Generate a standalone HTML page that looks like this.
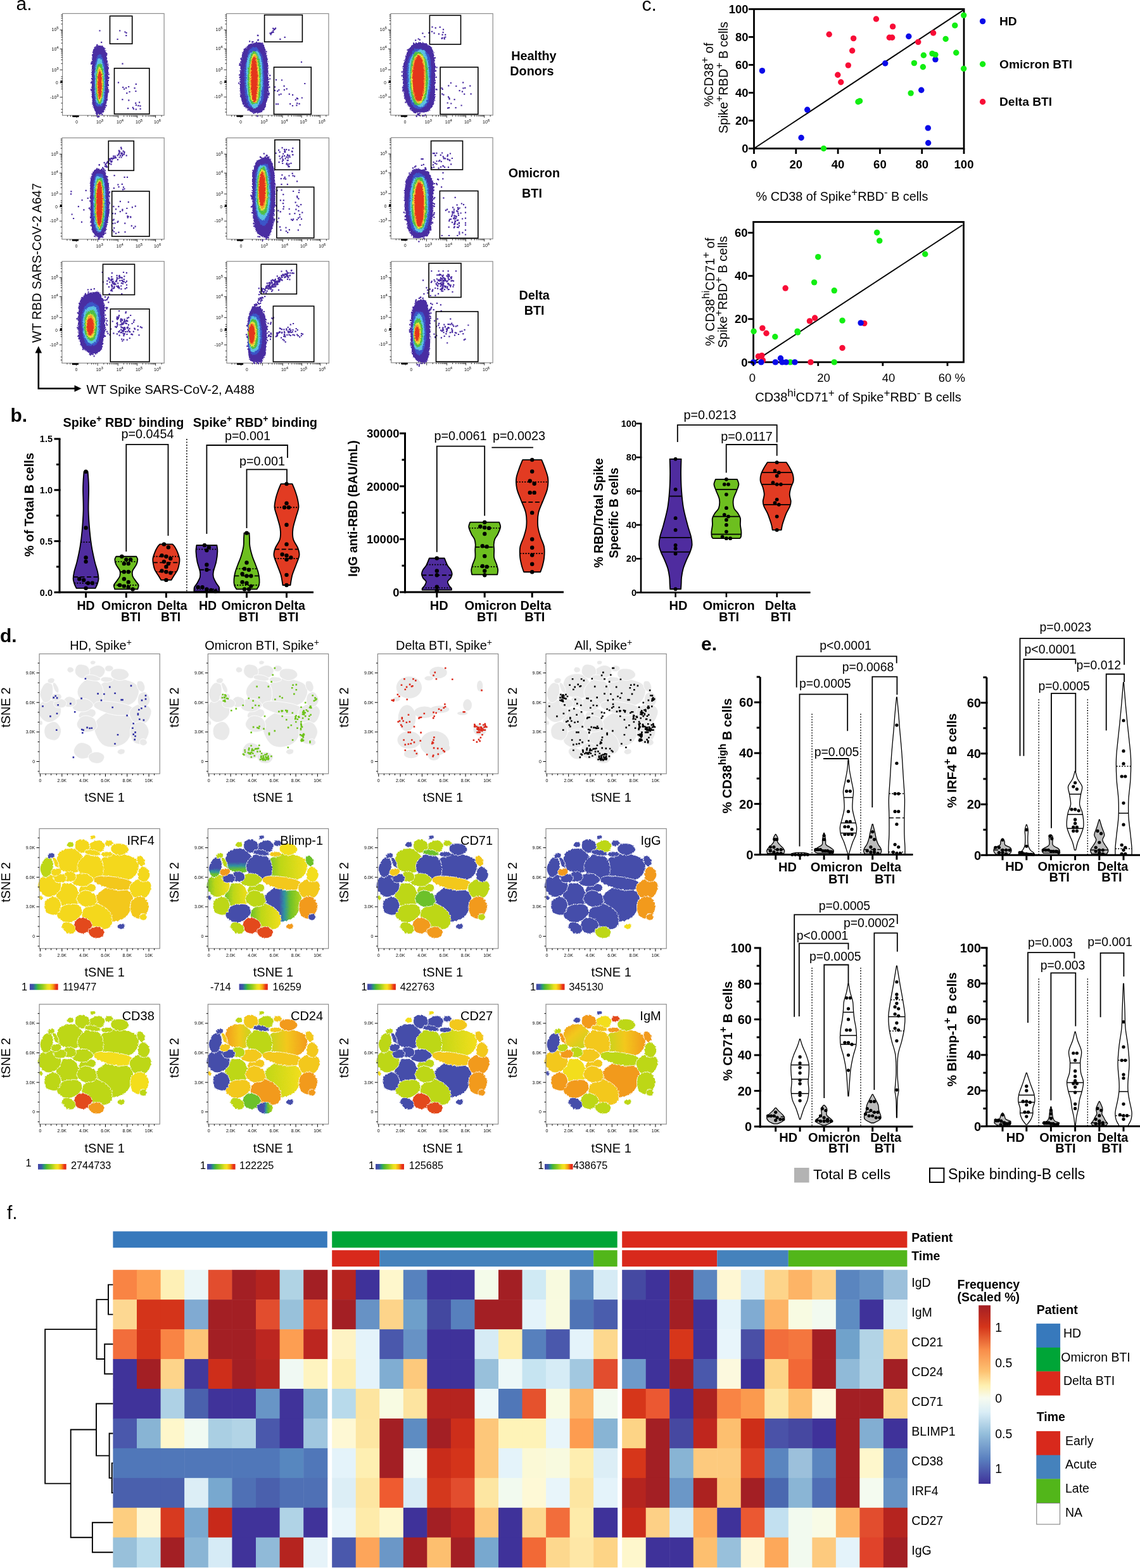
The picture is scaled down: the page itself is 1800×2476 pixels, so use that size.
<!DOCTYPE html><html><head><meta charset="utf-8"><title>Figure</title><style>html,body{margin:0;padding:0;background:#fff}svg{display:block}</style></head><body><svg width="1800" height="2476" viewBox="0 0 1800 2476" font-family="Liberation Sans, Arial, sans-serif"><defs><path id="k35" d="M89.21 92.91C89.27 93.83 89.19 94.8 88.75 95.71C88.31 96.61 87.45 97.52 86.56 98.34C85.67 99.16 84.57 99.89 83.41 100.6C82.24 101.32 80.99 102.11 79.56 102.62C78.13 103.14 76.36 103.58 74.81 103.69C73.26 103.79 71.66 103.53 70.26 103.27C68.86 103 67.6 102.58 66.43 102.09C65.26 101.6 64 101.06 63.25 100.34C62.5 99.61 62.02 98.64 61.95 97.72C61.87 96.8 62.33 95.77 62.8 94.84C63.28 93.9 63.94 92.96 64.82 92.12C65.69 91.29 66.82 90.44 68.07 89.81C69.32 89.18 70.86 88.74 72.31 88.34C73.77 87.95 75.23 87.65 76.78 87.42C78.33 87.19 80.09 86.87 81.63 86.96C83.16 87.04 84.86 87.37 85.98 87.91C87.11 88.46 87.84 89.39 88.38 90.22C88.92 91.06 89.15 92 89.21 92.91Z"/><path id="k23" d="M147.62 118.31C147.04 121.63 145.7 124.68 144.4 127.66C143.1 130.65 141.85 133.69 139.83 136.21C137.81 138.73 135.15 141.1 132.28 142.78C129.42 144.46 126.01 145.52 122.65 146.29C119.28 147.05 115.6 147.7 112.1 147.39C108.6 147.09 104.65 146.2 101.64 144.48C98.64 142.75 96.11 139.79 94.07 137.05C92.02 134.32 90.62 131.2 89.37 128.07C88.13 124.95 86.76 121.62 86.6 118.31C86.44 115 87.02 111.23 88.41 108.22C89.8 105.21 92.5 102.57 94.93 100.26C97.36 97.96 100.11 96.04 103.01 94.41C105.91 92.77 109.05 91.14 112.33 90.45C115.6 89.75 119.27 89.78 122.67 90.22C126.06 90.67 129.47 91.74 132.71 93.14C135.95 94.54 139.56 96.17 142.09 98.61C144.61 101.05 146.94 104.48 147.87 107.76C148.79 111.04 148.2 115 147.62 118.31Z"/><path id="k10b" d="M157.14 61.02C156.87 63.73 155.99 66.41 154.75 68.93C153.5 71.45 152 74.13 149.68 76.15C147.37 78.18 144.07 79.92 140.84 81.1C137.61 82.28 133.87 82.83 130.31 83.24C126.75 83.64 123.01 83.91 119.49 83.51C115.98 83.11 112.21 82.21 109.23 80.85C106.25 79.48 103.84 77.31 101.6 75.29C99.35 73.28 97.42 71.14 95.77 68.76C94.11 66.38 92.09 63.72 91.65 61.02C91.21 58.33 91.71 55.11 93.12 52.59C94.54 50.06 97.45 47.76 100.14 45.86C102.83 43.97 106 42.39 109.24 41.22C112.48 40.05 116.09 39.14 119.57 38.86C123.05 38.59 126.71 39.06 130.13 39.57C133.54 40.09 136.78 40.9 140.06 41.94C143.34 42.98 147.09 44.03 149.8 45.82C152.51 47.62 155.1 50.17 156.32 52.7C157.54 55.24 157.4 58.32 157.14 61.02Z"/><path id="k9" d="M72.53 55.19C72.29 57.27 71.16 59.4 69.89 61.21C68.62 63.03 66.86 64.68 64.92 66.08C62.98 67.48 60.73 68.92 58.24 69.63C55.75 70.35 52.71 70.58 49.98 70.39C47.25 70.21 44.45 69.38 41.84 68.53C39.22 67.67 36.53 66.68 34.29 65.27C32.06 63.86 29.74 62.02 28.45 60.05C27.15 58.08 26.73 55.59 26.53 53.44C26.33 51.3 26.85 49.25 27.25 47.21C27.64 45.17 27.94 43.09 28.91 41.2C29.89 39.31 31.26 37.31 33.11 35.88C34.96 34.44 37.5 33.35 40.01 32.57C42.53 31.79 45.4 31.22 48.2 31.21C51.01 31.2 54.24 31.55 56.81 32.53C59.39 33.52 61.78 35.4 63.63 37.12C65.49 38.84 66.66 40.93 67.94 42.86C69.22 44.8 70.57 46.66 71.33 48.71C72.1 50.77 72.77 53.11 72.53 55.19Z"/><path id="k10a" d="M101.14 61.02C101.26 63.51 101.41 66.14 100.89 68.63C100.37 71.12 99.51 73.99 98.01 75.96C96.51 77.93 94.07 79.47 91.88 80.46C89.68 81.44 87.15 81.67 84.85 81.86C82.54 82.05 80.23 82.06 78.05 81.58C75.87 81.11 73.65 80.22 71.75 79.01C69.85 77.8 68.22 76.08 66.66 74.32C65.1 72.56 63.49 70.68 62.38 68.47C61.27 66.25 60.11 63.55 60 61.02C59.88 58.5 60.66 55.61 61.68 53.31C62.69 51.01 64.47 49.04 66.08 47.2C67.7 45.37 69.4 43.6 71.36 42.32C73.33 41.04 75.64 39.87 77.89 39.5C80.14 39.13 82.64 39.54 84.86 40.09C87.09 40.64 89.24 41.61 91.23 42.79C93.22 43.97 95.31 45.36 96.8 47.18C98.28 49 99.43 51.4 100.15 53.71C100.87 56.02 101.01 58.54 101.14 61.02Z"/><path id="k20" d="M64.15 105.86C64.52 108.18 64.82 110.97 64.21 113.26C63.61 115.54 62.09 117.86 60.52 119.57C58.96 121.28 56.8 122.49 54.82 123.5C52.83 124.52 50.71 125.34 48.61 125.64C46.5 125.93 44.22 125.79 42.2 125.26C40.18 124.73 38.3 123.58 36.49 122.46C34.68 121.35 32.88 120.14 31.35 118.55C29.82 116.97 28.12 115.08 27.28 112.96C26.44 110.85 26.2 108.18 26.32 105.86C26.43 103.54 27.22 101.22 27.97 99.02C28.72 96.82 29.53 94.57 30.8 92.66C32.07 90.76 33.73 88.77 35.61 87.61C37.49 86.44 39.91 85.91 42.08 85.68C44.24 85.45 46.5 85.74 48.58 86.23C50.67 86.72 52.84 87.42 54.6 88.62C56.36 89.81 57.93 91.59 59.16 93.38C60.39 95.16 61.16 97.25 61.99 99.33C62.83 101.41 63.78 103.54 64.15 105.86Z"/><path id="k16" d="M33.29 95.9C32.54 97.66 31.28 99.29 29.95 100.68C28.63 102.07 27.01 103.15 25.33 104.24C23.65 105.32 21.9 106.58 19.88 107.19C17.86 107.81 15.36 108.29 13.2 107.94C11.04 107.6 8.77 106.36 6.95 105.13C5.12 103.89 3.62 102.18 2.26 100.53C0.91 98.89 -0.43 97.13 -1.2 95.25C-1.97 93.36 -2.42 91.18 -2.37 89.22C-2.33 87.25 -1.64 85.27 -0.93 83.45C-0.21 81.63 0.69 79.83 1.91 78.29C3.14 76.76 4.67 75.17 6.44 74.23C8.22 73.29 10.48 72.88 12.55 72.66C14.62 72.45 16.74 72.67 18.87 72.93C21 73.2 23.32 73.41 25.34 74.26C27.37 75.11 29.6 76.42 31.03 78.04C32.46 79.66 33.35 81.95 33.92 83.96C34.49 85.98 34.55 88.12 34.45 90.11C34.34 92.1 34.04 94.14 33.29 95.9Z"/><path id="k22" d="M151.78 90.58C151.84 91.75 151.16 92.96 149.7 93.85C148.24 94.74 145.61 95.38 143.03 95.93C140.45 96.47 137.52 96.93 134.22 97.13C130.93 97.33 127.03 97.47 123.25 97.13C119.48 96.79 115.09 95.95 111.56 95.09C108.03 94.22 104.99 93 102.08 91.93C99.18 90.87 96.48 89.82 94.12 88.67C91.76 87.52 89.31 86.26 87.94 85.04C86.57 83.81 85.96 82.5 85.88 81.32C85.79 80.13 86.27 78.94 87.42 77.94C88.58 76.93 90.24 75.85 92.83 75.29C95.41 74.72 99.33 74.49 102.95 74.54C106.57 74.6 110.78 75.17 114.54 75.62C118.31 76.07 121.91 76.57 125.52 77.24C129.14 77.9 133.08 78.64 136.24 79.61C139.4 80.58 142.3 81.86 144.49 83.06C146.68 84.27 148.17 85.57 149.38 86.82C150.6 88.08 151.73 89.41 151.78 90.58Z"/><path id="k28" d="M114.94 150.48C114.14 152.74 112.53 155.11 110.51 156.55C108.5 157.99 105.46 158.63 102.85 159.13C100.25 159.64 97.56 159.62 94.91 159.58C92.25 159.54 89.52 159.55 86.92 158.87C84.31 158.2 81.53 157.01 79.26 155.52C76.99 154.03 75.03 151.96 73.28 149.93C71.54 147.91 69.85 145.68 68.79 143.34C67.73 141.01 66.89 138.3 66.94 135.93C66.98 133.55 67.98 131.16 69.06 129.08C70.14 127.01 71.69 125.16 73.41 123.48C75.13 121.79 77.03 119.94 79.38 118.97C81.74 118.01 84.8 117.48 87.53 117.69C90.27 117.89 93.23 119.14 95.8 120.21C98.37 121.29 100.71 122.66 102.95 124.15C105.2 125.63 107.53 127.21 109.29 129.13C111.05 131.06 112.49 133.4 113.5 135.7C114.51 138.01 115.09 140.51 115.33 142.97C115.57 145.44 115.75 148.21 114.94 150.48Z"/><path id="k27" d="M67.73 129.75C67.83 131.43 67.7 133.19 67.07 134.8C66.45 136.42 65.27 138.04 63.97 139.43C62.66 140.83 60.94 142 59.23 143.18C57.53 144.36 55.79 145.62 53.72 146.53C51.66 147.43 49.15 148.39 46.83 148.6C44.52 148.81 41.93 148.39 39.83 147.8C37.74 147.21 35.92 146.13 34.25 145.08C32.58 144.03 30.92 142.89 29.82 141.52C28.72 140.14 27.85 138.46 27.65 136.82C27.45 135.19 27.99 133.36 28.61 131.71C29.23 130.06 30.16 128.42 31.36 126.93C32.57 125.44 34.03 123.87 35.82 122.75C37.61 121.63 39.94 120.82 42.11 120.23C44.27 119.65 46.53 119.45 48.8 119.23C51.08 119.02 53.49 118.71 55.77 118.93C58.04 119.16 60.66 119.62 62.44 120.59C64.22 121.56 65.59 123.21 66.47 124.74C67.35 126.27 67.63 128.08 67.73 129.75Z"/><path id="k24" d="M176.65 94.65C176.34 96.44 175.56 98.06 174.88 99.71C174.2 101.36 173.64 103.07 172.58 104.54C171.51 106.01 170.11 107.57 168.47 108.54C166.84 109.5 164.71 110.01 162.75 110.32C160.79 110.63 158.71 110.65 156.72 110.4C154.73 110.15 152.56 109.74 150.82 108.85C149.07 107.95 147.46 106.51 146.25 105.05C145.04 103.58 144.25 101.79 143.57 100.05C142.9 98.32 142.25 96.47 142.18 94.65C142.12 92.83 142.39 90.75 143.19 89.12C143.99 87.48 145.58 86.05 146.99 84.82C148.4 83.6 150.02 82.71 151.65 81.78C153.29 80.86 154.93 79.8 156.79 79.27C158.65 78.74 160.84 78.41 162.82 78.61C164.81 78.8 166.88 79.55 168.68 80.44C170.48 81.32 172.31 82.51 173.65 83.93C174.99 85.36 176.22 87.19 176.72 88.98C177.22 90.76 176.96 92.86 176.65 94.65Z"/><path id="k25" d="M172.98 124.54C172.81 126.47 171.98 128.38 171.27 130.12C170.56 131.85 169.68 133.37 168.72 134.96C167.76 136.54 166.84 138.38 165.49 139.64C164.15 140.9 162.37 142.06 160.65 142.51C158.92 142.95 156.91 142.71 155.14 142.29C153.38 141.87 151.59 141.08 150.08 140.01C148.57 138.93 147.08 137.49 146.09 135.87C145.1 134.24 144.56 132.15 144.14 130.26C143.73 128.37 143.66 126.47 143.6 124.54C143.54 122.61 143.39 120.56 143.8 118.67C144.21 116.78 144.97 114.69 146.06 113.19C147.16 111.68 148.83 110.57 150.37 109.65C151.9 108.72 153.57 108.06 155.27 107.62C156.98 107.17 158.85 106.74 160.58 106.98C162.32 107.21 164.19 108 165.69 109.05C167.19 110.11 168.49 111.71 169.59 113.29C170.69 114.87 171.72 116.66 172.29 118.53C172.85 120.41 173.15 122.61 172.98 124.54Z"/><path id="k21" d="M90.77 110.84C91.04 112.33 91.39 114.05 90.97 115.54C90.54 117.03 89.48 118.66 88.2 119.77C86.91 120.89 84.95 121.63 83.24 122.24C81.53 122.86 79.72 123.25 77.92 123.46C76.13 123.66 74.22 123.77 72.49 123.49C70.76 123.2 69.03 122.51 67.53 121.74C66.03 120.98 64.7 119.98 63.47 118.91C62.25 117.84 60.94 116.66 60.21 115.32C59.47 113.97 59.02 112.32 59.06 110.84C59.11 109.36 59.83 107.84 60.5 106.45C61.16 105.06 61.99 103.72 63.06 102.48C64.13 101.25 65.35 99.86 66.89 99.03C68.44 98.21 70.51 97.67 72.35 97.53C74.19 97.38 76.17 97.78 77.94 98.17C79.7 98.57 81.42 99.13 82.92 99.9C84.42 100.67 85.87 101.65 86.94 102.77C88.01 103.9 88.69 105.28 89.33 106.63C89.97 107.97 90.5 109.35 90.77 110.84Z"/><path id="k19" d="M85.22 80.95C85.16 82.08 84.35 83.28 83.52 84.31C82.7 85.33 81.47 86.2 80.28 87.09C79.08 87.98 77.92 88.95 76.36 89.66C74.79 90.37 72.84 91.07 70.89 91.34C68.93 91.62 66.64 91.53 64.62 91.31C62.61 91.09 60.54 90.63 58.8 90.01C57.06 89.39 55.3 88.56 54.17 87.61C53.04 86.66 52.43 85.4 52.03 84.29C51.63 83.18 51.78 82.06 51.78 80.95C51.78 79.84 51.64 78.72 52.04 77.61C52.43 76.5 53.02 75.22 54.16 74.29C55.3 73.35 57.14 72.56 58.9 71.99C60.65 71.42 62.71 71.07 64.71 70.86C66.7 70.64 68.87 70.5 70.84 70.7C72.82 70.9 74.88 71.42 76.53 72.06C78.19 72.71 79.54 73.66 80.77 74.57C81.99 75.48 83.16 76.45 83.91 77.51C84.65 78.58 85.28 79.82 85.22 80.95Z"/><path id="k18" d="M58.19 75.97C58.24 76.99 58.22 78.13 57.83 79.08C57.43 80.04 56.69 81.04 55.83 81.71C54.97 82.38 53.73 82.76 52.67 83.12C51.61 83.48 50.57 83.68 49.48 83.87C48.4 84.07 47.27 84.34 46.15 84.29C45.03 84.23 43.79 83.99 42.77 83.55C41.74 83.11 40.79 82.39 39.99 81.64C39.19 80.9 38.4 80.01 37.96 79.06C37.51 78.12 37.23 76.97 37.32 75.97C37.4 74.96 37.95 73.93 38.47 73.03C38.98 72.14 39.68 71.35 40.4 70.59C41.13 69.83 41.87 69.01 42.82 68.47C43.77 67.94 44.98 67.52 46.1 67.4C47.22 67.27 48.45 67.5 49.56 67.71C50.67 67.92 51.74 68.24 52.76 68.68C53.78 69.12 54.88 69.63 55.67 70.34C56.47 71.05 57.11 72.01 57.53 72.95C57.95 73.89 58.14 74.95 58.19 75.97Z"/><path id="k17" d="M43.18 78.46C43.11 79.29 42.68 80.12 42.25 80.88C41.82 81.65 41.31 82.41 40.6 83.06C39.9 83.7 39.01 84.37 38.02 84.75C37.03 85.14 35.77 85.28 34.64 85.36C33.52 85.43 32.41 85.31 31.28 85.2C30.16 85.09 28.97 85.03 27.89 84.72C26.81 84.41 25.62 83.96 24.81 83.34C24 82.73 23.42 81.85 23.05 81.04C22.68 80.22 22.53 79.31 22.58 78.46C22.62 77.61 22.84 76.7 23.33 75.96C23.82 75.21 24.69 74.54 25.51 74C26.34 73.45 27.32 73.09 28.28 72.68C29.23 72.27 30.16 71.8 31.24 71.54C32.32 71.28 33.61 71.03 34.75 71.11C35.9 71.19 37.13 71.59 38.13 72.03C39.13 72.47 40.01 73.12 40.76 73.77C41.52 74.41 42.26 75.14 42.67 75.93C43.07 76.71 43.25 77.63 43.18 78.46Z"/><path id="k12" d="M21.27 63.56C20.98 65.33 20.59 67.37 19.86 69.02C19.12 70.66 17.97 72.26 16.86 73.45C15.75 74.63 14.42 75.54 13.17 76.15C11.92 76.75 10.55 77.19 9.38 77.09C8.2 76.98 7.05 76.32 6.13 75.52C5.22 74.71 4.58 73.41 3.9 72.26C3.23 71.1 2.57 69.98 2.1 68.58C1.63 67.18 1.12 65.56 1.09 63.86C1.07 62.16 1.45 60.13 1.95 58.38C2.46 56.64 3.29 54.95 4.12 53.38C4.94 51.81 5.85 50.2 6.9 48.96C7.96 47.72 9.24 46.57 10.45 45.96C11.67 45.35 13 45.27 14.19 45.32C15.38 45.37 16.56 45.68 17.59 46.28C18.62 46.87 19.69 47.69 20.36 48.87C21.03 50.06 21.41 51.8 21.62 53.39C21.83 54.99 21.68 56.74 21.62 58.43C21.56 60.12 21.57 61.8 21.27 63.56Z"/><path id="k26" d="M34.23 124.36C33.94 126.1 33.26 127.85 32.49 129.43C31.71 131.02 30.77 132.69 29.57 133.86C28.38 135.03 26.81 136.02 25.34 136.45C23.87 136.87 22.22 136.58 20.78 136.39C19.33 136.2 18.04 135.75 16.68 135.29C15.33 134.82 13.86 134.47 12.65 133.6C11.44 132.73 10.22 131.49 9.43 130.08C8.63 128.66 8.17 126.85 7.9 125.12C7.63 123.39 7.52 121.46 7.8 119.7C8.08 117.93 8.68 115.99 9.57 114.52C10.46 113.05 11.87 111.86 13.14 110.87C14.42 109.88 15.8 109.22 17.2 108.58C18.59 107.94 20.04 107.21 21.51 107.06C22.97 106.9 24.63 107.06 25.98 107.64C27.32 108.23 28.51 109.44 29.57 110.56C30.63 111.68 31.55 112.96 32.33 114.37C33.11 115.78 33.93 117.35 34.24 119.01C34.56 120.68 34.52 122.62 34.23 124.36Z"/><path id="k5" d="M141.5 32.38C141.61 33.45 141.33 34.68 140.71 35.68C140.09 36.68 138.89 37.57 137.78 38.38C136.67 39.19 135.45 39.95 134.05 40.56C132.66 41.17 131.05 41.83 129.42 42.04C127.78 42.25 125.84 42.13 124.24 41.83C122.65 41.53 121.17 40.85 119.84 40.24C118.5 39.62 117.25 38.95 116.22 38.16C115.19 37.37 114.23 36.46 113.65 35.5C113.08 34.53 112.88 33.44 112.79 32.38C112.7 31.32 112.73 30.21 113.09 29.13C113.45 28.05 113.94 26.8 114.95 25.9C115.96 25.01 117.6 24.21 119.17 23.77C120.73 23.33 122.65 23.3 124.33 23.25C126 23.2 127.62 23.28 129.21 23.48C130.8 23.67 132.47 23.92 133.85 24.42C135.24 24.93 136.51 25.71 137.54 26.51C138.57 27.31 139.4 28.26 140.06 29.24C140.72 30.22 141.4 31.31 141.5 32.38Z"/><path id="k3" d="M103.92 26.21C104.05 27.29 103.73 28.45 103.37 29.55C103 30.65 102.47 31.74 101.73 32.81C100.99 33.88 100.17 35.1 98.95 35.97C97.73 36.85 96.03 37.65 94.43 38.08C92.83 38.52 91 38.56 89.34 38.59C87.69 38.63 86.05 38.55 84.5 38.29C82.95 38.03 81.25 37.69 80.04 37.04C78.82 36.39 77.83 35.37 77.2 34.38C76.57 33.39 76.36 32.2 76.24 31.09C76.12 29.98 76.11 28.81 76.48 27.71C76.85 26.6 77.55 25.43 78.45 24.45C79.36 23.47 80.68 22.64 81.94 21.84C83.19 21.03 84.51 20.25 86.01 19.62C87.52 18.98 89.28 18.24 90.97 18.03C92.65 17.82 94.62 17.98 96.12 18.38C97.62 18.78 98.9 19.66 99.98 20.45C101.06 21.24 101.97 22.14 102.62 23.1C103.28 24.06 103.8 25.14 103.92 26.21Z"/><path id="k2" d="M79.69 27.4C79.79 28.72 79.68 30.24 79.18 31.46C78.68 32.68 77.63 33.8 76.67 34.71C75.7 35.62 74.53 36.28 73.38 36.92C72.23 37.55 71.03 38.24 69.76 38.52C68.48 38.81 66.99 38.89 65.73 38.61C64.46 38.34 63.23 37.58 62.15 36.87C61.07 36.17 60.11 35.31 59.25 34.37C58.39 33.43 57.5 32.39 56.99 31.23C56.48 30.06 56.23 28.69 56.2 27.4C56.16 26.11 56.41 24.77 56.78 23.5C57.15 22.22 57.61 20.82 58.42 19.75C59.23 18.68 60.42 17.62 61.65 17.07C62.87 16.53 64.45 16.49 65.78 16.48C67.11 16.47 68.37 16.77 69.62 17.03C70.87 17.29 72.14 17.5 73.28 18.04C74.42 18.58 75.58 19.34 76.46 20.26C77.33 21.18 78.02 22.37 78.55 23.56C79.09 24.75 79.58 26.08 79.69 27.4Z"/><path id="k15" d="M174.84 72.23C174.89 73.52 174.57 74.95 174.15 76.17C173.73 77.38 173.04 78.5 172.32 79.54C171.6 80.57 170.79 81.64 169.83 82.37C168.86 83.1 167.66 83.68 166.51 83.91C165.37 84.13 164.11 83.96 162.95 83.72C161.79 83.48 160.6 83.09 159.56 82.46C158.52 81.83 157.4 80.98 156.71 79.93C156.01 78.87 155.61 77.4 155.39 76.12C155.16 74.84 155.31 73.51 155.35 72.23C155.4 70.96 155.41 69.71 155.67 68.46C155.93 67.22 156.28 65.83 156.92 64.74C157.57 63.66 158.55 62.7 159.54 61.97C160.54 61.24 161.72 60.68 162.89 60.39C164.06 60.09 165.41 59.93 166.57 60.22C167.72 60.51 168.9 61.29 169.82 62.12C170.73 62.95 171.38 64.13 172.05 65.18C172.72 66.24 173.36 67.26 173.83 68.44C174.29 69.61 174.78 70.94 174.84 72.23Z"/><path id="k29" d="M83.55 153.18C83.75 154.7 83.93 156.45 83.46 157.93C82.99 159.41 81.96 161 80.74 162.07C79.52 163.14 77.69 163.77 76.13 164.33C74.57 164.88 72.98 165.18 71.38 165.4C69.79 165.63 68.13 165.87 66.55 165.67C64.98 165.47 63.33 164.92 61.94 164.21C60.54 163.49 59.3 162.45 58.18 161.37C57.06 160.28 55.91 159.06 55.23 157.7C54.56 156.34 54.08 154.68 54.11 153.18C54.15 151.69 54.8 150.13 55.44 148.74C56.08 147.34 56.94 146.04 57.96 144.83C58.97 143.62 60.1 142.29 61.51 141.49C62.92 140.69 64.77 140.16 66.43 140.05C68.08 139.93 69.84 140.4 71.42 140.8C72.99 141.21 74.47 141.76 75.85 142.47C77.24 143.18 78.67 144 79.74 145.06C80.81 146.11 81.64 147.47 82.27 148.83C82.91 150.18 83.36 151.67 83.55 153.18Z"/><path id="k30" d="M102.75 163.77C102.63 164.86 102.05 165.93 101.52 166.95C100.99 167.96 100.42 168.98 99.57 169.84C98.72 170.7 97.64 171.6 96.42 172.12C95.2 172.64 93.63 172.86 92.24 172.95C90.85 173.04 89.43 172.88 88.08 172.67C86.73 172.46 85.34 172.2 84.15 171.71C82.96 171.21 81.82 170.48 80.93 169.68C80.05 168.88 79.41 167.9 78.83 166.92C78.26 165.93 77.65 164.87 77.46 163.77C77.27 162.67 77.21 161.35 77.7 160.3C78.19 159.26 79.32 158.25 80.4 157.52C81.49 156.78 82.91 156.33 84.19 155.9C85.47 155.46 86.75 155.08 88.09 154.9C89.42 154.72 90.86 154.65 92.19 154.82C93.51 154.99 94.82 155.43 96.05 155.91C97.27 156.4 98.5 156.98 99.53 157.73C100.55 158.47 101.66 159.4 102.2 160.4C102.73 161.41 102.86 162.68 102.75 163.77Z"/><path id="k31" d="M56.84 162.82C56.41 163.72 55.65 164.58 54.76 165.15C53.87 165.72 52.67 166.03 51.53 166.24C50.38 166.46 49.12 166.58 47.88 166.44C46.63 166.3 45.22 165.96 44.06 165.39C42.9 164.82 41.83 163.86 40.9 163.01C39.97 162.16 39.26 161.22 38.5 160.28C37.73 159.33 36.84 158.38 36.3 157.32C35.77 156.27 35.29 155.01 35.28 153.94C35.26 152.88 35.69 151.8 36.21 150.91C36.74 150.03 37.52 149.22 38.42 148.64C39.32 148.06 40.45 147.56 41.61 147.42C42.78 147.27 44.18 147.5 45.41 147.77C46.64 148.04 47.81 148.56 48.99 149.04C50.17 149.53 51.4 149.97 52.48 150.67C53.57 151.37 54.76 152.27 55.52 153.24C56.27 154.21 56.73 155.43 57.04 156.51C57.35 157.6 57.41 158.69 57.38 159.74C57.35 160.8 57.28 161.92 56.84 162.82Z"/><path id="k6" d="M96.68 40.24C96.53 40.7 95.91 41.1 95.3 41.45C94.69 41.81 93.96 42.13 93.02 42.36C92.07 42.58 90.92 42.78 89.65 42.81C88.37 42.83 86.83 42.7 85.38 42.53C83.92 42.37 82.42 42.12 80.93 41.82C79.45 41.52 77.76 41.17 76.45 40.71C75.14 40.25 73.83 39.62 73.06 39.06C72.29 38.5 72.05 37.87 71.84 37.34C71.63 36.8 71.69 36.32 71.82 35.85C71.95 35.39 72.11 34.91 72.62 34.55C73.13 34.18 73.95 33.87 74.89 33.65C75.82 33.43 76.98 33.29 78.23 33.21C79.47 33.13 80.89 33.05 82.36 33.18C83.84 33.3 85.61 33.57 87.05 33.94C88.49 34.31 89.84 34.89 90.99 35.4C92.14 35.91 93.08 36.45 93.95 36.99C94.82 37.53 95.75 38.1 96.2 38.64C96.66 39.18 96.83 39.77 96.68 40.24Z"/><path id="k7" d="M116.17 40.48C116.24 40.99 116.1 41.59 115.64 42.05C115.19 42.51 114.26 42.92 113.44 43.25C112.62 43.58 111.65 43.8 110.72 44.03C109.79 44.25 108.88 44.5 107.87 44.62C106.86 44.74 105.7 44.8 104.67 44.73C103.63 44.65 102.6 44.42 101.68 44.17C100.75 43.92 99.87 43.61 99.13 43.25C98.39 42.89 97.64 42.46 97.25 42C96.86 41.53 96.75 40.98 96.79 40.48C96.82 39.97 97.13 39.47 97.47 38.99C97.82 38.51 98.22 38 98.88 37.6C99.54 37.2 100.47 36.8 101.44 36.59C102.41 36.38 103.65 36.35 104.71 36.34C105.77 36.32 106.79 36.4 107.81 36.49C108.83 36.57 109.88 36.64 110.82 36.84C111.77 37.04 112.73 37.34 113.46 37.69C114.2 38.05 114.79 38.51 115.24 38.97C115.69 39.43 116.1 39.96 116.17 40.48Z"/><path id="k14" d="M34.88 66.31C35.09 66.93 35.27 67.63 35.13 68.3C34.99 68.98 34.56 69.72 34.05 70.36C33.55 71 32.83 71.58 32.11 72.15C31.39 72.71 30.63 73.32 29.74 73.76C28.85 74.2 27.74 74.64 26.75 74.77C25.76 74.91 24.66 74.78 23.78 74.59C22.89 74.4 22.14 74.01 21.46 73.64C20.77 73.26 20.12 72.86 19.67 72.36C19.21 71.86 18.88 71.25 18.72 70.64C18.56 70.03 18.61 69.36 18.7 68.68C18.79 68.01 18.88 67.29 19.24 66.59C19.6 65.9 20.13 65.09 20.87 64.52C21.61 63.95 22.71 63.49 23.69 63.18C24.66 62.88 25.72 62.78 26.71 62.68C27.69 62.59 28.67 62.51 29.58 62.6C30.49 62.69 31.44 62.88 32.15 63.21C32.87 63.54 33.41 64.08 33.87 64.59C34.33 65.11 34.68 65.69 34.88 66.31Z"/><path id="k11" d="M165.96 49.02C166.34 50.07 166.69 51.24 166.79 52.27C166.9 53.3 166.79 54.37 166.59 55.23C166.39 56.09 165.98 56.76 165.61 57.42C165.24 58.09 164.87 58.74 164.37 59.2C163.87 59.67 163.27 60.12 162.61 60.19C161.95 60.25 161.15 59.95 160.44 59.59C159.72 59.22 159.02 58.62 158.34 58.02C157.66 57.41 156.94 56.78 156.35 55.96C155.75 55.14 155.14 54.12 154.75 53.1C154.36 52.09 154.15 50.92 154.02 49.87C153.89 48.81 153.86 47.73 153.98 46.79C154.1 45.85 154.33 44.87 154.74 44.24C155.14 43.61 155.8 43.24 156.4 42.99C157 42.75 157.67 42.79 158.32 42.75C158.97 42.71 159.6 42.59 160.3 42.75C160.99 42.91 161.81 43.14 162.51 43.69C163.21 44.23 163.92 45.13 164.5 46.02C165.08 46.91 165.58 47.98 165.96 49.02Z"/><path id="k13" d="M29.33 52.05C29.76 52.92 30.22 53.94 30.47 54.82C30.73 55.7 30.81 56.59 30.86 57.35C30.9 58.1 30.82 58.74 30.73 59.36C30.63 59.98 30.55 60.65 30.31 61.07C30.06 61.48 29.7 61.81 29.26 61.86C28.82 61.9 28.24 61.66 27.69 61.34C27.14 61.03 26.53 60.57 25.95 59.97C25.38 59.38 24.74 58.59 24.25 57.77C23.75 56.94 23.32 55.91 22.97 55.01C22.62 54.12 22.39 53.27 22.13 52.4C21.87 51.53 21.56 50.63 21.4 49.79C21.24 48.95 21.1 48 21.17 47.34C21.23 46.69 21.5 46.19 21.81 45.86C22.11 45.52 22.53 45.35 22.98 45.32C23.43 45.3 23.97 45.38 24.51 45.72C25.06 46.05 25.7 46.68 26.25 47.33C26.81 47.97 27.34 48.8 27.86 49.59C28.37 50.37 28.89 51.18 29.33 52.05Z"/><path id="k1" d="M54.34 25.16C54.35 25.71 54.29 26.31 54.08 26.82C53.86 27.32 53.47 27.83 53.04 28.19C52.62 28.54 52.03 28.76 51.51 28.97C50.99 29.18 50.48 29.34 49.93 29.46C49.39 29.58 48.79 29.74 48.23 29.69C47.67 29.65 47.05 29.46 46.56 29.19C46.07 28.93 45.65 28.5 45.28 28.09C44.91 27.69 44.56 27.24 44.33 26.75C44.1 26.26 43.91 25.69 43.9 25.16C43.9 24.62 44.08 24.05 44.3 23.55C44.51 23.05 44.84 22.58 45.2 22.16C45.57 21.74 46.01 21.3 46.51 21.04C47.02 20.79 47.66 20.65 48.23 20.62C48.8 20.6 49.38 20.78 49.92 20.9C50.46 21.03 50.97 21.17 51.49 21.38C52 21.59 52.58 21.81 53 22.16C53.42 22.52 53.79 23.02 54.01 23.52C54.24 24.02 54.33 24.61 54.34 25.16Z"/><path id="k4" d="M116.92 23.04C116.92 23.64 116.69 24.31 116.33 24.83C115.97 25.35 115.32 25.76 114.77 26.15C114.22 26.53 113.66 26.84 113.05 27.13C112.44 27.43 111.81 27.77 111.12 27.91C110.43 28.06 109.62 28.1 108.89 28.02C108.17 27.94 107.43 27.7 106.77 27.43C106.1 27.15 105.41 26.82 104.9 26.39C104.39 25.95 103.92 25.39 103.7 24.83C103.47 24.27 103.49 23.62 103.54 23.04C103.59 22.46 103.75 21.88 103.98 21.33C104.21 20.77 104.47 20.17 104.94 19.72C105.4 19.27 106.09 18.87 106.76 18.64C107.42 18.4 108.22 18.36 108.95 18.3C109.67 18.24 110.38 18.23 111.09 18.29C111.81 18.35 112.59 18.43 113.25 18.68C113.91 18.92 114.55 19.32 115.06 19.75C115.57 20.17 116 20.71 116.31 21.26C116.62 21.8 116.92 22.44 116.92 23.04Z"/><path id="k8" d="M23.94 40.42C24.11 40.88 24.09 41.45 24.03 41.97C23.96 42.49 23.77 43.02 23.54 43.53C23.32 44.04 23.06 44.59 22.65 45.03C22.24 45.47 21.66 45.9 21.08 46.15C20.5 46.41 19.8 46.48 19.2 46.55C18.59 46.61 18.01 46.59 17.43 46.55C16.86 46.5 16.26 46.45 15.75 46.27C15.24 46.09 14.75 45.8 14.37 45.46C13.99 45.12 13.68 44.69 13.45 44.24C13.21 43.78 12.98 43.26 12.98 42.73C12.98 42.21 13.13 41.58 13.43 41.08C13.74 40.59 14.31 40.14 14.81 39.77C15.31 39.39 15.86 39.11 16.41 38.84C16.96 38.56 17.51 38.27 18.1 38.11C18.68 37.96 19.34 37.89 19.92 37.93C20.5 37.97 21.07 38.17 21.58 38.37C22.09 38.58 22.6 38.84 22.99 39.18C23.39 39.52 23.77 39.95 23.94 40.42Z"/><path id="k0" d="M88.87 13.7C88.8 14.06 88.55 14.4 88.35 14.72C88.15 15.04 87.95 15.35 87.67 15.63C87.39 15.92 87.07 16.22 86.67 16.42C86.28 16.62 85.78 16.77 85.29 16.85C84.8 16.94 84.27 16.98 83.76 16.94C83.25 16.9 82.67 16.82 82.23 16.64C81.79 16.45 81.38 16.12 81.12 15.81C80.85 15.49 80.75 15.09 80.63 14.74C80.51 14.39 80.42 14.05 80.4 13.7C80.38 13.35 80.36 12.96 80.5 12.62C80.64 12.28 80.93 11.95 81.25 11.67C81.57 11.4 81.99 11.18 82.41 10.99C82.83 10.8 83.29 10.61 83.77 10.53C84.26 10.45 84.81 10.43 85.3 10.5C85.79 10.56 86.27 10.75 86.7 10.94C87.14 11.13 87.56 11.35 87.9 11.62C88.25 11.89 88.62 12.22 88.78 12.56C88.94 12.91 88.94 13.34 88.87 13.7Z"/><path id="k32" d="M135.04 152.89C135.14 153.37 135.11 153.88 135.04 154.39C134.97 154.9 134.9 155.46 134.62 155.96C134.34 156.46 133.88 156.99 133.35 157.39C132.82 157.79 132.11 158.11 131.45 158.36C130.79 158.61 130.06 158.81 129.38 158.89C128.69 158.97 127.94 158.96 127.34 158.83C126.73 158.7 126.21 158.38 125.74 158.1C125.27 157.81 124.92 157.48 124.54 157.13C124.15 156.78 123.69 156.44 123.45 155.99C123.21 155.55 123.03 154.99 123.1 154.47C123.17 153.95 123.52 153.37 123.88 152.88C124.25 152.39 124.75 151.91 125.29 151.52C125.83 151.12 126.47 150.74 127.12 150.5C127.78 150.27 128.53 150.17 129.2 150.12C129.87 150.08 130.51 150.16 131.15 150.23C131.78 150.31 132.45 150.38 133 150.59C133.55 150.79 134.13 151.1 134.47 151.48C134.81 151.87 134.95 152.4 135.04 152.89Z"/><path id="k33" d="M170.23 139.48C170.3 140.07 170.17 140.75 169.92 141.3C169.67 141.86 169.18 142.36 168.71 142.81C168.25 143.27 167.74 143.7 167.15 144.03C166.56 144.36 165.87 144.67 165.18 144.78C164.49 144.89 163.71 144.81 163.03 144.67C162.34 144.54 161.68 144.28 161.08 143.97C160.48 143.67 159.86 143.3 159.43 142.84C159.01 142.38 158.7 141.78 158.53 141.22C158.37 140.66 158.43 140.06 158.44 139.48C158.45 138.91 158.46 138.35 158.59 137.77C158.73 137.19 158.88 136.51 159.26 136C159.65 135.5 160.27 135.02 160.89 134.72C161.52 134.42 162.3 134.28 163.01 134.2C163.72 134.12 164.49 134.12 165.17 134.26C165.85 134.4 166.54 134.68 167.09 135.03C167.64 135.37 168.05 135.88 168.46 136.34C168.86 136.8 169.22 137.27 169.52 137.79C169.81 138.31 170.17 138.9 170.23 139.48Z"/><path id="k34" d="M5.31 108.97C5.34 109.37 5.28 109.81 5.19 110.21C5.1 110.6 4.95 111 4.75 111.35C4.56 111.7 4.32 112.09 4.03 112.31C3.74 112.54 3.35 112.67 3.01 112.69C2.67 112.71 2.32 112.55 2 112.43C1.68 112.3 1.4 112.14 1.11 111.95C0.83 111.75 0.53 111.55 0.31 111.26C0.09 110.97 -0.09 110.58 -0.2 110.2C-0.31 109.81 -0.34 109.38 -0.35 108.97C-0.36 108.56 -0.35 108.12 -0.25 107.72C-0.16 107.33 0.01 106.91 0.22 106.59C0.44 106.28 0.75 106.04 1.04 105.84C1.33 105.64 1.65 105.48 1.98 105.38C2.31 105.29 2.68 105.19 3.01 105.26C3.34 105.33 3.69 105.54 3.95 105.79C4.22 106.04 4.4 106.43 4.59 106.77C4.77 107.1 4.92 107.44 5.04 107.81C5.16 108.18 5.29 108.57 5.31 108.97Z"/><linearGradient id="gBG" x1="0" y1="0" x2="1" y2="0"><stop offset="0" stop-color="#444eaa"/><stop offset="0.42" stop-color="#444eaa"/><stop offset="0.55" stop-color="#2f93a0"/><stop offset="0.7" stop-color="#6cc12a"/><stop offset="1" stop-color="#bdd719"/></linearGradient><linearGradient id="gBGv" x1="0" y1="0" x2="0" y2="1"><stop offset="0" stop-color="#444eaa"/><stop offset="0.55" stop-color="#444eaa"/><stop offset="0.7" stop-color="#2f93a0"/><stop offset="0.85" stop-color="#6cc12a"/><stop offset="1" stop-color="#6cc12a"/></linearGradient><linearGradient id="gGY" x1="0" y1="0" x2="1" y2="0"><stop offset="0" stop-color="#6cc12a"/><stop offset="0.35" stop-color="#bdd719"/><stop offset="1" stop-color="#f3de1a"/></linearGradient><linearGradient id="gOYG" x1="0" y1="0" x2="1" y2="1"><stop offset="0" stop-color="#f29a1f"/><stop offset="0.4" stop-color="#f3c81f"/><stop offset="1" stop-color="#bdd719"/></linearGradient><linearGradient id="gYGO" x1="0" y1="0" x2="1" y2="0"><stop offset="0" stop-color="#bdd719"/><stop offset="0.5" stop-color="#f3c81f"/><stop offset="1" stop-color="#f29a1f"/></linearGradient><linearGradient id="gYGY" x1="0" y1="0" x2="1" y2="0"><stop offset="0" stop-color="#bdd719"/><stop offset="1" stop-color="#f3de1a"/></linearGradient><linearGradient id="gYOO" x1="0" y1="0" x2="1" y2="0"><stop offset="0" stop-color="#f29a1f"/><stop offset="0.5" stop-color="#f3c81f"/><stop offset="1" stop-color="#bdd719"/></linearGradient><linearGradient id="gYGYO" x1="0" y1="0" x2="1" y2="0"><stop offset="0" stop-color="#bdd719"/><stop offset="0.5" stop-color="#f3c81f"/><stop offset="1" stop-color="#f29a1f"/></linearGradient><linearGradient id="cbar" x1="0" y1="0" x2="1" y2="0"><stop offset="0" stop-color="#4545a8"/><stop offset="0.12" stop-color="#3a58a8"/><stop offset="0.22" stop-color="#2aa070"/><stop offset="0.3" stop-color="#50b830"/><stop offset="0.45" stop-color="#90cc20"/><stop offset="0.62" stop-color="#e8e020"/><stop offset="0.7" stop-color="#f8e020"/><stop offset="0.82" stop-color="#f5a010"/><stop offset="0.93" stop-color="#e83018"/><stop offset="1" stop-color="#e02818"/></linearGradient><filter id="rough" x="-20%" y="-20%" width="140%" height="140%"><feTurbulence type="fractalNoise" baseFrequency="0.55" numOctaves="2" seed="3" result="n"/><feDisplacementMap in="SourceGraphic" in2="n" scale="4" xChannelSelector="R" yChannelSelector="G"/></filter><filter id="rough2" x="-5%" y="-5%" width="110%" height="110%"><feTurbulence type="fractalNoise" baseFrequency="0.35" numOctaves="2" seed="8" result="n"/><feDisplacementMap in="SourceGraphic" in2="n" scale="3.5" xChannelSelector="R" yChannelSelector="G"/></filter></defs><rect width="1800" height="2476" fill="#fff"/><text x="25.5" y="15.8" font-size="30">a.</text><rect x="98.6" y="21.4" width="160.5" height="160.8" fill="none" stroke="#8c8c8c" stroke-width="1.2"/><text x="92.6" y="49.43" font-size="7" text-anchor="end">10<tspan font-size="5.95" dy="-3">5</tspan></text><text x="92.6" y="79.5" font-size="7" text-anchor="end">10<tspan font-size="5.95" dy="-3">4</tspan></text><text x="92.6" y="112.62" font-size="7" text-anchor="end">10<tspan font-size="5.95" dy="-3">3</tspan></text><text x="91.6" y="133.04" font-size="6.5" text-anchor="end">0</text><text x="92.6" y="155.72" font-size="7" text-anchor="end">-10<tspan font-size="5.95" dy="-3">3</tspan></text><path d="M98.6 47.13h-4M98.6 77.2h-4M98.6 110.32h-4M98.6 130.74h-4M98.6 153.42h-4M98.6 100.35h-2.2M98.6 94.52h-2.2M98.6 90.38h-2.2M98.6 87.17h-2.2M98.6 84.55h-2.2M98.6 82.33h-2.2M98.6 80.41h-2.2M98.6 78.71h-2.2M98.6 68.15h-2.2M98.6 62.85h-2.2M98.6 59.09h-2.2M98.6 56.18h-2.2M98.6 53.8h-2.2M98.6 51.79h-2.2M98.6 50.04h-2.2M98.6 48.5h-2.2M98.6 37.93h-2.2M98.6 32.55h-2.2M98.6 28.73h-2.2M98.6 25.77h-2.2M98.6 23.35h-2.2M98.6 121.1h-2.2M98.6 124.31h-2.2M98.6 127.53h-2.2M98.6 133.96h-2.2M98.6 137.18h-2.2M98.6 140.39h-2.2M98.6 162.9h-2.2M98.6 172.55h-2.2M98.6 177.38h-2.2M121.07 182.2v4M154.61 182.2v4M186.55 182.2v4M216.57 182.2v4M245.62 182.2v4M164.23 182.2v2.2M169.85 182.2v2.2M173.84 182.2v2.2M176.94 182.2v2.2M179.47 182.2v2.2M181.61 182.2v2.2M183.46 182.2v2.2M185.09 182.2v2.2M195.59 182.2v2.2M200.87 182.2v2.2M204.62 182.2v2.2M207.53 182.2v2.2M209.91 182.2v2.2M211.92 182.2v2.2M213.66 182.2v2.2M215.19 182.2v2.2M225.31 182.2v2.2M230.43 182.2v2.2M234.06 182.2v2.2M236.87 182.2v2.2M239.17 182.2v2.2M241.12 182.2v2.2M242.8 182.2v2.2M244.29 182.2v2.2M106.62 182.2v2.2M111.44 182.2v2.2M114.65 182.2v2.2M116.25 182.2v2.2M117.86 182.2v2.2M119.47 182.2v2.2M122.67 182.2v2.2M124.28 182.2v2.2M138.72 182.2v2.2M145.14 182.2v2.2M148.36 182.2v2.2M151.56 182.2v2.2M255.09 182.2v2.2" fill="none" stroke="#000" stroke-width="0.8"/><rect x="95.4" y="127.14" width="3.2" height="4" fill="#000"/><rect x="114.65" y="182.5" width="9.63" height="2.5" fill="#000"/><text x="121.07" y="195.2" font-size="6.5" text-anchor="middle">0</text><text x="157.61" y="195.2" font-size="7" text-anchor="middle">10<tspan font-size="5.95" dy="-3">3</tspan></text><text x="189.55" y="195.2" font-size="7" text-anchor="middle">10<tspan font-size="5.95" dy="-3">4</tspan></text><text x="219.57" y="195.2" font-size="7" text-anchor="middle">10<tspan font-size="5.95" dy="-3">5</tspan></text><text x="248.62" y="195.2" font-size="7" text-anchor="middle">10<tspan font-size="5.95" dy="-3">6</tspan></text><g filter="url(#rough)"><path d="M171.02 125.3C170.99 131.68 170.92 139.35 170.7 144.35C170.48 149.35 170.16 152.34 169.7 155.31C169.25 158.29 168.51 159.96 167.96 162.18C167.41 164.4 166.95 166.45 166.4 168.65C165.85 170.85 165.4 173.67 164.67 175.38C163.94 177.1 163.2 178.07 162 178.93C160.81 179.79 159.02 180.3 157.5 180.52C155.98 180.74 154.1 180.98 152.89 180.25C151.67 179.51 151.02 177.65 150.23 176.1C149.43 174.55 148.79 172.82 148.13 170.95C147.47 169.09 146.72 167.56 146.26 164.92C145.8 162.29 145.56 158.76 145.37 155.14C145.18 151.52 145.2 148.15 145.11 143.18C145.02 138.21 144.84 131.29 144.82 125.3C144.79 119.31 144.88 112.19 144.97 107.23C145.07 102.26 145.22 99.26 145.38 95.5C145.55 91.74 145.6 87.67 145.98 84.68C146.37 81.69 146.99 79.24 147.7 77.56C148.41 75.88 149.35 75.46 150.24 74.58C151.13 73.7 151.84 72.73 153.05 72.28C154.26 71.84 156.03 71.7 157.5 71.92C158.97 72.14 160.65 73.03 161.84 73.6C163.04 74.16 163.83 74.25 164.66 75.3C165.49 76.34 166.23 77.84 166.83 79.86C167.42 81.88 167.76 84.85 168.24 87.43C168.72 90 169.25 92.22 169.69 95.32C170.12 98.43 170.62 101.06 170.84 106.06C171.06 111.05 171.04 118.92 171.02 125.3Z" fill="#4a2da2"/><path d="M166.81 128.66C166.79 132.85 166.57 137.55 166.44 141.16C166.32 144.77 166.26 147.51 166.07 150.32C165.88 153.14 165.67 155.97 165.3 158.07C164.92 160.16 164.36 161.53 163.83 162.87C163.31 164.22 162.76 165.3 162.15 166.15C161.54 166.99 160.97 167.66 160.19 167.93C159.42 168.19 158.4 167.71 157.5 167.76C156.6 167.81 155.6 168.2 154.79 168.23C153.98 168.25 153.26 168.64 152.63 167.89C152 167.15 151.47 165.46 151 163.75C150.53 162.05 150.15 159.91 149.81 157.67C149.46 155.44 149.12 153.1 148.93 150.33C148.73 147.56 148.71 144.65 148.64 141.04C148.57 137.43 148.54 132.81 148.53 128.66C148.51 124.51 148.41 119.6 148.53 116.12C148.65 112.64 148.95 110.25 149.24 107.79C149.53 105.32 149.92 103.48 150.26 101.35C150.6 99.21 150.86 96.86 151.27 94.99C151.68 93.13 152.16 91.5 152.73 90.18C153.29 88.86 153.85 87.88 154.65 87.05C155.44 86.23 156.55 85.19 157.5 85.24C158.45 85.29 159.57 86.24 160.33 87.35C161.09 88.47 161.52 90.51 162.06 91.93C162.6 93.35 163.1 94.37 163.57 95.88C164.03 97.38 164.48 98.97 164.85 100.95C165.21 102.94 165.47 105.29 165.75 107.79C166.04 110.3 166.38 112.53 166.55 116C166.73 119.48 166.82 124.47 166.81 128.66Z" fill="#3b55c8"/><path d="M165.25 129.92C165.28 133.44 165.25 137.54 165.13 140.59C165.02 143.64 164.76 145.81 164.56 148.23C164.35 150.66 164.19 153.1 163.9 155.14C163.62 157.19 163.28 159.23 162.84 160.5C162.4 161.77 161.81 162.16 161.27 162.76C160.74 163.37 160.25 163.74 159.62 164.12C158.99 164.5 158.21 164.98 157.5 165.04C156.79 165.1 156.01 164.7 155.36 164.47C154.71 164.24 154.17 164.21 153.62 163.65C153.07 163.08 152.48 162.51 152.06 161.1C151.64 159.69 151.35 157.35 151.08 155.2C150.82 153.05 150.64 150.65 150.46 148.19C150.27 145.73 150.05 143.5 149.97 140.45C149.88 137.41 149.91 133.39 149.94 129.92C149.97 126.45 150.05 122.66 150.14 119.64C150.24 116.62 150.3 114.08 150.52 111.8C150.73 109.52 151.09 107.73 151.42 105.95C151.74 104.18 152.12 102.83 152.48 101.18C152.85 99.52 153.15 97.42 153.61 96.04C154.06 94.66 154.56 93.52 155.21 92.89C155.86 92.27 156.74 92.24 157.5 92.3C158.26 92.36 159.14 92.47 159.77 93.24C160.4 94.01 160.85 95.5 161.29 96.92C161.73 98.35 162.03 100.26 162.41 101.77C162.79 103.29 163.22 104.34 163.57 106.01C163.92 107.67 164.27 109.51 164.5 111.76C164.73 114.01 164.83 116.47 164.96 119.49C165.08 122.52 165.22 126.4 165.25 129.92Z" fill="#5cc0e2"/><path d="M163.83 131.18C163.85 134.07 163.78 137.42 163.64 139.89C163.49 142.37 163.2 144.13 162.98 146.03C162.76 147.93 162.55 149.69 162.3 151.32C162.05 152.95 161.78 154.47 161.47 155.8C161.16 157.14 160.8 158.15 160.43 159.33C160.06 160.51 159.72 162.04 159.23 162.88C158.74 163.71 158.07 164.41 157.5 164.35C156.93 164.3 156.29 163.29 155.79 162.56C155.29 161.83 154.9 160.97 154.5 159.96C154.11 158.95 153.73 157.92 153.42 156.52C153.11 155.13 152.88 153.3 152.63 151.59C152.39 149.87 152.14 148.19 151.95 146.22C151.76 144.24 151.56 142.23 151.48 139.72C151.41 137.22 151.48 134.01 151.49 131.18C151.51 128.35 151.53 125.37 151.57 122.75C151.6 120.14 151.58 117.68 151.7 115.47C151.83 113.26 152.07 111.25 152.33 109.49C152.59 107.74 152.92 106.21 153.27 104.93C153.62 103.64 154.01 102.41 154.44 101.8C154.87 101.2 155.36 101.35 155.87 101.28C156.38 101.22 156.95 101.45 157.5 101.39C158.05 101.34 158.65 100.8 159.15 100.97C159.65 101.14 160.08 101.66 160.49 102.44C160.9 103.21 161.26 104.42 161.61 105.64C161.97 106.87 162.34 108.09 162.61 109.76C162.87 111.43 163.07 113.52 163.23 115.66C163.38 117.8 163.46 119.99 163.56 122.58C163.66 125.17 163.82 128.29 163.83 131.18Z" fill="#4fbf45"/><path d="M162.31 132.36C162.31 134.66 162.26 137.19 162.17 139.26C162.08 141.33 161.92 143.03 161.77 144.77C161.63 146.52 161.49 148.3 161.29 149.74C161.09 151.18 160.82 152.39 160.55 153.43C160.28 154.46 159.97 155.05 159.67 155.94C159.36 156.84 159.1 158.05 158.74 158.8C158.38 159.55 157.92 160.31 157.5 160.44C157.08 160.58 156.61 160.1 156.23 159.61C155.84 159.13 155.5 158.49 155.19 157.53C154.88 156.58 154.61 155.29 154.38 153.89C154.16 152.49 154.03 150.67 153.85 149.11C153.66 147.56 153.46 146.22 153.29 144.58C153.13 142.94 152.92 141.3 152.83 139.26C152.74 137.23 152.75 134.66 152.75 132.36C152.74 130.05 152.77 127.58 152.82 125.43C152.87 123.28 152.93 121.27 153.07 119.47C153.2 117.67 153.42 116.14 153.63 114.62C153.84 113.1 154.05 111.61 154.31 110.34C154.57 109.06 154.84 107.65 155.17 106.95C155.5 106.26 155.89 106.25 156.28 106.19C156.67 106.14 157.1 106.48 157.5 106.61C157.9 106.75 158.32 106.68 158.69 107C159.05 107.32 159.36 107.91 159.69 108.54C160.01 109.18 160.32 109.89 160.62 110.8C160.93 111.7 161.27 112.58 161.5 114C161.73 115.41 161.89 117.37 162 119.28C162.11 121.18 162.13 123.25 162.18 125.43C162.23 127.61 162.32 130.05 162.31 132.36Z" fill="#e8e03a"/><path d="M161.44 133.11C161.45 135.12 161.45 137.32 161.38 139.16C161.32 141 161.18 142.6 161.04 144.17C160.91 145.74 160.77 147.23 160.6 148.57C160.43 149.92 160.24 151.31 160.01 152.23C159.79 153.15 159.49 153.56 159.22 154.09C158.96 154.62 158.7 154.94 158.42 155.41C158.13 155.89 157.82 156.68 157.5 156.94C157.18 157.21 156.83 157.2 156.52 156.99C156.21 156.77 155.92 156.29 155.65 155.65C155.37 155 155.08 154.27 154.87 153.11C154.66 151.95 154.51 150.25 154.38 148.7C154.24 147.15 154.18 145.43 154.08 143.8C153.97 142.17 153.83 140.71 153.76 138.93C153.69 137.15 153.65 135.05 153.66 133.11C153.66 131.18 153.73 129.15 153.78 127.32C153.83 125.48 153.87 123.73 153.98 122.12C154.08 120.52 154.24 119.01 154.41 117.67C154.58 116.33 154.79 115.27 155 114.09C155.2 112.9 155.4 111.48 155.65 110.56C155.89 109.64 156.18 108.83 156.49 108.57C156.8 108.31 157.17 108.72 157.5 108.98C157.83 109.24 158.16 109.62 158.44 110.14C158.73 110.66 158.99 111.32 159.23 112.12C159.47 112.92 159.66 114.02 159.89 114.96C160.11 115.91 160.36 116.67 160.57 117.8C160.78 118.93 161.01 120.2 161.14 121.75C161.27 123.29 161.32 125.19 161.37 127.09C161.42 128.98 161.44 131.1 161.44 133.11Z" fill="#f29a2c"/><path d="M160.68 133.7C160.66 135.42 160.62 137.22 160.55 138.76C160.47 140.3 160.34 141.56 160.24 142.96C160.14 144.35 160.06 145.74 159.96 147.13C159.85 148.51 159.75 150.15 159.59 151.29C159.43 152.43 159.21 153.26 158.99 153.96C158.77 154.65 158.53 155.11 158.28 155.44C158.04 155.77 157.76 156.04 157.5 155.92C157.24 155.8 156.98 155.21 156.74 154.72C156.5 154.24 156.29 153.67 156.08 153.03C155.86 152.4 155.63 151.88 155.45 150.93C155.27 149.97 155.14 148.6 155.01 147.3C154.89 146 154.81 144.54 154.71 143.13C154.61 141.71 154.49 140.39 154.42 138.82C154.35 137.25 154.3 135.44 154.28 133.7C154.26 131.96 154.27 130.11 154.3 128.39C154.33 126.66 154.34 124.85 154.44 123.36C154.54 121.87 154.72 120.52 154.89 119.45C155.07 118.38 155.31 117.75 155.51 116.96C155.71 116.16 155.89 115.31 156.1 114.66C156.31 114.01 156.52 113.43 156.76 113.08C156.99 112.72 157.25 112.64 157.5 112.52C157.75 112.4 158.03 112.16 158.27 112.36C158.52 112.56 158.76 113.03 158.97 113.74C159.18 114.44 159.35 115.61 159.53 116.59C159.72 117.58 159.91 118.47 160.07 119.63C160.24 120.78 160.41 122.06 160.51 123.53C160.6 125 160.64 126.75 160.67 128.44C160.7 130.14 160.7 131.98 160.68 133.7Z" fill="#e4341e"/></g><path d="M170.1 141.3h2.2v2.2h-2.2zM153.3 174.6h2.2v2.2h-2.2zM166.0 160.4h2.2v2.2h-2.2zM161.5 76.3h2.2v2.2h-2.2zM144.4 96.2h2.2v2.2h-2.2zM147.0 164.5h2.2v2.2h-2.2zM167.8 143.8h2.2v2.2h-2.2zM160.2 179.5h2.2v2.2h-2.2zM144.8 147.8h2.2v2.2h-2.2zM145.0 95.9h2.2v2.2h-2.2zM152.0 180.0h2.2v2.2h-2.2zM152.4 73.9h2.2v2.2h-2.2zM144.4 99.0h2.2v2.2h-2.2zM166.3 83.2h2.2v2.2h-2.2zM152.9 183.1h2.2v2.2h-2.2zM166.1 161.2h2.2v2.2h-2.2zM157.0 72.2h2.2v2.2h-2.2zM144.1 127.7h2.2v2.2h-2.2zM149.5 73.4h2.2v2.2h-2.2zM143.5 97.8h2.2v2.2h-2.2zM151.0 177.3h2.2v2.2h-2.2zM145.1 92.6h2.2v2.2h-2.2zM142.7 140.3h2.2v2.2h-2.2zM169.0 105.3h2.2v2.2h-2.2zM150.1 80.3h2.2v2.2h-2.2zM152.3 69.7h2.2v2.2h-2.2zM170.6 121.6h2.2v2.2h-2.2zM153.6 177.4h2.2v2.2h-2.2zM150.4 80.0h2.2v2.2h-2.2zM144.2 136.7h2.2v2.2h-2.2zM165.5 158.5h2.2v2.2h-2.2zM157.8 72.7h2.2v2.2h-2.2zM156.6 178.7h2.2v2.2h-2.2zM165.0 87.1h2.2v2.2h-2.2zM143.5 141.8h2.2v2.2h-2.2zM167.0 84.8h2.2v2.2h-2.2zM164.9 83.9h2.2v2.2h-2.2zM145.1 151.7h2.2v2.2h-2.2zM167.3 84.0h2.2v2.2h-2.2zM163.8 166.7h2.2v2.2h-2.2zM157.8 176.8h2.2v2.2h-2.2zM142.8 129.5h2.2v2.2h-2.2zM155.4 174.6h2.2v2.2h-2.2zM145.0 150.7h2.2v2.2h-2.2zM143.1 99.8h2.2v2.2h-2.2zM151.5 72.2h2.2v2.2h-2.2zM146.1 85.5h2.2v2.2h-2.2zM170.0 144.1h2.2v2.2h-2.2zM159.1 65.7h2.2v2.2h-2.2zM160.3 72.1h2.2v2.2h-2.2zM146.4 154.8h2.2v2.2h-2.2zM148.2 86.0h2.2v2.2h-2.2zM168.0 145.8h2.2v2.2h-2.2zM163.2 170.2h2.2v2.2h-2.2zM167.9 140.6h2.2v2.2h-2.2zM163.6 166.1h2.2v2.2h-2.2zM148.4 162.6h2.2v2.2h-2.2zM166.1 83.8h2.2v2.2h-2.2zM164.0 166.9h2.2v2.2h-2.2zM148.9 168.6h2.2v2.2h-2.2zM166.6 165.5h2.2v2.2h-2.2zM169.7 121.8h2.2v2.2h-2.2zM144.1 129.4h2.2v2.2h-2.2zM166.8 156.6h2.2v2.2h-2.2zM155.1 183.0h2.2v2.2h-2.2zM162.9 167.3h2.2v2.2h-2.2zM169.3 107.2h2.2v2.2h-2.2zM164.6 168.9h2.2v2.2h-2.2zM169.7 133.7h2.2v2.2h-2.2zM170.6 116.2h2.2v2.2h-2.2zM196.3 49.4h2.2v2.2h-2.2zM188.1 47.4h2.2v2.2h-2.2zM198.2 55.1h2.2v2.2h-2.2zM198.4 50.8h2.2v2.2h-2.2zM184.5 60.9h2.2v2.2h-2.2zM220.4 166.3h2.2v2.2h-2.2zM213.9 164.7h2.2v2.2h-2.2zM211.5 138.1h2.2v2.2h-2.2zM203.5 143.9h2.2v2.2h-2.2zM185.9 129.2h2.2v2.2h-2.2zM195.0 139.6h2.2v2.2h-2.2zM209.8 170.9h2.2v2.2h-2.2zM201.0 170.1h2.2v2.2h-2.2zM220.5 170.9h2.2v2.2h-2.2zM198.0 137.8h2.2v2.2h-2.2zM193.1 136.8h2.2v2.2h-2.2zM192.3 156.0h2.2v2.2h-2.2zM217.3 165.7h2.2v2.2h-2.2zM202.2 157.3h2.2v2.2h-2.2zM213.7 131.7h2.2v2.2h-2.2zM208.7 168.8h2.2v2.2h-2.2zM213.1 161.7h2.2v2.2h-2.2zM202.1 135.9h2.2v2.2h-2.2zM213.3 142.9h2.2v2.2h-2.2zM213.7 171.6h2.2v2.2h-2.2zM199.2 146.0h2.2v2.2h-2.2zM219.0 160.5h2.2v2.2h-2.2zM156.4 47.4h2.2v2.2h-2.2zM192.4 99.6h2.2v2.2h-2.2z" fill="#4a2da2"/><rect x="173.5" y="25.3" width="35.2" height="43.9" fill="none" stroke="#000" stroke-width="1.6"/><rect x="180.5" y="107.8" width="55.3" height="72.2" fill="none" stroke="#000" stroke-width="1.6"/><rect x="357.6" y="21.5" width="161.3" height="160.4" fill="none" stroke="#8c8c8c" stroke-width="1.2"/><text x="351.6" y="49.46" font-size="7" text-anchor="end">10<tspan font-size="5.95" dy="-3">5</tspan></text><text x="351.6" y="79.46" font-size="7" text-anchor="end">10<tspan font-size="5.95" dy="-3">4</tspan></text><text x="351.6" y="112.5" font-size="7" text-anchor="end">10<tspan font-size="5.95" dy="-3">3</tspan></text><text x="350.6" y="132.87" font-size="6.5" text-anchor="end">0</text><text x="351.6" y="155.49" font-size="7" text-anchor="end">-10<tspan font-size="5.95" dy="-3">3</tspan></text><path d="M357.6 47.16h-4M357.6 77.16h-4M357.6 110.2h-4M357.6 130.57h-4M357.6 153.19h-4M357.6 100.25h-2.2M357.6 94.44h-2.2M357.6 90.31h-2.2M357.6 87.11h-2.2M357.6 84.49h-2.2M357.6 82.28h-2.2M357.6 80.36h-2.2M357.6 78.67h-2.2M357.6 68.13h-2.2M357.6 62.85h-2.2M357.6 59.1h-2.2M357.6 56.19h-2.2M357.6 53.82h-2.2M357.6 51.81h-2.2M357.6 50.07h-2.2M357.6 48.54h-2.2M357.6 37.99h-2.2M357.6 32.62h-2.2M357.6 28.82h-2.2M357.6 25.86h-2.2M357.6 23.45h-2.2M357.6 120.95h-2.2M357.6 124.16h-2.2M357.6 127.36h-2.2M357.6 133.78h-2.2M357.6 136.99h-2.2M357.6 140.2h-2.2M357.6 162.65h-2.2M357.6 172.28h-2.2M357.6 177.09h-2.2M380.18 181.9v4M413.89 181.9v4M445.99 181.9v4M476.16 181.9v4M505.35 181.9v4M423.56 181.9v2.2M429.21 181.9v2.2M433.22 181.9v2.2M436.33 181.9v2.2M438.87 181.9v2.2M441.02 181.9v2.2M442.88 181.9v2.2M444.52 181.9v2.2M455.07 181.9v2.2M460.38 181.9v2.2M464.15 181.9v2.2M467.08 181.9v2.2M469.46 181.9v2.2M471.48 181.9v2.2M473.23 181.9v2.2M474.78 181.9v2.2M484.94 181.9v2.2M490.09 181.9v2.2M493.73 181.9v2.2M496.56 181.9v2.2M498.87 181.9v2.2M500.83 181.9v2.2M502.52 181.9v2.2M504.01 181.9v2.2M365.67 181.9v2.2M370.5 181.9v2.2M373.73 181.9v2.2M375.34 181.9v2.2M376.96 181.9v2.2M378.57 181.9v2.2M381.8 181.9v2.2M383.41 181.9v2.2M397.93 181.9v2.2M404.38 181.9v2.2M407.6 181.9v2.2M410.83 181.9v2.2M514.87 181.9v2.2" fill="none" stroke="#000" stroke-width="0.8"/><rect x="354.4" y="126.97" width="3.2" height="4" fill="#000"/><rect x="373.73" y="182.2" width="9.68" height="2.5" fill="#000"/><text x="380.18" y="194.9" font-size="6.5" text-anchor="middle">0</text><text x="416.89" y="194.9" font-size="7" text-anchor="middle">10<tspan font-size="5.95" dy="-3">3</tspan></text><text x="448.99" y="194.9" font-size="7" text-anchor="middle">10<tspan font-size="5.95" dy="-3">4</tspan></text><text x="479.16" y="194.9" font-size="7" text-anchor="middle">10<tspan font-size="5.95" dy="-3">5</tspan></text><text x="508.35" y="194.9" font-size="7" text-anchor="middle">10<tspan font-size="5.95" dy="-3">6</tspan></text><g filter="url(#rough)"><path d="M423.85 123C424.01 129.23 424.38 136.99 424.22 142.1C424.06 147.2 423.5 150.28 422.91 153.63C422.31 156.99 421.41 159.4 420.65 162.21C419.89 165.02 419.33 168.17 418.34 170.49C417.35 172.8 416.16 174.82 414.72 176.1C413.28 177.37 411.84 177.7 409.71 178.13C407.57 178.55 404.45 179.01 401.9 178.64C399.35 178.26 396.36 177.09 394.41 175.86C392.47 174.64 391.61 172.55 390.25 171.28C388.88 170 387.51 169.56 386.25 168.21C384.99 166.86 383.64 165.51 382.69 163.16C381.74 160.82 381.14 157.6 380.54 154.15C379.94 150.71 379.37 147.71 379.09 142.52C378.81 137.33 378.69 129.37 378.85 123C379.01 116.63 379.65 109.33 380.03 104.29C380.41 99.24 380.66 96.22 381.14 92.72C381.62 89.22 382.06 85.78 382.91 83.28C383.75 80.78 385.05 79.36 386.23 77.72C387.4 76.08 388.58 74.8 389.93 73.44C391.28 72.07 392.33 70.41 394.32 69.51C396.32 68.61 399.32 68.41 401.9 68.04C404.48 67.66 407.61 67.15 409.8 67.25C411.98 67.35 413.6 67.25 415.03 68.61C416.46 69.98 417.46 72.84 418.36 75.44C419.26 78.04 419.78 81.27 420.44 84.24C421.09 87.21 421.83 89.83 422.31 93.24C422.78 96.65 423.02 99.75 423.28 104.71C423.54 109.67 423.69 116.77 423.85 123Z" fill="#4a2da2"/><path d="M417.1 123.8C417.12 128.55 416.88 133.88 416.77 138.09C416.66 142.29 416.69 145.67 416.43 149.04C416.17 152.42 415.84 155.9 415.21 158.35C414.57 160.79 413.54 162.27 412.61 163.73C411.68 165.19 410.69 166.18 409.64 167.09C408.59 168 407.63 168.83 406.32 169.18C405 169.52 403.27 169.12 401.74 169.16C400.21 169.19 398.5 169.52 397.14 169.4C395.78 169.28 394.62 169.46 393.59 168.46C392.56 167.45 391.75 165.34 390.97 163.37C390.19 161.41 389.57 159.07 388.93 156.66C388.29 154.25 387.56 151.95 387.12 148.92C386.69 145.89 386.46 142.67 386.29 138.48C386.12 134.29 386.08 128.68 386.1 123.8C386.12 118.92 386.09 113.18 386.39 109.21C386.69 105.24 387.34 102.7 387.89 99.99C388.44 97.28 389.14 95.36 389.71 92.94C390.28 90.52 390.64 87.7 391.3 85.46C391.96 83.22 392.72 81.08 393.66 79.49C394.59 77.9 395.56 76.83 396.91 75.91C398.26 75 400.13 73.96 401.74 74C403.35 74.03 405.24 75 406.55 76.14C407.85 77.28 408.62 79.36 409.57 80.86C410.53 82.35 411.47 83.36 412.28 85.1C413.08 86.83 413.86 88.79 414.43 91.26C414.99 93.72 415.29 96.81 415.66 99.87C416.04 102.93 416.43 105.62 416.67 109.61C416.91 113.6 417.08 119.05 417.1 123.8Z" fill="#3b55c8"/><path d="M414.62 124.1C414.64 128.38 414.58 133.42 414.31 137C414.05 140.59 413.46 142.93 413.03 145.62C412.61 148.31 412.22 150.69 411.77 153.14C411.32 155.58 410.92 158.2 410.32 160.26C409.72 162.32 408.99 163.91 408.19 165.48C407.39 167.04 406.63 168.7 405.54 169.65C404.46 170.59 402.94 171.41 401.68 171.15C400.42 170.88 399 169.23 397.96 168.03C396.91 166.84 396.21 165.34 395.41 163.98C394.6 162.63 393.79 161.63 393.13 159.9C392.46 158.17 391.93 155.91 391.42 153.61C390.91 151.31 390.47 148.87 390.07 146.1C389.66 143.34 389.2 140.71 389 137.05C388.8 133.38 388.86 128.4 388.87 124.1C388.89 119.8 389.01 115.13 389.1 111.26C389.19 107.38 389.14 103.95 389.41 100.86C389.69 97.77 390.19 94.95 390.77 92.7C391.35 90.45 392.15 88.9 392.91 87.37C393.66 85.84 394.42 84.37 395.29 83.5C396.16 82.63 397.06 82.42 398.12 82.14C399.19 81.85 400.47 82.04 401.68 81.78C402.89 81.51 404.27 80.48 405.37 80.52C406.48 80.56 407.44 80.93 408.3 82.01C409.16 83.09 409.85 85.15 410.54 87.01C411.23 88.87 411.9 90.79 412.43 93.18C412.95 95.57 413.39 98.32 413.69 101.34C413.99 104.36 414.06 107.51 414.22 111.3C414.37 115.09 414.61 119.82 414.62 124.1Z" fill="#5cc0e2"/><path d="M411.64 124.4C411.64 128.16 411.58 132.13 411.53 135.64C411.48 139.16 411.56 142.5 411.35 145.47C411.14 148.43 410.75 151.21 410.29 153.44C409.82 155.67 409.18 157.31 408.57 158.86C407.95 160.4 407.32 161.86 406.61 162.7C405.9 163.54 405.15 163.67 404.32 163.89C403.48 164.11 402.53 163.86 401.62 164.02C400.71 164.17 399.7 164.99 398.86 164.83C398.02 164.66 397.26 164.13 396.59 163.03C395.91 161.94 395.36 160 394.79 158.27C394.23 156.54 393.65 154.83 393.2 152.63C392.74 150.44 392.34 147.89 392.06 145.1C391.78 142.31 391.67 139.32 391.51 135.87C391.36 132.42 391.15 128.23 391.14 124.4C391.14 120.57 391.23 116.14 391.48 112.89C391.72 109.64 392.24 107.4 392.62 104.9C392.99 102.41 393.33 100.19 393.72 97.92C394.11 95.66 394.46 93.25 394.95 91.32C395.44 89.38 396.03 87.87 396.66 86.33C397.29 84.8 397.91 83.11 398.73 82.13C399.56 81.15 400.67 80.28 401.62 80.44C402.57 80.59 403.62 82.03 404.44 83.06C405.26 84.1 405.87 85.39 406.54 86.67C407.2 87.95 407.87 88.99 408.41 90.73C408.95 92.47 409.37 94.81 409.76 97.11C410.16 99.41 410.49 101.87 410.79 104.54C411.09 107.2 411.43 109.8 411.57 113.11C411.71 116.42 411.65 120.64 411.64 124.4Z" fill="#4fbf45"/><path d="M409.26 124.68C409.28 128.02 409.33 131.72 409.24 134.8C409.15 137.88 408.92 140.52 408.7 143.15C408.48 145.79 408.21 148.21 407.91 150.59C407.61 152.98 407.33 155.7 406.89 157.45C406.46 159.2 405.88 160.34 405.32 161.08C404.75 161.82 404.14 161.68 403.52 161.9C402.89 162.11 402.21 162.46 401.56 162.38C400.92 162.3 400.23 161.91 399.64 161.41C399.04 160.9 398.54 160.12 397.99 159.35C397.44 158.57 396.83 158.11 396.35 156.74C395.87 155.37 395.42 153.37 395.09 151.12C394.77 148.86 394.61 145.93 394.4 143.22C394.19 140.51 393.97 137.94 393.85 134.85C393.72 131.76 393.63 128.04 393.66 124.68C393.68 121.32 393.85 117.75 394 114.71C394.14 111.66 394.27 108.93 394.5 106.41C394.74 103.89 395.05 101.52 395.42 99.59C395.79 97.67 396.29 96.48 396.72 94.87C397.14 93.26 397.52 91.5 397.98 89.94C398.45 88.38 398.91 86.45 399.51 85.49C400.1 84.54 400.87 84.28 401.56 84.2C402.25 84.12 403.02 84.34 403.65 85.01C404.27 85.67 404.84 86.68 405.32 88.21C405.8 89.73 406.15 92.18 406.53 94.16C406.9 96.15 407.23 98.07 407.58 100.12C407.92 102.17 408.34 104.04 408.6 106.48C408.85 108.92 408.98 111.72 409.09 114.76C409.2 117.79 409.23 121.34 409.26 124.68Z" fill="#e8e03a"/><path d="M407.77 124.86C407.8 127.88 407.68 131.19 407.57 134.03C407.46 136.87 407.3 139.35 407.14 141.91C406.97 144.46 406.82 147.14 406.57 149.35C406.31 151.55 405.97 153.42 405.61 155.13C405.26 156.84 404.88 158.35 404.46 159.59C404.04 160.83 403.61 162.21 403.12 162.59C402.63 162.97 402.04 162.38 401.53 161.86C401.02 161.33 400.53 160.16 400.07 159.44C399.61 158.72 399.18 158.43 398.77 157.54C398.35 156.65 397.95 155.51 397.58 154.09C397.21 152.68 396.87 150.94 396.55 149.05C396.23 147.16 395.86 145.19 395.65 142.74C395.43 140.29 395.31 137.35 395.26 134.37C395.21 131.39 395.3 127.99 395.32 124.86C395.35 121.73 395.33 118.46 395.41 115.58C395.5 112.7 395.63 109.95 395.84 107.56C396.05 105.17 396.37 103.2 396.66 101.22C396.96 99.25 397.25 97.29 397.59 95.72C397.94 94.15 398.33 92.81 398.74 91.8C399.14 90.78 399.58 90.41 400.04 89.64C400.51 88.86 401.01 87.68 401.53 87.15C402.04 86.63 402.65 86.05 403.15 86.49C403.64 86.92 404.08 88.38 404.49 89.74C404.9 91.11 405.28 92.82 405.6 94.68C405.93 96.55 406.23 98.64 406.45 100.92C406.68 103.21 406.78 105.9 406.94 108.4C407.11 110.9 407.28 113.18 407.42 115.92C407.56 118.66 407.75 121.84 407.77 124.86Z" fill="#f29a2c"/><path d="M406.7 125C406.68 127.96 406.59 131.07 406.48 133.78C406.36 136.49 406.23 139.05 406.03 141.26C405.83 143.46 405.54 145.18 405.29 147.01C405.05 148.84 404.81 150.49 404.55 152.25C404.29 154 404.06 156.2 403.75 157.54C403.44 158.88 403.08 159.7 402.7 160.27C402.32 160.84 401.9 160.87 401.5 160.96C401.1 161.04 400.67 161.26 400.28 160.79C399.9 160.32 399.54 159.3 399.2 158.14C398.87 156.99 398.56 155.46 398.27 153.88C397.97 152.3 397.64 150.77 397.42 148.67C397.21 146.57 397.06 143.86 396.96 141.29C396.87 138.71 396.89 135.92 396.85 133.21C396.8 130.49 396.73 127.77 396.7 125C396.68 122.23 396.67 119.27 396.72 116.57C396.76 113.86 396.86 111.33 396.97 108.75C397.08 106.17 397.18 103.34 397.38 101.1C397.58 98.85 397.86 96.75 398.17 95.29C398.48 93.83 398.88 93.23 399.24 92.34C399.59 91.46 399.93 90.56 400.31 89.99C400.69 89.43 401.11 88.87 401.5 88.96C401.89 89.04 402.3 89.85 402.67 90.51C403.04 91.18 403.39 91.88 403.72 92.95C404.05 94.02 404.37 95.29 404.64 96.92C404.91 98.56 405.1 100.78 405.33 102.75C405.56 104.73 405.81 106.57 406.02 108.78C406.23 110.99 406.49 113.29 406.61 116C406.72 118.7 406.73 122.04 406.7 125Z" fill="#e4341e"/></g><path d="M399.5 177.6h2.2v2.2h-2.2zM417.7 166.6h2.2v2.2h-2.2zM386.9 166.6h2.2v2.2h-2.2zM379.3 91.4h2.2v2.2h-2.2zM379.0 151.1h2.2v2.2h-2.2zM377.6 121.3h2.2v2.2h-2.2zM380.0 114.3h2.2v2.2h-2.2zM380.6 141.5h2.2v2.2h-2.2zM425.1 123.4h2.2v2.2h-2.2zM411.6 171.7h2.2v2.2h-2.2zM397.2 65.3h2.2v2.2h-2.2zM390.2 172.4h2.2v2.2h-2.2zM378.0 101.5h2.2v2.2h-2.2zM419.1 157.3h2.2v2.2h-2.2zM401.0 176.2h2.2v2.2h-2.2zM404.0 65.7h2.2v2.2h-2.2zM378.4 99.4h2.2v2.2h-2.2zM420.3 92.6h2.2v2.2h-2.2zM383.2 85.0h2.2v2.2h-2.2zM377.0 117.4h2.2v2.2h-2.2zM378.6 138.7h2.2v2.2h-2.2zM376.1 130.3h2.2v2.2h-2.2zM393.1 64.3h2.2v2.2h-2.2zM421.4 102.7h2.2v2.2h-2.2zM377.6 99.5h2.2v2.2h-2.2zM412.3 77.3h2.2v2.2h-2.2zM417.3 160.7h2.2v2.2h-2.2zM420.5 145.7h2.2v2.2h-2.2zM422.1 147.8h2.2v2.2h-2.2zM406.0 62.4h2.2v2.2h-2.2zM414.4 170.5h2.2v2.2h-2.2zM389.3 77.2h2.2v2.2h-2.2zM419.4 80.5h2.2v2.2h-2.2zM405.5 182.2h2.2v2.2h-2.2zM382.3 155.6h2.2v2.2h-2.2zM425.2 118.1h2.2v2.2h-2.2zM412.8 169.4h2.2v2.2h-2.2zM378.5 116.5h2.2v2.2h-2.2zM408.3 173.5h2.2v2.2h-2.2zM397.1 71.1h2.2v2.2h-2.2zM379.3 103.2h2.2v2.2h-2.2zM423.0 128.1h2.2v2.2h-2.2zM384.3 82.0h2.2v2.2h-2.2zM423.9 146.2h2.2v2.2h-2.2zM406.8 62.0h2.2v2.2h-2.2zM418.2 155.1h2.2v2.2h-2.2zM424.3 136.6h2.2v2.2h-2.2zM398.0 174.3h2.2v2.2h-2.2zM378.9 150.5h2.2v2.2h-2.2zM410.1 72.8h2.2v2.2h-2.2zM415.5 171.2h2.2v2.2h-2.2zM379.2 96.7h2.2v2.2h-2.2zM418.7 149.6h2.2v2.2h-2.2zM392.2 70.2h2.2v2.2h-2.2zM423.2 148.8h2.2v2.2h-2.2zM384.6 77.1h2.2v2.2h-2.2zM422.1 152.2h2.2v2.2h-2.2zM423.3 146.5h2.2v2.2h-2.2zM379.4 137.6h2.2v2.2h-2.2zM377.3 101.9h2.2v2.2h-2.2zM398.4 174.4h2.2v2.2h-2.2zM379.2 112.8h2.2v2.2h-2.2zM417.5 155.6h2.2v2.2h-2.2zM421.5 138.6h2.2v2.2h-2.2zM392.4 172.4h2.2v2.2h-2.2zM402.1 67.5h2.2v2.2h-2.2zM379.1 121.9h2.2v2.2h-2.2zM388.8 164.2h2.2v2.2h-2.2zM400.7 173.5h2.2v2.2h-2.2zM398.3 65.0h2.2v2.2h-2.2zM425.4 51.4h2.2v2.2h-2.2zM427.2 51.3h2.2v2.2h-2.2zM431.7 45.7h2.2v2.2h-2.2zM430.2 43.8h2.2v2.2h-2.2zM430.2 47.4h2.2v2.2h-2.2zM432.0 45.0h2.2v2.2h-2.2zM426.5 53.3h2.2v2.2h-2.2zM434.0 43.6h2.2v2.2h-2.2zM427.7 50.9h2.2v2.2h-2.2zM433.0 44.7h2.2v2.2h-2.2zM428.3 49.7h2.2v2.2h-2.2zM430.4 49.8h2.2v2.2h-2.2zM448.6 57.7h2.2v2.2h-2.2zM441.3 60.7h2.2v2.2h-2.2zM447.8 140.7h2.2v2.2h-2.2zM433.0 141.8h2.2v2.2h-2.2zM455.7 147.5h2.2v2.2h-2.2zM442.5 147.6h2.2v2.2h-2.2zM433.1 136.3h2.2v2.2h-2.2zM437.2 142.7h2.2v2.2h-2.2zM434.9 125.0h2.2v2.2h-2.2zM447.5 134.8h2.2v2.2h-2.2zM461.0 148.8h2.2v2.2h-2.2zM468.9 154.8h2.2v2.2h-2.2zM467.3 165.2h2.2v2.2h-2.2zM451.6 139.2h2.2v2.2h-2.2zM480.2 130.9h2.2v2.2h-2.2zM467.7 154.1h2.2v2.2h-2.2zM435.0 163.2h2.2v2.2h-2.2zM475.7 153.4h2.2v2.2h-2.2zM468.1 162.1h2.2v2.2h-2.2zM439.6 148.5h2.2v2.2h-2.2zM457.1 163.1h2.2v2.2h-2.2zM471.5 162.7h2.2v2.2h-2.2zM460.9 165.9h2.2v2.2h-2.2zM465.7 156.5h2.2v2.2h-2.2zM443.9 125.4h2.2v2.2h-2.2zM439.3 140.9h2.2v2.2h-2.2zM437.9 163.2h2.2v2.2h-2.2zM405.8 54.7h2.2v2.2h-2.2zM406.3 55.0h2.2v2.2h-2.2zM474.9 96.9h2.2v2.2h-2.2z" fill="#4a2da2"/><rect x="417.6" y="23.6" width="59.8" height="42.5" fill="none" stroke="#000" stroke-width="1.6"/><rect x="432.5" y="106.1" width="58.8" height="74.3" fill="none" stroke="#000" stroke-width="1.6"/><rect x="616.9" y="21.5" width="161.3" height="160.4" fill="none" stroke="#8c8c8c" stroke-width="1.2"/><text x="610.9" y="49.46" font-size="7" text-anchor="end">10<tspan font-size="5.95" dy="-3">5</tspan></text><text x="610.9" y="79.46" font-size="7" text-anchor="end">10<tspan font-size="5.95" dy="-3">4</tspan></text><text x="610.9" y="112.5" font-size="7" text-anchor="end">10<tspan font-size="5.95" dy="-3">3</tspan></text><text x="609.9" y="132.87" font-size="6.5" text-anchor="end">0</text><text x="610.9" y="155.49" font-size="7" text-anchor="end">-10<tspan font-size="5.95" dy="-3">3</tspan></text><path d="M616.9 47.16h-4M616.9 77.16h-4M616.9 110.2h-4M616.9 130.57h-4M616.9 153.19h-4M616.9 100.25h-2.2M616.9 94.44h-2.2M616.9 90.31h-2.2M616.9 87.11h-2.2M616.9 84.49h-2.2M616.9 82.28h-2.2M616.9 80.36h-2.2M616.9 78.67h-2.2M616.9 68.13h-2.2M616.9 62.85h-2.2M616.9 59.1h-2.2M616.9 56.19h-2.2M616.9 53.82h-2.2M616.9 51.81h-2.2M616.9 50.07h-2.2M616.9 48.54h-2.2M616.9 37.99h-2.2M616.9 32.62h-2.2M616.9 28.82h-2.2M616.9 25.86h-2.2M616.9 23.45h-2.2M616.9 120.95h-2.2M616.9 124.16h-2.2M616.9 127.36h-2.2M616.9 133.78h-2.2M616.9 136.99h-2.2M616.9 140.2h-2.2M616.9 162.65h-2.2M616.9 172.28h-2.2M616.9 177.09h-2.2M639.48 181.9v4M673.19 181.9v4M705.29 181.9v4M735.46 181.9v4M764.65 181.9v4M682.86 181.9v2.2M688.51 181.9v2.2M692.52 181.9v2.2M695.63 181.9v2.2M698.17 181.9v2.2M700.32 181.9v2.2M702.18 181.9v2.2M703.82 181.9v2.2M714.37 181.9v2.2M719.68 181.9v2.2M723.45 181.9v2.2M726.38 181.9v2.2M728.76 181.9v2.2M730.78 181.9v2.2M732.53 181.9v2.2M734.08 181.9v2.2M744.24 181.9v2.2M749.39 181.9v2.2M753.03 181.9v2.2M755.86 181.9v2.2M758.17 181.9v2.2M760.13 181.9v2.2M761.82 181.9v2.2M763.31 181.9v2.2M624.97 181.9v2.2M629.8 181.9v2.2M633.03 181.9v2.2M634.64 181.9v2.2M636.26 181.9v2.2M637.87 181.9v2.2M641.1 181.9v2.2M642.71 181.9v2.2M657.23 181.9v2.2M663.68 181.9v2.2M666.9 181.9v2.2M670.13 181.9v2.2M774.17 181.9v2.2" fill="none" stroke="#000" stroke-width="0.8"/><rect x="613.7" y="126.97" width="3.2" height="4" fill="#000"/><rect x="633.03" y="182.2" width="9.68" height="2.5" fill="#000"/><text x="639.48" y="194.9" font-size="6.5" text-anchor="middle">0</text><text x="676.19" y="194.9" font-size="7" text-anchor="middle">10<tspan font-size="5.95" dy="-3">3</tspan></text><text x="708.29" y="194.9" font-size="7" text-anchor="middle">10<tspan font-size="5.95" dy="-3">4</tspan></text><text x="738.46" y="194.9" font-size="7" text-anchor="middle">10<tspan font-size="5.95" dy="-3">5</tspan></text><text x="767.65" y="194.9" font-size="7" text-anchor="middle">10<tspan font-size="5.95" dy="-3">6</tspan></text><g filter="url(#rough)"><path d="M687 123C686.96 129.11 686.86 136.04 686.85 141.23C686.83 146.42 687.22 150.35 686.91 154.15C686.59 157.96 685.89 161.35 684.95 164.06C684.02 166.77 682.62 168.54 681.3 170.42C679.98 172.3 678.67 174.2 677.02 175.34C675.37 176.49 673.8 176.99 671.41 177.29C669.03 177.59 665.6 177.16 662.7 177.14C659.8 177.11 656.33 177.67 654.01 177.13C651.69 176.59 650.24 175.48 648.77 173.9C647.3 172.32 646.36 169.68 645.19 167.64C644.01 165.61 642.8 164 641.72 161.71C640.64 159.41 639.51 157.07 638.73 153.85C637.95 150.63 637.5 147.51 637.04 142.37C636.59 137.23 636.05 129.49 636 123C635.96 116.51 636.17 108.38 636.76 103.42C637.36 98.46 638.67 96.28 639.57 93.23C640.47 90.19 641.29 87.73 642.18 85.13C643.07 82.54 643.78 79.72 644.91 77.65C646.03 75.57 647.42 74.18 648.93 72.68C650.44 71.19 651.69 69.7 653.98 68.68C656.28 67.65 659.79 66.56 662.7 66.54C665.61 66.51 669.09 67.73 671.45 68.52C673.81 69.3 675.17 70.18 676.86 71.24C678.55 72.3 680.31 72.95 681.58 74.87C682.85 76.8 683.75 79.77 684.5 82.78C685.25 85.79 685.63 89.3 686.07 92.93C686.5 96.56 686.97 99.55 687.13 104.56C687.28 109.57 687.05 116.89 687 123Z" fill="#4a2da2"/><path d="M680.52 123.4C680.42 128.15 680.2 133.47 679.89 137.39C679.58 141.32 679.06 143.86 678.65 146.95C678.23 150.05 678 153.26 677.42 155.96C676.83 158.66 676.1 161.3 675.13 163.15C674.17 165 672.88 165.83 671.65 167.05C670.41 168.26 669.34 169.54 667.72 170.44C666.11 171.33 663.88 172.35 661.94 172.43C660 172.51 657.74 171.68 656.1 170.92C654.45 170.16 653.24 169.26 652.05 167.86C650.86 166.46 649.77 164.74 648.96 162.51C648.14 160.29 647.75 157.14 647.15 154.5C646.56 151.87 646.02 149.49 645.41 146.71C644.79 143.92 643.93 141.67 643.48 137.79C643.03 133.9 642.83 128.28 642.72 123.4C642.62 118.52 642.66 112.77 642.84 108.52C643.03 104.27 643.27 100.89 643.85 97.9C644.43 94.9 645.44 92.72 646.33 90.55C647.21 88.38 648.18 86.73 649.15 84.88C650.13 83.02 650.98 80.73 652.16 79.45C653.35 78.16 654.63 77.54 656.26 77.17C657.88 76.81 660.06 77.19 661.94 77.27C663.82 77.35 665.97 77.16 667.57 77.66C669.16 78.16 670.31 79.16 671.54 80.26C672.77 81.35 673.82 82.76 674.94 84.24C676.06 85.71 677.37 86.86 678.25 89.1C679.13 91.33 679.82 94.35 680.2 97.65C680.58 100.96 680.47 104.62 680.53 108.91C680.58 113.21 680.63 118.65 680.52 123.4Z" fill="#3b55c8"/><path d="M677.97 123.55C678.02 127.76 677.87 132.68 677.58 136.29C677.29 139.9 676.66 142.31 676.23 145.21C675.8 148.1 675.52 150.99 675 153.65C674.48 156.3 673.92 159.09 673.11 161.14C672.3 163.18 671.24 164.59 670.15 165.89C669.06 167.19 667.98 168.44 666.56 168.92C665.15 169.41 663.23 169.4 661.66 168.82C660.08 168.24 658.43 166.47 657.12 165.45C655.81 164.43 654.87 163.68 653.8 162.7C652.73 161.71 651.59 161.07 650.68 159.55C649.77 158.04 649.04 155.84 648.33 153.61C647.62 151.37 646.96 148.97 646.44 146.16C645.91 143.35 645.38 140.52 645.16 136.75C644.94 132.99 645.08 127.92 645.12 123.55C645.17 119.18 645.25 114.4 645.41 110.55C645.57 106.7 645.64 103.34 646.1 100.45C646.57 97.56 647.41 95.25 648.21 93.21C649 91.18 649.98 89.79 650.9 88.24C651.81 86.7 652.67 85.05 653.7 83.92C654.73 82.78 655.77 82.16 657.1 81.41C658.42 80.67 660.07 80.03 661.65 79.45C663.24 78.87 665.16 77.72 666.59 77.94C668.02 78.15 669.2 79.27 670.25 80.72C671.3 82.17 672.08 84.59 672.9 86.66C673.71 88.74 674.51 90.72 675.12 93.17C675.73 95.63 676.2 98.43 676.57 101.4C676.93 104.37 677.09 107.32 677.32 111.01C677.56 114.7 677.93 119.34 677.97 123.55Z" fill="#5cc0e2"/><path d="M675.65 123.7C675.64 127.53 675.4 131.8 675.15 135.19C674.9 138.58 674.55 141.28 674.16 144.05C673.76 146.82 673.41 149.7 672.79 151.82C672.17 153.94 671.27 155.41 670.44 156.75C669.61 158.1 668.68 158.76 667.79 159.9C666.89 161.03 666.14 162.62 665.07 163.58C664 164.54 662.64 165.32 661.37 165.65C660.1 165.98 658.67 165.86 657.48 165.57C656.29 165.27 655.19 165.05 654.25 163.87C653.3 162.69 652.48 160.63 651.83 158.48C651.17 156.32 650.8 153.42 650.31 150.95C649.81 148.47 649.26 146.29 648.85 143.62C648.45 140.95 648.06 138.27 647.88 134.95C647.7 131.63 647.75 127.45 647.75 123.7C647.74 119.95 647.7 115.8 647.86 112.43C648.01 109.06 648.27 106.17 648.67 103.48C649.06 100.8 649.7 98.67 650.24 96.3C650.78 93.92 651.24 91.34 651.91 89.21C652.57 87.09 653.32 84.76 654.25 83.53C655.18 82.3 656.29 82.06 657.48 81.82C658.67 81.57 660.1 81.74 661.37 82.07C662.64 82.4 664.01 82.9 665.08 83.8C666.15 84.71 666.91 86.32 667.79 87.51C668.67 88.7 669.52 89.62 670.36 90.94C671.2 92.26 672.19 93.41 672.85 95.43C673.52 97.44 673.96 100.26 674.34 103.06C674.73 105.85 674.96 108.75 675.17 112.19C675.39 115.63 675.65 119.87 675.65 123.7Z" fill="#4fbf45"/><path d="M672.37 123.84C672.38 127.11 672.33 130.56 672.24 133.68C672.16 136.79 672.15 139.84 671.87 142.51C671.58 145.18 671.08 147.58 670.54 149.67C670.01 151.76 669.32 153.29 668.68 155.05C668.04 156.82 667.45 158.88 666.7 160.25C665.96 161.61 665.12 162.73 664.19 163.23C663.26 163.72 662.12 163.44 661.1 163.23C660.09 163.02 659 162.77 658.12 161.96C657.23 161.15 656.49 159.79 655.8 158.35C655.1 156.91 654.58 154.92 653.95 153.33C653.31 151.75 652.58 150.62 651.97 148.85C651.35 147.08 650.66 145.15 650.23 142.7C649.8 140.25 649.59 137.32 649.4 134.17C649.21 131.03 649.07 127.27 649.09 123.84C649.1 120.41 649.23 116.6 649.49 113.59C649.76 110.57 650.28 108.25 650.68 105.76C651.09 103.28 651.44 100.89 651.91 98.67C652.38 96.46 652.85 94.07 653.49 92.48C654.13 90.88 654.98 90.05 655.76 89.1C656.55 88.16 657.32 87.5 658.21 86.83C659.1 86.15 660.12 85.27 661.1 85.06C662.09 84.84 663.16 85.2 664.1 85.56C665.04 85.92 665.9 86.34 666.74 87.21C667.58 88.08 668.49 88.98 669.13 90.76C669.78 92.53 670.22 95.32 670.6 97.85C670.98 100.38 671.16 103.25 671.42 105.96C671.67 108.66 671.99 111.1 672.15 114.08C672.31 117.06 672.35 120.57 672.37 123.84Z" fill="#e8e03a"/><path d="M671.21 123.93C671.09 127.07 670.93 130.24 670.72 133.04C670.52 135.84 670.28 138.38 669.95 140.73C669.61 143.07 669.14 145.02 668.71 147.11C668.29 149.2 667.9 151.4 667.39 153.24C666.88 155.08 666.31 157.02 665.65 158.16C664.99 159.3 664.21 159.58 663.42 160.09C662.63 160.61 661.78 161.01 660.93 161.26C660.09 161.51 659.15 161.99 658.34 161.58C657.54 161.17 656.81 160.02 656.13 158.79C655.45 157.56 654.82 155.98 654.26 154.21C653.71 152.44 653.16 150.46 652.8 148.16C652.44 145.86 652.31 142.97 652.1 140.39C651.9 137.8 651.77 135.38 651.57 132.64C651.37 129.9 651.01 126.94 650.9 123.93C650.78 120.92 650.79 117.51 650.89 114.59C650.99 111.66 651.24 108.98 651.52 106.38C651.79 103.78 652.1 101.08 652.56 98.98C653.03 96.89 653.68 95.27 654.3 93.83C654.93 92.39 655.63 91.48 656.31 90.37C656.99 89.25 657.63 87.77 658.4 87.14C659.17 86.5 660.11 86.31 660.93 86.56C661.76 86.81 662.6 87.88 663.36 88.62C664.12 89.36 664.8 89.97 665.47 90.99C666.13 92.02 666.77 93.29 667.35 94.8C667.93 96.31 668.42 98.16 668.95 100.03C669.48 101.91 670.12 103.68 670.53 106.04C670.94 108.4 671.29 111.21 671.41 114.19C671.52 117.17 671.32 120.79 671.21 123.93Z" fill="#f29a2c"/><path d="M669.34 124C669.29 126.8 669.28 129.53 669.22 132.25C669.16 134.97 669.18 137.8 668.99 140.34C668.8 142.88 668.45 145.28 668.08 147.48C667.71 149.69 667.27 151.85 666.76 153.58C666.25 155.31 665.66 156.98 665.02 157.88C664.39 158.77 663.64 158.73 662.94 158.94C662.24 159.15 661.51 159.13 660.8 159.14C660.09 159.14 659.33 159.49 658.66 158.99C657.99 158.49 657.37 157.32 656.8 156.12C656.22 154.92 655.71 153.34 655.2 151.78C654.69 150.22 654.15 148.71 653.74 146.77C653.32 144.83 653.02 142.47 652.72 140.12C652.42 137.77 652.18 135.36 651.95 132.67C651.72 129.98 651.39 126.94 651.34 124C651.29 121.06 651.43 117.73 651.65 115.04C651.88 112.34 652.33 110.07 652.69 107.83C653.06 105.59 653.41 103.44 653.84 101.57C654.28 99.7 654.77 98.11 655.28 96.62C655.79 95.14 656.34 94.01 656.9 92.69C657.46 91.36 657.99 89.59 658.64 88.66C659.29 87.74 660.08 87.13 660.8 87.14C661.52 87.14 662.27 88.08 662.96 88.71C663.65 89.34 664.3 89.91 664.92 90.93C665.54 91.94 666.17 93.17 666.68 94.82C667.19 96.48 667.59 98.73 667.98 100.86C668.37 102.99 668.76 105.18 669.02 107.61C669.27 110.05 669.46 112.73 669.52 115.46C669.57 118.19 669.39 121.2 669.34 124Z" fill="#e4341e"/></g><path d="M683.2 146.7h2.2v2.2h-2.2zM660.9 181.1h2.2v2.2h-2.2zM652.7 176.0h2.2v2.2h-2.2zM685.5 126.0h2.2v2.2h-2.2zM658.4 180.0h2.2v2.2h-2.2zM652.0 67.2h2.2v2.2h-2.2zM654.9 176.9h2.2v2.2h-2.2zM636.3 134.3h2.2v2.2h-2.2zM682.2 163.1h2.2v2.2h-2.2zM670.5 180.5h2.2v2.2h-2.2zM683.5 101.8h2.2v2.2h-2.2zM634.8 137.2h2.2v2.2h-2.2zM687.0 110.7h2.2v2.2h-2.2zM658.7 175.2h2.2v2.2h-2.2zM684.9 103.9h2.2v2.2h-2.2zM640.3 96.0h2.2v2.2h-2.2zM633.6 112.6h2.2v2.2h-2.2zM680.2 166.3h2.2v2.2h-2.2zM633.6 118.6h2.2v2.2h-2.2zM654.4 70.3h2.2v2.2h-2.2zM682.5 88.0h2.2v2.2h-2.2zM685.0 129.9h2.2v2.2h-2.2zM635.7 124.8h2.2v2.2h-2.2zM653.8 172.0h2.2v2.2h-2.2zM647.5 167.4h2.2v2.2h-2.2zM674.3 78.5h2.2v2.2h-2.2zM661.7 61.7h2.2v2.2h-2.2zM682.2 163.8h2.2v2.2h-2.2zM655.1 62.6h2.2v2.2h-2.2zM655.3 175.5h2.2v2.2h-2.2zM639.3 160.5h2.2v2.2h-2.2zM640.0 92.6h2.2v2.2h-2.2zM639.1 145.6h2.2v2.2h-2.2zM684.7 137.6h2.2v2.2h-2.2zM674.3 75.0h2.2v2.2h-2.2zM684.5 100.6h2.2v2.2h-2.2zM659.0 178.4h2.2v2.2h-2.2zM671.0 173.3h2.2v2.2h-2.2zM688.5 105.4h2.2v2.2h-2.2zM671.8 68.2h2.2v2.2h-2.2zM685.8 90.2h2.2v2.2h-2.2zM635.7 103.9h2.2v2.2h-2.2zM687.6 140.0h2.2v2.2h-2.2zM635.5 139.9h2.2v2.2h-2.2zM646.2 79.0h2.2v2.2h-2.2zM688.5 140.4h2.2v2.2h-2.2zM679.7 162.3h2.2v2.2h-2.2zM647.6 167.3h2.2v2.2h-2.2zM659.6 60.4h2.2v2.2h-2.2zM659.9 180.1h2.2v2.2h-2.2zM653.3 176.3h2.2v2.2h-2.2zM642.3 154.7h2.2v2.2h-2.2zM674.6 167.5h2.2v2.2h-2.2zM683.3 90.3h2.2v2.2h-2.2zM666.9 181.8h2.2v2.2h-2.2zM687.5 120.7h2.2v2.2h-2.2zM677.4 163.0h2.2v2.2h-2.2zM683.0 151.6h2.2v2.2h-2.2zM682.5 151.1h2.2v2.2h-2.2zM660.2 179.2h2.2v2.2h-2.2zM682.4 83.3h2.2v2.2h-2.2zM639.6 151.0h2.2v2.2h-2.2zM636.4 113.5h2.2v2.2h-2.2zM649.0 166.2h2.2v2.2h-2.2zM656.7 182.6h2.2v2.2h-2.2zM680.0 162.2h2.2v2.2h-2.2zM642.5 77.9h2.2v2.2h-2.2zM666.9 174.9h2.2v2.2h-2.2zM661.8 177.5h2.2v2.2h-2.2zM634.9 142.4h2.2v2.2h-2.2zM700.4 58.4h2.2v2.2h-2.2zM681.4 41.5h2.2v2.2h-2.2zM697.2 58.8h2.2v2.2h-2.2zM691.8 52.6h2.2v2.2h-2.2zM680.9 48.7h2.2v2.2h-2.2zM702.2 57.4h2.2v2.2h-2.2zM700.6 60.3h2.2v2.2h-2.2zM686.6 43.1h2.2v2.2h-2.2zM684.5 51.3h2.2v2.2h-2.2zM696.6 59.7h2.2v2.2h-2.2zM697.5 53.8h2.2v2.2h-2.2zM698.5 50.0h2.2v2.2h-2.2zM693.6 41.7h2.2v2.2h-2.2zM698.9 45.6h2.2v2.2h-2.2zM702.1 53.8h2.2v2.2h-2.2zM710.8 129.9h2.2v2.2h-2.2zM708.2 153.8h2.2v2.2h-2.2zM730.1 129.2h2.2v2.2h-2.2zM699.3 148.5h2.2v2.2h-2.2zM724.5 142.1h2.2v2.2h-2.2zM706.9 152.1h2.2v2.2h-2.2zM696.4 138.1h2.2v2.2h-2.2zM718.5 169.0h2.2v2.2h-2.2zM727.5 165.4h2.2v2.2h-2.2zM719.2 134.9h2.2v2.2h-2.2zM708.0 169.0h2.2v2.2h-2.2zM730.4 138.3h2.2v2.2h-2.2zM697.0 147.3h2.2v2.2h-2.2zM728.9 143.6h2.2v2.2h-2.2zM708.5 155.3h2.2v2.2h-2.2zM741.2 134.6h2.2v2.2h-2.2zM697.6 139.8h2.2v2.2h-2.2zM716.5 156.0h2.2v2.2h-2.2zM705.6 161.4h2.2v2.2h-2.2zM732.1 147.6h2.2v2.2h-2.2zM706.0 169.5h2.2v2.2h-2.2zM711.2 162.4h2.2v2.2h-2.2zM707.2 134.3h2.2v2.2h-2.2zM733.2 137.8h2.2v2.2h-2.2zM742.5 147.2h2.2v2.2h-2.2zM666.3 51.6h2.2v2.2h-2.2zM669.3 56.9h2.2v2.2h-2.2zM676.2 50.7h2.2v2.2h-2.2z" fill="#4a2da2"/><rect x="678.4" y="24.3" width="49.1" height="45.7" fill="none" stroke="#000" stroke-width="1.6"/><rect x="695.1" y="106.1" width="59.7" height="74.3" fill="none" stroke="#000" stroke-width="1.6"/><rect x="97.9" y="217.7" width="161.3" height="160.1" fill="none" stroke="#8c8c8c" stroke-width="1.2"/><text x="91.9" y="245.62" font-size="7" text-anchor="end">10<tspan font-size="5.95" dy="-3">5</tspan></text><text x="91.9" y="275.55" font-size="7" text-anchor="end">10<tspan font-size="5.95" dy="-3">4</tspan></text><text x="91.9" y="308.54" font-size="7" text-anchor="end">10<tspan font-size="5.95" dy="-3">3</tspan></text><text x="90.9" y="328.87" font-size="6.5" text-anchor="end">0</text><text x="91.9" y="351.44" font-size="7" text-anchor="end">-10<tspan font-size="5.95" dy="-3">3</tspan></text><path d="M97.9 243.32h-4M97.9 273.25h-4M97.9 306.24h-4M97.9 326.57h-4M97.9 349.14h-4M97.9 296.31h-2.2M97.9 290.5h-2.2M97.9 286.38h-2.2M97.9 283.18h-2.2M97.9 280.57h-2.2M97.9 278.36h-2.2M97.9 276.45h-2.2M97.9 274.76h-2.2M97.9 264.24h-2.2M97.9 258.97h-2.2M97.9 255.23h-2.2M97.9 252.33h-2.2M97.9 249.96h-2.2M97.9 247.95h-2.2M97.9 246.22h-2.2M97.9 244.69h-2.2M97.9 234.16h-2.2M97.9 228.8h-2.2M97.9 225h-2.2M97.9 222.05h-2.2M97.9 219.65h-2.2M97.9 316.96h-2.2M97.9 320.16h-2.2M97.9 323.37h-2.2M97.9 329.77h-2.2M97.9 332.97h-2.2M97.9 336.17h-2.2M97.9 358.59h-2.2M97.9 368.19h-2.2M97.9 373h-2.2M120.48 377.8v4M154.19 377.8v4M186.29 377.8v4M216.46 377.8v4M245.65 377.8v4M163.86 377.8v2.2M169.51 377.8v2.2M173.52 377.8v2.2M176.63 377.8v2.2M179.17 377.8v2.2M181.32 377.8v2.2M183.18 377.8v2.2M184.82 377.8v2.2M195.37 377.8v2.2M200.68 377.8v2.2M204.45 377.8v2.2M207.38 377.8v2.2M209.76 377.8v2.2M211.78 377.8v2.2M213.53 377.8v2.2M215.08 377.8v2.2M225.24 377.8v2.2M230.39 377.8v2.2M234.03 377.8v2.2M236.86 377.8v2.2M239.17 377.8v2.2M241.13 377.8v2.2M242.82 377.8v2.2M244.31 377.8v2.2M105.97 377.8v2.2M110.8 377.8v2.2M114.03 377.8v2.2M115.64 377.8v2.2M117.26 377.8v2.2M118.87 377.8v2.2M122.09 377.8v2.2M123.71 377.8v2.2M138.22 377.8v2.2M144.68 377.8v2.2M147.9 377.8v2.2M151.13 377.8v2.2M255.17 377.8v2.2" fill="none" stroke="#000" stroke-width="0.8"/><rect x="94.7" y="322.97" width="3.2" height="4" fill="#000"/><rect x="114.03" y="378.1" width="9.68" height="2.5" fill="#000"/><text x="120.48" y="390.8" font-size="6.5" text-anchor="middle">0</text><text x="157.19" y="390.8" font-size="7" text-anchor="middle">10<tspan font-size="5.95" dy="-3">3</tspan></text><text x="189.29" y="390.8" font-size="7" text-anchor="middle">10<tspan font-size="5.95" dy="-3">4</tspan></text><text x="219.46" y="390.8" font-size="7" text-anchor="middle">10<tspan font-size="5.95" dy="-3">5</tspan></text><text x="248.65" y="390.8" font-size="7" text-anchor="middle">10<tspan font-size="5.95" dy="-3">6</tspan></text><g filter="url(#rough)"><path d="M172.51 319.5C172.51 325.8 172.41 333.59 172.07 338.38C171.72 343.17 170.97 345.28 170.44 348.22C169.92 351.16 169.43 353.45 168.93 356.04C168.43 358.63 168.08 361.55 167.46 363.75C166.84 365.95 166.07 367.62 165.2 369.24C164.32 370.86 163.58 372.39 162.22 373.45C160.85 374.52 158.73 375.68 157 375.63C155.27 375.59 153.18 374.22 151.81 373.2C150.43 372.19 149.7 370.8 148.75 369.53C147.8 368.26 146.84 367.49 146.11 365.59C145.38 363.69 144.84 360.97 144.39 358.12C143.94 355.28 143.7 351.98 143.4 348.55C143.11 345.11 142.76 342.37 142.61 337.53C142.46 332.69 142.51 325.51 142.51 319.5C142.51 313.49 142.59 306.59 142.61 301.46C142.62 296.33 142.4 292.48 142.6 288.73C142.79 284.98 143.19 281.56 143.77 278.97C144.34 276.37 145.23 274.83 146.05 273.16C146.87 271.5 147.69 269.95 148.67 268.99C149.66 268.03 150.57 267.62 151.96 267.39C153.35 267.17 155.32 267.68 157 267.63C158.68 267.59 160.68 266.87 162.06 267.14C163.44 267.42 164.37 267.98 165.28 269.29C166.19 270.6 166.8 273.04 167.52 275C168.23 276.96 168.93 278.71 169.55 281.06C170.17 283.4 170.83 285.8 171.25 289.06C171.67 292.32 171.86 295.54 172.07 300.61C172.28 305.68 172.51 313.2 172.51 319.5Z" fill="#4a2da2"/><path d="M168.16 320.38C168.29 325.16 168.34 331.17 168.18 335.25C168.01 339.32 167.54 341.99 167.16 344.82C166.78 347.65 166.36 350.09 165.88 352.25C165.4 354.4 164.86 356.25 164.27 357.75C163.68 359.25 163 360.02 162.32 361.24C161.65 362.45 161.11 364.06 160.22 365.06C159.33 366.05 158.08 367.13 157 367.21C155.92 367.3 154.67 366.23 153.75 365.54C152.82 364.86 152.16 364.09 151.43 363.09C150.71 362.09 149.97 361.21 149.39 359.53C148.8 357.84 148.35 355.42 147.92 352.98C147.49 350.54 147.1 347.92 146.82 344.88C146.53 341.83 146.26 338.8 146.22 334.72C146.18 330.63 146.43 324.98 146.56 320.38C146.69 315.78 146.89 310.99 147.01 307.09C147.13 303.19 147.09 300.09 147.27 296.98C147.46 293.88 147.75 291.06 148.11 288.47C148.47 285.87 148.91 283.53 149.42 281.42C149.94 279.31 150.48 277.03 151.19 275.81C151.9 274.59 152.7 274.34 153.67 274.11C154.63 273.88 155.89 274.33 157 274.41C158.11 274.5 159.37 274.05 160.3 274.6C161.23 275.14 161.91 276.23 162.57 277.66C163.22 279.1 163.71 281.27 164.23 283.19C164.75 285.12 165.28 286.89 165.69 289.19C166.1 291.5 166.42 294.15 166.7 297.04C166.99 299.93 167.15 302.67 167.39 306.56C167.63 310.45 168.03 315.6 168.16 320.38Z" fill="#3b55c8"/><path d="M166.22 320.71C166.24 324.95 166.34 329.88 166.21 333.5C166.08 337.13 165.76 339.84 165.44 342.46C165.12 345.08 164.68 347.1 164.28 349.22C163.89 351.35 163.53 353.52 163.06 355.23C162.6 356.94 162.05 358.17 161.48 359.47C160.91 360.77 160.38 361.88 159.64 363.02C158.89 364.16 157.9 365.89 157 366.3C156.1 366.7 154.99 366.33 154.21 365.46C153.43 364.59 152.9 362.65 152.33 361.1C151.76 359.54 151.23 358.05 150.78 356.13C150.33 354.2 149.96 351.94 149.63 349.54C149.31 347.15 149.1 344.5 148.83 341.77C148.56 339.04 148.21 336.68 148.03 333.17C147.85 329.66 147.75 324.84 147.77 320.71C147.79 316.58 148.02 312.06 148.15 308.41C148.27 304.77 148.33 301.85 148.52 298.84C148.7 295.83 148.89 292.77 149.24 290.33C149.58 287.88 150.09 285.98 150.59 284.19C151.09 282.4 151.62 280.65 152.24 279.58C152.87 278.5 153.53 277.79 154.32 277.73C155.11 277.67 156.13 278.79 157 279.2C157.87 279.6 158.76 279.84 159.53 280.17C160.29 280.51 160.95 280.38 161.57 281.2C162.19 282.02 162.74 283.51 163.26 285.09C163.78 286.66 164.27 288.47 164.68 290.64C165.1 292.82 165.52 295.24 165.75 298.15C165.99 301.05 166.02 304.32 166.1 308.08C166.17 311.84 166.2 316.47 166.22 320.71Z" fill="#5cc0e2"/><path d="M164.38 321.04C164.44 324.65 164.57 328.86 164.5 332.15C164.44 335.44 164.2 338.12 163.98 340.77C163.76 343.42 163.48 345.75 163.18 348.05C162.88 350.35 162.58 352.78 162.18 354.58C161.78 356.37 161.28 357.63 160.77 358.8C160.26 359.98 159.75 360.92 159.12 361.63C158.49 362.34 157.7 363.23 157 363.05C156.3 362.87 155.52 361.65 154.93 360.53C154.35 359.42 153.94 357.67 153.47 356.37C153 355.07 152.53 354.19 152.1 352.73C151.68 351.27 151.28 349.57 150.93 347.6C150.57 345.63 150.26 343.4 149.97 340.9C149.68 338.41 149.33 335.93 149.18 332.62C149.03 329.31 149.02 324.81 149.08 321.04C149.14 317.27 149.38 313.28 149.54 309.99C149.69 306.69 149.79 303.94 150 301.27C150.22 298.6 150.48 296.05 150.81 293.97C151.15 291.9 151.6 290.39 152.02 288.8C152.44 287.21 152.85 285.56 153.34 284.43C153.83 283.3 154.35 282.46 154.96 282C155.57 281.54 156.31 281.83 157 281.65C157.69 281.47 158.45 280.85 159.1 280.9C159.75 280.96 160.37 280.99 160.9 281.99C161.43 283 161.87 285.03 162.27 286.95C162.67 288.87 163.01 291.11 163.29 293.52C163.57 295.93 163.81 298.57 163.95 301.4C164.09 304.22 164.07 307.19 164.15 310.46C164.22 313.73 164.32 317.43 164.38 321.04Z" fill="#4fbf45"/><path d="M163.42 321.35C163.43 324.7 163.41 328.56 163.26 331.49C163.12 334.41 162.78 336.65 162.52 338.9C162.26 341.14 161.97 342.94 161.7 344.95C161.44 346.95 161.22 349.19 160.92 350.92C160.61 352.66 160.24 354.08 159.85 355.37C159.47 356.66 159.07 357.79 158.59 358.66C158.12 359.54 157.53 360.55 157 360.62C156.47 360.69 155.87 359.86 155.39 359.09C154.9 358.32 154.51 357.09 154.09 356C153.67 354.9 153.22 354.11 152.87 352.53C152.52 350.95 152.21 348.81 151.98 346.54C151.74 344.28 151.61 341.56 151.46 338.95C151.32 336.34 151.16 333.84 151.1 330.9C151.03 327.97 151.04 324.51 151.06 321.35C151.07 318.19 151.15 314.97 151.19 311.94C151.22 308.9 151.17 305.91 151.27 303.14C151.38 300.37 151.55 297.5 151.81 295.31C152.07 293.13 152.48 291.55 152.85 290.02C153.22 288.49 153.62 287.09 154.05 286.14C154.47 285.18 154.93 284.57 155.42 284.31C155.91 284.04 156.48 284.47 157 284.54C157.52 284.61 158.08 284.37 158.56 284.74C159.05 285.11 159.51 285.62 159.9 286.76C160.3 287.91 160.61 289.94 160.93 291.63C161.26 293.32 161.58 294.98 161.87 296.91C162.17 298.84 162.49 300.78 162.71 303.19C162.93 305.6 163.06 308.33 163.18 311.35C163.29 314.38 163.4 317.99 163.42 321.35Z" fill="#e8e03a"/><path d="M162.04 321.55C162.06 324.48 162.11 327.62 162.07 330.45C162.04 333.28 161.98 336.1 161.82 338.51C161.67 340.91 161.39 342.85 161.15 344.86C160.91 346.88 160.67 348.79 160.39 350.58C160.11 352.37 159.83 354.39 159.49 355.61C159.14 356.82 158.74 357.41 158.32 357.86C157.91 358.32 157.44 358.47 157 358.32C156.56 358.17 156.09 357.86 155.71 356.97C155.33 356.07 155.02 354.3 154.71 352.96C154.39 351.63 154.11 350.28 153.8 348.93C153.49 347.59 153.12 346.61 152.85 344.89C152.57 343.16 152.34 340.94 152.15 338.59C151.97 336.23 151.84 333.6 151.75 330.76C151.65 327.92 151.56 324.59 151.57 321.55C151.59 318.5 151.72 315.25 151.85 312.51C151.97 309.77 152.16 307.51 152.32 305.1C152.48 302.69 152.6 300.1 152.82 298.05C153.04 296 153.34 294.19 153.64 292.8C153.95 291.4 154.32 290.65 154.67 289.67C155.02 288.69 155.35 287.57 155.74 286.9C156.13 286.23 156.57 285.81 157 285.66C157.43 285.51 157.88 285.78 158.3 286C158.72 286.23 159.14 286.17 159.52 287.02C159.9 287.88 160.27 289.31 160.55 291.15C160.82 292.99 160.99 295.74 161.17 298.08C161.36 300.42 161.52 302.73 161.65 305.18C161.79 307.64 161.91 310.09 161.97 312.82C162.04 315.55 162.03 318.61 162.04 321.55Z" fill="#f29a2c"/><path d="M161.7 321.7C161.65 324.54 161.46 327.42 161.34 329.96C161.21 332.5 161.07 334.68 160.93 336.93C160.78 339.17 160.65 341.47 160.46 343.42C160.28 345.38 160.03 347 159.79 348.65C159.55 350.3 159.31 352 159.03 353.33C158.75 354.66 158.44 356.04 158.1 356.62C157.76 357.2 157.36 356.9 157 356.81C156.64 356.72 156.27 356.45 155.92 356.07C155.57 355.68 155.21 355.51 154.9 354.49C154.59 353.48 154.31 351.73 154.07 349.97C153.83 348.21 153.63 346.05 153.45 343.93C153.28 341.81 153.1 339.62 152.99 337.24C152.89 334.86 152.86 332.26 152.82 329.67C152.77 327.08 152.74 324.44 152.7 321.7C152.65 318.96 152.54 315.96 152.55 313.23C152.56 310.5 152.65 307.73 152.78 305.32C152.91 302.92 153.13 300.79 153.35 298.79C153.56 296.78 153.78 294.75 154.05 293.27C154.32 291.8 154.65 290.78 154.96 289.95C155.28 289.11 155.61 288.81 155.95 288.29C156.29 287.77 156.65 286.9 157 286.81C157.35 286.72 157.74 287.02 158.07 287.74C158.4 288.46 158.67 289.97 158.96 291.11C159.25 292.25 159.54 293.23 159.81 294.6C160.08 295.96 160.35 297.45 160.57 299.29C160.8 301.13 160.97 303.36 161.14 305.64C161.31 307.91 161.51 310.26 161.6 312.94C161.69 315.61 161.74 318.86 161.7 321.7Z" fill="#e4341e"/></g><path d="M162.7 362.3h2.2v2.2h-2.2zM153.1 371.3h2.2v2.2h-2.2zM169.6 304.2h2.2v2.2h-2.2zM170.1 306.7h2.2v2.2h-2.2zM145.8 364.4h2.2v2.2h-2.2zM162.5 269.2h2.2v2.2h-2.2zM170.5 335.2h2.2v2.2h-2.2zM144.4 361.2h2.2v2.2h-2.2zM161.2 368.9h2.2v2.2h-2.2zM167.1 287.9h2.2v2.2h-2.2zM142.1 349.5h2.2v2.2h-2.2zM157.4 268.0h2.2v2.2h-2.2zM169.7 329.4h2.2v2.2h-2.2zM168.8 293.0h2.2v2.2h-2.2zM155.6 259.0h2.2v2.2h-2.2zM148.1 363.3h2.2v2.2h-2.2zM171.1 303.5h2.2v2.2h-2.2zM154.7 375.8h2.2v2.2h-2.2zM149.9 366.9h2.2v2.2h-2.2zM172.0 319.8h2.2v2.2h-2.2zM169.5 290.0h2.2v2.2h-2.2zM169.0 300.8h2.2v2.2h-2.2zM157.4 373.2h2.2v2.2h-2.2zM172.0 302.3h2.2v2.2h-2.2zM144.8 352.9h2.2v2.2h-2.2zM142.0 342.0h2.2v2.2h-2.2zM168.9 295.7h2.2v2.2h-2.2zM161.1 263.7h2.2v2.2h-2.2zM163.0 266.2h2.2v2.2h-2.2zM144.3 285.0h2.2v2.2h-2.2zM149.6 367.3h2.2v2.2h-2.2zM158.8 268.4h2.2v2.2h-2.2zM161.1 373.2h2.2v2.2h-2.2zM156.1 369.3h2.2v2.2h-2.2zM171.1 330.2h2.2v2.2h-2.2zM148.2 372.0h2.2v2.2h-2.2zM168.4 278.1h2.2v2.2h-2.2zM154.6 369.3h2.2v2.2h-2.2zM168.5 349.9h2.2v2.2h-2.2zM152.1 265.3h2.2v2.2h-2.2zM157.4 372.6h2.2v2.2h-2.2zM144.4 279.2h2.2v2.2h-2.2zM155.7 259.5h2.2v2.2h-2.2zM148.6 274.2h2.2v2.2h-2.2zM163.9 273.6h2.2v2.2h-2.2zM142.2 296.3h2.2v2.2h-2.2zM154.8 266.3h2.2v2.2h-2.2zM156.1 371.1h2.2v2.2h-2.2zM165.3 367.1h2.2v2.2h-2.2zM142.8 293.1h2.2v2.2h-2.2zM142.6 355.1h2.2v2.2h-2.2zM141.3 316.0h2.2v2.2h-2.2zM161.6 265.3h2.2v2.2h-2.2zM170.1 315.5h2.2v2.2h-2.2zM139.8 327.7h2.2v2.2h-2.2zM164.8 268.2h2.2v2.2h-2.2zM170.2 331.8h2.2v2.2h-2.2zM166.5 353.9h2.2v2.2h-2.2zM171.3 308.9h2.2v2.2h-2.2zM169.5 295.4h2.2v2.2h-2.2zM166.1 277.5h2.2v2.2h-2.2zM154.9 376.5h2.2v2.2h-2.2zM169.3 301.2h2.2v2.2h-2.2zM143.0 286.3h2.2v2.2h-2.2zM158.9 371.3h2.2v2.2h-2.2zM165.1 359.0h2.2v2.2h-2.2zM155.4 374.7h2.2v2.2h-2.2zM147.5 275.8h2.2v2.2h-2.2zM170.7 322.2h2.2v2.2h-2.2zM149.6 271.5h2.2v2.2h-2.2zM174.4 258.2h2.2v2.2h-2.2zM181.7 247.7h2.2v2.2h-2.2zM171.5 249.7h2.2v2.2h-2.2zM168.2 262.6h2.2v2.2h-2.2zM175.5 253.2h2.2v2.2h-2.2zM191.9 240.7h2.2v2.2h-2.2zM169.1 255.0h2.2v2.2h-2.2zM193.5 237.5h2.2v2.2h-2.2zM186.3 243.0h2.2v2.2h-2.2zM186.8 240.9h2.2v2.2h-2.2zM178.4 248.5h2.2v2.2h-2.2zM171.9 257.2h2.2v2.2h-2.2zM184.5 244.2h2.2v2.2h-2.2zM180.4 247.9h2.2v2.2h-2.2zM166.8 260.8h2.2v2.2h-2.2zM195.2 240.0h2.2v2.2h-2.2zM190.6 240.4h2.2v2.2h-2.2zM174.6 254.9h2.2v2.2h-2.2zM184.8 251.1h2.2v2.2h-2.2zM178.8 248.8h2.2v2.2h-2.2zM192.1 244.7h2.2v2.2h-2.2zM165.2 258.6h2.2v2.2h-2.2zM190.3 242.1h2.2v2.2h-2.2zM172.8 250.6h2.2v2.2h-2.2zM166.9 262.6h2.2v2.2h-2.2zM195.3 239.5h2.2v2.2h-2.2zM192.7 243.3h2.2v2.2h-2.2zM163.6 255.7h2.2v2.2h-2.2zM181.9 248.2h2.2v2.2h-2.2zM177.6 248.3h2.2v2.2h-2.2zM176.6 250.0h2.2v2.2h-2.2zM180.5 245.6h2.2v2.2h-2.2zM188.0 238.5h2.2v2.2h-2.2zM167.2 256.6h2.2v2.2h-2.2zM165.8 258.2h2.2v2.2h-2.2zM176.2 249.8h2.2v2.2h-2.2zM187.5 247.4h2.2v2.2h-2.2zM186.8 241.4h2.2v2.2h-2.2zM173.7 253.4h2.2v2.2h-2.2zM173.5 249.7h2.2v2.2h-2.2zM187.1 240.8h2.2v2.2h-2.2zM186.8 236.7h2.2v2.2h-2.2zM194.9 242.6h2.2v2.2h-2.2zM195.2 238.8h2.2v2.2h-2.2zM190.6 247.4h2.2v2.2h-2.2zM172.4 252.5h2.2v2.2h-2.2zM180.8 247.4h2.2v2.2h-2.2zM168.7 254.2h2.2v2.2h-2.2zM164.8 261.6h2.2v2.2h-2.2zM190.1 231.7h2.2v2.2h-2.2zM168.6 255.2h2.2v2.2h-2.2zM178.0 245.5h2.2v2.2h-2.2zM187.1 237.7h2.2v2.2h-2.2zM198.6 244.6h2.2v2.2h-2.2zM178.8 248.5h2.2v2.2h-2.2zM175.3 254.0h2.2v2.2h-2.2zM174.7 248.7h2.2v2.2h-2.2zM168.5 255.5h2.2v2.2h-2.2zM189.0 244.7h2.2v2.2h-2.2zM190.6 234.0h2.2v2.2h-2.2zM188.8 317.0h2.2v2.2h-2.2zM178.2 325.0h2.2v2.2h-2.2zM200.3 340.2h2.2v2.2h-2.2zM196.4 365.3h2.2v2.2h-2.2zM181.9 329.2h2.2v2.2h-2.2zM201.7 318.1h2.2v2.2h-2.2zM177.0 336.1h2.2v2.2h-2.2zM180.9 336.2h2.2v2.2h-2.2zM185.4 348.4h2.2v2.2h-2.2zM199.3 327.9h2.2v2.2h-2.2zM200.6 342.5h2.2v2.2h-2.2zM182.0 367.5h2.2v2.2h-2.2zM186.2 325.0h2.2v2.2h-2.2zM180.5 351.4h2.2v2.2h-2.2zM210.0 359.1h2.2v2.2h-2.2zM192.2 331.2h2.2v2.2h-2.2zM177.3 351.7h2.2v2.2h-2.2zM198.3 335.8h2.2v2.2h-2.2zM201.4 340.9h2.2v2.2h-2.2zM212.5 356.5h2.2v2.2h-2.2zM186.3 365.7h2.2v2.2h-2.2zM178.6 345.6h2.2v2.2h-2.2zM192.3 329.7h2.2v2.2h-2.2zM179.1 359.0h2.2v2.2h-2.2zM177.4 346.6h2.2v2.2h-2.2zM212.7 324.6h2.2v2.2h-2.2zM184.5 349.7h2.2v2.2h-2.2zM196.2 351.5h2.2v2.2h-2.2zM207.8 326.3h2.2v2.2h-2.2zM188.7 333.1h2.2v2.2h-2.2zM178.7 364.9h2.2v2.2h-2.2zM206.7 355.5h2.2v2.2h-2.2zM177.1 362.5h2.2v2.2h-2.2zM205.2 342.0h2.2v2.2h-2.2zM205.1 341.3h2.2v2.2h-2.2zM111.0 305.2h2.2v2.2h-2.2zM111.3 301.2h2.2v2.2h-2.2zM115.0 343.9h2.2v2.2h-2.2zM127.9 349.6h2.2v2.2h-2.2zM128.5 314.9h2.2v2.2h-2.2zM122.8 325.1h2.2v2.2h-2.2zM131.3 330.3h2.2v2.2h-2.2zM112.5 337.4h2.2v2.2h-2.2zM137.6 311.9h2.2v2.2h-2.2zM134.6 299.8h2.2v2.2h-2.2zM179.5 276.0h2.2v2.2h-2.2zM195.4 297.2h2.2v2.2h-2.2zM195.5 278.7h2.2v2.2h-2.2zM199.9 278.8h2.2v2.2h-2.2zM178.8 296.1h2.2v2.2h-2.2zM191.7 289.7h2.2v2.2h-2.2zM192.9 298.3h2.2v2.2h-2.2zM186.4 294.1h2.2v2.2h-2.2zM193.9 294.6h2.2v2.2h-2.2zM185.3 290.6h2.2v2.2h-2.2z" fill="#4a2da2"/><rect x="171.3" y="222.6" width="40" height="46.7" fill="none" stroke="#000" stroke-width="1.6"/><rect x="176.7" y="302" width="59.2" height="71.3" fill="none" stroke="#000" stroke-width="1.6"/><rect x="358" y="217.7" width="161.4" height="160.1" fill="none" stroke="#8c8c8c" stroke-width="1.2"/><text x="352" y="245.62" font-size="7" text-anchor="end">10<tspan font-size="5.95" dy="-3">5</tspan></text><text x="352" y="275.55" font-size="7" text-anchor="end">10<tspan font-size="5.95" dy="-3">4</tspan></text><text x="352" y="308.54" font-size="7" text-anchor="end">10<tspan font-size="5.95" dy="-3">3</tspan></text><text x="351" y="328.87" font-size="6.5" text-anchor="end">0</text><text x="352" y="351.44" font-size="7" text-anchor="end">-10<tspan font-size="5.95" dy="-3">3</tspan></text><path d="M358 243.32h-4M358 273.25h-4M358 306.24h-4M358 326.57h-4M358 349.14h-4M358 296.31h-2.2M358 290.5h-2.2M358 286.38h-2.2M358 283.18h-2.2M358 280.57h-2.2M358 278.36h-2.2M358 276.45h-2.2M358 274.76h-2.2M358 264.24h-2.2M358 258.97h-2.2M358 255.23h-2.2M358 252.33h-2.2M358 249.96h-2.2M358 247.95h-2.2M358 246.22h-2.2M358 244.69h-2.2M358 234.16h-2.2M358 228.8h-2.2M358 225h-2.2M358 222.05h-2.2M358 219.65h-2.2M358 316.96h-2.2M358 320.16h-2.2M358 323.37h-2.2M358 329.77h-2.2M358 332.97h-2.2M358 336.17h-2.2M358 358.59h-2.2M358 368.19h-2.2M358 373h-2.2M380.6 377.8v4M414.33 377.8v4M446.45 377.8v4M476.63 377.8v4M505.84 377.8v4M424 377.8v2.2M429.65 377.8v2.2M433.67 377.8v2.2M436.78 377.8v2.2M439.32 377.8v2.2M441.47 377.8v2.2M443.33 377.8v2.2M444.98 377.8v2.2M455.53 377.8v2.2M460.85 377.8v2.2M464.62 377.8v2.2M467.54 377.8v2.2M469.93 377.8v2.2M471.95 377.8v2.2M473.7 377.8v2.2M475.25 377.8v2.2M485.42 377.8v2.2M490.57 377.8v2.2M494.22 377.8v2.2M497.05 377.8v2.2M499.36 377.8v2.2M501.32 377.8v2.2M503.01 377.8v2.2M504.51 377.8v2.2M366.07 377.8v2.2M370.91 377.8v2.2M374.14 377.8v2.2M375.75 377.8v2.2M377.37 377.8v2.2M378.98 377.8v2.2M382.21 377.8v2.2M383.82 377.8v2.2M398.35 377.8v2.2M404.81 377.8v2.2M408.03 377.8v2.2M411.26 377.8v2.2M515.37 377.8v2.2" fill="none" stroke="#000" stroke-width="0.8"/><rect x="354.8" y="322.97" width="3.2" height="4" fill="#000"/><rect x="374.14" y="378.1" width="9.68" height="2.5" fill="#000"/><text x="380.6" y="390.8" font-size="6.5" text-anchor="middle">0</text><text x="417.33" y="390.8" font-size="7" text-anchor="middle">10<tspan font-size="5.95" dy="-3">3</tspan></text><text x="449.45" y="390.8" font-size="7" text-anchor="middle">10<tspan font-size="5.95" dy="-3">4</tspan></text><text x="479.63" y="390.8" font-size="7" text-anchor="middle">10<tspan font-size="5.95" dy="-3">5</tspan></text><text x="508.84" y="390.8" font-size="7" text-anchor="middle">10<tspan font-size="5.95" dy="-3">6</tspan></text><g filter="url(#rough)"><path d="M434.79 310.3C434.67 317.42 434.09 325.77 433.68 331.24C433.26 336.71 432.69 339.29 432.28 343.12C431.87 346.95 431.71 350.86 431.21 354.21C430.72 357.57 430.09 360.6 429.32 363.27C428.55 365.94 427.65 368.22 426.57 370.22C425.49 372.23 424.55 374.55 422.84 375.31C421.13 376.07 418.41 375.48 416.3 374.79C414.19 374.09 411.84 372.23 410.18 371.15C408.52 370.07 407.49 369.7 406.36 368.29C405.23 366.89 404.24 365.08 403.42 362.72C402.59 360.37 402.03 357.2 401.4 354.17C400.77 351.14 400.09 348.31 399.63 344.55C399.17 340.78 398.85 337.28 398.65 331.57C398.44 325.86 398.51 317.53 398.39 310.3C398.27 303.07 397.91 294.26 397.93 288.16C397.95 282.07 398.03 277.69 398.49 273.72C398.95 269.74 399.87 266.99 400.68 264.3C401.49 261.61 402.37 259.42 403.34 257.58C404.32 255.74 405.35 254.27 406.52 253.27C407.7 252.27 408.77 252.33 410.39 251.58C412.02 250.83 414.26 249.48 416.3 248.79C418.34 248.09 420.94 246.99 422.62 247.42C424.31 247.84 425.28 249.74 426.41 251.34C427.54 252.94 428.47 254.88 429.39 257.04C430.31 259.19 431.26 261.24 431.93 264.26C432.61 267.28 433 271.11 433.41 275.15C433.82 279.19 434.16 282.64 434.39 288.5C434.62 294.36 434.91 303.18 434.79 310.3Z" fill="#4a2da2"/><path d="M428.06 305.78C428.1 310.65 428.22 316.45 428.04 320.53C427.87 324.61 427.4 327.33 427.01 330.27C426.61 333.21 426.13 335.56 425.68 338.16C425.23 340.76 424.87 343.68 424.29 345.89C423.71 348.1 422.99 349.91 422.18 351.44C421.37 352.96 420.57 354.16 419.43 355.04C418.3 355.92 416.71 356.93 415.38 356.69C414.05 356.46 412.5 354.98 411.44 353.63C410.38 352.27 409.78 350.11 409.01 348.58C408.23 347.05 407.47 346.1 406.8 344.43C406.12 342.75 405.49 340.83 404.96 338.52C404.43 336.21 404.03 333.52 403.61 330.57C403.2 327.61 402.7 324.95 402.47 320.82C402.23 316.69 402.17 310.74 402.22 305.78C402.26 300.82 402.55 295.31 402.72 291.04C402.89 286.77 402.93 283.45 403.22 280.17C403.5 276.89 403.87 273.72 404.43 271.35C404.98 268.98 405.79 267.5 406.53 265.94C407.27 264.37 408.01 262.98 408.86 261.96C409.7 260.93 410.51 260.19 411.59 259.78C412.68 259.37 414.1 259.73 415.38 259.49C416.66 259.26 418.12 258.43 419.28 258.36C420.44 258.3 421.45 258.08 422.33 259.1C423.21 260.12 423.91 262.37 424.56 264.47C425.2 266.57 425.74 269.05 426.22 271.71C426.69 274.38 427.14 277.19 427.4 280.46C427.66 283.73 427.68 287.11 427.79 291.33C427.9 295.55 428.01 300.91 428.06 305.78Z" fill="#3b55c8"/><path d="M426.35 304.08C426.48 308.3 426.48 313.49 426.31 317.18C426.14 320.87 425.69 323.52 425.3 326.22C424.92 328.93 424.51 331.39 424 333.43C423.49 335.48 422.88 337.08 422.26 338.48C421.63 339.88 420.94 340.62 420.25 341.83C419.57 343.03 419.01 344.73 418.14 345.7C417.27 346.68 416.07 347.59 415.04 347.66C414 347.74 412.82 346.78 411.9 346.15C410.98 345.53 410.27 344.93 409.53 343.93C408.79 342.93 408.06 341.84 407.46 340.15C406.87 338.46 406.42 336.09 405.96 333.78C405.51 331.47 405.05 329.11 404.74 326.28C404.43 323.44 404.16 320.47 404.11 316.77C404.07 313.07 404.34 308.16 404.47 304.09C404.6 300.01 404.76 295.82 404.89 292.29C405.01 288.77 405.02 285.83 405.23 282.95C405.44 280.07 405.78 277.5 406.15 275.01C406.53 272.52 406.94 270.09 407.46 268.01C407.99 265.94 408.57 263.73 409.3 262.58C410.02 261.42 410.88 261.32 411.83 261.1C412.79 260.88 413.97 261.19 415.03 261.26C416.1 261.34 417.3 260.98 418.2 261.55C419.11 262.12 419.81 263.32 420.48 264.68C421.16 266.03 421.7 267.9 422.26 269.68C422.81 271.46 423.38 273.13 423.81 275.36C424.24 277.58 424.52 280.25 424.81 283.01C425.1 285.76 425.28 288.37 425.54 291.88C425.8 295.39 426.22 299.87 426.35 304.08Z" fill="#5cc0e2"/><path d="M423.75 302.39C423.79 305.79 423.67 309.71 423.51 312.75C423.36 315.79 423.07 318.07 422.83 320.64C422.6 323.2 422.44 325.9 422.11 328.13C421.78 330.36 421.36 332.47 420.85 334.01C420.35 335.55 419.71 336.46 419.09 337.36C418.47 338.26 417.87 339.13 417.13 339.41C416.4 339.7 415.48 339.44 414.69 339.07C413.9 338.7 413.1 337.68 412.39 337.2C411.68 336.71 411.07 336.78 410.43 336.18C409.8 335.59 409.13 334.97 408.6 333.62C408.08 332.28 407.66 330.18 407.27 328.12C406.88 326.07 406.51 323.83 406.25 321.3C406 318.76 405.8 316.06 405.73 312.91C405.66 309.76 405.79 305.85 405.83 302.39C405.87 298.93 405.88 295.24 405.98 292.17C406.09 289.09 406.18 286.32 406.46 283.94C406.73 281.57 407.22 279.75 407.63 277.91C408.05 276.07 408.49 274.52 408.95 272.92C409.41 271.32 409.85 269.53 410.4 268.29C410.95 267.05 411.54 266.26 412.25 265.46C412.97 264.65 413.85 263.84 414.69 263.47C415.53 263.1 416.53 262.63 417.27 263.24C418.01 263.85 418.59 265.56 419.13 267.11C419.67 268.66 420.07 270.74 420.51 272.53C420.94 274.33 421.4 275.89 421.75 277.9C422.1 279.91 422.37 282.2 422.63 284.61C422.88 287.01 423.07 289.36 423.26 292.33C423.45 295.29 423.71 298.99 423.75 302.39Z" fill="#4fbf45"/><path d="M421.47 300.81C421.54 303.65 421.66 306.88 421.61 309.57C421.56 312.27 421.42 314.87 421.17 316.99C420.92 319.11 420.46 320.68 420.09 322.3C419.73 323.93 419.35 325.38 418.95 326.73C418.55 328.07 418.15 329.5 417.69 330.39C417.22 331.29 416.71 331.65 416.15 332.09C415.6 332.53 414.97 332.93 414.37 333.03C413.77 333.13 413.09 333.19 412.55 332.68C412 332.17 411.56 330.93 411.1 329.97C410.63 329 410.19 328.05 409.75 326.9C409.31 325.75 408.79 324.75 408.44 323.07C408.09 321.39 407.83 319.11 407.63 316.83C407.44 314.55 407.35 312.06 407.28 309.39C407.22 306.72 407.18 303.58 407.25 300.81C407.32 298.03 407.54 295.17 407.7 292.74C407.87 290.3 408.06 288.39 408.23 286.19C408.39 284 408.47 281.55 408.71 279.56C408.95 277.58 409.29 275.74 409.67 274.28C410.06 272.81 410.53 271.81 411 270.77C411.47 269.73 411.94 268.6 412.5 268.06C413.06 267.51 413.75 267.41 414.37 267.51C414.99 267.61 415.63 268.18 416.2 268.65C416.77 269.12 417.31 269.37 417.78 270.34C418.26 271.31 418.69 272.79 419.03 274.46C419.37 276.12 419.57 278.39 419.82 280.32C420.08 282.25 420.35 283.99 420.58 286.03C420.81 288.07 421.04 290.09 421.19 292.55C421.33 295.01 421.4 297.97 421.47 300.81Z" fill="#e8e03a"/><path d="M419.78 299.79C419.75 302.17 419.77 304.56 419.72 306.8C419.67 309.04 419.63 311.23 419.48 313.22C419.34 315.22 419.1 317.01 418.86 318.77C418.63 320.54 418.38 322.38 418.06 323.8C417.75 325.22 417.36 326.48 416.96 327.29C416.55 328.1 416.09 328.26 415.63 328.66C415.16 329.06 414.66 329.58 414.16 329.7C413.67 329.81 413.11 329.92 412.66 329.36C412.21 328.8 411.83 327.47 411.46 326.34C411.1 325.2 410.77 323.91 410.46 322.55C410.15 321.2 409.84 319.83 409.6 318.22C409.35 316.6 409.19 314.72 408.98 312.87C408.78 311.01 408.54 309.27 408.37 307.09C408.2 304.91 407.97 302.27 407.93 299.79C407.9 297.31 408.02 294.51 408.15 292.22C408.29 289.94 408.52 287.99 408.73 286.08C408.94 284.17 409.16 282.28 409.44 280.74C409.72 279.2 410.09 278.02 410.43 276.85C410.78 275.68 411.13 274.69 411.51 273.71C411.89 272.74 412.26 271.51 412.7 271C413.14 270.49 413.68 270.54 414.16 270.66C414.64 270.77 415.13 271.35 415.59 271.7C416.04 272.05 416.49 272.11 416.91 272.76C417.33 273.41 417.74 274.36 418.09 275.6C418.45 276.84 418.75 278.49 419.02 280.18C419.29 281.87 419.58 283.67 419.73 285.72C419.89 287.78 419.93 290.16 419.94 292.51C419.95 294.85 419.82 297.41 419.78 299.79Z" fill="#f29a2c"/><path d="M419.06 299C419.05 301.15 418.94 303.36 418.87 305.44C418.8 307.52 418.76 309.56 418.64 311.48C418.51 313.4 418.36 315.45 418.13 316.96C417.89 318.47 417.53 319.53 417.22 320.54C416.9 321.54 416.56 322.34 416.22 323C415.87 323.66 415.53 324.22 415.16 324.49C414.79 324.77 414.39 324.57 414 324.64C413.61 324.71 413.21 324.97 412.82 324.92C412.44 324.86 412.02 324.95 411.66 324.29C411.31 323.64 411 322.29 410.72 321C410.44 319.7 410.2 318.1 409.98 316.51C409.76 314.91 409.53 313.26 409.39 311.41C409.25 309.56 409.2 307.49 409.14 305.42C409.09 303.35 409.06 301.15 409.06 299C409.05 296.85 409.02 294.51 409.11 292.53C409.2 290.55 409.4 288.77 409.58 287.1C409.77 285.44 410.01 284.07 410.21 282.52C410.42 280.97 410.59 279.22 410.84 277.82C411.09 276.42 411.38 275.11 411.7 274.11C412.02 273.1 412.38 272.36 412.77 271.78C413.15 271.2 413.59 270.57 414 270.64C414.41 270.71 414.85 271.41 415.22 272.21C415.58 273 415.87 274.39 416.18 275.4C416.49 276.41 416.81 277.17 417.09 278.28C417.38 279.39 417.66 280.61 417.89 282.07C418.11 283.53 418.28 285.29 418.45 287.03C418.62 288.77 418.8 290.52 418.9 292.51C419.01 294.51 419.06 296.85 419.06 299Z" fill="#e4341e"/></g><path d="M423.3 246.9h2.2v2.2h-2.2zM428.5 271.7h2.2v2.2h-2.2zM428.7 257.9h2.2v2.2h-2.2zM431.4 288.7h2.2v2.2h-2.2zM420.0 366.8h2.2v2.2h-2.2zM434.6 324.0h2.2v2.2h-2.2zM422.5 248.0h2.2v2.2h-2.2zM423.9 250.3h2.2v2.2h-2.2zM411.2 367.3h2.2v2.2h-2.2zM431.2 348.2h2.2v2.2h-2.2zM420.2 369.1h2.2v2.2h-2.2zM400.1 336.3h2.2v2.2h-2.2zM414.4 371.1h2.2v2.2h-2.2zM411.3 247.7h2.2v2.2h-2.2zM406.5 372.5h2.2v2.2h-2.2zM395.3 307.6h2.2v2.2h-2.2zM402.7 269.3h2.2v2.2h-2.2zM399.5 342.4h2.2v2.2h-2.2zM417.8 247.1h2.2v2.2h-2.2zM409.9 246.8h2.2v2.2h-2.2zM419.4 376.6h2.2v2.2h-2.2zM431.8 346.2h2.2v2.2h-2.2zM423.3 360.6h2.2v2.2h-2.2zM421.0 373.9h2.2v2.2h-2.2zM432.0 301.1h2.2v2.2h-2.2zM396.6 312.9h2.2v2.2h-2.2zM420.3 251.0h2.2v2.2h-2.2zM397.1 311.3h2.2v2.2h-2.2zM424.0 255.5h2.2v2.2h-2.2zM432.0 287.8h2.2v2.2h-2.2zM419.5 374.5h2.2v2.2h-2.2zM397.9 309.8h2.2v2.2h-2.2zM403.9 264.1h2.2v2.2h-2.2zM419.8 244.2h2.2v2.2h-2.2zM419.6 244.9h2.2v2.2h-2.2zM403.9 359.1h2.2v2.2h-2.2zM399.4 351.8h2.2v2.2h-2.2zM432.3 344.9h2.2v2.2h-2.2zM432.6 318.8h2.2v2.2h-2.2zM413.5 378.3h2.2v2.2h-2.2zM397.0 308.7h2.2v2.2h-2.2zM428.4 268.3h2.2v2.2h-2.2zM397.0 325.0h2.2v2.2h-2.2zM415.7 241.6h2.2v2.2h-2.2zM404.2 259.3h2.2v2.2h-2.2zM407.1 362.8h2.2v2.2h-2.2zM425.8 253.7h2.2v2.2h-2.2zM414.3 248.7h2.2v2.2h-2.2zM397.0 334.7h2.2v2.2h-2.2zM399.9 280.5h2.2v2.2h-2.2zM395.8 325.6h2.2v2.2h-2.2zM416.5 369.9h2.2v2.2h-2.2zM409.0 372.7h2.2v2.2h-2.2zM424.9 258.9h2.2v2.2h-2.2zM425.1 360.3h2.2v2.2h-2.2zM406.5 366.7h2.2v2.2h-2.2zM424.8 362.2h2.2v2.2h-2.2zM422.8 374.4h2.2v2.2h-2.2zM412.9 249.9h2.2v2.2h-2.2zM432.0 295.2h2.2v2.2h-2.2zM400.0 356.0h2.2v2.2h-2.2zM420.6 244.5h2.2v2.2h-2.2zM399.0 333.4h2.2v2.2h-2.2zM404.0 263.6h2.2v2.2h-2.2zM420.1 370.1h2.2v2.2h-2.2zM433.1 322.6h2.2v2.2h-2.2zM420.1 244.5h2.2v2.2h-2.2zM396.1 309.0h2.2v2.2h-2.2zM398.2 323.0h2.2v2.2h-2.2zM400.6 270.7h2.2v2.2h-2.2zM454.4 261.0h2.2v2.2h-2.2zM445.4 250.3h2.2v2.2h-2.2zM454.6 245.4h2.2v2.2h-2.2zM439.5 255.0h2.2v2.2h-2.2zM458.4 256.7h2.2v2.2h-2.2zM453.2 259.2h2.2v2.2h-2.2zM452.6 252.4h2.2v2.2h-2.2zM446.1 241.9h2.2v2.2h-2.2zM451.1 235.0h2.2v2.2h-2.2zM445.1 256.9h2.2v2.2h-2.2zM453.6 252.0h2.2v2.2h-2.2zM440.2 245.5h2.2v2.2h-2.2zM446.1 251.8h2.2v2.2h-2.2zM444.8 253.5h2.2v2.2h-2.2zM459.9 237.8h2.2v2.2h-2.2zM451.9 256.8h2.2v2.2h-2.2zM444.2 247.6h2.2v2.2h-2.2zM461.2 233.1h2.2v2.2h-2.2zM448.7 237.0h2.2v2.2h-2.2zM455.6 262.0h2.2v2.2h-2.2zM448.0 235.1h2.2v2.2h-2.2zM449.6 249.2h2.2v2.2h-2.2zM453.7 248.3h2.2v2.2h-2.2zM451.4 258.4h2.2v2.2h-2.2zM448.0 245.0h2.2v2.2h-2.2zM460.4 238.6h2.2v2.2h-2.2zM452.7 244.5h2.2v2.2h-2.2zM455.0 235.8h2.2v2.2h-2.2zM461.4 243.3h2.2v2.2h-2.2zM434.5 240.7h2.2v2.2h-2.2zM444.5 232.3h2.2v2.2h-2.2zM445.0 245.4h2.2v2.2h-2.2zM453.1 243.2h2.2v2.2h-2.2zM440.6 239.1h2.2v2.2h-2.2zM454.4 262.0h2.2v2.2h-2.2zM448.2 238.9h2.2v2.2h-2.2zM456.1 244.4h2.2v2.2h-2.2zM439.0 236.0h2.2v2.2h-2.2zM455.4 257.8h2.2v2.2h-2.2zM451.3 246.9h2.2v2.2h-2.2zM449.2 239.1h2.2v2.2h-2.2zM460.9 243.2h2.2v2.2h-2.2zM451.4 258.1h2.2v2.2h-2.2zM456.6 246.9h2.2v2.2h-2.2zM441.4 249.4h2.2v2.2h-2.2zM441.0 357.3h2.2v2.2h-2.2zM450.4 358.4h2.2v2.2h-2.2zM446.9 325.2h2.2v2.2h-2.2zM446.3 328.7h2.2v2.2h-2.2zM443.5 299.1h2.2v2.2h-2.2zM465.5 318.6h2.2v2.2h-2.2zM445.9 320.0h2.2v2.2h-2.2zM455.6 328.9h2.2v2.2h-2.2zM462.0 345.0h2.2v2.2h-2.2zM450.8 363.9h2.2v2.2h-2.2zM470.9 302.9h2.2v2.2h-2.2zM469.8 362.3h2.2v2.2h-2.2zM468.0 308.7h2.2v2.2h-2.2zM470.0 343.2h2.2v2.2h-2.2zM436.5 299.7h2.2v2.2h-2.2zM474.9 344.8h2.2v2.2h-2.2zM446.2 306.0h2.2v2.2h-2.2zM441.8 315.3h2.2v2.2h-2.2zM467.7 323.2h2.2v2.2h-2.2zM442.2 362.2h2.2v2.2h-2.2zM468.4 310.7h2.2v2.2h-2.2zM472.4 341.5h2.2v2.2h-2.2zM467.9 345.7h2.2v2.2h-2.2zM472.6 354.1h2.2v2.2h-2.2zM470.3 312.7h2.2v2.2h-2.2zM464.3 336.1h2.2v2.2h-2.2zM466.3 329.6h2.2v2.2h-2.2zM472.1 337.8h2.2v2.2h-2.2zM446.7 315.3h2.2v2.2h-2.2zM441.6 333.4h2.2v2.2h-2.2zM438.3 331.6h2.2v2.2h-2.2zM441.8 333.3h2.2v2.2h-2.2zM456.3 336.7h2.2v2.2h-2.2zM471.3 299.4h2.2v2.2h-2.2zM470.4 331.7h2.2v2.2h-2.2zM459.0 345.5h2.2v2.2h-2.2zM470.4 325.1h2.2v2.2h-2.2zM453.1 366.1h2.2v2.2h-2.2zM439.0 343.5h2.2v2.2h-2.2zM462.0 300.9h2.2v2.2h-2.2zM460.9 346.7h2.2v2.2h-2.2zM474.1 322.0h2.2v2.2h-2.2zM476.2 334.6h2.2v2.2h-2.2zM455.8 361.7h2.2v2.2h-2.2zM437.3 349.2h2.2v2.2h-2.2zM455.4 276.4h2.2v2.2h-2.2zM463.9 277.2h2.2v2.2h-2.2zM450.0 281.6h2.2v2.2h-2.2zM460.6 272.8h2.2v2.2h-2.2zM448.6 278.7h2.2v2.2h-2.2zM452.8 290.0h2.2v2.2h-2.2zM443.4 290.1h2.2v2.2h-2.2zM447.4 281.0h2.2v2.2h-2.2zM442.7 281.1h2.2v2.2h-2.2zM468.0 285.2h2.2v2.2h-2.2zM461.4 276.2h2.2v2.2h-2.2zM444.3 275.3h2.2v2.2h-2.2z" fill="#4a2da2"/><rect x="433.9" y="220.8" width="39.4" height="47.3" fill="none" stroke="#000" stroke-width="1.6"/><rect x="436.9" y="295.4" width="58.8" height="80.3" fill="none" stroke="#000" stroke-width="1.6"/><rect x="617.3" y="217.4" width="160.8" height="159.8" fill="none" stroke="#8c8c8c" stroke-width="1.2"/><text x="611.3" y="245.27" font-size="7" text-anchor="end">10<tspan font-size="5.95" dy="-3">5</tspan></text><text x="611.3" y="275.15" font-size="7" text-anchor="end">10<tspan font-size="5.95" dy="-3">4</tspan></text><text x="611.3" y="308.07" font-size="7" text-anchor="end">10<tspan font-size="5.95" dy="-3">3</tspan></text><text x="610.3" y="328.36" font-size="6.5" text-anchor="end">0</text><text x="611.3" y="350.9" font-size="7" text-anchor="end">-10<tspan font-size="5.95" dy="-3">3</tspan></text><path d="M617.3 242.97h-4M617.3 272.85h-4M617.3 305.77h-4M617.3 326.06h-4M617.3 348.6h-4M617.3 295.86h-2.2M617.3 290.06h-2.2M617.3 285.95h-2.2M617.3 282.76h-2.2M617.3 280.15h-2.2M617.3 277.95h-2.2M617.3 276.04h-2.2M617.3 274.36h-2.2M617.3 263.86h-2.2M617.3 258.59h-2.2M617.3 254.86h-2.2M617.3 251.96h-2.2M617.3 249.6h-2.2M617.3 247.6h-2.2M617.3 245.86h-2.2M617.3 244.34h-2.2M617.3 233.83h-2.2M617.3 228.48h-2.2M617.3 224.69h-2.2M617.3 221.75h-2.2M617.3 219.34h-2.2M617.3 316.48h-2.2M617.3 319.67h-2.2M617.3 322.87h-2.2M617.3 329.26h-2.2M617.3 332.46h-2.2M617.3 335.65h-2.2M617.3 358.02h-2.2M617.3 367.61h-2.2M617.3 372.41h-2.2M639.81 377.2v4M673.42 377.2v4M705.42 377.2v4M735.49 377.2v4M764.59 377.2v4M683.05 377.2v2.2M688.69 377.2v2.2M692.68 377.2v2.2M695.79 377.2v2.2M698.32 377.2v2.2M700.46 377.2v2.2M702.32 377.2v2.2M703.95 377.2v2.2M714.47 377.2v2.2M719.77 377.2v2.2M723.52 377.2v2.2M726.44 377.2v2.2M728.82 377.2v2.2M730.83 377.2v2.2M732.57 377.2v2.2M734.11 377.2v2.2M744.25 377.2v2.2M749.37 377.2v2.2M753.01 377.2v2.2M755.83 377.2v2.2M758.14 377.2v2.2M760.08 377.2v2.2M761.77 377.2v2.2M763.26 377.2v2.2M625.34 377.2v2.2M630.16 377.2v2.2M633.38 377.2v2.2M634.99 377.2v2.2M636.6 377.2v2.2M638.2 377.2v2.2M641.42 377.2v2.2M643.03 377.2v2.2M657.5 377.2v2.2M663.93 377.2v2.2M667.15 377.2v2.2M670.36 377.2v2.2M774.08 377.2v2.2" fill="none" stroke="#000" stroke-width="0.8"/><rect x="614.1" y="322.47" width="3.2" height="4" fill="#000"/><rect x="633.38" y="377.5" width="9.65" height="2.5" fill="#000"/><text x="639.81" y="390.2" font-size="6.5" text-anchor="middle">0</text><text x="676.42" y="390.2" font-size="7" text-anchor="middle">10<tspan font-size="5.95" dy="-3">3</tspan></text><text x="708.42" y="390.2" font-size="7" text-anchor="middle">10<tspan font-size="5.95" dy="-3">4</tspan></text><text x="738.49" y="390.2" font-size="7" text-anchor="middle">10<tspan font-size="5.95" dy="-3">5</tspan></text><text x="767.59" y="390.2" font-size="7" text-anchor="middle">10<tspan font-size="5.95" dy="-3">6</tspan></text><g filter="url(#rough)"><path d="M683.68 320.5C683.5 326.64 683.57 333.58 683.36 338.47C683.16 343.36 682.91 346.43 682.47 349.85C682.03 353.26 681.38 356.05 680.72 358.97C680.05 361.88 679.48 365.08 678.49 367.33C677.5 369.58 676.22 371.32 674.76 372.46C673.3 373.6 671.86 373.57 669.73 374.16C667.6 374.75 664.61 375.76 662 375.99C659.39 376.22 656.14 376.38 654.07 375.56C652 374.74 650.9 372.74 649.58 371.07C648.26 369.4 647.14 367.67 646.14 365.54C645.14 363.41 644.28 361.05 643.6 358.31C642.92 355.58 642.63 352.34 642.04 349.11C641.45 345.88 640.66 343.72 640.07 338.95C639.47 334.18 638.66 326.8 638.48 320.5C638.3 314.2 638.64 306.27 638.98 301.14C639.32 296 639.88 293.05 640.52 289.7C641.15 286.35 641.85 283.37 642.8 281.04C643.76 278.72 645.06 277.39 646.24 275.73C647.41 274.08 648.53 272.57 649.87 271.1C651.21 269.63 652.26 267.64 654.28 266.92C656.3 266.2 659.46 266.56 662 266.79C664.54 267.02 667.44 267.84 669.52 268.32C671.6 268.81 672.99 268.78 674.47 269.71C675.95 270.65 677.22 272.16 678.39 273.94C679.57 275.72 680.58 277.89 681.52 280.39C682.45 282.89 683.51 285.43 684 288.96C684.49 292.5 684.51 296.36 684.45 301.62C684.4 306.87 683.86 314.36 683.68 320.5Z" fill="#4a2da2"/><path d="M678.14 321.3C678.27 326.04 678.59 331.68 678.51 335.84C678.44 340.01 678.11 343.18 677.69 346.28C677.26 349.38 676.63 352.05 675.94 354.44C675.26 356.84 674.51 359.19 673.56 360.66C672.62 362.13 671.4 362.61 670.26 363.27C669.12 363.92 668.09 363.95 666.71 364.57C665.33 365.19 663.62 366.55 662 366.98C660.38 367.4 658.43 367.52 657.01 367.12C655.59 366.71 654.59 365.62 653.49 364.55C652.39 363.49 651.29 362.49 650.41 360.74C649.54 358.99 648.82 356.59 648.23 354.04C647.63 351.48 647.3 348.47 646.85 345.43C646.4 342.39 645.8 339.82 645.54 335.8C645.27 331.78 645.14 326.02 645.26 321.3C645.39 316.58 645.93 311.34 646.29 307.47C646.65 303.6 646.98 300.96 647.42 298.08C647.85 295.19 648.31 292.55 648.9 290.16C649.49 287.77 650.23 285.9 650.96 283.74C651.7 281.57 652.35 278.98 653.31 277.17C654.27 275.37 655.29 273.54 656.73 272.92C658.18 272.3 660.29 273.03 662 273.46C663.71 273.88 665.58 274.63 666.99 275.46C668.39 276.3 669.43 277.07 670.43 278.46C671.44 279.85 672.21 281.93 673.01 283.82C673.82 285.7 674.59 287.52 675.27 289.76C675.96 291.99 676.7 294.28 677.12 297.23C677.53 300.17 677.59 303.41 677.76 307.42C677.93 311.43 678.02 316.56 678.14 321.3Z" fill="#3b55c8"/><path d="M676.25 321.6C676.22 325.77 675.9 330.47 675.63 334.03C675.36 337.6 675.04 340.25 674.65 343.02C674.26 345.78 673.86 348.44 673.3 350.65C672.74 352.87 671.98 354.43 671.28 356.3C670.58 358.17 669.92 360.12 669.09 361.86C668.26 363.6 667.46 365.84 666.28 366.74C665.1 367.64 663.4 367.56 662 367.27C660.6 366.98 659.06 365.93 657.88 364.98C656.71 364.03 655.81 363.06 654.96 361.57C654.11 360.08 653.47 357.94 652.79 356.03C652.12 354.12 651.54 352.18 650.92 350.1C650.29 348.02 649.5 346.2 649.03 343.56C648.56 340.92 648.29 337.92 648.12 334.26C647.95 330.6 648.02 325.85 647.99 321.6C647.96 317.35 647.83 312.53 647.96 308.79C648.08 305.04 648.34 302.02 648.73 299.12C649.11 296.22 649.68 293.77 650.25 291.39C650.82 289.01 651.39 286.48 652.17 284.82C652.95 283.17 653.94 282.12 654.93 281.47C655.93 280.82 656.96 281.23 658.14 280.93C659.32 280.62 660.69 279.92 662 279.63C663.31 279.34 664.84 278.91 666.03 279.17C667.21 279.43 668.14 280.29 669.12 281.18C670.1 282.08 671.1 282.94 671.9 284.55C672.71 286.16 673.46 288.31 673.97 290.83C674.47 293.35 674.65 296.64 674.95 299.67C675.26 302.7 675.57 305.36 675.79 309.02C676.01 312.67 676.28 317.43 676.25 321.6Z" fill="#5cc0e2"/><path d="M673.96 321.9C674.1 325.65 674.24 330.16 674.08 333.53C673.92 336.9 673.43 339.54 673.01 342.13C672.59 344.72 672.07 346.87 671.56 349.08C671.05 351.29 670.59 353.68 669.96 355.37C669.32 357.06 668.53 358.23 667.73 359.21C666.93 360.19 666.12 360.75 665.17 361.25C664.21 361.76 663.05 362.38 662 362.26C660.95 362.13 659.82 361.23 658.89 360.52C657.97 359.81 657.27 358.81 656.46 357.99C655.64 357.17 654.73 356.89 653.99 355.61C653.25 354.32 652.54 352.5 652.01 350.29C651.49 348.09 651.15 345.22 650.85 342.39C650.54 339.56 650.25 336.71 650.16 333.29C650.08 329.88 650.19 325.57 650.32 321.9C650.46 318.23 650.77 314.51 650.96 311.27C651.14 308.03 651.16 305.2 651.41 302.45C651.66 299.7 651.98 296.96 652.46 294.76C652.93 292.57 653.62 291.01 654.25 289.31C654.89 287.6 655.51 285.85 656.26 284.51C657 283.17 657.77 281.94 658.73 281.27C659.69 280.6 660.9 280.62 662 280.5C663.1 280.37 664.34 280.07 665.33 280.54C666.32 281 667.2 281.79 667.93 283.29C668.66 284.79 669.16 287.42 669.69 289.54C670.22 291.65 670.66 293.79 671.12 295.98C671.58 298.18 672.08 300.2 672.45 302.71C672.81 305.22 673.04 307.83 673.29 311.03C673.54 314.23 673.83 318.15 673.96 321.9Z" fill="#4fbf45"/><path d="M671.22 322.18C671.16 325.39 671.2 328.69 671.09 331.62C670.99 334.54 670.85 337.2 670.62 339.74C670.38 342.28 670.03 344.57 669.67 346.86C669.32 349.15 668.97 351.66 668.46 353.48C667.96 355.3 667.32 356.76 666.66 357.76C665.99 358.76 665.26 358.94 664.48 359.47C663.71 360 662.84 360.79 662 360.94C661.16 361.09 660.21 361.09 659.45 360.38C658.7 359.67 658.09 358.05 657.49 356.67C656.88 355.29 656.32 353.81 655.83 352.08C655.33 350.35 654.87 348.42 654.5 346.29C654.13 344.16 653.92 341.69 653.6 339.3C653.29 336.9 652.88 334.79 652.6 331.94C652.31 329.08 651.96 325.5 651.9 322.18C651.83 318.86 652.02 315.06 652.21 312.02C652.39 308.97 652.69 306.38 653.03 303.89C653.36 301.41 653.73 299.02 654.2 297.1C654.67 295.19 655.29 293.88 655.85 292.42C656.42 290.97 656.96 289.6 657.57 288.35C658.18 287.1 658.78 285.54 659.52 284.92C660.26 284.31 661.18 284.51 662 284.67C662.82 284.82 663.66 285.41 664.42 285.84C665.18 286.27 665.9 286.4 666.57 287.26C667.24 288.12 667.87 289.48 668.43 291.02C669 292.57 669.52 294.46 669.98 296.53C670.43 298.6 670.94 300.81 671.19 303.45C671.44 306.08 671.48 309.21 671.49 312.33C671.49 315.46 671.29 318.97 671.22 322.18Z" fill="#e8e03a"/><path d="M669.98 322.36C669.97 325.31 669.97 328.3 669.93 331.17C669.89 334.04 669.92 336.99 669.73 339.57C669.55 342.16 669.21 344.57 668.84 346.69C668.47 348.81 668.01 350.72 667.52 352.29C667.03 353.85 666.48 355.32 665.89 356.08C665.3 356.84 664.63 356.69 663.98 356.84C663.34 356.99 662.67 356.9 662 356.99C661.33 357.08 660.62 357.67 659.98 357.38C659.35 357.08 658.76 356.25 658.21 355.22C657.66 354.19 657.17 352.7 656.68 351.19C656.2 349.69 655.68 348.18 655.3 346.2C654.92 344.21 654.64 341.75 654.4 339.29C654.15 336.82 654 334.25 653.84 331.43C653.68 328.61 653.44 325.4 653.43 322.36C653.41 319.32 653.55 315.91 653.76 313.21C653.98 310.5 654.39 308.36 654.71 306.13C655.03 303.9 655.31 301.77 655.67 299.83C656.03 297.88 656.42 296.06 656.85 294.44C657.29 292.81 657.77 291.5 658.28 290.06C658.78 288.62 659.27 286.76 659.9 285.79C660.52 284.82 661.3 284.15 662 284.24C662.7 284.33 663.44 285.5 664.07 286.33C664.71 287.16 665.28 288.04 665.82 289.21C666.37 290.37 666.91 291.65 667.35 293.34C667.79 295.03 668.12 297.25 668.47 299.33C668.81 301.42 669.16 303.49 669.42 305.84C669.68 308.2 669.91 310.71 670.01 313.46C670.1 316.22 669.99 319.41 669.98 322.36Z" fill="#f29a2c"/><path d="M668.87 322.5C668.81 325.23 668.75 327.85 668.69 330.46C668.62 333.07 668.63 335.78 668.47 338.19C668.31 340.59 668.02 342.85 667.72 344.9C667.41 346.96 667.04 348.82 666.64 350.51C666.25 352.2 665.82 353.98 665.34 355.06C664.86 356.15 664.29 356.57 663.74 357.01C663.18 357.44 662.58 357.59 662 357.68C661.42 357.77 660.78 358.13 660.23 357.56C659.69 356.99 659.19 355.64 658.74 354.24C658.3 352.84 657.95 350.85 657.58 349.15C657.21 347.45 656.82 345.93 656.5 344.05C656.18 342.17 655.91 340.07 655.66 337.87C655.41 335.66 655.21 333.37 655.02 330.81C654.82 328.25 654.54 325.35 654.47 322.5C654.41 319.65 654.47 316.38 654.63 313.73C654.79 311.07 655.15 308.83 655.43 306.58C655.72 304.34 655.99 302.17 656.33 300.27C656.66 298.36 657.04 296.57 657.46 295.14C657.88 293.71 658.37 292.76 658.84 291.68C659.31 290.6 659.77 289.35 660.3 288.68C660.82 288.01 661.44 287.59 662 287.68C662.56 287.77 663.14 288.7 663.68 289.23C664.22 289.76 664.73 290.1 665.25 290.86C665.76 291.62 666.32 292.35 666.76 293.78C667.2 295.2 667.57 297.33 667.89 299.41C668.22 301.49 668.5 303.82 668.7 306.26C668.9 308.71 669.04 311.38 669.07 314.08C669.1 316.79 668.94 319.77 668.87 322.5Z" fill="#e4341e"/></g><path d="M651.7 271.3h2.2v2.2h-2.2zM649.4 271.3h2.2v2.2h-2.2zM662.6 267.7h2.2v2.2h-2.2zM669.8 365.9h2.2v2.2h-2.2zM664.7 259.9h2.2v2.2h-2.2zM648.3 274.1h2.2v2.2h-2.2zM671.6 266.5h2.2v2.2h-2.2zM640.4 299.1h2.2v2.2h-2.2zM653.6 371.6h2.2v2.2h-2.2zM651.4 369.6h2.2v2.2h-2.2zM645.2 272.4h2.2v2.2h-2.2zM683.0 338.5h2.2v2.2h-2.2zM681.8 332.1h2.2v2.2h-2.2zM669.6 266.7h2.2v2.2h-2.2zM680.9 292.3h2.2v2.2h-2.2zM683.5 324.3h2.2v2.2h-2.2zM639.9 286.3h2.2v2.2h-2.2zM683.8 312.7h2.2v2.2h-2.2zM642.6 346.5h2.2v2.2h-2.2zM647.4 277.6h2.2v2.2h-2.2zM673.1 360.9h2.2v2.2h-2.2zM684.8 321.1h2.2v2.2h-2.2zM679.1 361.5h2.2v2.2h-2.2zM682.0 350.8h2.2v2.2h-2.2zM675.4 356.3h2.2v2.2h-2.2zM656.7 267.1h2.2v2.2h-2.2zM658.6 267.0h2.2v2.2h-2.2zM684.0 337.6h2.2v2.2h-2.2zM655.3 261.3h2.2v2.2h-2.2zM658.2 268.2h2.2v2.2h-2.2zM644.3 277.4h2.2v2.2h-2.2zM636.6 334.2h2.2v2.2h-2.2zM660.3 380.2h2.2v2.2h-2.2zM656.6 269.6h2.2v2.2h-2.2zM684.6 324.7h2.2v2.2h-2.2zM669.7 272.3h2.2v2.2h-2.2zM651.9 373.5h2.2v2.2h-2.2zM673.3 371.0h2.2v2.2h-2.2zM639.7 323.8h2.2v2.2h-2.2zM645.1 361.4h2.2v2.2h-2.2zM638.7 341.1h2.2v2.2h-2.2zM675.9 366.0h2.2v2.2h-2.2zM645.4 362.9h2.2v2.2h-2.2zM645.3 279.3h2.2v2.2h-2.2zM642.5 358.2h2.2v2.2h-2.2zM683.8 299.4h2.2v2.2h-2.2zM640.6 297.5h2.2v2.2h-2.2zM684.3 342.0h2.2v2.2h-2.2zM653.8 262.6h2.2v2.2h-2.2zM649.3 369.0h2.2v2.2h-2.2zM685.2 311.0h2.2v2.2h-2.2zM642.9 287.4h2.2v2.2h-2.2zM638.5 345.4h2.2v2.2h-2.2zM643.8 359.9h2.2v2.2h-2.2zM640.9 283.5h2.2v2.2h-2.2zM668.8 269.1h2.2v2.2h-2.2zM683.0 320.0h2.2v2.2h-2.2zM640.1 346.0h2.2v2.2h-2.2zM670.9 264.5h2.2v2.2h-2.2zM684.6 335.0h2.2v2.2h-2.2zM670.3 264.1h2.2v2.2h-2.2zM640.9 296.0h2.2v2.2h-2.2zM675.4 271.8h2.2v2.2h-2.2zM650.9 264.2h2.2v2.2h-2.2zM648.7 361.8h2.2v2.2h-2.2zM637.8 299.9h2.2v2.2h-2.2zM668.3 375.1h2.2v2.2h-2.2zM680.9 297.3h2.2v2.2h-2.2zM642.2 283.4h2.2v2.2h-2.2zM639.5 330.8h2.2v2.2h-2.2zM688.3 257.9h2.2v2.2h-2.2zM706.0 250.9h2.2v2.2h-2.2zM682.8 259.3h2.2v2.2h-2.2zM705.4 245.5h2.2v2.2h-2.2zM699.0 261.4h2.2v2.2h-2.2zM709.1 252.4h2.2v2.2h-2.2zM695.6 254.0h2.2v2.2h-2.2zM686.1 244.5h2.2v2.2h-2.2zM685.9 256.7h2.2v2.2h-2.2zM691.9 253.4h2.2v2.2h-2.2zM693.2 252.3h2.2v2.2h-2.2zM684.8 241.0h2.2v2.2h-2.2zM712.8 248.9h2.2v2.2h-2.2zM683.4 255.1h2.2v2.2h-2.2zM705.9 243.6h2.2v2.2h-2.2zM699.6 248.2h2.2v2.2h-2.2zM697.0 240.4h2.2v2.2h-2.2zM681.0 263.7h2.2v2.2h-2.2zM708.5 251.6h2.2v2.2h-2.2zM698.6 246.2h2.2v2.2h-2.2zM705.6 250.1h2.2v2.2h-2.2zM711.1 258.3h2.2v2.2h-2.2zM706.9 263.0h2.2v2.2h-2.2zM688.3 240.8h2.2v2.2h-2.2zM686.5 244.2h2.2v2.2h-2.2zM682.7 241.1h2.2v2.2h-2.2zM698.3 260.8h2.2v2.2h-2.2zM695.0 262.6h2.2v2.2h-2.2zM709.9 241.4h2.2v2.2h-2.2zM699.6 249.4h2.2v2.2h-2.2zM683.9 262.9h2.2v2.2h-2.2zM688.4 253.4h2.2v2.2h-2.2zM701.0 262.9h2.2v2.2h-2.2zM702.0 249.3h2.2v2.2h-2.2zM694.7 243.7h2.2v2.2h-2.2zM733.9 334.6h2.2v2.2h-2.2zM717.4 347.8h2.2v2.2h-2.2zM716.6 356.9h2.2v2.2h-2.2zM733.9 326.5h2.2v2.2h-2.2zM718.5 340.2h2.2v2.2h-2.2zM720.5 322.5h2.2v2.2h-2.2zM699.3 311.5h2.2v2.2h-2.2zM722.2 346.6h2.2v2.2h-2.2zM717.6 310.8h2.2v2.2h-2.2zM713.2 333.3h2.2v2.2h-2.2zM702.8 331.1h2.2v2.2h-2.2zM723.9 351.5h2.2v2.2h-2.2zM716.7 351.1h2.2v2.2h-2.2zM710.9 344.9h2.2v2.2h-2.2zM717.3 351.7h2.2v2.2h-2.2zM716.2 341.9h2.2v2.2h-2.2zM715.6 334.9h2.2v2.2h-2.2zM733.9 351.1h2.2v2.2h-2.2zM721.2 370.9h2.2v2.2h-2.2zM730.9 322.1h2.2v2.2h-2.2zM723.9 355.6h2.2v2.2h-2.2zM733.9 362.3h2.2v2.2h-2.2zM724.6 327.4h2.2v2.2h-2.2zM708.2 347.7h2.2v2.2h-2.2zM721.9 329.6h2.2v2.2h-2.2zM713.1 338.3h2.2v2.2h-2.2zM717.5 348.6h2.2v2.2h-2.2zM714.0 326.6h2.2v2.2h-2.2zM729.3 366.2h2.2v2.2h-2.2zM715.8 358.2h2.2v2.2h-2.2zM721.3 353.1h2.2v2.2h-2.2zM721.7 333.2h2.2v2.2h-2.2zM722.6 358.0h2.2v2.2h-2.2zM707.9 370.9h2.2v2.2h-2.2zM733.9 369.4h2.2v2.2h-2.2zM733.9 354.3h2.2v2.2h-2.2zM713.5 335.5h2.2v2.2h-2.2zM708.8 345.5h2.2v2.2h-2.2zM716.6 353.3h2.2v2.2h-2.2zM696.7 370.9h2.2v2.2h-2.2zM733.9 343.5h2.2v2.2h-2.2zM723.7 350.6h2.2v2.2h-2.2zM719.6 341.0h2.2v2.2h-2.2zM715.7 332.4h2.2v2.2h-2.2zM718.7 343.6h2.2v2.2h-2.2zM720.1 331.9h2.2v2.2h-2.2zM717.3 344.6h2.2v2.2h-2.2zM722.9 329.0h2.2v2.2h-2.2zM721.1 357.7h2.2v2.2h-2.2zM722.9 338.7h2.2v2.2h-2.2zM712.0 340.6h2.2v2.2h-2.2zM724.2 365.6h2.2v2.2h-2.2zM715.3 334.9h2.2v2.2h-2.2zM720.7 346.8h2.2v2.2h-2.2zM707.8 333.6h2.2v2.2h-2.2zM715.9 353.3h2.2v2.2h-2.2zM705.0 329.6h2.2v2.2h-2.2zM721.9 326.8h2.2v2.2h-2.2zM718.0 348.8h2.2v2.2h-2.2zM715.8 329.6h2.2v2.2h-2.2zM716.3 339.2h2.2v2.2h-2.2zM720.3 332.2h2.2v2.2h-2.2zM727.8 320.4h2.2v2.2h-2.2zM715.1 344.0h2.2v2.2h-2.2zM726.5 335.4h2.2v2.2h-2.2zM722.4 336.0h2.2v2.2h-2.2zM724.3 368.2h2.2v2.2h-2.2zM712.9 350.1h2.2v2.2h-2.2zM707.6 357.5h2.2v2.2h-2.2zM729.0 344.4h2.2v2.2h-2.2zM690.0 281.9h2.2v2.2h-2.2zM684.8 288.9h2.2v2.2h-2.2zM696.0 294.2h2.2v2.2h-2.2zM688.0 288.8h2.2v2.2h-2.2zM689.0 290.2h2.2v2.2h-2.2zM683.9 294.4h2.2v2.2h-2.2zM698.2 281.2h2.2v2.2h-2.2zM691.1 282.5h2.2v2.2h-2.2zM691.5 264.6h2.2v2.2h-2.2zM698.4 271.7h2.2v2.2h-2.2zM666.6 250.1h2.2v2.2h-2.2zM667.7 258.7h2.2v2.2h-2.2zM664.4 250.1h2.2v2.2h-2.2z" fill="#4a2da2"/><rect x="680.6" y="222.5" width="49.9" height="45.4" fill="none" stroke="#000" stroke-width="1.6"/><rect x="694.4" y="301.5" width="60.4" height="74.6" fill="none" stroke="#000" stroke-width="1.6"/><rect x="97.9" y="412.7" width="161.3" height="160.7" fill="none" stroke="#8c8c8c" stroke-width="1.2"/><text x="91.9" y="440.71" font-size="7" text-anchor="end">10<tspan font-size="5.95" dy="-3">5</tspan></text><text x="91.9" y="470.76" font-size="7" text-anchor="end">10<tspan font-size="5.95" dy="-3">4</tspan></text><text x="91.9" y="503.87" font-size="7" text-anchor="end">10<tspan font-size="5.95" dy="-3">3</tspan></text><text x="90.9" y="524.28" font-size="6.5" text-anchor="end">0</text><text x="91.9" y="546.93" font-size="7" text-anchor="end">-10<tspan font-size="5.95" dy="-3">3</tspan></text><path d="M97.9 438.41h-4M97.9 468.46h-4M97.9 501.57h-4M97.9 521.98h-4M97.9 544.63h-4M97.9 491.6h-2.2M97.9 485.77h-2.2M97.9 481.64h-2.2M97.9 478.43h-2.2M97.9 475.81h-2.2M97.9 473.59h-2.2M97.9 471.67h-2.2M97.9 469.98h-2.2M97.9 459.42h-2.2M97.9 454.12h-2.2M97.9 450.37h-2.2M97.9 447.46h-2.2M97.9 445.08h-2.2M97.9 443.07h-2.2M97.9 441.32h-2.2M97.9 439.79h-2.2M97.9 429.22h-2.2M97.9 423.84h-2.2M97.9 420.03h-2.2M97.9 417.07h-2.2M97.9 414.65h-2.2M97.9 512.33h-2.2M97.9 515.55h-2.2M97.9 518.76h-2.2M97.9 525.19h-2.2M97.9 528.4h-2.2M97.9 531.62h-2.2M97.9 554.12h-2.2M97.9 563.76h-2.2M97.9 568.58h-2.2M120.48 573.4v4M154.19 573.4v4M186.29 573.4v4M216.46 573.4v4M245.65 573.4v4M163.86 573.4v2.2M169.51 573.4v2.2M173.52 573.4v2.2M176.63 573.4v2.2M179.17 573.4v2.2M181.32 573.4v2.2M183.18 573.4v2.2M184.82 573.4v2.2M195.37 573.4v2.2M200.68 573.4v2.2M204.45 573.4v2.2M207.38 573.4v2.2M209.76 573.4v2.2M211.78 573.4v2.2M213.53 573.4v2.2M215.08 573.4v2.2M225.24 573.4v2.2M230.39 573.4v2.2M234.03 573.4v2.2M236.86 573.4v2.2M239.17 573.4v2.2M241.13 573.4v2.2M242.82 573.4v2.2M244.31 573.4v2.2M105.97 573.4v2.2M110.8 573.4v2.2M114.03 573.4v2.2M115.64 573.4v2.2M117.26 573.4v2.2M118.87 573.4v2.2M122.09 573.4v2.2M123.71 573.4v2.2M138.22 573.4v2.2M144.68 573.4v2.2M147.9 573.4v2.2M151.13 573.4v2.2M255.17 573.4v2.2" fill="none" stroke="#000" stroke-width="0.8"/><rect x="94.7" y="518.37" width="3.2" height="4" fill="#000"/><rect x="114.03" y="573.7" width="9.68" height="2.5" fill="#000"/><text x="120.48" y="586.4" font-size="6.5" text-anchor="middle">0</text><text x="157.19" y="586.4" font-size="7" text-anchor="middle">10<tspan font-size="5.95" dy="-3">3</tspan></text><text x="189.29" y="586.4" font-size="7" text-anchor="middle">10<tspan font-size="5.95" dy="-3">4</tspan></text><text x="219.46" y="586.4" font-size="7" text-anchor="middle">10<tspan font-size="5.95" dy="-3">5</tspan></text><text x="248.65" y="586.4" font-size="7" text-anchor="middle">10<tspan font-size="5.95" dy="-3">6</tspan></text><g filter="url(#rough)"><path d="M165.88 509.2C165.96 514.64 165.93 521.38 165.61 525.69C165.29 530.01 164.49 532.14 163.96 535.07C163.42 538 163 540.65 162.41 543.27C161.81 545.9 161.29 548.77 160.38 550.82C159.47 552.88 158.26 554.29 156.94 555.61C155.61 556.92 154.44 558.12 152.43 558.69C150.42 559.26 147.33 559.58 144.9 559.04C142.47 558.49 139.72 556.6 137.86 555.43C136.01 554.26 135.09 553.07 133.8 552.01C132.5 550.95 131.16 550.49 130.07 549.07C128.99 547.64 128.11 545.65 127.29 543.47C126.47 541.3 125.77 538.89 125.15 536.02C124.52 533.14 123.82 530.68 123.54 526.21C123.27 521.74 123.41 514.81 123.48 509.2C123.56 503.59 123.79 497.13 123.97 492.53C124.16 487.94 124.12 484.72 124.6 481.64C125.08 478.56 125.92 476.09 126.84 474.06C127.76 472.03 129 470.87 130.12 469.46C131.25 468.04 132.28 466.57 133.58 465.57C134.89 464.56 136.05 464.02 137.94 463.43C139.82 462.85 142.5 462.58 144.9 462.04C147.3 461.49 150.32 460.19 152.36 460.18C154.4 460.17 155.82 460.72 157.15 461.97C158.48 463.23 159.38 465.66 160.33 467.7C161.28 469.75 162.16 471.77 162.86 474.25C163.55 476.74 164.11 479.46 164.5 482.59C164.89 485.72 164.95 488.61 165.18 493.05C165.41 497.48 165.81 503.76 165.88 509.2Z" fill="#4a2da2"/><path d="M158.41 511.64C158.22 515.08 157.88 518.63 157.7 521.52C157.51 524.42 157.56 526.7 157.3 529.01C157.05 531.31 156.67 533.44 156.17 535.34C155.66 537.23 155.01 538.84 154.3 540.38C153.58 541.91 152.85 543.58 151.89 544.54C150.94 545.5 149.89 545.89 148.57 546.14C147.25 546.39 145.51 546.08 143.98 546.06C142.45 546.04 140.7 546.39 139.41 546.01C138.12 545.63 137.14 544.89 136.25 543.78C135.35 542.67 134.72 540.87 134.03 539.35C133.35 537.84 132.69 536.41 132.14 534.67C131.58 532.94 131.11 531.06 130.72 528.92C130.33 526.79 130.11 524.75 129.78 521.87C129.45 518.99 128.93 515.19 128.73 511.64C128.54 508.09 128.4 503.6 128.61 500.56C128.82 497.52 129.46 495.52 129.98 493.4C130.51 491.28 131.1 489.5 131.75 487.86C132.4 486.22 133.09 484.7 133.9 483.55C134.7 482.4 135.65 481.8 136.6 480.95C137.54 480.09 138.33 479.1 139.56 478.44C140.79 477.78 142.51 477 143.98 476.98C145.45 476.96 147.15 477.77 148.41 478.31C149.67 478.84 150.54 479.49 151.55 480.19C152.55 480.89 153.6 481.36 154.43 482.53C155.26 483.7 155.95 485.4 156.55 487.19C157.15 488.99 157.65 491.03 158.04 493.31C158.43 495.6 158.81 497.86 158.87 500.91C158.93 503.97 158.61 508.2 158.41 511.64Z" fill="#3b55c8"/><path d="M155.76 512.55C155.82 515.33 155.98 518.59 155.84 521C155.7 523.42 155.3 525.23 154.93 527.06C154.55 528.89 154.05 530.35 153.59 531.98C153.14 533.61 152.78 535.44 152.19 536.83C151.6 538.21 150.88 539.4 150.07 540.27C149.26 541.15 148.4 541.67 147.33 542.09C146.26 542.51 144.84 542.97 143.64 542.78C142.43 542.59 141.07 541.77 140.08 540.96C139.1 540.16 138.5 538.84 137.74 537.95C136.98 537.06 136.21 536.56 135.51 535.61C134.81 534.66 134.1 533.63 133.54 532.25C132.98 530.86 132.57 529.12 132.17 527.29C131.76 525.45 131.31 523.69 131.09 521.24C130.87 518.78 130.79 515.41 130.85 512.56C130.91 509.7 131.24 506.59 131.45 504.12C131.66 501.65 131.78 499.67 132.08 497.71C132.38 495.75 132.73 493.8 133.28 492.35C133.82 490.9 134.62 490 135.34 489.02C136.06 488.05 136.79 487.23 137.59 486.51C138.39 485.79 139.14 485.09 140.15 484.7C141.16 484.31 142.45 484.36 143.63 484.17C144.82 483.98 146.16 483.57 147.26 483.57C148.36 483.57 149.37 483.48 150.22 484.19C151.07 484.89 151.75 486.41 152.35 487.81C152.96 489.22 153.41 490.93 153.86 492.61C154.3 494.3 154.74 495.98 155.02 497.94C155.29 499.89 155.36 501.92 155.48 504.35C155.6 506.79 155.7 509.78 155.76 512.55Z" fill="#5cc0e2"/><path d="M153.2 513.47C153.26 515.6 153.23 518.07 153.09 519.99C152.95 521.91 152.63 523.4 152.36 524.99C152.09 526.58 151.85 528.17 151.47 529.53C151.08 530.9 150.6 532.13 150.06 533.16C149.52 534.19 148.89 534.91 148.23 535.71C147.58 536.51 146.96 537.5 146.14 537.94C145.31 538.37 144.21 538.55 143.29 538.31C142.37 538.07 141.39 537.13 140.61 536.5C139.83 535.88 139.23 535.28 138.6 534.57C137.97 533.86 137.37 533.17 136.83 532.25C136.29 531.32 135.86 530.17 135.38 529.02C134.89 527.87 134.34 526.79 133.95 525.33C133.55 523.88 133.15 522.29 133.01 520.31C132.86 518.33 133 515.71 133.06 513.47C133.12 511.23 133.24 508.86 133.39 506.88C133.54 504.91 133.66 503.18 133.96 501.62C134.26 500.07 134.74 498.78 135.19 497.55C135.64 496.33 136.14 495.23 136.68 494.26C137.23 493.29 137.8 492.29 138.46 491.73C139.12 491.16 139.85 491.1 140.66 490.84C141.46 490.58 142.38 490.41 143.29 490.17C144.2 489.93 145.24 489.34 146.09 489.41C146.94 489.48 147.69 489.93 148.38 490.58C149.06 491.24 149.67 492.27 150.21 493.35C150.76 494.42 151.29 495.61 151.65 497.04C152.01 498.48 152.17 500.28 152.35 501.97C152.52 503.66 152.57 505.29 152.71 507.2C152.85 509.12 153.14 511.34 153.2 513.47Z" fill="#4fbf45"/><path d="M150.91 514.32C150.82 515.96 150.51 517.62 150.32 519.05C150.13 520.48 149.95 521.63 149.76 522.9C149.57 524.18 149.46 525.57 149.17 526.7C148.89 527.82 148.49 528.79 148.08 529.66C147.66 530.53 147.19 531.28 146.69 531.94C146.18 532.59 145.66 533.27 145.04 533.57C144.42 533.86 143.65 533.76 142.97 533.7C142.28 533.63 141.57 533.43 140.94 533.2C140.31 532.97 139.69 532.87 139.17 532.3C138.65 531.73 138.2 530.76 137.82 529.77C137.44 528.79 137.19 527.54 136.9 526.42C136.61 525.3 136.3 524.25 136.08 523.03C135.85 521.81 135.69 520.54 135.55 519.09C135.41 517.64 135.32 515.97 135.23 514.32C135.13 512.67 134.94 510.77 134.99 509.19C135.03 507.62 135.21 506.12 135.48 504.87C135.75 503.61 136.22 502.65 136.62 501.67C137.01 500.68 137.39 499.72 137.84 498.95C138.29 498.17 138.79 497.5 139.31 497.02C139.84 496.54 140.4 496.35 141.01 496.07C141.61 495.79 142.31 495.39 142.97 495.33C143.63 495.27 144.37 495.36 144.97 495.7C145.57 496.05 146.03 496.83 146.55 497.39C147.06 497.95 147.57 498.39 148.05 499.06C148.54 499.73 149.07 500.4 149.46 501.39C149.84 502.38 150.11 503.69 150.35 505C150.59 506.3 150.79 507.68 150.88 509.23C150.98 510.79 151.01 512.69 150.91 514.32Z" fill="#e8e03a"/><path d="M149.43 514.87C149.45 516.22 149.32 517.7 149.17 518.93C149.03 520.15 148.77 521.15 148.56 522.22C148.35 523.28 148.19 524.4 147.92 525.32C147.65 526.24 147.31 527.1 146.93 527.74C146.55 528.38 146.09 528.73 145.65 529.14C145.21 529.55 144.79 529.97 144.31 530.19C143.83 530.41 143.27 530.48 142.76 530.46C142.25 530.43 141.73 530.18 141.23 530.05C140.73 529.93 140.23 530 139.76 529.71C139.29 529.42 138.78 529.02 138.4 528.33C138.03 527.63 137.76 526.53 137.5 525.53C137.25 524.53 137.04 523.45 136.88 522.33C136.72 521.2 136.6 520.04 136.56 518.8C136.51 517.55 136.59 516.17 136.6 514.87C136.62 513.57 136.59 512.24 136.65 511.01C136.7 509.77 136.74 508.53 136.92 507.47C137.1 506.41 137.43 505.53 137.72 504.65C138.01 503.78 138.33 502.99 138.66 502.22C139 501.45 139.34 500.59 139.75 500.02C140.17 499.46 140.64 499.13 141.14 498.85C141.64 498.58 142.22 498.39 142.76 498.37C143.3 498.35 143.91 498.35 144.39 498.72C144.88 499.09 145.27 499.91 145.65 500.59C146.03 501.27 146.33 502.1 146.67 502.81C147.01 503.52 147.39 504.06 147.7 504.86C148.01 505.65 148.29 506.57 148.52 507.58C148.75 508.58 148.93 509.66 149.08 510.87C149.24 512.09 149.42 513.53 149.43 514.87Z" fill="#f29a2c"/><path d="M147.79 515.3C147.79 516.36 147.74 517.48 147.66 518.48C147.58 519.48 147.44 520.38 147.29 521.3C147.15 522.22 147.02 523.21 146.81 524C146.59 524.79 146.29 525.48 145.98 526.06C145.68 526.65 145.32 527.03 144.97 527.51C144.63 527.99 144.3 528.61 143.9 528.95C143.51 529.28 143.03 529.53 142.6 529.5C142.17 529.47 141.71 529.1 141.31 528.78C140.92 528.46 140.55 528.08 140.22 527.57C139.88 527.06 139.59 526.41 139.32 525.73C139.06 525.05 138.88 524.22 138.65 523.48C138.41 522.75 138.12 522.12 137.9 521.32C137.67 520.51 137.42 519.63 137.3 518.63C137.18 517.63 137.19 516.41 137.19 515.3C137.19 514.19 137.23 513.02 137.31 511.98C137.4 510.93 137.51 509.91 137.69 509.02C137.88 508.14 138.17 507.4 138.42 506.65C138.67 505.91 138.93 505.18 139.22 504.55C139.52 503.92 139.83 503.24 140.19 502.88C140.54 502.52 140.97 502.49 141.37 502.4C141.77 502.3 142.19 502.33 142.6 502.3C143.01 502.27 143.45 502.12 143.85 502.23C144.25 502.33 144.63 502.61 145 502.94C145.37 503.27 145.75 503.68 146.08 504.21C146.42 504.74 146.8 505.33 147.03 506.14C147.27 506.94 147.39 508.04 147.5 509.04C147.6 510.03 147.6 511.08 147.65 512.13C147.7 513.17 147.79 514.24 147.79 515.3Z" fill="#e4341e"/></g><path d="M123.4 485.1h2.2v2.2h-2.2zM155.6 553.4h2.2v2.2h-2.2zM163.5 489.5h2.2v2.2h-2.2zM123.5 533.4h2.2v2.2h-2.2zM122.8 500.3h2.2v2.2h-2.2zM165.1 489.3h2.2v2.2h-2.2zM132.9 548.3h2.2v2.2h-2.2zM132.9 550.4h2.2v2.2h-2.2zM166.6 501.9h2.2v2.2h-2.2zM163.4 480.7h2.2v2.2h-2.2zM155.3 470.8h2.2v2.2h-2.2zM120.4 502.2h2.2v2.2h-2.2zM162.8 489.1h2.2v2.2h-2.2zM124.1 532.0h2.2v2.2h-2.2zM129.4 545.7h2.2v2.2h-2.2zM163.3 528.8h2.2v2.2h-2.2zM124.0 506.7h2.2v2.2h-2.2zM158.9 549.6h2.2v2.2h-2.2zM147.7 455.1h2.2v2.2h-2.2zM128.4 469.1h2.2v2.2h-2.2zM161.2 472.7h2.2v2.2h-2.2zM165.6 519.0h2.2v2.2h-2.2zM141.6 559.2h2.2v2.2h-2.2zM140.6 557.7h2.2v2.2h-2.2zM163.6 484.8h2.2v2.2h-2.2zM143.7 558.0h2.2v2.2h-2.2zM122.3 529.9h2.2v2.2h-2.2zM138.9 554.7h2.2v2.2h-2.2zM131.7 471.1h2.2v2.2h-2.2zM124.2 478.0h2.2v2.2h-2.2zM123.1 504.0h2.2v2.2h-2.2zM122.4 518.6h2.2v2.2h-2.2zM155.8 545.2h2.2v2.2h-2.2zM158.0 543.2h2.2v2.2h-2.2zM126.4 534.6h2.2v2.2h-2.2zM144.6 554.0h2.2v2.2h-2.2zM121.7 492.9h2.2v2.2h-2.2zM126.8 476.0h2.2v2.2h-2.2zM131.8 470.0h2.2v2.2h-2.2zM138.5 460.3h2.2v2.2h-2.2zM122.6 493.0h2.2v2.2h-2.2zM123.2 517.4h2.2v2.2h-2.2zM144.8 555.2h2.2v2.2h-2.2zM122.6 504.3h2.2v2.2h-2.2zM126.8 484.9h2.2v2.2h-2.2zM129.9 550.5h2.2v2.2h-2.2zM145.4 558.2h2.2v2.2h-2.2zM123.0 510.7h2.2v2.2h-2.2zM164.6 504.4h2.2v2.2h-2.2zM146.6 462.0h2.2v2.2h-2.2zM165.0 529.8h2.2v2.2h-2.2zM125.2 524.9h2.2v2.2h-2.2zM127.4 539.9h2.2v2.2h-2.2zM142.0 462.2h2.2v2.2h-2.2zM147.5 561.4h2.2v2.2h-2.2zM142.3 461.7h2.2v2.2h-2.2zM132.8 549.4h2.2v2.2h-2.2zM133.8 462.8h2.2v2.2h-2.2zM157.3 465.5h2.2v2.2h-2.2zM121.2 502.3h2.2v2.2h-2.2zM142.8 456.0h2.2v2.2h-2.2zM121.2 516.2h2.2v2.2h-2.2zM137.8 456.4h2.2v2.2h-2.2zM160.0 546.2h2.2v2.2h-2.2zM166.6 509.5h2.2v2.2h-2.2zM125.2 482.6h2.2v2.2h-2.2zM165.2 496.4h2.2v2.2h-2.2zM123.9 533.9h2.2v2.2h-2.2zM159.2 471.7h2.2v2.2h-2.2zM128.1 541.9h2.2v2.2h-2.2zM168.0 447.3h2.2v2.2h-2.2zM179.5 451.6h2.2v2.2h-2.2zM173.6 441.2h2.2v2.2h-2.2zM175.0 456.6h2.2v2.2h-2.2zM188.1 436.3h2.2v2.2h-2.2zM176.5 445.7h2.2v2.2h-2.2zM180.2 448.1h2.2v2.2h-2.2zM171.3 439.1h2.2v2.2h-2.2zM198.9 453.3h2.2v2.2h-2.2zM174.1 457.7h2.2v2.2h-2.2zM193.9 428.9h2.2v2.2h-2.2zM184.6 452.0h2.2v2.2h-2.2zM183.0 443.3h2.2v2.2h-2.2zM193.0 446.9h2.2v2.2h-2.2zM161.7 444.2h2.2v2.2h-2.2zM183.5 434.1h2.2v2.2h-2.2zM192.8 443.8h2.2v2.2h-2.2zM168.3 442.6h2.2v2.2h-2.2zM175.4 448.7h2.2v2.2h-2.2zM175.0 439.7h2.2v2.2h-2.2zM194.7 440.0h2.2v2.2h-2.2zM177.8 443.3h2.2v2.2h-2.2zM175.5 449.6h2.2v2.2h-2.2zM171.0 440.0h2.2v2.2h-2.2zM198.8 429.7h2.2v2.2h-2.2zM172.2 444.6h2.2v2.2h-2.2zM160.6 428.9h2.2v2.2h-2.2zM175.8 452.1h2.2v2.2h-2.2zM184.1 439.4h2.2v2.2h-2.2zM171.6 462.9h2.2v2.2h-2.2zM186.9 435.4h2.2v2.2h-2.2zM196.6 454.8h2.2v2.2h-2.2zM175.7 430.1h2.2v2.2h-2.2zM198.9 442.9h2.2v2.2h-2.2zM177.3 446.1h2.2v2.2h-2.2zM179.2 453.2h2.2v2.2h-2.2zM176.1 443.7h2.2v2.2h-2.2zM187.1 454.2h2.2v2.2h-2.2zM175.2 439.4h2.2v2.2h-2.2zM194.7 443.5h2.2v2.2h-2.2zM190.8 446.1h2.2v2.2h-2.2zM183.7 437.2h2.2v2.2h-2.2zM181.6 443.2h2.2v2.2h-2.2zM176.1 458.4h2.2v2.2h-2.2zM170.4 437.8h2.2v2.2h-2.2zM185.4 452.8h2.2v2.2h-2.2zM175.2 441.8h2.2v2.2h-2.2zM175.2 436.0h2.2v2.2h-2.2zM193.7 443.7h2.2v2.2h-2.2zM178.0 446.1h2.2v2.2h-2.2zM190.3 455.2h2.2v2.2h-2.2zM185.1 446.2h2.2v2.2h-2.2zM187.1 452.4h2.2v2.2h-2.2zM187.4 434.0h2.2v2.2h-2.2zM183.0 441.2h2.2v2.2h-2.2zM197.3 445.0h2.2v2.2h-2.2zM175.6 455.3h2.2v2.2h-2.2zM178.6 447.8h2.2v2.2h-2.2zM181.5 447.5h2.2v2.2h-2.2zM191.7 437.9h2.2v2.2h-2.2zM176.2 451.0h2.2v2.2h-2.2zM179.6 445.7h2.2v2.2h-2.2zM191.1 437.2h2.2v2.2h-2.2zM191.3 441.7h2.2v2.2h-2.2zM176.9 439.7h2.2v2.2h-2.2zM198.9 448.9h2.2v2.2h-2.2zM186.7 438.4h2.2v2.2h-2.2zM195.2 435.2h2.2v2.2h-2.2zM177.9 454.2h2.2v2.2h-2.2zM192.1 441.6h2.2v2.2h-2.2zM188.3 442.0h2.2v2.2h-2.2zM170.9 452.0h2.2v2.2h-2.2zM183.3 450.7h2.2v2.2h-2.2zM189.2 437.4h2.2v2.2h-2.2zM183.7 438.1h2.2v2.2h-2.2zM185.8 450.6h2.2v2.2h-2.2zM191.2 462.9h2.2v2.2h-2.2zM179.0 453.8h2.2v2.2h-2.2zM190.2 450.4h2.2v2.2h-2.2zM175.0 449.3h2.2v2.2h-2.2zM199.5 516.2h2.2v2.2h-2.2zM199.0 504.8h2.2v2.2h-2.2zM194.1 521.1h2.2v2.2h-2.2zM192.1 521.8h2.2v2.2h-2.2zM211.2 517.4h2.2v2.2h-2.2zM190.1 519.3h2.2v2.2h-2.2zM192.5 509.2h2.2v2.2h-2.2zM191.1 534.6h2.2v2.2h-2.2zM202.9 522.5h2.2v2.2h-2.2zM205.1 496.9h2.2v2.2h-2.2zM199.9 522.5h2.2v2.2h-2.2zM191.9 503.4h2.2v2.2h-2.2zM201.8 512.0h2.2v2.2h-2.2zM207.5 509.9h2.2v2.2h-2.2zM195.8 525.9h2.2v2.2h-2.2zM206.7 526.5h2.2v2.2h-2.2zM192.2 537.4h2.2v2.2h-2.2zM184.1 508.4h2.2v2.2h-2.2zM194.3 529.0h2.2v2.2h-2.2zM199.6 535.6h2.2v2.2h-2.2zM204.2 523.1h2.2v2.2h-2.2zM184.7 511.6h2.2v2.2h-2.2zM195.5 503.2h2.2v2.2h-2.2zM185.4 502.0h2.2v2.2h-2.2zM189.5 524.0h2.2v2.2h-2.2zM200.3 517.4h2.2v2.2h-2.2zM200.2 506.1h2.2v2.2h-2.2zM190.9 509.4h2.2v2.2h-2.2zM183.4 509.9h2.2v2.2h-2.2zM183.8 513.9h2.2v2.2h-2.2zM203.4 517.7h2.2v2.2h-2.2zM194.8 519.5h2.2v2.2h-2.2zM191.9 505.1h2.2v2.2h-2.2zM172.3 527.6h2.2v2.2h-2.2zM197.8 491.4h2.2v2.2h-2.2zM198.0 509.4h2.2v2.2h-2.2zM193.4 516.6h2.2v2.2h-2.2zM186.3 499.2h2.2v2.2h-2.2zM186.5 523.0h2.2v2.2h-2.2zM183.8 499.6h2.2v2.2h-2.2zM194.1 535.2h2.2v2.2h-2.2zM183.8 526.3h2.2v2.2h-2.2zM196.4 518.8h2.2v2.2h-2.2zM210.6 504.6h2.2v2.2h-2.2zM193.1 510.8h2.2v2.2h-2.2zM200.8 515.5h2.2v2.2h-2.2zM197.2 522.8h2.2v2.2h-2.2zM191.4 516.0h2.2v2.2h-2.2zM187.5 528.5h2.2v2.2h-2.2zM203.7 532.9h2.2v2.2h-2.2zM176.7 506.4h2.2v2.2h-2.2zM193.5 525.6h2.2v2.2h-2.2zM189.4 504.6h2.2v2.2h-2.2zM216.7 514.0h2.2v2.2h-2.2zM195.5 505.0h2.2v2.2h-2.2zM216.6 519.7h2.2v2.2h-2.2zM191.0 511.8h2.2v2.2h-2.2zM194.1 519.2h2.2v2.2h-2.2zM196.0 506.6h2.2v2.2h-2.2zM211.1 504.5h2.2v2.2h-2.2zM209.7 522.6h2.2v2.2h-2.2zM178.3 525.2h2.2v2.2h-2.2zM198.5 506.0h2.2v2.2h-2.2zM218.4 528.1h2.2v2.2h-2.2zM169.3 525.6h2.2v2.2h-2.2zM186.9 497.1h2.2v2.2h-2.2zM202.0 500.3h2.2v2.2h-2.2zM190.1 515.0h2.2v2.2h-2.2zM189.8 502.9h2.2v2.2h-2.2zM167.9 512.0h2.2v2.2h-2.2zM208.0 527.3h2.2v2.2h-2.2zM211.9 518.5h2.2v2.2h-2.2zM197.1 505.9h2.2v2.2h-2.2zM167.9 505.5h2.2v2.2h-2.2zM184.1 503.4h2.2v2.2h-2.2zM193.9 517.7h2.2v2.2h-2.2zM186.2 522.7h2.2v2.2h-2.2zM197.0 522.9h2.2v2.2h-2.2zM206.2 526.9h2.2v2.2h-2.2zM189.7 506.8h2.2v2.2h-2.2zM194.7 527.1h2.2v2.2h-2.2zM167.9 522.6h2.2v2.2h-2.2zM187.9 521.4h2.2v2.2h-2.2zM198.9 509.9h2.2v2.2h-2.2zM183.9 510.1h2.2v2.2h-2.2zM199.9 501.2h2.2v2.2h-2.2zM194.4 507.2h2.2v2.2h-2.2zM185.8 501.0h2.2v2.2h-2.2zM174.0 518.4h2.2v2.2h-2.2zM196.8 509.2h2.2v2.2h-2.2zM191.1 524.0h2.2v2.2h-2.2zM195.0 517.6h2.2v2.2h-2.2zM192.4 521.1h2.2v2.2h-2.2zM190.0 502.5h2.2v2.2h-2.2zM202.0 520.3h2.2v2.2h-2.2zM182.7 515.9h2.2v2.2h-2.2zM196.2 517.6h2.2v2.2h-2.2zM222.9 516.2h2.2v2.2h-2.2zM193.9 509.3h2.2v2.2h-2.2zM187.0 489.9h2.2v2.2h-2.2zM188.6 511.8h2.2v2.2h-2.2zM181.1 514.7h2.2v2.2h-2.2zM199.4 526.7h2.2v2.2h-2.2zM220.8 515.2h2.2v2.2h-2.2zM183.5 501.7h2.2v2.2h-2.2zM209.9 507.6h2.2v2.2h-2.2zM193.8 522.2h2.2v2.2h-2.2zM195.7 515.9h2.2v2.2h-2.2zM197.4 493.1h2.2v2.2h-2.2zM191.7 520.7h2.2v2.2h-2.2zM166.6 485.0h2.2v2.2h-2.2zM170.0 468.1h2.2v2.2h-2.2zM168.3 484.7h2.2v2.2h-2.2zM167.8 472.1h2.2v2.2h-2.2zM161.1 484.5h2.2v2.2h-2.2zM162.7 473.1h2.2v2.2h-2.2zM165.5 473.1h2.2v2.2h-2.2zM168.9 469.9h2.2v2.2h-2.2zM159.4 478.1h2.2v2.2h-2.2zM166.4 484.4h2.2v2.2h-2.2zM167.4 486.5h2.2v2.2h-2.2zM170.2 476.3h2.2v2.2h-2.2zM164.9 467.8h2.2v2.2h-2.2zM162.5 478.4h2.2v2.2h-2.2zM159.9 481.1h2.2v2.2h-2.2z" fill="#4a2da2"/><rect x="162.5" y="417.3" width="50" height="48.2" fill="none" stroke="#000" stroke-width="1.6"/><rect x="174.3" y="487.9" width="61.6" height="83.4" fill="none" stroke="#000" stroke-width="1.6"/><rect x="358" y="412.7" width="161.4" height="160.7" fill="none" stroke="#8c8c8c" stroke-width="1.2"/><text x="352" y="440.71" font-size="7" text-anchor="end">10<tspan font-size="5.95" dy="-3">5</tspan></text><text x="352" y="470.76" font-size="7" text-anchor="end">10<tspan font-size="5.95" dy="-3">4</tspan></text><text x="352" y="503.87" font-size="7" text-anchor="end">10<tspan font-size="5.95" dy="-3">3</tspan></text><text x="351" y="524.28" font-size="6.5" text-anchor="end">0</text><text x="352" y="546.93" font-size="7" text-anchor="end">-10<tspan font-size="5.95" dy="-3">3</tspan></text><path d="M358 438.41h-4M358 468.46h-4M358 501.57h-4M358 521.98h-4M358 544.63h-4M358 491.6h-2.2M358 485.77h-2.2M358 481.64h-2.2M358 478.43h-2.2M358 475.81h-2.2M358 473.59h-2.2M358 471.67h-2.2M358 469.98h-2.2M358 459.42h-2.2M358 454.12h-2.2M358 450.37h-2.2M358 447.46h-2.2M358 445.08h-2.2M358 443.07h-2.2M358 441.32h-2.2M358 439.79h-2.2M358 429.22h-2.2M358 423.84h-2.2M358 420.03h-2.2M358 417.07h-2.2M358 414.65h-2.2M358 512.33h-2.2M358 515.55h-2.2M358 518.76h-2.2M358 525.19h-2.2M358 528.4h-2.2M358 531.62h-2.2M358 554.12h-2.2M358 563.76h-2.2M358 568.58h-2.2M380.6 573.4v4M414.33 573.4v4M446.45 573.4v4M476.63 573.4v4M505.84 573.4v4M424 573.4v2.2M429.65 573.4v2.2M433.67 573.4v2.2M436.78 573.4v2.2M439.32 573.4v2.2M441.47 573.4v2.2M443.33 573.4v2.2M444.98 573.4v2.2M455.53 573.4v2.2M460.85 573.4v2.2M464.62 573.4v2.2M467.54 573.4v2.2M469.93 573.4v2.2M471.95 573.4v2.2M473.7 573.4v2.2M475.25 573.4v2.2M485.42 573.4v2.2M490.57 573.4v2.2M494.22 573.4v2.2M497.05 573.4v2.2M499.36 573.4v2.2M501.32 573.4v2.2M503.01 573.4v2.2M504.51 573.4v2.2M366.07 573.4v2.2M370.91 573.4v2.2M374.14 573.4v2.2M375.75 573.4v2.2M377.37 573.4v2.2M378.98 573.4v2.2M382.21 573.4v2.2M383.82 573.4v2.2M398.35 573.4v2.2M404.81 573.4v2.2M408.03 573.4v2.2M411.26 573.4v2.2M515.37 573.4v2.2" fill="none" stroke="#000" stroke-width="0.8"/><rect x="354.8" y="518.37" width="3.2" height="4" fill="#000"/><rect x="374.14" y="573.7" width="9.68" height="2.5" fill="#000"/><text x="389.8" y="586.4" font-size="6.5" text-anchor="middle">0</text><text x="449.45" y="586.4" font-size="7" text-anchor="middle">10<tspan font-size="5.95" dy="-3">4</tspan></text><text x="479.63" y="586.4" font-size="7" text-anchor="middle">10<tspan font-size="5.95" dy="-3">5</tspan></text><text x="508.84" y="586.4" font-size="7" text-anchor="middle">10<tspan font-size="5.95" dy="-3">6</tspan></text><g filter="url(#rough)"><path d="M421.15 528.8C421.17 533.93 421.12 540.25 420.86 544.28C420.59 548.3 420 550.31 419.56 552.94C419.12 555.57 418.72 557.86 418.21 560.06C417.7 562.25 417.23 564.63 416.49 566.1C415.75 567.57 414.75 568.16 413.76 568.88C412.78 569.6 411.93 569.91 410.57 570.41C409.21 570.91 407.28 571.72 405.6 571.89C403.92 572.07 401.91 571.74 400.5 571.48C399.09 571.23 398.18 570.98 397.13 570.38C396.08 569.78 394.97 569.39 394.19 567.87C393.42 566.36 392.91 563.8 392.5 561.29C392.09 558.77 391.97 555.73 391.73 552.78C391.49 549.83 391.18 547.56 391.05 543.56C390.92 539.56 390.92 533.69 390.95 528.8C390.97 523.91 391.1 518.25 391.2 514.19C391.3 510.14 391.25 507.29 391.53 504.47C391.81 501.65 392.31 499.29 392.88 497.26C393.45 495.23 394.23 493.96 394.94 492.28C395.65 490.61 396.24 488.58 397.13 487.2C398.01 485.82 398.84 484.55 400.25 483.99C401.66 483.44 403.84 483.72 405.6 483.89C407.36 484.07 409.46 484.27 410.82 485.07C412.19 485.87 412.95 487.2 413.77 488.69C414.59 490.19 415.07 492.43 415.74 494.06C416.42 495.69 417.16 496.78 417.83 498.49C418.5 500.2 419.28 501.81 419.76 504.31C420.24 506.81 420.48 509.4 420.71 513.48C420.94 517.56 421.12 523.67 421.15 528.8Z" fill="#4a2da2"/><path d="M413.49 528.08C413.57 531.4 413.48 535.34 413.37 538.25C413.25 541.15 413.13 543.46 412.81 545.53C412.48 547.61 411.96 549.29 411.42 550.67C410.88 552.06 410.18 552.76 409.58 553.84C408.98 554.92 408.48 556.21 407.82 557.16C407.16 558.1 406.53 559.08 405.62 559.54C404.71 559.99 403.45 559.84 402.36 559.86C401.27 559.88 400.02 559.95 399.08 559.66C398.14 559.36 397.43 558.91 396.73 558.09C396.03 557.26 395.49 555.9 394.9 554.72C394.31 553.54 393.68 552.5 393.17 550.98C392.67 549.46 392.13 547.76 391.87 545.6C391.61 543.44 391.64 540.92 391.62 538C391.6 535.08 391.69 531.32 391.77 528.08C391.85 524.84 391.9 521.24 392.08 518.58C392.25 515.93 392.57 514.21 392.81 512.13C393.06 510.06 393.25 508.07 393.56 506.13C393.86 504.2 394.14 501.98 394.65 500.54C395.16 499.1 395.89 498.25 396.62 497.5C397.35 496.75 398.08 496.44 399.03 496.03C399.99 495.62 401.25 495.04 402.36 495.06C403.47 495.08 404.75 495.59 405.67 496.15C406.6 496.71 407.23 497.56 407.92 498.43C408.62 499.31 409.31 500.08 409.83 501.42C410.35 502.75 410.7 504.65 411.04 506.44C411.38 508.24 411.56 510.22 411.87 512.2C412.18 514.18 412.64 515.69 412.91 518.34C413.18 520.98 413.41 524.76 413.49 528.08Z" fill="#3b55c8"/><path d="M410.51 527.81C410.56 530.54 410.61 533.75 410.48 536.12C410.36 538.5 410.06 540.27 409.78 542.08C409.5 543.9 409.2 545.6 408.81 547.03C408.41 548.46 407.94 549.77 407.4 550.65C406.86 551.52 406.18 551.72 405.56 552.27C404.94 552.82 404.42 553.36 403.69 553.95C402.95 554.54 402.02 555.5 401.15 555.8C400.27 556.11 399.23 556.01 398.43 555.77C397.63 555.54 396.98 555.09 396.35 554.4C395.71 553.7 395.08 552.88 394.62 551.62C394.16 550.36 393.87 548.49 393.57 546.82C393.26 545.16 393.05 543.42 392.8 541.6C392.55 539.78 392.2 538.2 392.06 535.9C391.92 533.6 391.93 530.47 391.97 527.81C392.02 525.15 392.2 522.27 392.33 519.96C392.46 517.66 392.55 515.8 392.78 513.99C393 512.17 393.34 510.61 393.68 509.09C394.03 507.58 394.43 506.27 394.86 504.89C395.3 503.51 395.69 501.79 396.27 500.81C396.85 499.83 397.53 499.2 398.35 499.02C399.16 498.83 400.24 499.4 401.14 499.7C402.05 500.01 403.02 500.3 403.77 500.84C404.52 501.38 405.07 502.1 405.63 502.94C406.2 503.77 406.65 504.87 407.16 505.86C407.67 506.86 408.25 507.62 408.69 508.89C409.13 510.16 409.55 511.7 409.8 513.5C410.06 515.31 410.1 517.35 410.22 519.74C410.33 522.12 410.47 525.08 410.51 527.81Z" fill="#5cc0e2"/><path d="M407.22 527.54C407.27 529.65 407.46 532.02 407.45 534C407.45 535.98 407.37 537.81 407.18 539.42C406.98 541.03 406.62 542.38 406.29 543.68C405.96 544.98 405.6 546.26 405.17 547.22C404.74 548.18 404.23 548.9 403.7 549.42C403.17 549.94 402.61 550.05 401.99 550.34C401.36 550.63 400.62 551.12 399.93 551.18C399.24 551.24 398.44 551.15 397.84 550.69C397.24 550.23 396.81 549.2 396.33 548.44C395.86 547.68 395.41 546.99 394.98 546.12C394.55 545.26 394.09 544.41 393.74 543.25C393.38 542.09 393.11 540.67 392.83 539.18C392.56 537.68 392.25 536.21 392.09 534.27C391.93 532.33 391.8 529.74 391.86 527.54C391.91 525.34 392.21 522.95 392.43 521.1C392.64 519.24 392.9 517.9 393.14 516.41C393.38 514.93 393.57 513.44 393.88 512.19C394.18 510.94 394.57 509.93 394.97 508.91C395.36 507.9 395.77 506.94 396.24 506.11C396.71 505.29 397.19 504.36 397.8 503.97C398.42 503.58 399.23 503.72 399.93 503.78C400.63 503.84 401.38 504.1 402.02 504.32C402.67 504.55 403.26 504.55 403.79 505.13C404.31 505.71 404.79 506.72 405.18 507.82C405.58 508.93 405.87 510.37 406.15 511.77C406.43 513.16 406.7 514.57 406.86 516.17C407.03 517.77 407.06 519.47 407.12 521.37C407.18 523.26 407.16 525.43 407.22 527.54Z" fill="#4fbf45"/><path d="M405.12 527.29C405.07 529.01 404.97 530.82 404.83 532.32C404.69 533.82 404.51 535.1 404.29 536.28C404.07 537.46 403.74 538.35 403.48 539.4C403.22 540.45 403.01 541.55 402.72 542.57C402.44 543.59 402.15 544.81 401.77 545.53C401.38 546.25 400.92 546.58 400.42 546.87C399.93 547.16 399.34 547.24 398.8 547.26C398.25 547.27 397.65 547.28 397.17 546.94C396.68 546.6 396.27 545.88 395.87 545.23C395.47 544.57 395.1 543.84 394.76 543.01C394.41 542.17 394.03 541.36 393.78 540.24C393.54 539.13 393.41 537.67 393.28 536.31C393.16 534.95 393.13 533.59 393.03 532.09C392.94 530.59 392.78 528.93 392.73 527.29C392.68 525.64 392.67 523.8 392.72 522.23C392.77 520.65 392.87 519.23 393.01 517.82C393.15 516.41 393.29 514.89 393.56 513.77C393.84 512.66 394.24 511.79 394.64 511.13C395.04 510.46 395.51 510.23 395.94 509.79C396.38 509.35 396.76 508.78 397.24 508.48C397.71 508.18 398.28 507.96 398.8 507.98C399.32 507.99 399.87 508.3 400.35 508.55C400.83 508.8 401.28 508.98 401.7 509.48C402.11 509.98 402.51 510.71 402.84 511.56C403.17 512.42 403.41 513.57 403.7 514.62C403.99 515.67 404.32 516.62 404.56 517.85C404.8 519.08 405.05 520.42 405.14 522C405.24 523.57 405.17 525.57 405.12 527.29Z" fill="#e8e03a"/><path d="M403.39 527.13C403.33 528.52 403.11 529.92 402.97 531.16C402.84 532.4 402.73 533.45 402.59 534.57C402.46 535.69 402.35 536.88 402.16 537.89C401.96 538.89 401.7 539.76 401.43 540.6C401.15 541.43 400.87 542.29 400.53 542.92C400.19 543.55 399.82 544.16 399.41 544.39C399 544.62 398.51 544.39 398.07 544.29C397.63 544.18 397.18 544 396.77 543.77C396.36 543.53 395.96 543.4 395.61 542.88C395.27 542.35 394.96 541.48 394.7 540.64C394.43 539.8 394.21 538.81 394 537.83C393.79 536.85 393.57 535.87 393.43 534.77C393.28 533.66 393.22 532.45 393.13 531.18C393.04 529.91 392.98 528.53 392.91 527.13C392.84 525.72 392.71 524.11 392.74 522.75C392.76 521.38 392.9 520.05 393.08 518.91C393.26 517.78 393.55 516.84 393.82 515.94C394.08 515.04 394.36 514.16 394.67 513.51C394.99 512.85 395.35 512.41 395.71 512.01C396.07 511.61 396.43 511.42 396.82 511.12C397.21 510.83 397.64 510.33 398.07 510.23C398.49 510.12 398.97 510.21 399.36 510.5C399.75 510.79 400.08 511.46 400.43 511.97C400.78 512.47 401.13 512.9 401.45 513.56C401.77 514.21 402.09 514.96 402.34 515.88C402.59 516.81 402.77 517.96 402.94 519.11C403.11 520.25 403.29 521.43 403.37 522.77C403.45 524.11 403.46 525.73 403.39 527.13Z" fill="#f29a2c"/><path d="M401.93 527C401.9 528.2 401.9 529.43 401.83 530.54C401.76 531.64 401.64 532.67 401.49 533.64C401.35 534.61 401.16 535.47 400.97 536.33C400.78 537.2 400.61 538.15 400.36 538.84C400.12 539.53 399.82 540.07 399.52 540.49C399.22 540.92 398.9 541.11 398.56 541.42C398.22 541.73 397.86 542.21 397.5 542.36C397.14 542.51 396.72 542.56 396.37 542.32C396.03 542.07 395.71 541.46 395.42 540.9C395.13 540.34 394.84 539.7 394.61 538.94C394.38 538.18 394.18 537.26 394.03 536.33C393.87 535.41 393.79 534.36 393.66 533.38C393.53 532.41 393.35 531.55 393.23 530.49C393.11 529.42 392.96 528.19 392.93 527C392.9 525.81 392.98 524.52 393.05 523.36C393.12 522.21 393.21 521.12 393.35 520.09C393.48 519.07 393.64 518.03 393.85 517.2C394.07 516.37 394.36 515.75 394.62 515.11C394.89 514.46 395.16 513.83 395.46 513.33C395.75 512.84 396.07 512.3 396.41 512.13C396.75 511.97 397.15 512.21 397.5 512.36C397.85 512.51 398.2 512.8 398.53 513.03C398.86 513.26 399.18 513.37 399.48 513.73C399.79 514.1 400.07 514.63 400.35 515.21C400.63 515.79 400.9 516.43 401.15 517.2C401.39 517.98 401.66 518.82 401.81 519.84C401.95 520.86 401.99 522.12 402.01 523.32C402.03 524.51 401.96 525.8 401.93 527Z" fill="#e4341e"/></g><path d="M416.5 503.7h2.2v2.2h-2.2zM400.2 570.5h2.2v2.2h-2.2zM390.6 510.7h2.2v2.2h-2.2zM409.3 566.9h2.2v2.2h-2.2zM397.6 567.8h2.2v2.2h-2.2zM420.9 519.0h2.2v2.2h-2.2zM415.7 491.0h2.2v2.2h-2.2zM419.9 516.7h2.2v2.2h-2.2zM409.8 489.3h2.2v2.2h-2.2zM397.5 486.5h2.2v2.2h-2.2zM399.9 571.4h2.2v2.2h-2.2zM419.2 514.6h2.2v2.2h-2.2zM395.5 493.0h2.2v2.2h-2.2zM395.3 567.9h2.2v2.2h-2.2zM418.9 535.1h2.2v2.2h-2.2zM397.9 487.4h2.2v2.2h-2.2zM418.2 551.4h2.2v2.2h-2.2zM393.6 560.7h2.2v2.2h-2.2zM391.0 550.4h2.2v2.2h-2.2zM390.6 510.2h2.2v2.2h-2.2zM415.5 555.6h2.2v2.2h-2.2zM416.5 498.7h2.2v2.2h-2.2zM417.1 558.9h2.2v2.2h-2.2zM404.2 569.4h2.2v2.2h-2.2zM390.0 519.4h2.2v2.2h-2.2zM388.9 530.8h2.2v2.2h-2.2zM406.8 572.9h2.2v2.2h-2.2zM416.3 557.2h2.2v2.2h-2.2zM392.4 505.8h2.2v2.2h-2.2zM392.6 550.4h2.2v2.2h-2.2zM389.2 545.6h2.2v2.2h-2.2zM389.2 513.1h2.2v2.2h-2.2zM405.1 485.9h2.2v2.2h-2.2zM420.6 524.9h2.2v2.2h-2.2zM417.7 556.3h2.2v2.2h-2.2zM393.2 554.3h2.2v2.2h-2.2zM419.7 516.4h2.2v2.2h-2.2zM406.8 486.2h2.2v2.2h-2.2zM406.8 486.9h2.2v2.2h-2.2zM405.7 571.6h2.2v2.2h-2.2zM420.2 532.1h2.2v2.2h-2.2zM407.9 570.0h2.2v2.2h-2.2zM400.5 484.8h2.2v2.2h-2.2zM416.6 498.0h2.2v2.2h-2.2zM415.4 494.9h2.2v2.2h-2.2zM418.9 503.8h2.2v2.2h-2.2zM412.5 568.7h2.2v2.2h-2.2zM395.7 567.4h2.2v2.2h-2.2zM397.6 484.4h2.2v2.2h-2.2zM415.3 558.4h2.2v2.2h-2.2zM403.2 479.0h2.2v2.2h-2.2zM402.0 487.1h2.2v2.2h-2.2zM393.1 502.4h2.2v2.2h-2.2zM388.9 513.3h2.2v2.2h-2.2zM417.2 559.4h2.2v2.2h-2.2zM397.8 489.3h2.2v2.2h-2.2zM409.9 569.5h2.2v2.2h-2.2zM412.8 488.8h2.2v2.2h-2.2zM415.2 554.6h2.2v2.2h-2.2zM417.1 558.1h2.2v2.2h-2.2zM410.7 569.5h2.2v2.2h-2.2zM400.5 572.9h2.2v2.2h-2.2zM393.9 556.4h2.2v2.2h-2.2zM415.6 495.7h2.2v2.2h-2.2zM398.4 483.4h2.2v2.2h-2.2zM417.9 514.7h2.2v2.2h-2.2zM396.6 563.0h2.2v2.2h-2.2zM388.0 527.2h2.2v2.2h-2.2zM408.9 488.5h2.2v2.2h-2.2zM411.3 571.2h2.2v2.2h-2.2zM439.4 441.4h2.2v2.2h-2.2zM422.4 451.8h2.2v2.2h-2.2zM449.6 432.2h2.2v2.2h-2.2zM429.2 456.8h2.2v2.2h-2.2zM440.7 442.2h2.2v2.2h-2.2zM424.5 449.5h2.2v2.2h-2.2zM429.9 448.1h2.2v2.2h-2.2zM437.9 442.6h2.2v2.2h-2.2zM434.2 445.5h2.2v2.2h-2.2zM418.6 452.6h2.2v2.2h-2.2zM422.6 451.2h2.2v2.2h-2.2zM429.2 440.7h2.2v2.2h-2.2zM460.2 430.4h2.2v2.2h-2.2zM450.6 431.8h2.2v2.2h-2.2zM438.3 437.8h2.2v2.2h-2.2zM427.6 444.1h2.2v2.2h-2.2zM452.3 428.4h2.2v2.2h-2.2zM445.8 432.2h2.2v2.2h-2.2zM438.0 443.8h2.2v2.2h-2.2zM433.9 448.4h2.2v2.2h-2.2zM431.4 449.4h2.2v2.2h-2.2zM429.4 450.9h2.2v2.2h-2.2zM428.8 449.2h2.2v2.2h-2.2zM447.0 434.2h2.2v2.2h-2.2zM437.1 444.3h2.2v2.2h-2.2zM415.6 460.3h2.2v2.2h-2.2zM436.7 434.9h2.2v2.2h-2.2zM432.2 447.0h2.2v2.2h-2.2zM419.1 461.2h2.2v2.2h-2.2zM451.8 434.3h2.2v2.2h-2.2zM432.7 445.6h2.2v2.2h-2.2zM436.5 443.2h2.2v2.2h-2.2zM426.7 452.0h2.2v2.2h-2.2zM424.4 449.0h2.2v2.2h-2.2zM432.1 451.9h2.2v2.2h-2.2zM449.0 431.5h2.2v2.2h-2.2zM449.4 436.2h2.2v2.2h-2.2zM419.7 450.4h2.2v2.2h-2.2zM429.6 450.9h2.2v2.2h-2.2zM440.0 439.7h2.2v2.2h-2.2zM453.6 434.6h2.2v2.2h-2.2zM443.4 433.9h2.2v2.2h-2.2zM441.9 440.0h2.2v2.2h-2.2zM436.0 448.3h2.2v2.2h-2.2zM423.2 449.5h2.2v2.2h-2.2zM424.0 451.8h2.2v2.2h-2.2zM443.4 427.4h2.2v2.2h-2.2zM411.8 454.1h2.2v2.2h-2.2zM429.4 450.7h2.2v2.2h-2.2zM419.9 453.7h2.2v2.2h-2.2zM444.4 436.9h2.2v2.2h-2.2zM433.8 439.9h2.2v2.2h-2.2zM436.4 446.3h2.2v2.2h-2.2zM423.2 445.9h2.2v2.2h-2.2zM444.4 441.6h2.2v2.2h-2.2zM452.4 430.7h2.2v2.2h-2.2zM437.6 443.0h2.2v2.2h-2.2zM409.0 460.0h2.2v2.2h-2.2zM439.7 444.1h2.2v2.2h-2.2zM423.4 451.1h2.2v2.2h-2.2zM415.7 459.6h2.2v2.2h-2.2zM432.9 443.5h2.2v2.2h-2.2zM452.2 432.5h2.2v2.2h-2.2zM420.6 446.3h2.2v2.2h-2.2zM426.5 455.7h2.2v2.2h-2.2zM428.1 451.7h2.2v2.2h-2.2zM437.2 445.4h2.2v2.2h-2.2zM429.8 452.3h2.2v2.2h-2.2zM418.1 455.0h2.2v2.2h-2.2zM435.4 444.0h2.2v2.2h-2.2zM412.9 456.3h2.2v2.2h-2.2zM457.3 430.0h2.2v2.2h-2.2zM423.2 455.4h2.2v2.2h-2.2zM432.4 448.7h2.2v2.2h-2.2zM444.0 434.2h2.2v2.2h-2.2zM456.8 433.8h2.2v2.2h-2.2zM424.9 449.4h2.2v2.2h-2.2zM425.1 444.9h2.2v2.2h-2.2zM423.7 454.5h2.2v2.2h-2.2zM454.3 437.0h2.2v2.2h-2.2zM434.6 442.7h2.2v2.2h-2.2zM452.9 439.8h2.2v2.2h-2.2zM430.3 441.7h2.2v2.2h-2.2zM428.9 445.4h2.2v2.2h-2.2zM428.0 450.7h2.2v2.2h-2.2zM462.7 430.4h2.2v2.2h-2.2zM420.0 453.4h2.2v2.2h-2.2zM420.2 453.0h2.2v2.2h-2.2zM432.9 446.5h2.2v2.2h-2.2zM452.0 432.7h2.2v2.2h-2.2zM425.0 447.2h2.2v2.2h-2.2zM412.8 458.3h2.2v2.2h-2.2zM432.5 446.9h2.2v2.2h-2.2zM452.8 436.0h2.2v2.2h-2.2zM416.9 456.0h2.2v2.2h-2.2zM434.2 451.3h2.2v2.2h-2.2zM419.7 450.9h2.2v2.2h-2.2zM416.0 459.4h2.2v2.2h-2.2zM451.2 433.6h2.2v2.2h-2.2zM458.9 426.4h2.2v2.2h-2.2zM426.5 453.7h2.2v2.2h-2.2zM420.6 458.5h2.2v2.2h-2.2zM427.9 446.0h2.2v2.2h-2.2zM412.2 454.5h2.2v2.2h-2.2zM431.7 441.4h2.2v2.2h-2.2zM459.3 425.8h2.2v2.2h-2.2zM429.1 450.7h2.2v2.2h-2.2zM452.3 432.3h2.2v2.2h-2.2zM438.9 456.9h2.2v2.2h-2.2zM407.7 454.3h2.2v2.2h-2.2zM421.9 449.6h2.2v2.2h-2.2zM424.5 453.9h2.2v2.2h-2.2zM451.1 426.5h2.2v2.2h-2.2zM414.7 455.1h2.2v2.2h-2.2zM438.2 439.0h2.2v2.2h-2.2zM460.7 430.1h2.2v2.2h-2.2zM445.2 433.3h2.2v2.2h-2.2zM456.4 434.3h2.2v2.2h-2.2zM441.2 440.8h2.2v2.2h-2.2zM425.6 446.8h2.2v2.2h-2.2zM440.3 443.4h2.2v2.2h-2.2zM437.5 447.8h2.2v2.2h-2.2zM428.3 449.3h2.2v2.2h-2.2zM440.3 437.1h2.2v2.2h-2.2zM428.1 459.0h2.2v2.2h-2.2zM431.9 442.8h2.2v2.2h-2.2zM448.3 437.0h2.2v2.2h-2.2zM443.7 435.8h2.2v2.2h-2.2zM454.3 430.1h2.2v2.2h-2.2zM410.7 462.7h2.2v2.2h-2.2zM449.8 436.1h2.2v2.2h-2.2zM427.0 453.9h2.2v2.2h-2.2zM443.9 434.6h2.2v2.2h-2.2zM408.0 464.1h2.2v2.2h-2.2zM439.4 439.7h2.2v2.2h-2.2zM447.7 433.3h2.2v2.2h-2.2zM439.7 442.0h2.2v2.2h-2.2zM421.6 454.6h2.2v2.2h-2.2zM432.2 448.2h2.2v2.2h-2.2zM439.9 443.0h2.2v2.2h-2.2zM443.7 440.8h2.2v2.2h-2.2zM424.7 450.8h2.2v2.2h-2.2zM442.2 438.4h2.2v2.2h-2.2zM432.9 442.0h2.2v2.2h-2.2zM433.1 449.3h2.2v2.2h-2.2zM428.6 445.5h2.2v2.2h-2.2zM427.2 442.0h2.2v2.2h-2.2zM425.2 451.9h2.2v2.2h-2.2zM456.3 440.2h2.2v2.2h-2.2zM440.3 441.7h2.2v2.2h-2.2zM448.5 527.9h2.2v2.2h-2.2zM451.4 520.0h2.2v2.2h-2.2zM435.9 524.8h2.2v2.2h-2.2zM468.7 520.0h2.2v2.2h-2.2zM468.1 527.2h2.2v2.2h-2.2zM436.8 527.5h2.2v2.2h-2.2zM458.1 520.6h2.2v2.2h-2.2zM423.9 528.0h2.2v2.2h-2.2zM436.9 528.5h2.2v2.2h-2.2zM426.7 525.1h2.2v2.2h-2.2zM440.7 517.3h2.2v2.2h-2.2zM447.8 526.9h2.2v2.2h-2.2zM443.9 519.0h2.2v2.2h-2.2zM453.6 515.7h2.2v2.2h-2.2zM457.7 528.8h2.2v2.2h-2.2zM472.1 531.1h2.2v2.2h-2.2zM455.4 527.4h2.2v2.2h-2.2zM451.2 518.2h2.2v2.2h-2.2zM469.4 529.0h2.2v2.2h-2.2zM447.3 519.2h2.2v2.2h-2.2zM469.7 529.0h2.2v2.2h-2.2zM435.9 529.8h2.2v2.2h-2.2zM474.9 525.8h2.2v2.2h-2.2zM456.0 523.5h2.2v2.2h-2.2zM443.0 532.2h2.2v2.2h-2.2zM476.9 526.6h2.2v2.2h-2.2zM449.3 530.5h2.2v2.2h-2.2zM447.1 530.1h2.2v2.2h-2.2zM461.4 520.0h2.2v2.2h-2.2zM437.4 525.5h2.2v2.2h-2.2zM461.4 527.5h2.2v2.2h-2.2zM466.6 517.9h2.2v2.2h-2.2zM457.1 522.3h2.2v2.2h-2.2zM452.2 527.8h2.2v2.2h-2.2zM438.7 524.6h2.2v2.2h-2.2zM436.2 527.4h2.2v2.2h-2.2zM440.2 523.0h2.2v2.2h-2.2zM453.7 522.1h2.2v2.2h-2.2zM465.4 522.2h2.2v2.2h-2.2zM461.6 527.5h2.2v2.2h-2.2zM437.9 524.6h2.2v2.2h-2.2zM440.3 523.8h2.2v2.2h-2.2zM447.5 536.5h2.2v2.2h-2.2zM445.6 535.0h2.2v2.2h-2.2zM456.5 518.3h2.2v2.2h-2.2zM422.9 529.8h2.2v2.2h-2.2zM425.8 530.1h2.2v2.2h-2.2zM463.9 528.2h2.2v2.2h-2.2zM448.3 524.4h2.2v2.2h-2.2zM454.2 524.1h2.2v2.2h-2.2zM444.2 523.7h2.2v2.2h-2.2zM465.6 522.3h2.2v2.2h-2.2zM455.7 519.2h2.2v2.2h-2.2zM441.9 517.9h2.2v2.2h-2.2zM448.4 529.9h2.2v2.2h-2.2zM454.7 523.0h2.2v2.2h-2.2zM458.6 523.9h2.2v2.2h-2.2zM455.6 527.5h2.2v2.2h-2.2zM457.7 511.5h2.2v2.2h-2.2zM434.5 530.4h2.2v2.2h-2.2zM449.6 538.9h2.2v2.2h-2.2zM447.9 522.7h2.2v2.2h-2.2zM469.7 529.1h2.2v2.2h-2.2zM474.8 528.9h2.2v2.2h-2.2zM448.3 530.1h2.2v2.2h-2.2zM441.0 523.3h2.2v2.2h-2.2zM443.9 524.6h2.2v2.2h-2.2zM460.7 523.1h2.2v2.2h-2.2zM455.0 523.0h2.2v2.2h-2.2zM462.0 509.9h2.2v2.2h-2.2zM410.6 474.6h2.2v2.2h-2.2zM411.5 471.0h2.2v2.2h-2.2zM401.0 482.5h2.2v2.2h-2.2zM408.1 472.0h2.2v2.2h-2.2zM417.1 467.1h2.2v2.2h-2.2zM417.7 457.9h2.2v2.2h-2.2zM404.7 480.0h2.2v2.2h-2.2zM410.4 471.0h2.2v2.2h-2.2zM411.4 469.2h2.2v2.2h-2.2zM411.0 471.1h2.2v2.2h-2.2zM410.7 474.1h2.2v2.2h-2.2zM407.0 477.9h2.2v2.2h-2.2zM412.7 468.5h2.2v2.2h-2.2zM413.8 459.6h2.2v2.2h-2.2zM405.8 476.2h2.2v2.2h-2.2zM414.0 469.3h2.2v2.2h-2.2zM410.1 477.8h2.2v2.2h-2.2zM400.8 480.1h2.2v2.2h-2.2zM409.8 469.2h2.2v2.2h-2.2zM412.5 473.1h2.2v2.2h-2.2zM403.3 479.5h2.2v2.2h-2.2zM407.2 473.3h2.2v2.2h-2.2zM407.9 478.9h2.2v2.2h-2.2zM415.2 460.8h2.2v2.2h-2.2zM409.8 483.0h2.2v2.2h-2.2zM402.1 481.0h2.2v2.2h-2.2zM403.7 481.3h2.2v2.2h-2.2zM407.4 470.4h2.2v2.2h-2.2zM404.7 479.9h2.2v2.2h-2.2zM405.6 485.8h2.2v2.2h-2.2zM425.9 534.5h2.2v2.2h-2.2zM421.1 536.6h2.2v2.2h-2.2zM425.8 530.5h2.2v2.2h-2.2zM426.6 526.5h2.2v2.2h-2.2zM423.2 528.9h2.2v2.2h-2.2zM422.4 509.5h2.2v2.2h-2.2zM421.2 514.6h2.2v2.2h-2.2zM426.1 510.6h2.2v2.2h-2.2zM429.8 502.3h2.2v2.2h-2.2zM426.7 508.3h2.2v2.2h-2.2zM426.9 530.3h2.2v2.2h-2.2zM428.0 501.4h2.2v2.2h-2.2zM423.4 522.9h2.2v2.2h-2.2zM430.7 500.5h2.2v2.2h-2.2zM427.1 526.6h2.2v2.2h-2.2z" fill="#4a2da2"/><rect x="412.3" y="417.3" width="56.1" height="47" fill="none" stroke="#000" stroke-width="1.6"/><rect x="431.4" y="483.4" width="64.3" height="87.9" fill="none" stroke="#000" stroke-width="1.6"/><rect x="617.7" y="412.8" width="160.4" height="160" fill="none" stroke="#8c8c8c" stroke-width="1.2"/><text x="611.7" y="440.7" font-size="7" text-anchor="end">10<tspan font-size="5.95" dy="-3">5</tspan></text><text x="611.7" y="470.62" font-size="7" text-anchor="end">10<tspan font-size="5.95" dy="-3">4</tspan></text><text x="611.7" y="503.58" font-size="7" text-anchor="end">10<tspan font-size="5.95" dy="-3">3</tspan></text><text x="610.7" y="523.9" font-size="6.5" text-anchor="end">0</text><text x="611.7" y="546.46" font-size="7" text-anchor="end">-10<tspan font-size="5.95" dy="-3">3</tspan></text><path d="M617.7 438.4h-4M617.7 468.32h-4M617.7 501.28h-4M617.7 521.6h-4M617.7 544.16h-4M617.7 491.36h-2.2M617.7 485.55h-2.2M617.7 481.44h-2.2M617.7 478.24h-2.2M617.7 475.63h-2.2M617.7 473.43h-2.2M617.7 471.51h-2.2M617.7 469.83h-2.2M617.7 459.31h-2.2M617.7 454.04h-2.2M617.7 450.31h-2.2M617.7 447.41h-2.2M617.7 445.04h-2.2M617.7 443.03h-2.2M617.7 441.3h-2.2M617.7 439.77h-2.2M617.7 429.25h-2.2M617.7 423.9h-2.2M617.7 420.1h-2.2M617.7 417.15h-2.2M617.7 414.74h-2.2M617.7 512h-2.2M617.7 515.2h-2.2M617.7 518.4h-2.2M617.7 524.8h-2.2M617.7 528h-2.2M617.7 531.2h-2.2M617.7 553.6h-2.2M617.7 563.2h-2.2M617.7 568h-2.2M640.16 572.8v4M673.68 572.8v4M705.6 572.8v4M735.59 572.8v4M764.63 572.8v4M683.29 572.8v2.2M688.91 572.8v2.2M692.9 572.8v2.2M695.99 572.8v2.2M698.52 572.8v2.2M700.65 572.8v2.2M702.51 572.8v2.2M704.14 572.8v2.2M714.63 572.8v2.2M719.91 572.8v2.2M723.66 572.8v2.2M726.56 572.8v2.2M728.94 572.8v2.2M730.95 572.8v2.2M732.69 572.8v2.2M734.22 572.8v2.2M744.33 572.8v2.2M749.45 572.8v2.2M753.07 572.8v2.2M755.89 572.8v2.2M758.19 572.8v2.2M760.13 572.8v2.2M761.81 572.8v2.2M763.3 572.8v2.2M625.72 572.8v2.2M630.53 572.8v2.2M633.74 572.8v2.2M635.34 572.8v2.2M636.95 572.8v2.2M638.55 572.8v2.2M641.76 572.8v2.2M643.36 572.8v2.2M657.8 572.8v2.2M664.22 572.8v2.2M667.42 572.8v2.2M670.63 572.8v2.2M774.09 572.8v2.2" fill="none" stroke="#000" stroke-width="0.8"/><rect x="614.5" y="518" width="3.2" height="4" fill="#000"/><rect x="633.74" y="573.1" width="9.62" height="2.5" fill="#000"/><text x="649.3" y="585.8" font-size="6.5" text-anchor="middle">0</text><text x="708.6" y="585.8" font-size="7" text-anchor="middle">10<tspan font-size="5.95" dy="-3">4</tspan></text><text x="738.59" y="585.8" font-size="7" text-anchor="middle">10<tspan font-size="5.95" dy="-3">5</tspan></text><text x="767.63" y="585.8" font-size="7" text-anchor="middle">10<tspan font-size="5.95" dy="-3">6</tspan></text><g filter="url(#rough)"><path d="M679.23 523.5C679.25 529.06 679.35 535.74 679.2 540.22C679.06 544.71 678.72 547.36 678.37 550.43C678.01 553.5 677.53 555.92 677.08 558.62C676.62 561.32 676.31 564.49 675.64 566.63C674.96 568.77 674.08 570.54 673.05 571.46C672.01 572.39 670.92 572.09 669.43 572.17C667.94 572.25 665.84 572.29 664.1 571.95C662.36 571.62 660.35 570.97 658.99 570.16C657.64 569.36 656.94 568.05 655.96 567.13C654.98 566.21 653.96 565.91 653.09 564.65C652.23 563.39 651.35 561.87 650.77 559.57C650.18 557.28 649.93 554.06 649.58 550.9C649.24 547.73 648.91 545.13 648.69 540.57C648.46 536 648.22 529.17 648.23 523.5C648.25 517.83 648.53 511.08 648.76 506.52C648.99 501.95 649.21 499.17 649.59 496.12C649.98 493.08 650.42 490.29 651.08 488.26C651.73 486.22 652.7 485.31 653.51 483.93C654.33 482.54 655.09 481.37 655.97 479.94C656.86 478.51 657.48 476.44 658.83 475.34C660.18 474.25 662.31 473.69 664.1 473.35C665.89 473.02 668.1 472.96 669.59 473.34C671.08 473.71 672.1 474.17 673.04 475.6C673.97 477.04 674.59 479.67 675.22 481.94C675.84 484.21 676.25 486.77 676.77 489.21C677.29 491.66 677.97 493.65 678.36 496.59C678.75 499.53 678.98 502.38 679.13 506.86C679.27 511.35 679.22 517.94 679.23 523.5Z" fill="#4a2da2"/><path d="M672.55 524.82C672.58 528.27 672.61 532.38 672.43 535.25C672.26 538.13 671.86 540 671.52 542.06C671.18 544.13 670.83 545.94 670.42 547.64C670.01 549.34 669.58 550.98 669.05 552.28C668.51 553.57 667.87 554.35 667.22 555.42C666.56 556.49 666.02 557.76 665.12 558.67C664.22 559.58 662.93 560.73 661.82 560.86C660.71 560.99 659.37 560.2 658.44 559.44C657.52 558.69 656.92 557.47 656.26 556.32C655.61 555.17 655.01 554.04 654.52 552.54C654.03 551.05 653.71 549.14 653.33 547.36C652.95 545.57 652.6 543.86 652.25 541.84C651.9 539.81 651.43 538.06 651.24 535.22C651.04 532.39 651.05 528.26 651.07 524.82C651.1 521.38 651.27 517.55 651.38 514.56C651.49 511.58 651.52 509.21 651.75 506.91C651.97 504.61 652.33 502.55 652.75 500.76C653.18 498.98 653.72 497.53 654.28 496.18C654.85 494.82 655.42 493.36 656.14 492.64C656.86 491.91 657.66 491.83 658.6 491.83C659.55 491.84 660.76 492.53 661.82 492.66C662.88 492.79 664.04 492.46 664.96 492.6C665.88 492.75 666.62 492.9 667.34 493.54C668.06 494.18 668.68 495.29 669.29 496.44C669.9 497.6 670.54 498.77 670.99 500.48C671.45 502.19 671.81 504.34 672.02 506.68C672.24 509.02 672.2 511.51 672.29 514.53C672.38 517.55 672.53 521.37 672.55 524.82Z" fill="#3b55c8"/><path d="M669.97 525.31C669.95 528.02 669.74 531 669.62 533.39C669.5 535.79 669.45 537.73 669.27 539.69C669.08 541.65 668.86 543.59 668.51 545.15C668.16 546.71 667.66 547.89 667.16 549.03C666.67 550.16 666.16 551.28 665.55 551.95C664.95 552.62 664.3 553.01 663.54 553.05C662.77 553.09 661.8 552.4 660.97 552.2C660.13 552.01 659.25 552.01 658.5 551.86C657.76 551.7 657.11 551.8 656.5 551.28C655.89 550.75 655.35 549.76 654.84 548.73C654.34 547.7 653.85 546.52 653.45 545.07C653.05 543.62 652.67 541.97 652.46 540.04C652.25 538.12 652.25 535.97 652.18 533.51C652.11 531.06 652.07 528.06 652.06 525.32C652.04 522.57 651.95 519.37 652.08 517.03C652.21 514.68 652.53 512.96 652.84 511.24C653.14 509.53 653.53 508.16 653.9 506.74C654.27 505.32 654.61 503.85 655.05 502.7C655.5 501.55 656.03 500.73 656.58 499.85C657.14 498.98 657.65 498.17 658.38 497.43C659.11 496.69 660.08 495.6 660.96 495.4C661.85 495.21 662.91 495.61 663.66 496.24C664.41 496.87 664.92 498.15 665.47 499.17C666.01 500.2 666.52 501.16 666.95 502.4C667.39 503.65 667.74 505.13 668.06 506.66C668.38 508.19 668.61 509.85 668.89 511.6C669.16 513.34 669.54 514.86 669.72 517.15C669.9 519.44 669.98 522.61 669.97 525.31Z" fill="#5cc0e2"/><path d="M667.44 525.81C667.47 527.92 667.51 530.36 667.41 532.24C667.31 534.12 667.1 535.71 666.83 537.11C666.57 538.52 666.16 539.54 665.83 540.7C665.5 541.85 665.21 543.05 664.84 544.04C664.47 545.02 664.07 546.03 663.6 546.61C663.13 547.18 662.6 547.28 662.02 547.49C661.43 547.71 660.75 547.88 660.11 547.92C659.47 547.95 658.76 547.96 658.19 547.69C657.61 547.41 657.17 546.79 656.68 546.27C656.18 545.76 655.68 545.36 655.23 544.61C654.78 543.86 654.28 543.03 653.97 541.78C653.67 540.53 653.52 538.76 653.38 537.12C653.25 535.48 653.21 533.81 653.17 531.93C653.12 530.04 653.06 527.82 653.1 525.81C653.13 523.8 653.28 521.67 653.38 519.88C653.49 518.09 653.59 516.64 653.73 515.08C653.87 513.52 653.98 511.82 654.24 510.54C654.51 509.25 654.92 508.25 655.32 507.35C655.72 506.45 656.17 505.84 656.64 505.13C657.11 504.42 657.53 503.52 658.11 503.08C658.69 502.65 659.45 502.48 660.11 502.52C660.77 502.55 661.5 502.9 662.09 503.28C662.68 503.65 663.19 504.02 663.64 504.79C664.08 505.57 664.43 506.78 664.75 507.92C665.08 509.06 665.27 510.43 665.56 511.62C665.85 512.82 666.21 513.76 666.49 515.09C666.76 516.41 667.04 517.78 667.19 519.57C667.35 521.36 667.4 523.7 667.44 525.81Z" fill="#4fbf45"/><path d="M664.8 526.27C664.79 527.73 664.66 529.3 664.56 530.63C664.47 531.97 664.36 533.12 664.22 534.27C664.07 535.43 663.92 536.57 663.69 537.55C663.47 538.53 663.18 539.3 662.89 540.14C662.6 540.97 662.33 541.89 661.98 542.57C661.63 543.25 661.25 543.99 660.81 544.22C660.36 544.45 659.79 544.17 659.31 543.94C658.83 543.72 658.35 543.28 657.93 542.89C657.51 542.51 657.14 542.17 656.8 541.62C656.46 541.07 656.17 540.32 655.87 539.61C655.57 538.9 655.27 538.22 654.99 537.39C654.71 536.55 654.38 535.72 654.19 534.62C654 533.52 653.92 532.19 653.86 530.8C653.79 529.41 653.8 527.79 653.79 526.27C653.79 524.75 653.74 523.09 653.8 521.7C653.87 520.31 654.02 519.07 654.2 517.93C654.38 516.8 654.63 515.81 654.88 514.87C655.13 513.94 655.39 512.97 655.71 512.31C656.03 511.65 656.43 511.28 656.8 510.94C657.18 510.6 657.56 510.54 657.98 510.25C658.4 509.96 658.85 509.41 659.31 509.18C659.78 508.96 660.31 508.79 660.76 508.92C661.2 509.06 661.59 509.51 661.98 509.99C662.36 510.47 662.75 511 663.05 511.79C663.36 512.57 663.61 513.63 663.8 514.71C664 515.79 664.08 517.09 664.21 518.28C664.35 519.48 664.52 520.54 664.61 521.87C664.71 523.2 664.81 524.81 664.8 526.27Z" fill="#e8e03a"/><path d="M663.46 526.57C663.49 527.74 663.4 529.07 663.3 530.15C663.2 531.23 663.02 532.14 662.86 533.04C662.69 533.94 662.54 534.83 662.33 535.56C662.11 536.29 661.85 536.87 661.59 537.42C661.33 537.98 661.06 538.43 660.78 538.89C660.5 539.35 660.22 539.93 659.89 540.18C659.56 540.43 659.16 540.43 658.8 540.38C658.44 540.32 658.07 540.03 657.73 539.86C657.39 539.69 657.06 539.66 656.74 539.35C656.43 539.05 656.11 538.61 655.85 538.03C655.59 537.44 655.37 536.64 655.17 535.84C654.96 535.03 654.75 534.18 654.64 533.21C654.52 532.24 654.48 531.12 654.47 530.01C654.47 528.91 654.57 527.69 654.6 526.57C654.62 525.44 654.61 524.32 654.64 523.26C654.68 522.2 654.7 521.15 654.81 520.21C654.92 519.26 655.1 518.41 655.27 517.58C655.45 516.75 655.64 515.89 655.88 515.22C656.12 514.55 656.4 513.93 656.7 513.55C657.01 513.16 657.35 513.09 657.7 512.91C658.05 512.73 658.43 512.51 658.8 512.46C659.17 512.4 659.58 512.33 659.92 512.59C660.26 512.86 660.54 513.48 660.82 514.02C661.09 514.55 661.33 515.18 661.56 515.82C661.8 516.46 662.03 517.09 662.22 517.85C662.4 518.61 662.53 519.49 662.68 520.37C662.84 521.25 663 522.08 663.13 523.12C663.26 524.15 663.43 525.4 663.46 526.57Z" fill="#f29a2c"/><path d="M662.08 526.8C662.1 527.72 662.12 528.75 662.04 529.6C661.97 530.45 661.8 531.19 661.65 531.89C661.51 532.59 661.34 533.21 661.17 533.8C660.99 534.39 660.82 534.96 660.62 535.43C660.41 535.89 660.18 536.2 659.96 536.59C659.73 536.98 659.52 537.44 659.26 537.77C659 538.11 658.69 538.53 658.4 538.6C658.11 538.67 657.79 538.43 657.51 538.19C657.24 537.95 656.99 537.55 656.75 537.16C656.52 536.76 656.27 536.38 656.08 535.84C655.88 535.3 655.73 534.6 655.58 533.93C655.44 533.26 655.31 532.55 655.2 531.81C655.08 531.07 654.94 530.33 654.89 529.5C654.84 528.66 654.86 527.68 654.88 526.8C654.9 525.92 654.97 525.05 655.02 524.2C655.06 523.35 655.06 522.49 655.13 521.69C655.21 520.89 655.32 520.08 655.47 519.39C655.62 518.7 655.82 518.09 656.02 517.55C656.23 517.01 656.45 516.44 656.71 516.13C656.96 515.82 657.25 515.73 657.54 515.71C657.82 515.69 658.12 515.93 658.4 516C658.68 516.07 658.96 516.02 659.23 516.13C659.5 516.25 659.77 516.39 660.01 516.69C660.25 517 660.46 517.49 660.67 517.96C660.88 518.43 661.1 518.91 661.28 519.52C661.45 520.12 661.61 520.85 661.72 521.61C661.82 522.37 661.86 523.23 661.92 524.09C661.98 524.96 662.06 525.88 662.08 526.8Z" fill="#e4341e"/></g><path d="M667.1 473.8h2.2v2.2h-2.2zM646.3 523.3h2.2v2.2h-2.2zM676.9 493.5h2.2v2.2h-2.2zM653.2 486.3h2.2v2.2h-2.2zM651.1 484.3h2.2v2.2h-2.2zM666.3 476.9h2.2v2.2h-2.2zM659.9 474.3h2.2v2.2h-2.2zM672.0 569.2h2.2v2.2h-2.2zM655.2 475.7h2.2v2.2h-2.2zM674.2 562.6h2.2v2.2h-2.2zM678.8 501.5h2.2v2.2h-2.2zM662.5 468.8h2.2v2.2h-2.2zM668.2 473.8h2.2v2.2h-2.2zM647.5 543.6h2.2v2.2h-2.2zM666.6 469.7h2.2v2.2h-2.2zM657.8 574.7h2.2v2.2h-2.2zM646.1 511.6h2.2v2.2h-2.2zM675.9 558.9h2.2v2.2h-2.2zM666.5 475.5h2.2v2.2h-2.2zM671.0 481.6h2.2v2.2h-2.2zM668.1 569.9h2.2v2.2h-2.2zM664.3 572.7h2.2v2.2h-2.2zM676.8 493.9h2.2v2.2h-2.2zM659.2 474.4h2.2v2.2h-2.2zM666.5 470.3h2.2v2.2h-2.2zM656.0 472.5h2.2v2.2h-2.2zM670.2 478.3h2.2v2.2h-2.2zM677.0 549.4h2.2v2.2h-2.2zM671.0 480.4h2.2v2.2h-2.2zM649.0 492.3h2.2v2.2h-2.2zM666.8 478.2h2.2v2.2h-2.2zM648.6 525.6h2.2v2.2h-2.2zM675.9 556.6h2.2v2.2h-2.2zM648.9 547.6h2.2v2.2h-2.2zM648.1 535.3h2.2v2.2h-2.2zM666.5 570.3h2.2v2.2h-2.2zM672.1 479.6h2.2v2.2h-2.2zM659.2 567.4h2.2v2.2h-2.2zM660.8 574.4h2.2v2.2h-2.2zM647.7 540.9h2.2v2.2h-2.2zM668.2 478.4h2.2v2.2h-2.2zM657.1 480.2h2.2v2.2h-2.2zM669.6 479.7h2.2v2.2h-2.2zM660.7 576.7h2.2v2.2h-2.2zM653.2 558.9h2.2v2.2h-2.2zM675.5 489.5h2.2v2.2h-2.2zM675.2 491.8h2.2v2.2h-2.2zM645.8 522.5h2.2v2.2h-2.2zM645.7 520.1h2.2v2.2h-2.2zM669.3 572.2h2.2v2.2h-2.2zM671.4 565.7h2.2v2.2h-2.2zM677.9 522.5h2.2v2.2h-2.2zM677.8 505.4h2.2v2.2h-2.2zM668.5 477.5h2.2v2.2h-2.2zM654.2 559.9h2.2v2.2h-2.2zM647.0 504.9h2.2v2.2h-2.2zM647.5 518.1h2.2v2.2h-2.2zM678.4 498.9h2.2v2.2h-2.2zM655.7 482.1h2.2v2.2h-2.2zM651.8 487.3h2.2v2.2h-2.2zM677.9 509.5h2.2v2.2h-2.2zM654.4 478.5h2.2v2.2h-2.2zM651.7 558.1h2.2v2.2h-2.2zM655.4 473.7h2.2v2.2h-2.2zM647.5 523.0h2.2v2.2h-2.2zM677.4 515.5h2.2v2.2h-2.2zM671.3 477.4h2.2v2.2h-2.2zM648.3 504.7h2.2v2.2h-2.2zM663.1 468.2h2.2v2.2h-2.2zM660.8 470.0h2.2v2.2h-2.2zM706.7 446.5h2.2v2.2h-2.2zM713.4 459.9h2.2v2.2h-2.2zM702.8 442.1h2.2v2.2h-2.2zM688.8 439.4h2.2v2.2h-2.2zM707.5 447.2h2.2v2.2h-2.2zM698.7 433.4h2.2v2.2h-2.2zM696.0 458.2h2.2v2.2h-2.2zM696.0 454.6h2.2v2.2h-2.2zM677.9 455.5h2.2v2.2h-2.2zM689.2 433.3h2.2v2.2h-2.2zM695.0 437.9h2.2v2.2h-2.2zM712.7 442.0h2.2v2.2h-2.2zM696.3 438.9h2.2v2.2h-2.2zM705.1 453.8h2.2v2.2h-2.2zM706.2 432.3h2.2v2.2h-2.2zM696.1 448.5h2.2v2.2h-2.2zM680.6 443.3h2.2v2.2h-2.2zM706.6 456.1h2.2v2.2h-2.2zM702.6 451.0h2.2v2.2h-2.2zM706.0 447.1h2.2v2.2h-2.2zM681.5 458.9h2.2v2.2h-2.2zM704.5 443.7h2.2v2.2h-2.2zM691.0 462.8h2.2v2.2h-2.2zM701.5 451.6h2.2v2.2h-2.2zM694.9 446.3h2.2v2.2h-2.2zM698.3 452.9h2.2v2.2h-2.2zM681.5 458.5h2.2v2.2h-2.2zM698.3 450.3h2.2v2.2h-2.2zM707.2 440.2h2.2v2.2h-2.2zM705.6 435.2h2.2v2.2h-2.2zM700.3 438.1h2.2v2.2h-2.2zM707.6 455.9h2.2v2.2h-2.2zM687.6 446.8h2.2v2.2h-2.2zM691.7 433.2h2.2v2.2h-2.2zM697.5 452.4h2.2v2.2h-2.2zM708.5 440.0h2.2v2.2h-2.2zM695.9 455.9h2.2v2.2h-2.2zM698.0 458.6h2.2v2.2h-2.2zM715.2 448.7h2.2v2.2h-2.2zM691.2 441.9h2.2v2.2h-2.2zM705.5 442.6h2.2v2.2h-2.2zM699.0 447.9h2.2v2.2h-2.2zM684.5 440.9h2.2v2.2h-2.2zM694.8 437.5h2.2v2.2h-2.2zM700.5 441.3h2.2v2.2h-2.2zM694.4 455.7h2.2v2.2h-2.2zM711.4 442.6h2.2v2.2h-2.2zM693.4 432.0h2.2v2.2h-2.2zM682.1 456.6h2.2v2.2h-2.2zM698.5 437.6h2.2v2.2h-2.2zM686.2 453.9h2.2v2.2h-2.2zM695.5 449.1h2.2v2.2h-2.2zM706.6 437.8h2.2v2.2h-2.2zM685.6 443.3h2.2v2.2h-2.2zM702.8 442.4h2.2v2.2h-2.2zM697.1 447.4h2.2v2.2h-2.2zM689.8 449.8h2.2v2.2h-2.2zM706.9 435.4h2.2v2.2h-2.2zM690.8 441.1h2.2v2.2h-2.2zM692.5 442.0h2.2v2.2h-2.2zM707.8 433.2h2.2v2.2h-2.2zM701.6 441.0h2.2v2.2h-2.2zM691.8 433.1h2.2v2.2h-2.2zM679.7 444.8h2.2v2.2h-2.2zM710.8 437.1h2.2v2.2h-2.2zM704.5 434.5h2.2v2.2h-2.2zM702.4 442.0h2.2v2.2h-2.2zM694.9 432.9h2.2v2.2h-2.2zM693.4 440.7h2.2v2.2h-2.2zM710.1 449.4h2.2v2.2h-2.2zM702.1 439.2h2.2v2.2h-2.2zM700.4 450.4h2.2v2.2h-2.2zM710.1 451.6h2.2v2.2h-2.2zM714.9 442.6h2.2v2.2h-2.2zM690.0 454.5h2.2v2.2h-2.2zM714.4 451.6h2.2v2.2h-2.2zM698.6 445.5h2.2v2.2h-2.2zM695.5 441.7h2.2v2.2h-2.2zM698.4 447.7h2.2v2.2h-2.2zM688.1 448.3h2.2v2.2h-2.2zM699.8 442.8h2.2v2.2h-2.2zM700.9 441.5h2.2v2.2h-2.2zM700.9 456.0h2.2v2.2h-2.2zM694.6 451.0h2.2v2.2h-2.2zM693.2 442.6h2.2v2.2h-2.2zM700.6 439.6h2.2v2.2h-2.2zM707.6 432.6h2.2v2.2h-2.2zM696.7 444.4h2.2v2.2h-2.2zM699.3 443.0h2.2v2.2h-2.2zM689.5 444.7h2.2v2.2h-2.2zM710.6 449.3h2.2v2.2h-2.2zM697.0 434.4h2.2v2.2h-2.2zM690.2 450.5h2.2v2.2h-2.2zM693.4 441.9h2.2v2.2h-2.2zM718.9 426.9h2.2v2.2h-2.2zM706.6 426.9h2.2v2.2h-2.2zM686.3 465.5h2.2v2.2h-2.2zM708.1 448.9h2.2v2.2h-2.2zM705.5 451.5h2.2v2.2h-2.2zM693.1 433.4h2.2v2.2h-2.2zM691.0 447.0h2.2v2.2h-2.2zM702.3 452.5h2.2v2.2h-2.2zM697.7 450.0h2.2v2.2h-2.2zM697.9 435.3h2.2v2.2h-2.2zM693.4 446.9h2.2v2.2h-2.2zM697.2 439.8h2.2v2.2h-2.2zM697.8 455.1h2.2v2.2h-2.2zM691.6 426.9h2.2v2.2h-2.2zM698.6 426.9h2.2v2.2h-2.2zM711.5 438.7h2.2v2.2h-2.2zM698.3 442.1h2.2v2.2h-2.2zM699.3 446.1h2.2v2.2h-2.2zM708.3 435.2h2.2v2.2h-2.2zM694.1 440.3h2.2v2.2h-2.2zM695.6 448.7h2.2v2.2h-2.2zM680.2 426.9h2.2v2.2h-2.2zM698.0 447.2h2.2v2.2h-2.2zM702.7 451.6h2.2v2.2h-2.2zM712.0 436.3h2.2v2.2h-2.2zM694.9 445.9h2.2v2.2h-2.2zM709.8 524.1h2.2v2.2h-2.2zM706.4 510.9h2.2v2.2h-2.2zM732.5 519.7h2.2v2.2h-2.2zM708.0 511.1h2.2v2.2h-2.2zM706.9 516.7h2.2v2.2h-2.2zM716.9 528.2h2.2v2.2h-2.2zM695.0 520.6h2.2v2.2h-2.2zM703.9 522.8h2.2v2.2h-2.2zM721.1 513.2h2.2v2.2h-2.2zM738.3 512.4h2.2v2.2h-2.2zM684.4 526.6h2.2v2.2h-2.2zM686.2 531.8h2.2v2.2h-2.2zM707.7 516.8h2.2v2.2h-2.2zM712.9 521.4h2.2v2.2h-2.2zM693.0 516.4h2.2v2.2h-2.2zM728.3 521.9h2.2v2.2h-2.2zM707.2 511.1h2.2v2.2h-2.2zM730.2 526.0h2.2v2.2h-2.2zM699.0 520.2h2.2v2.2h-2.2zM695.8 532.2h2.2v2.2h-2.2zM715.1 514.1h2.2v2.2h-2.2zM698.3 516.2h2.2v2.2h-2.2zM705.1 540.4h2.2v2.2h-2.2zM699.4 523.7h2.2v2.2h-2.2zM698.2 518.4h2.2v2.2h-2.2zM708.3 530.3h2.2v2.2h-2.2zM688.0 514.3h2.2v2.2h-2.2zM700.2 511.6h2.2v2.2h-2.2zM722.9 526.9h2.2v2.2h-2.2zM717.7 524.3h2.2v2.2h-2.2zM688.2 528.8h2.2v2.2h-2.2zM701.7 514.4h2.2v2.2h-2.2zM692.1 509.7h2.2v2.2h-2.2zM696.8 521.8h2.2v2.2h-2.2zM718.7 514.3h2.2v2.2h-2.2zM712.8 523.5h2.2v2.2h-2.2zM713.2 520.4h2.2v2.2h-2.2zM686.0 530.8h2.2v2.2h-2.2zM712.1 509.5h2.2v2.2h-2.2zM703.7 518.4h2.2v2.2h-2.2zM733.4 534.6h2.2v2.2h-2.2zM705.1 518.5h2.2v2.2h-2.2zM713.1 522.9h2.2v2.2h-2.2zM712.2 518.2h2.2v2.2h-2.2zM689.8 502.6h2.2v2.2h-2.2zM685.1 505.5h2.2v2.2h-2.2zM703.3 526.1h2.2v2.2h-2.2zM725.6 522.6h2.2v2.2h-2.2zM731.7 535.6h2.2v2.2h-2.2zM701.8 515.3h2.2v2.2h-2.2zM706.6 515.9h2.2v2.2h-2.2zM697.8 520.6h2.2v2.2h-2.2zM710.2 502.5h2.2v2.2h-2.2zM704.7 520.6h2.2v2.2h-2.2zM713.8 511.7h2.2v2.2h-2.2zM710.6 511.3h2.2v2.2h-2.2zM691.2 512.6h2.2v2.2h-2.2zM705.5 517.5h2.2v2.2h-2.2zM719.3 524.7h2.2v2.2h-2.2zM700.6 529.7h2.2v2.2h-2.2zM677.1 487.5h2.2v2.2h-2.2zM677.4 489.6h2.2v2.2h-2.2zM694.8 480.3h2.2v2.2h-2.2zM679.6 485.2h2.2v2.2h-2.2zM681.5 479.6h2.2v2.2h-2.2zM679.3 493.3h2.2v2.2h-2.2zM688.9 477.7h2.2v2.2h-2.2zM679.0 487.2h2.2v2.2h-2.2zM695.6 490.1h2.2v2.2h-2.2zM679.1 478.1h2.2v2.2h-2.2zM683.6 488.0h2.2v2.2h-2.2zM680.2 484.1h2.2v2.2h-2.2zM678.6 465.8h2.2v2.2h-2.2zM667.0 441.5h2.2v2.2h-2.2zM668.3 463.1h2.2v2.2h-2.2zM674.1 457.1h2.2v2.2h-2.2zM672.4 453.2h2.2v2.2h-2.2zM674.2 461.6h2.2v2.2h-2.2z" fill="#4a2da2"/><rect x="677.1" y="415.7" width="50.9" height="53.8" fill="none" stroke="#000" stroke-width="1.6"/><rect x="688.5" y="492" width="66.3" height="79.1" fill="none" stroke="#000" stroke-width="1.6"/><text x="842.9" y="94.9" font-size="19.8" font-weight="bold" text-anchor="middle">Healthy</text><text x="839.9" y="118.8" font-size="19.8" font-weight="bold" text-anchor="middle">Donors</text><text x="843.3" y="279.6" font-size="19.8" font-weight="bold" text-anchor="middle">Omicron</text><text x="840" y="311.8" font-size="19.8" font-weight="bold" text-anchor="middle">BTI</text><text x="843.7" y="473.2" font-size="19.8" font-weight="bold" text-anchor="middle">Delta</text><text x="843.7" y="496.5" font-size="19.8" font-weight="bold" text-anchor="middle">BTI</text><text transform="translate(64.5 415.2) rotate(-90)" font-size="20" text-anchor="middle">WT RBD SARS-CoV-2 A647</text><text x="136.5" y="622" font-size="20">WT Spike SARS-CoV-2, A488</text><polyline points="60.8,556 60.8,613.5 119,613.5" fill="none" stroke="#000" stroke-width="2.6"/><path d="M60.8 546.5L55.5 557.5L66.1 557.5Z" fill="#000"/><path d="M128.5 613.5L117.5 608.2L117.5 618.8Z" fill="#000"/><text x="1013.5" y="17.2" font-size="30">c.</text><line x1="1190.5" y1="234.5" x2="1522" y2="15.4" stroke="#000" stroke-width="2"/><rect x="1190.5" y="14.4" width="331.5" height="220.1" fill="none" stroke="#000" stroke-width="2.8"/><circle cx="1203.43" cy="111.68" r="4.7" fill="#0a0ae8"/><circle cx="1265.09" cy="217.55" r="4.7" fill="#0a0ae8"/><circle cx="1274.7" cy="173.31" r="4.7" fill="#0a0ae8"/><circle cx="1397.69" cy="100.02" r="4.7" fill="#0a0ae8"/><circle cx="1434.82" cy="57.54" r="4.7" fill="#0a0ae8"/><circle cx="1454.71" cy="142.28" r="4.7" fill="#0a0ae8"/><circle cx="1465.31" cy="202.15" r="4.7" fill="#0a0ae8"/><circle cx="1465.64" cy="225.7" r="4.7" fill="#0a0ae8"/><circle cx="1476.92" cy="93.86" r="4.7" fill="#0a0ae8"/><circle cx="1300.56" cy="234.5" r="4.7" fill="#12ee12"/><circle cx="1354.92" cy="160.77" r="4.7" fill="#12ee12"/><circle cx="1357.58" cy="159.45" r="4.7" fill="#12ee12"/><circle cx="1438.13" cy="147.12" r="4.7" fill="#12ee12"/><circle cx="1443.43" cy="99.58" r="4.7" fill="#12ee12"/><circle cx="1457.36" cy="105.74" r="4.7" fill="#12ee12"/><circle cx="1458.35" cy="87.25" r="4.7" fill="#12ee12"/><circle cx="1471.94" cy="84.61" r="4.7" fill="#12ee12"/><circle cx="1476.92" cy="86.37" r="4.7" fill="#12ee12"/><circle cx="1493.16" cy="61.5" r="4.7" fill="#12ee12"/><circle cx="1507.75" cy="40.15" r="4.7" fill="#12ee12"/><circle cx="1509.73" cy="83.29" r="4.7" fill="#12ee12"/><circle cx="1521.67" cy="24.08" r="4.7" fill="#12ee12"/><circle cx="1521.67" cy="108.38" r="4.7" fill="#12ee12"/><circle cx="1309.18" cy="54.24" r="4.7" fill="#f80c36"/><circle cx="1322.77" cy="118.29" r="4.7" fill="#f80c36"/><circle cx="1327.74" cy="129.73" r="4.7" fill="#f80c36"/><circle cx="1339.34" cy="103.1" r="4.7" fill="#f80c36"/><circle cx="1345.64" cy="79.99" r="4.7" fill="#f80c36"/><circle cx="1347.63" cy="60.62" r="4.7" fill="#f80c36"/><circle cx="1383.43" cy="30.03" r="4.7" fill="#f80c36"/><circle cx="1404.32" cy="59.3" r="4.7" fill="#f80c36"/><circle cx="1408.63" cy="59.3" r="4.7" fill="#f80c36"/><circle cx="1409.62" cy="41.91" r="4.7" fill="#f80c36"/><circle cx="1449.73" cy="66.34" r="4.7" fill="#f80c36"/><circle cx="1473.6" cy="52.04" r="4.7" fill="#f80c36"/><line x1="1182" y1="234.5" x2="1190.5" y2="234.5" stroke="#000" stroke-width="2.8"/><text x="1181.5" y="241.1" font-size="18.5" font-weight="bold" text-anchor="end">0</text><line x1="1190.5" y1="234.5" x2="1190.5" y2="243" stroke="#000" stroke-width="2.8"/><text x="1190.5" y="265.5" font-size="18.5" font-weight="bold" text-anchor="middle">0</text><line x1="1182" y1="190.48" x2="1190.5" y2="190.48" stroke="#000" stroke-width="2.8"/><text x="1181.5" y="197.08" font-size="18.5" font-weight="bold" text-anchor="end">20</text><line x1="1256.8" y1="234.5" x2="1256.8" y2="243" stroke="#000" stroke-width="2.8"/><text x="1256.8" y="265.5" font-size="18.5" font-weight="bold" text-anchor="middle">20</text><line x1="1182" y1="146.46" x2="1190.5" y2="146.46" stroke="#000" stroke-width="2.8"/><text x="1181.5" y="153.06" font-size="18.5" font-weight="bold" text-anchor="end">40</text><line x1="1323.1" y1="234.5" x2="1323.1" y2="243" stroke="#000" stroke-width="2.8"/><text x="1323.1" y="265.5" font-size="18.5" font-weight="bold" text-anchor="middle">40</text><line x1="1182" y1="102.44" x2="1190.5" y2="102.44" stroke="#000" stroke-width="2.8"/><text x="1181.5" y="109.04" font-size="18.5" font-weight="bold" text-anchor="end">60</text><line x1="1389.4" y1="234.5" x2="1389.4" y2="243" stroke="#000" stroke-width="2.8"/><text x="1389.4" y="265.5" font-size="18.5" font-weight="bold" text-anchor="middle">60</text><line x1="1182" y1="58.42" x2="1190.5" y2="58.42" stroke="#000" stroke-width="2.8"/><text x="1181.5" y="65.02" font-size="18.5" font-weight="bold" text-anchor="end">80</text><line x1="1455.7" y1="234.5" x2="1455.7" y2="243" stroke="#000" stroke-width="2.8"/><text x="1455.7" y="265.5" font-size="18.5" font-weight="bold" text-anchor="middle">80</text><line x1="1182" y1="14.4" x2="1190.5" y2="14.4" stroke="#000" stroke-width="2.8"/><text x="1181.5" y="21" font-size="18.5" font-weight="bold" text-anchor="end">100</text><line x1="1522" y1="234.5" x2="1522" y2="243" stroke="#000" stroke-width="2.8"/><text x="1522" y="265.5" font-size="18.5" font-weight="bold" text-anchor="middle">100</text><text transform="translate(1125.5 118) rotate(-90)" font-size="20" text-anchor="middle">%CD38<tspan dy="-8" font-size="17">+</tspan><tspan dy="8"> of</tspan></text><text transform="translate(1149 122.5) rotate(-90)" font-size="20" text-anchor="middle">Spike<tspan dy="-8" font-size="17">+</tspan><tspan dy="8">RBD</tspan><tspan dy="-8" font-size="17">+</tspan><tspan dy="8"> B cells</tspan></text><text x="1329.5" y="317" font-size="19.8" text-anchor="middle">% CD38 of Spike<tspan dy="-8" font-size="17">+</tspan><tspan dy="8">RBD</tspan><tspan dy="-8" font-size="17">-</tspan><tspan dy="8"> B cells</tspan></text><circle cx="1551.6" cy="33.6" r="4.7" fill="#0a0ae8"/><text x="1578" y="40.3" font-size="19.2" font-weight="bold">HD</text><circle cx="1551.6" cy="101.3" r="4.7" fill="#12ee12"/><text x="1578" y="108" font-size="19.2" font-weight="bold">Omicron BTI</text><circle cx="1551.6" cy="160.7" r="4.7" fill="#f80c36"/><text x="1578" y="167.4" font-size="19.2" font-weight="bold">Delta BTI</text><line x1="1189.6" y1="571.9" x2="1519.5" y2="355.5" stroke="#000" stroke-width="2"/><rect x="1189.6" y="350.5" width="331.9" height="221.4" fill="none" stroke="#000" stroke-width="2.8"/><circle cx="1384.66" cy="367.19" r="4.7" fill="#12ee12"/><circle cx="1388.74" cy="380.13" r="4.7" fill="#12ee12"/><circle cx="1460.74" cy="401.25" r="4.7" fill="#12ee12"/><circle cx="1291.72" cy="405.68" r="4.7" fill="#12ee12"/><circle cx="1285.6" cy="445.87" r="4.7" fill="#12ee12"/><circle cx="1317.25" cy="458.82" r="4.7" fill="#12ee12"/><circle cx="1330.02" cy="506.16" r="4.7" fill="#12ee12"/><circle cx="1259.04" cy="523.19" r="4.7" fill="#12ee12"/><circle cx="1259.55" cy="524.9" r="4.7" fill="#12ee12"/><circle cx="1223.81" cy="531.71" r="4.7" fill="#12ee12"/><circle cx="1190.11" cy="523.19" r="4.7" fill="#12ee12"/><circle cx="1247.81" cy="571.9" r="4.7" fill="#12ee12"/><circle cx="1317.25" cy="571.9" r="4.7" fill="#12ee12"/><circle cx="1240.15" cy="455.07" r="4.7" fill="#f80c36"/><circle cx="1286.62" cy="502.07" r="4.7" fill="#f80c36"/><circle cx="1278.45" cy="506.84" r="4.7" fill="#f80c36"/><circle cx="1203.9" cy="518.08" r="4.7" fill="#f80c36"/><circle cx="1210.02" cy="526.26" r="4.7" fill="#f80c36"/><circle cx="1364.74" cy="510.59" r="4.7" fill="#f80c36"/><circle cx="1330.02" cy="549.42" r="4.7" fill="#f80c36"/><circle cx="1197.26" cy="562.7" r="4.7" fill="#f80c36"/><circle cx="1202.88" cy="561.34" r="4.7" fill="#f80c36"/><circle cx="1204.41" cy="568.83" r="4.7" fill="#f80c36"/><circle cx="1279.98" cy="571.9" r="4.7" fill="#f80c36"/><circle cx="1359.12" cy="509.91" r="4.7" fill="#0a0ae8"/><circle cx="1232.49" cy="565.77" r="4.7" fill="#0a0ae8"/><circle cx="1189.6" cy="571.9" r="4.7" fill="#0a0ae8"/><circle cx="1201.85" cy="571.9" r="4.7" fill="#0a0ae8"/><circle cx="1224.32" cy="571.9" r="4.7" fill="#0a0ae8"/><circle cx="1235.04" cy="571.9" r="4.7" fill="#0a0ae8"/><circle cx="1241.17" cy="571.9" r="4.7" fill="#0a0ae8"/><circle cx="1254.96" cy="571.9" r="4.7" fill="#0a0ae8"/><line x1="1181.1" y1="571.9" x2="1189.6" y2="571.9" stroke="#000" stroke-width="2.8"/><text x="1180.6" y="578.5" font-size="18.5" font-weight="bold" text-anchor="end">0</text><line x1="1189.6" y1="571.9" x2="1189.6" y2="577.9" stroke="#000" stroke-width="2.8"/><line x1="1181.1" y1="503.78" x2="1189.6" y2="503.78" stroke="#000" stroke-width="2.8"/><text x="1180.6" y="510.38" font-size="18.5" font-weight="bold" text-anchor="end">20</text><line x1="1291.72" y1="571.9" x2="1291.72" y2="577.9" stroke="#000" stroke-width="2.8"/><line x1="1181.1" y1="435.65" x2="1189.6" y2="435.65" stroke="#000" stroke-width="2.8"/><text x="1180.6" y="442.25" font-size="18.5" font-weight="bold" text-anchor="end">40</text><line x1="1393.85" y1="571.9" x2="1393.85" y2="577.9" stroke="#000" stroke-width="2.8"/><line x1="1181.1" y1="367.53" x2="1189.6" y2="367.53" stroke="#000" stroke-width="2.8"/><text x="1180.6" y="374.13" font-size="18.5" font-weight="bold" text-anchor="end">60</text><line x1="1495.97" y1="571.9" x2="1495.97" y2="577.9" stroke="#000" stroke-width="2.8"/><text x="1188" y="603" font-size="18.5" text-anchor="middle">0</text><text x="1300.5" y="603" font-size="18.5" text-anchor="middle">20</text><text x="1403" y="603" font-size="18.5" text-anchor="middle">40</text><text x="1481.7" y="603" font-size="18.5">60 %</text><text transform="translate(1128 461) rotate(-90)" font-size="20" text-anchor="middle">% CD38<tspan dy="-8" font-size="17">hi</tspan><tspan dy="8">CD71</tspan><tspan dy="-8" font-size="17">+</tspan><tspan dy="8"> of</tspan></text><text transform="translate(1147.5 461) rotate(-90)" font-size="20" text-anchor="middle">Spike<tspan dy="-8" font-size="17">+</tspan><tspan dy="8">RBD</tspan><tspan dy="-8" font-size="17">+</tspan><tspan dy="8"> B cells</tspan></text><text x="1355" y="634" font-size="20" text-anchor="middle">CD38<tspan dy="-8" font-size="17">hi</tspan><tspan dy="8">CD71</tspan><tspan dy="-8" font-size="17">+</tspan><tspan dy="8"> of Spike</tspan><tspan dy="-8" font-size="17">+</tspan><tspan dy="8">RBD</tspan><tspan dy="-8" font-size="17">-</tspan><tspan dy="8"> B cells</tspan></text><text x="16.5" y="666" font-size="30" font-weight="bold">b.</text><line x1="94" y1="936.8" x2="94" y2="693" stroke="#000" stroke-width="3"/><line x1="85.5" y1="935.3" x2="95.5" y2="935.3" stroke="#000" stroke-width="3"/><text x="83" y="940.52" font-size="14.5" font-weight="bold" text-anchor="end">0.0</text><line x1="85.5" y1="854.55" x2="95.5" y2="854.55" stroke="#000" stroke-width="3"/><text x="83" y="859.77" font-size="14.5" font-weight="bold" text-anchor="end">0.5</text><line x1="85.5" y1="773.8" x2="95.5" y2="773.8" stroke="#000" stroke-width="3"/><text x="83" y="779.02" font-size="14.5" font-weight="bold" text-anchor="end">1.0</text><line x1="85.5" y1="693.05" x2="95.5" y2="693.05" stroke="#000" stroke-width="3"/><text x="83" y="698.27" font-size="14.5" font-weight="bold" text-anchor="end">1.5</text><line x1="89" y1="894.92" x2="94" y2="894.92" stroke="#000" stroke-width="3"/><line x1="89" y1="814.17" x2="94" y2="814.17" stroke="#000" stroke-width="3"/><line x1="89" y1="733.42" x2="94" y2="733.42" stroke="#000" stroke-width="3"/><line x1="92.5" y1="935.3" x2="495" y2="935.3" stroke="#000" stroke-width="3"/><line x1="135.6" y1="935.3" x2="135.6" y2="943.8" stroke="#000" stroke-width="3"/><line x1="199.3" y1="935.3" x2="199.3" y2="943.8" stroke="#000" stroke-width="3"/><line x1="262.4" y1="935.3" x2="262.4" y2="943.8" stroke="#000" stroke-width="3"/><line x1="326.4" y1="935.3" x2="326.4" y2="943.8" stroke="#000" stroke-width="3"/><line x1="389.5" y1="935.3" x2="389.5" y2="943.8" stroke="#000" stroke-width="3"/><line x1="452.5" y1="935.3" x2="452.5" y2="943.8" stroke="#000" stroke-width="3"/><line x1="294.9" y1="693" x2="294.9" y2="935" stroke="#000" stroke-width="1.5" stroke-dasharray="2 2.5"/><path d="M138.6 744.73C138.77 746.88 139.35 752.8 139.6 757.65C139.85 762.5 140.1 765.72 140.1 773.8C140.1 781.88 139.35 795.33 139.6 806.1C139.85 816.87 140.77 828.98 141.6 838.4C142.43 847.82 143.27 854.55 144.6 862.62C145.93 870.7 148.02 880.12 149.6 886.85C151.18 893.58 153.1 898.42 154.1 903C155.1 907.58 155.68 911.07 155.6 914.3C155.52 917.53 154.43 919.96 153.6 922.38C152.77 924.8 151.1 927.76 150.6 928.84L120.6 928.84C120.1 927.76 118.43 924.8 117.6 922.38C116.77 919.96 115.68 917.53 115.6 914.3C115.52 911.07 116.1 907.58 117.1 903C118.1 898.42 120.02 893.58 121.6 886.85C123.18 880.12 125.27 870.7 126.6 862.62C127.93 854.55 128.77 847.82 129.6 838.4C130.43 828.98 131.35 816.87 131.6 806.1C131.85 795.33 131.1 781.88 131.1 773.8C131.1 765.72 131.35 762.5 131.6 757.65C131.85 752.8 132.43 746.88 132.6 744.73Z" fill="#4f2c9f" stroke="#000" stroke-width="1.8" stroke-linejoin="round"/><line x1="116.03" y1="911.07" x2="155.17" y2="911.07" stroke="#000" stroke-width="1.8" stroke-dasharray="7 3.5"/><line x1="117.2" y1="920.76" x2="154" y2="920.76" stroke="#000" stroke-width="1.8" stroke-dasharray="2 2.2"/><line x1="127.4" y1="856.16" x2="143.8" y2="856.16" stroke="#000" stroke-width="1.8" stroke-dasharray="2 2.2"/><circle cx="135.6" cy="744.73" r="3.2" fill="#000"/><circle cx="135.6" cy="833.55" r="3.2" fill="#000"/><circle cx="135.6" cy="880.39" r="3.2" fill="#000"/><circle cx="135.6" cy="886.85" r="3.2" fill="#000"/><circle cx="125.28" cy="914.3" r="3.2" fill="#000"/><circle cx="132.16" cy="915.92" r="3.2" fill="#000"/><circle cx="139.04" cy="920.76" r="3.2" fill="#000"/><circle cx="145.92" cy="920.76" r="3.2" fill="#000"/><circle cx="135.6" cy="928.84" r="3.2" fill="#000"/><path d="M215.3 878.77C215.63 879.58 217.3 881.47 217.3 883.62C217.3 885.77 216.63 888.73 215.3 891.69C213.97 894.66 210.3 898.42 209.3 901.38C208.3 904.35 208.47 906.77 209.3 909.46C210.13 912.15 212.72 915.11 214.3 917.53C215.88 919.96 218.3 921.84 218.8 924C219.3 926.15 217.55 929.38 217.3 930.45L181.3 930.45C181.05 929.38 179.3 926.15 179.8 924C180.3 921.84 182.72 919.96 184.3 917.53C185.88 915.11 188.47 912.15 189.3 909.46C190.13 906.77 190.3 904.35 189.3 901.38C188.3 898.42 184.63 894.66 183.3 891.69C181.97 888.73 181.3 885.77 181.3 883.62C181.3 881.47 182.97 879.58 183.3 878.77Z" fill="#6dbf1f" stroke="#000" stroke-width="1.8" stroke-linejoin="round"/><line x1="189.3" y1="903" x2="209.3" y2="903" stroke="#000" stroke-width="1.8" stroke-dasharray="7 3.5"/><line x1="179.8" y1="924" x2="218.8" y2="924" stroke="#000" stroke-width="1.8" stroke-dasharray="2 2.2"/><line x1="182.1" y1="886.85" x2="216.5" y2="886.85" stroke="#000" stroke-width="1.8" stroke-dasharray="2 2.2"/><circle cx="192.42" cy="878.77" r="3.2" fill="#000"/><circle cx="199.3" cy="883.62" r="3.2" fill="#000"/><circle cx="206.18" cy="883.62" r="3.2" fill="#000"/><circle cx="195.86" cy="890.08" r="3.2" fill="#000"/><circle cx="202.74" cy="890.08" r="3.2" fill="#000"/><circle cx="195.86" cy="903" r="3.2" fill="#000"/><circle cx="202.74" cy="903" r="3.2" fill="#000"/><circle cx="195.86" cy="914.3" r="3.2" fill="#000"/><circle cx="202.74" cy="919.15" r="3.2" fill="#000"/><circle cx="188.98" cy="924" r="3.2" fill="#000"/><circle cx="195.86" cy="925.61" r="3.2" fill="#000"/><circle cx="202.74" cy="927.22" r="3.2" fill="#000"/><circle cx="209.62" cy="930.45" r="3.2" fill="#000"/><path d="M272.4 859.39C273.07 860.2 275.07 862.09 276.4 864.24C277.73 866.39 279.23 869.35 280.4 872.31C281.57 875.28 282.98 879.04 283.4 882C283.82 884.97 283.4 887.12 282.9 890.08C282.4 893.04 281.65 896.81 280.4 899.77C279.15 902.73 277.07 905.15 275.4 907.84C273.73 910.54 271.23 914.57 270.4 915.92L254.4 915.92C253.57 914.57 251.07 910.54 249.4 907.84C247.73 905.15 245.65 902.73 244.4 899.77C243.15 896.81 242.4 893.04 241.9 890.08C241.4 887.12 240.98 884.97 241.4 882C241.82 879.04 243.23 875.28 244.4 872.31C245.57 869.35 247.07 866.39 248.4 864.24C249.73 862.09 251.73 860.2 252.4 859.39Z" fill="#e23b22" stroke="#000" stroke-width="1.8" stroke-linejoin="round"/><line x1="241.8" y1="888.46" x2="283" y2="888.46" stroke="#000" stroke-width="1.8" stroke-dasharray="7 3.5"/><line x1="246.4" y1="903" x2="278.4" y2="903" stroke="#000" stroke-width="1.8" stroke-dasharray="2 2.2"/><line x1="242.4" y1="878.77" x2="282.4" y2="878.77" stroke="#000" stroke-width="1.8" stroke-dasharray="2 2.2"/><circle cx="258.96" cy="859.39" r="3.2" fill="#000"/><circle cx="265.84" cy="864.24" r="3.2" fill="#000"/><circle cx="255.52" cy="877.16" r="3.2" fill="#000"/><circle cx="262.4" cy="878.77" r="3.2" fill="#000"/><circle cx="269.28" cy="882" r="3.2" fill="#000"/><circle cx="258.96" cy="886.85" r="3.2" fill="#000"/><circle cx="265.84" cy="890.08" r="3.2" fill="#000"/><circle cx="262.4" cy="894.92" r="3.2" fill="#000"/><circle cx="255.52" cy="901.38" r="3.2" fill="#000"/><circle cx="262.4" cy="903" r="3.2" fill="#000"/><circle cx="269.28" cy="904.62" r="3.2" fill="#000"/><circle cx="262.4" cy="915.92" r="3.2" fill="#000"/><path d="M342.4 861.01C342.57 862.62 343.57 866.39 343.4 870.7C343.23 875.01 342.48 881.47 341.4 886.85C340.32 892.23 337.65 898.96 336.9 903C336.15 907.04 336.15 908.11 336.9 911.07C337.65 914.04 339.9 918.07 341.4 920.76C342.9 923.46 345.07 925.07 345.9 927.22C346.73 929.38 346.32 932.61 346.4 933.68L306.4 933.68C306.48 932.61 306.07 929.38 306.9 927.22C307.73 925.07 309.9 923.46 311.4 920.76C312.9 918.07 315.15 914.04 315.9 911.07C316.65 908.11 316.65 907.04 315.9 903C315.15 898.96 312.48 892.23 311.4 886.85C310.32 881.47 309.57 875.01 309.4 870.7C309.23 866.39 310.23 862.62 310.4 861.01Z" fill="#4f2c9f" stroke="#000" stroke-width="1.8" stroke-linejoin="round"/><line x1="315" y1="899.77" x2="337.8" y2="899.77" stroke="#000" stroke-width="1.8" stroke-dasharray="7 3.5"/><line x1="306.65" y1="930.45" x2="346.15" y2="930.45" stroke="#000" stroke-width="1.8" stroke-dasharray="2 2.2"/><line x1="309.73" y1="867.47" x2="343.07" y2="867.47" stroke="#000" stroke-width="1.8" stroke-dasharray="2 2.2"/><circle cx="322.96" cy="861.01" r="3.2" fill="#000"/><circle cx="329.84" cy="864.24" r="3.2" fill="#000"/><circle cx="326.4" cy="869.08" r="3.2" fill="#000"/><circle cx="326.4" cy="891.69" r="3.2" fill="#000"/><circle cx="326.4" cy="899.77" r="3.2" fill="#000"/><circle cx="312.64" cy="927.22" r="3.2" fill="#000"/><circle cx="319.52" cy="927.22" r="3.2" fill="#000"/><circle cx="326.4" cy="930.45" r="3.2" fill="#000"/><circle cx="333.28" cy="932.07" r="3.2" fill="#000"/><circle cx="340.16" cy="933.68" r="3.2" fill="#000"/><path d="M393.5 841.63C393.58 842.98 393.83 846.21 394 849.7C394.17 853.2 393.75 857.78 394.5 862.62C395.25 867.47 397 873.93 398.5 878.77C400 883.62 402 887.66 403.5 891.69C405 895.73 406.5 899.23 407.5 903C408.5 906.77 409.25 910.81 409.5 914.3C409.75 917.8 409.67 921.3 409 924C408.33 926.69 406.08 929.38 405.5 930.45L373.5 930.45C372.92 929.38 370.67 926.69 370 924C369.33 921.3 369.25 917.8 369.5 914.3C369.75 910.81 370.5 906.77 371.5 903C372.5 899.23 374 895.73 375.5 891.69C377 887.66 379 883.62 380.5 878.77C382 873.93 383.75 867.47 384.5 862.62C385.25 857.78 384.83 853.2 385 849.7C385.17 846.21 385.42 842.98 385.5 841.63Z" fill="#6dbf1f" stroke="#000" stroke-width="1.8" stroke-linejoin="round"/><line x1="370.36" y1="909.46" x2="408.64" y2="909.46" stroke="#000" stroke-width="1.8" stroke-dasharray="7 3.5"/><line x1="370" y1="924" x2="409" y2="924" stroke="#000" stroke-width="1.8" stroke-dasharray="2 2.2"/><line x1="373.21" y1="898.15" x2="405.79" y2="898.15" stroke="#000" stroke-width="1.8" stroke-dasharray="2 2.2"/><circle cx="389.5" cy="841.63" r="3.2" fill="#000"/><circle cx="389.5" cy="888.46" r="3.2" fill="#000"/><circle cx="386.06" cy="898.15" r="3.2" fill="#000"/><circle cx="392.94" cy="899.77" r="3.2" fill="#000"/><circle cx="382.62" cy="906.23" r="3.2" fill="#000"/><circle cx="389.5" cy="909.46" r="3.2" fill="#000"/><circle cx="396.38" cy="909.46" r="3.2" fill="#000"/><circle cx="382.62" cy="919.15" r="3.2" fill="#000"/><circle cx="389.5" cy="920.76" r="3.2" fill="#000"/><circle cx="396.38" cy="925.61" r="3.2" fill="#000"/><circle cx="386.06" cy="930.45" r="3.2" fill="#000"/><circle cx="392.94" cy="930.45" r="3.2" fill="#000"/><path d="M461.5 764.11C462.17 765.72 464.17 770.03 465.5 773.8C466.83 777.57 468.5 782.14 469.5 786.72C470.5 791.3 471.83 796.41 471.5 801.25C471.17 806.1 469 810.14 467.5 815.79C466 821.44 463.25 829.25 462.5 835.17C461.75 841.09 461.67 846.21 463 851.32C464.33 856.43 468.92 861.55 470.5 865.86C472.08 870.16 473 872.85 472.5 877.16C472 881.47 469.33 886.58 467.5 891.69C465.67 896.81 463 902.46 461.5 907.84C460 913.23 459 921.3 458.5 924L446.5 924C446 921.3 445 913.23 443.5 907.84C442 902.46 439.33 896.81 437.5 891.69C435.67 886.58 433 881.47 432.5 877.16C432 872.85 432.92 870.16 434.5 865.86C436.08 861.55 440.67 856.43 442 851.32C443.33 846.21 443.25 841.09 442.5 835.17C441.75 829.25 439 821.44 437.5 815.79C436 810.14 433.83 806.1 433.5 801.25C433.17 796.41 434.5 791.3 435.5 786.72C436.5 782.14 438.17 777.57 439.5 773.8C440.83 770.03 442.83 765.72 443.5 764.11Z" fill="#e23b22" stroke="#000" stroke-width="1.8" stroke-linejoin="round"/><line x1="434.21" y1="867.47" x2="470.79" y2="867.47" stroke="#000" stroke-width="1.8" stroke-dasharray="7 3.5"/><line x1="434.17" y1="882" x2="470.83" y2="882" stroke="#000" stroke-width="1.8" stroke-dasharray="2 2.2"/><line x1="433.5" y1="801.25" x2="471.5" y2="801.25" stroke="#000" stroke-width="1.8" stroke-dasharray="2 2.2"/><circle cx="452.5" cy="764.11" r="3.2" fill="#000"/><circle cx="452.5" cy="794.79" r="3.2" fill="#000"/><circle cx="449.06" cy="801.25" r="3.2" fill="#000"/><circle cx="455.94" cy="801.25" r="3.2" fill="#000"/><circle cx="452.5" cy="828.71" r="3.2" fill="#000"/><circle cx="452.5" cy="859.39" r="3.2" fill="#000"/><circle cx="445.62" cy="875.54" r="3.2" fill="#000"/><circle cx="452.5" cy="877.16" r="3.2" fill="#000"/><circle cx="459.38" cy="880.39" r="3.2" fill="#000"/><circle cx="452.5" cy="883.62" r="3.2" fill="#000"/><circle cx="452.5" cy="907.84" r="3.2" fill="#000"/><circle cx="452.5" cy="924" r="3.2" fill="#000"/><text x="195" y="674" font-size="19.8" font-weight="bold" text-anchor="middle">Spike<tspan dy="-8" font-size="14">+</tspan><tspan dy="8"> RBD</tspan><tspan dy="-8" font-size="14">-</tspan><tspan dy="8"> binding</tspan></text><text x="402.9" y="674" font-size="20" font-weight="bold" text-anchor="middle">Spike<tspan dy="-8" font-size="14">+</tspan><tspan dy="8"> RBD</tspan><tspan dy="-8" font-size="14">+</tspan><tspan dy="8"> binding</tspan></text><text x="233" y="691.5" font-size="19.8" text-anchor="middle">p=0.0454</text><polyline points="199.3,871 199.3,701.9 265.5,701.9 265.5,846" fill="none" stroke="#000" stroke-width="1.8"/><text x="391" y="694.6" font-size="19.8" text-anchor="middle">p=0.001</text><polyline points="326.4,843 326.4,703 454,703 454,723" fill="none" stroke="#000" stroke-width="1.8"/><text x="414" y="735" font-size="19.8" text-anchor="middle">p=0.001</text><polyline points="389.5,834 389.5,741.3 453,741.3 453,762" fill="none" stroke="#000" stroke-width="1.8"/><text transform="translate(53 797) rotate(-90)" font-size="20" font-weight="bold" text-anchor="middle">% of Total B cells</text><text x="135.6" y="962.7" font-size="19.5" font-weight="bold" text-anchor="middle">HD</text><text x="200.2" y="962.7" font-size="19.5" font-weight="bold" text-anchor="middle">Omicron</text><text x="206.6" y="980.7" font-size="19.5" font-weight="bold" text-anchor="middle">BTI</text><text x="271.8" y="962.7" font-size="19.5" font-weight="bold" text-anchor="middle">Delta</text><text x="269.6" y="980.7" font-size="19.5" font-weight="bold" text-anchor="middle">BTI</text><text x="328" y="962.7" font-size="19.5" font-weight="bold" text-anchor="middle">HD</text><text x="389.5" y="962.7" font-size="19.5" font-weight="bold" text-anchor="middle">Omicron</text><text x="392.6" y="980.7" font-size="19.5" font-weight="bold" text-anchor="middle">BTI</text><text x="457.9" y="962.7" font-size="19.5" font-weight="bold" text-anchor="middle">Delta</text><text x="455.7" y="980.7" font-size="19.5" font-weight="bold" text-anchor="middle">BTI</text><line x1="639.5" y1="936.5" x2="639.5" y2="684.3" stroke="#000" stroke-width="3"/><line x1="631" y1="935" x2="641" y2="935" stroke="#000" stroke-width="3"/><text x="630.5" y="941.66" font-size="18.5" font-weight="bold" text-anchor="end">0</text><line x1="631" y1="851.43" x2="641" y2="851.43" stroke="#000" stroke-width="3"/><text x="630.5" y="858.09" font-size="18.5" font-weight="bold" text-anchor="end">10000</text><line x1="631" y1="767.86" x2="641" y2="767.86" stroke="#000" stroke-width="3"/><text x="630.5" y="774.52" font-size="18.5" font-weight="bold" text-anchor="end">20000</text><line x1="631" y1="684.29" x2="641" y2="684.29" stroke="#000" stroke-width="3"/><text x="630.5" y="690.95" font-size="18.5" font-weight="bold" text-anchor="end">30000</text><line x1="634.5" y1="893.22" x2="639.5" y2="893.22" stroke="#000" stroke-width="3"/><line x1="634.5" y1="809.64" x2="639.5" y2="809.64" stroke="#000" stroke-width="3"/><line x1="634.5" y1="726.08" x2="639.5" y2="726.08" stroke="#000" stroke-width="3"/><line x1="638" y1="935" x2="890" y2="935" stroke="#000" stroke-width="3"/><line x1="689.8" y1="935" x2="689.8" y2="943.5" stroke="#000" stroke-width="3"/><line x1="765.2" y1="935" x2="765.2" y2="943.5" stroke="#000" stroke-width="3"/><line x1="840.2" y1="935" x2="840.2" y2="943.5" stroke="#000" stroke-width="3"/><path d="M701.8 881.52C702.13 882.35 702.97 884.58 703.8 886.53C704.63 888.48 705.47 890.99 706.8 893.22C708.13 895.44 710.63 897.67 711.8 899.9C712.97 902.13 713.8 904.5 713.8 906.59C713.8 908.68 712.97 910.49 711.8 912.44C710.63 914.39 707.3 916.34 706.8 918.29C706.3 920.24 707.8 922.33 708.8 924.14C709.8 925.95 712.13 927.9 712.8 929.15C713.47 930.4 712.8 931.24 712.8 931.66L666.8 931.66C666.8 931.24 666.13 930.4 666.8 929.15C667.47 927.9 669.8 925.95 670.8 924.14C671.8 922.33 673.3 920.24 672.8 918.29C672.3 916.34 668.97 914.39 667.8 912.44C666.63 910.49 665.8 908.68 665.8 906.59C665.8 904.5 666.63 902.13 667.8 899.9C668.97 897.67 671.47 895.44 672.8 893.22C674.13 890.99 674.97 888.48 675.8 886.53C676.63 884.58 677.47 882.35 677.8 881.52Z" fill="#4f2c9f" stroke="#000" stroke-width="1.8" stroke-linejoin="round"/><line x1="666.37" y1="908.26" x2="713.23" y2="908.26" stroke="#000" stroke-width="1.8" stroke-dasharray="7 3.5"/><line x1="673.55" y1="891.54" x2="706.05" y2="891.54" stroke="#000" stroke-width="1.8" stroke-dasharray="2 2.2"/><line x1="667.47" y1="928.31" x2="712.13" y2="928.31" stroke="#000" stroke-width="1.8" stroke-dasharray="2 2.2"/><circle cx="689.8" cy="881.52" r="3.2" fill="#000"/><circle cx="689.8" cy="901.57" r="3.2" fill="#000"/><circle cx="689.8" cy="908.26" r="3.2" fill="#000"/><circle cx="689.8" cy="926.64" r="3.2" fill="#000"/><circle cx="689.8" cy="932.49" r="3.2" fill="#000"/><path d="M788.2 824.69C788.53 825.94 790.53 829.14 790.2 832.21C789.87 835.27 787.7 839.87 786.2 843.07C784.7 846.28 782.28 848.64 781.2 851.43C780.12 854.22 779.87 857 779.7 859.79C779.53 862.57 780.12 864.66 780.2 868.14C780.28 871.63 779.53 876.78 780.2 880.68C780.87 884.58 783.2 888.34 784.2 891.54C785.2 894.75 786.03 897.25 786.2 899.9C786.37 902.55 785.37 906.17 785.2 907.42L745.2 907.42C745.03 906.17 744.03 902.55 744.2 899.9C744.37 897.25 745.2 894.75 746.2 891.54C747.2 888.34 749.53 884.58 750.2 880.68C750.87 876.78 750.12 871.63 750.2 868.14C750.28 864.66 750.87 862.57 750.7 859.79C750.53 857 750.28 854.22 749.2 851.43C748.12 848.64 745.7 846.28 744.2 843.07C742.7 839.87 740.53 835.27 740.2 832.21C739.87 829.14 741.87 825.94 742.2 824.69Z" fill="#6dbf1f" stroke="#000" stroke-width="1.8" stroke-linejoin="round"/><line x1="750.45" y1="863.97" x2="779.95" y2="863.97" stroke="#000" stroke-width="1.8" stroke-dasharray="7 3.5"/><line x1="745.4" y1="894.89" x2="785" y2="894.89" stroke="#000" stroke-width="1.8" stroke-dasharray="2 2.2"/><line x1="740.82" y1="833.88" x2="789.58" y2="833.88" stroke="#000" stroke-width="1.8" stroke-dasharray="2 2.2"/><circle cx="765.2" cy="824.69" r="3.2" fill="#000"/><circle cx="758.32" cy="831.37" r="3.2" fill="#000"/><circle cx="765.2" cy="833.04" r="3.2" fill="#000"/><circle cx="772.08" cy="833.88" r="3.2" fill="#000"/><circle cx="765.2" cy="843.07" r="3.2" fill="#000"/><circle cx="761.76" cy="862.29" r="3.2" fill="#000"/><circle cx="768.64" cy="863.13" r="3.2" fill="#000"/><circle cx="765.2" cy="878.17" r="3.2" fill="#000"/><circle cx="761.76" cy="894.05" r="3.2" fill="#000"/><circle cx="768.64" cy="894.89" r="3.2" fill="#000"/><circle cx="765.2" cy="901.57" r="3.2" fill="#000"/><circle cx="765.2" cy="908.26" r="3.2" fill="#000"/><path d="M855.2 726.08C856.03 728.16 858.53 733.74 860.2 738.61C861.87 743.49 864.53 749.75 865.2 755.32C865.87 760.9 865.37 766.47 864.2 772.04C863.03 777.61 860.53 782.48 858.2 788.75C855.87 795.02 851.7 802.68 850.2 809.64C848.7 816.61 848.7 824.27 849.2 830.54C849.7 836.81 851.53 841.68 853.2 847.25C854.87 852.82 858.2 858.39 859.2 863.97C860.2 869.54 859.7 875.53 859.2 880.68C858.7 885.83 857.2 891.13 856.2 894.89C855.2 898.65 853.7 901.85 853.2 903.24L827.2 903.24C826.7 901.85 825.2 898.65 824.2 894.89C823.2 891.13 821.7 885.83 821.2 880.68C820.7 875.53 820.2 869.54 821.2 863.97C822.2 858.39 825.53 852.82 827.2 847.25C828.87 841.68 830.7 836.81 831.2 830.54C831.7 824.27 831.7 816.61 830.2 809.64C828.7 802.68 824.53 795.02 822.2 788.75C819.87 782.48 817.37 777.61 816.2 772.04C815.03 766.47 814.53 760.9 815.2 755.32C815.87 749.75 818.53 743.49 820.2 738.61C821.87 733.74 824.37 728.16 825.2 726.08Z" fill="#e23b22" stroke="#000" stroke-width="1.8" stroke-linejoin="round"/><line x1="823.8" y1="792.93" x2="856.6" y2="792.93" stroke="#000" stroke-width="1.8" stroke-dasharray="7 3.5"/><line x1="821.2" y1="873.99" x2="859.2" y2="873.99" stroke="#000" stroke-width="1.8" stroke-dasharray="2 2.2"/><line x1="815.55" y1="761.17" x2="864.85" y2="761.17" stroke="#000" stroke-width="1.8" stroke-dasharray="2 2.2"/><circle cx="840.2" cy="726.08" r="3.2" fill="#000"/><circle cx="840.2" cy="744.46" r="3.2" fill="#000"/><circle cx="836.76" cy="759.5" r="3.2" fill="#000"/><circle cx="843.64" cy="763.68" r="3.2" fill="#000"/><circle cx="836.76" cy="777.89" r="3.2" fill="#000"/><circle cx="843.64" cy="777.89" r="3.2" fill="#000"/><circle cx="840.2" cy="809.64" r="3.2" fill="#000"/><circle cx="840.2" cy="851.43" r="3.2" fill="#000"/><circle cx="840.2" cy="864.8" r="3.2" fill="#000"/><circle cx="840.2" cy="876.5" r="3.2" fill="#000"/><circle cx="840.2" cy="890.71" r="3.2" fill="#000"/><circle cx="840.2" cy="903.24" r="3.2" fill="#000"/><text x="727" y="695" font-size="19.8" text-anchor="middle">p=0.0061</text><polyline points="689.8,871.8 689.8,704.7 765.2,704.7 765.2,814.4" fill="none" stroke="#000" stroke-width="1.8"/><text x="819.5" y="695" font-size="19.8" text-anchor="middle">p=0.0023</text><line x1="776.4" y1="706.7" x2="842" y2="706.7" stroke="#000" stroke-width="1.8"/><text transform="translate(563.5 803) rotate(-90)" font-size="19.4" font-weight="bold" text-anchor="middle">IgG anti-RBD (BAU/mL)</text><text x="693.2" y="962.7" font-size="20" font-weight="bold" text-anchor="middle">HD</text><text x="774.7" y="962.7" font-size="20" font-weight="bold" text-anchor="middle">Omicron</text><text x="769" y="980.7" font-size="20" font-weight="bold" text-anchor="middle">BTI</text><text x="846" y="962.7" font-size="20" font-weight="bold" text-anchor="middle">Delta</text><text x="844.3" y="980.7" font-size="20" font-weight="bold" text-anchor="middle">BTI</text><line x1="1012" y1="936.9" x2="1012" y2="668.8" stroke="#000" stroke-width="2.6"/><line x1="1004.5" y1="935.6" x2="1013.3" y2="935.6" stroke="#000" stroke-width="2.6"/><text x="1005" y="940.82" font-size="14.5" font-weight="bold" text-anchor="end">0</text><line x1="1004.5" y1="882.24" x2="1013.3" y2="882.24" stroke="#000" stroke-width="2.6"/><text x="1005" y="887.46" font-size="14.5" font-weight="bold" text-anchor="end">20</text><line x1="1004.5" y1="828.88" x2="1013.3" y2="828.88" stroke="#000" stroke-width="2.6"/><text x="1005" y="834.1" font-size="14.5" font-weight="bold" text-anchor="end">40</text><line x1="1004.5" y1="775.52" x2="1013.3" y2="775.52" stroke="#000" stroke-width="2.6"/><text x="1005" y="780.74" font-size="14.5" font-weight="bold" text-anchor="end">60</text><line x1="1004.5" y1="722.16" x2="1013.3" y2="722.16" stroke="#000" stroke-width="2.6"/><text x="1005" y="727.38" font-size="14.5" font-weight="bold" text-anchor="end">80</text><line x1="1004.5" y1="668.8" x2="1013.3" y2="668.8" stroke="#000" stroke-width="2.6"/><text x="1005" y="674.02" font-size="14.5" font-weight="bold" text-anchor="end">100</text><line x1="1010.7" y1="935.6" x2="1279.6" y2="935.6" stroke="#000" stroke-width="2.6"/><line x1="1066.6" y1="935.6" x2="1066.6" y2="943.1" stroke="#000" stroke-width="2.6"/><line x1="1146.9" y1="935.6" x2="1146.9" y2="943.1" stroke="#000" stroke-width="2.6"/><line x1="1226.7" y1="935.6" x2="1226.7" y2="943.1" stroke="#000" stroke-width="2.6"/><path d="M1075.6 724.83C1075.52 728.83 1075.02 740.39 1075.1 748.84C1075.18 757.29 1075.43 766.63 1076.1 775.52C1076.77 784.41 1077.52 793.31 1079.1 802.2C1080.68 811.09 1083.6 821.32 1085.6 828.88C1087.6 836.44 1089.93 842.22 1091.1 847.56C1092.27 852.89 1092.85 856.89 1092.6 860.9C1092.35 864.9 1091.1 867.57 1089.6 871.57C1088.1 875.57 1085.43 880.46 1083.6 884.91C1081.77 889.35 1079.85 893.8 1078.6 898.25C1077.35 902.69 1076.6 907.59 1076.1 911.59C1075.6 915.59 1075.77 919.15 1075.6 922.26C1075.43 925.37 1075.18 928.93 1075.1 930.26L1058.1 930.26C1058.02 928.93 1057.77 925.37 1057.6 922.26C1057.43 919.15 1057.6 915.59 1057.1 911.59C1056.6 907.59 1055.85 902.69 1054.6 898.25C1053.35 893.8 1051.43 889.35 1049.6 884.91C1047.77 880.46 1045.1 875.57 1043.6 871.57C1042.1 867.57 1040.85 864.9 1040.6 860.9C1040.35 856.89 1040.93 852.89 1042.1 847.56C1043.27 842.22 1045.6 836.44 1047.6 828.88C1049.6 821.32 1052.52 811.09 1054.1 802.2C1055.68 793.31 1056.43 784.41 1057.1 775.52C1057.77 766.63 1058.02 757.29 1058.1 748.84C1058.18 740.39 1057.68 728.83 1057.6 724.83Z" fill="#4f2c9f" stroke="#000" stroke-width="1.8" stroke-linejoin="round"/><line x1="1041.95" y1="848.89" x2="1091.25" y2="848.89" stroke="#000" stroke-width="1.8"/><line x1="1043.6" y1="871.57" x2="1089.6" y2="871.57" stroke="#000" stroke-width="1.8"/><line x1="1056.2" y1="783.52" x2="1077" y2="783.52" stroke="#000" stroke-width="1.8"/><circle cx="1066.6" cy="724.83" r="2.9" fill="#000"/><circle cx="1066.6" cy="772.85" r="2.9" fill="#000"/><circle cx="1066.6" cy="818.21" r="2.9" fill="#000"/><circle cx="1066.6" cy="836.88" r="2.9" fill="#000"/><circle cx="1066.6" cy="860.9" r="2.9" fill="#000"/><circle cx="1066.6" cy="866.23" r="2.9" fill="#000"/><circle cx="1066.6" cy="874.24" r="2.9" fill="#000"/><circle cx="1066.6" cy="930.26" r="2.9" fill="#000"/><path d="M1163.9 756.84C1164.32 758.18 1166.57 761.74 1166.4 764.85C1166.23 767.96 1164.32 771.52 1162.9 775.52C1161.48 779.52 1158.57 784.41 1157.9 788.86C1157.23 793.31 1157.73 798.64 1158.9 802.2C1160.07 805.76 1163.23 807.54 1164.9 810.2C1166.57 812.87 1168.23 815.1 1168.9 818.21C1169.57 821.32 1168.65 825.32 1168.9 828.88C1169.15 832.44 1170.23 836.44 1170.4 839.55C1170.57 842.66 1170.32 845.78 1169.9 847.56C1169.48 849.33 1168.23 849.78 1167.9 850.22L1125.9 850.22C1125.57 849.78 1124.32 849.33 1123.9 847.56C1123.48 845.78 1123.23 842.66 1123.4 839.55C1123.57 836.44 1124.65 832.44 1124.9 828.88C1125.15 825.32 1124.23 821.32 1124.9 818.21C1125.57 815.1 1127.23 812.87 1128.9 810.2C1130.57 807.54 1133.73 805.76 1134.9 802.2C1136.07 798.64 1136.57 793.31 1135.9 788.86C1135.23 784.41 1132.32 779.52 1130.9 775.52C1129.48 771.52 1127.57 767.96 1127.4 764.85C1127.23 761.74 1129.48 758.18 1129.9 756.84Z" fill="#6dbf1f" stroke="#000" stroke-width="1.8" stroke-linejoin="round"/><line x1="1126.23" y1="815.54" x2="1167.57" y2="815.54" stroke="#000" stroke-width="1.8"/><line x1="1123.65" y1="843.55" x2="1170.15" y2="843.55" stroke="#000" stroke-width="1.8"/><line x1="1130.03" y1="772.85" x2="1163.78" y2="772.85" stroke="#000" stroke-width="1.8"/><circle cx="1146.9" cy="756.84" r="2.9" fill="#000"/><circle cx="1143.78" cy="764.85" r="2.9" fill="#000"/><circle cx="1150.02" cy="764.85" r="2.9" fill="#000"/><circle cx="1146.9" cy="780.86" r="2.9" fill="#000"/><circle cx="1146.9" cy="802.2" r="2.9" fill="#000"/><circle cx="1143.78" cy="812.87" r="2.9" fill="#000"/><circle cx="1150.02" cy="815.54" r="2.9" fill="#000"/><circle cx="1146.9" cy="820.88" r="2.9" fill="#000"/><circle cx="1146.9" cy="828.88" r="2.9" fill="#000"/><circle cx="1146.9" cy="839.55" r="2.9" fill="#000"/><circle cx="1140.67" cy="847.56" r="2.9" fill="#000"/><circle cx="1146.9" cy="850.22" r="2.9" fill="#000"/><circle cx="1153.13" cy="850.22" r="2.9" fill="#000"/><path d="M1241.7 730.16C1242.53 731.5 1245.03 735.06 1246.7 738.17C1248.37 741.28 1250.7 745.28 1251.7 748.84C1252.7 752.4 1253.2 755.95 1252.7 759.51C1252.2 763.07 1249.7 766.63 1248.7 770.18C1247.7 773.74 1246.7 777.3 1246.7 780.86C1246.7 784.41 1248.62 788.42 1248.7 791.53C1248.78 794.64 1248.37 796.42 1247.2 799.53C1246.03 802.64 1243.28 806.65 1241.7 810.2C1240.12 813.76 1238.78 817.76 1237.7 820.88C1236.62 823.99 1235.87 826.21 1235.2 828.88C1234.53 831.55 1233.95 835.55 1233.7 836.88L1219.7 836.88C1219.45 835.55 1218.87 831.55 1218.2 828.88C1217.53 826.21 1216.78 823.99 1215.7 820.88C1214.62 817.76 1213.28 813.76 1211.7 810.2C1210.12 806.65 1207.37 802.64 1206.2 799.53C1205.03 796.42 1204.62 794.64 1204.7 791.53C1204.78 788.42 1206.7 784.41 1206.7 780.86C1206.7 777.3 1205.7 773.74 1204.7 770.18C1203.7 766.63 1201.2 763.07 1200.7 759.51C1200.2 755.95 1200.7 752.4 1201.7 748.84C1202.7 745.28 1205.03 741.28 1206.7 738.17C1208.37 735.06 1210.87 731.5 1211.7 730.16Z" fill="#e23b22" stroke="#000" stroke-width="1.8" stroke-linejoin="round"/><line x1="1202.7" y1="764.85" x2="1250.7" y2="764.85" stroke="#000" stroke-width="1.8"/><line x1="1205.7" y1="796.86" x2="1247.7" y2="796.86" stroke="#000" stroke-width="1.8"/><line x1="1202.95" y1="746.17" x2="1250.45" y2="746.17" stroke="#000" stroke-width="1.8"/><circle cx="1226.7" cy="730.16" r="2.9" fill="#000"/><circle cx="1223.58" cy="743.5" r="2.9" fill="#000"/><circle cx="1229.82" cy="746.17" r="2.9" fill="#000"/><circle cx="1226.7" cy="751.51" r="2.9" fill="#000"/><circle cx="1220.47" cy="762.18" r="2.9" fill="#000"/><circle cx="1226.7" cy="764.85" r="2.9" fill="#000"/><circle cx="1232.93" cy="764.85" r="2.9" fill="#000"/><circle cx="1226.7" cy="788.86" r="2.9" fill="#000"/><circle cx="1223.58" cy="794.2" r="2.9" fill="#000"/><circle cx="1229.82" cy="796.86" r="2.9" fill="#000"/><circle cx="1226.7" cy="815.54" r="2.9" fill="#000"/><circle cx="1226.7" cy="836.88" r="2.9" fill="#000"/><text x="1121" y="662.3" font-size="19.8" text-anchor="middle">p=0.0213</text><polyline points="1069.8,697.9 1069.8,671.2 1226.7,671.2 1226.7,698.6" fill="none" stroke="#000" stroke-width="1.8"/><text x="1179" y="695.5" font-size="19.8" text-anchor="middle">p=0.0117</text><polyline points="1146.7,746.4 1146.7,702 1226.7,702 1226.7,719.7" fill="none" stroke="#000" stroke-width="1.8"/><text transform="translate(952 810) rotate(-90)" font-size="19.5" font-weight="bold" text-anchor="middle">% RBD/Total Spike</text><text transform="translate(976 810) rotate(-90)" font-size="19.5" font-weight="bold" text-anchor="middle">Specific B cells</text><text x="1071" y="962.7" font-size="20" font-weight="bold" text-anchor="middle">HD</text><text x="1150.6" y="962.7" font-size="20" font-weight="bold" text-anchor="middle">Omicron</text><text x="1151" y="980.7" font-size="20" font-weight="bold" text-anchor="middle">BTI</text><text x="1232.3" y="962.7" font-size="20" font-weight="bold" text-anchor="middle">Delta</text><text x="1232.8" y="980.7" font-size="20" font-weight="bold" text-anchor="middle">BTI</text><text x="0" y="1014" font-size="30" font-weight="bold">d.</text><text x="159" y="1025.7" font-size="19.9" text-anchor="middle">HD, Spike<tspan dy="-7" font-size="14">+</tspan></text><g transform="translate(62.1 1032.5)"><use href="#k35" fill="#e9e9e9" stroke="#fff" stroke-width="0.9"/><use href="#k23" fill="#e9e9e9" stroke="#fff" stroke-width="0.9"/><use href="#k10b" fill="#e9e9e9" stroke="#fff" stroke-width="0.9"/><use href="#k10a" fill="#e9e9e9" stroke="#fff" stroke-width="0.9"/><use href="#k16" fill="#e9e9e9" stroke="#fff" stroke-width="0.9"/><use href="#k22" fill="#e9e9e9" stroke="#fff" stroke-width="0.9"/><use href="#k24" fill="#e9e9e9" stroke="#fff" stroke-width="0.9"/><use href="#k25" fill="#e9e9e9" stroke="#fff" stroke-width="0.9"/><use href="#k21" fill="#e9e9e9" stroke="#fff" stroke-width="0.9"/><use href="#k19" fill="#e9e9e9" stroke="#fff" stroke-width="0.9"/><use href="#k18" fill="#e9e9e9" stroke="#fff" stroke-width="0.9"/><use href="#k17" fill="#e9e9e9" stroke="#fff" stroke-width="0.9"/><use href="#k12" fill="#e9e9e9" stroke="#fff" stroke-width="0.9"/><use href="#k26" fill="#e9e9e9" stroke="#fff" stroke-width="0.9"/><use href="#k5" fill="#e9e9e9" stroke="#fff" stroke-width="0.9"/><use href="#k3" fill="#e9e9e9" stroke="#fff" stroke-width="0.9"/><use href="#k2" fill="#e9e9e9" stroke="#fff" stroke-width="0.9"/><use href="#k15" fill="#e9e9e9" stroke="#fff" stroke-width="0.9"/><use href="#k29" fill="#e9e9e9" stroke="#fff" stroke-width="0.9"/><use href="#k30" fill="#e9e9e9" stroke="#fff" stroke-width="0.9"/><use href="#k6" fill="#e9e9e9" stroke="#fff" stroke-width="0.9"/><use href="#k7" fill="#e9e9e9" stroke="#fff" stroke-width="0.9"/><use href="#k14" fill="#e9e9e9" stroke="#fff" stroke-width="0.9"/><use href="#k11" fill="#e9e9e9" stroke="#fff" stroke-width="0.9"/><use href="#k13" fill="#e9e9e9" stroke="#fff" stroke-width="0.9"/><use href="#k1" fill="#e9e9e9" stroke="#fff" stroke-width="0.9"/><use href="#k4" fill="#e9e9e9" stroke="#fff" stroke-width="0.9"/><use href="#k8" fill="#e9e9e9" stroke="#fff" stroke-width="0.9"/><use href="#k0" fill="#e9e9e9" stroke="#fff" stroke-width="0.9"/><use href="#k32" fill="#e9e9e9" stroke="#fff" stroke-width="0.9"/><use href="#k33" fill="#e9e9e9" stroke="#fff" stroke-width="0.9"/><use href="#k34" fill="#e9e9e9" stroke="#fff" stroke-width="0.9"/><path d="M71.5 37.9h2.6v2.6h-2.6zM109.9 51.1h2.6v2.6h-2.6zM143.6 49.1h2.6v2.6h-2.6zM91.2 61.6h2.6v2.6h-2.6zM101.0 62.2h2.6v2.6h-2.6zM118.2 60.9h2.6v2.6h-2.6zM96.6 72.1h2.6v2.6h-2.6zM128.3 71.3h2.6v2.6h-2.6zM130.1 71.3h2.6v2.6h-2.6zM166.6 64.6h2.6v2.6h-2.6zM166.6 70.1h2.6v2.6h-2.6zM160.6 72.1h2.6v2.6h-2.6zM166.0 81.7h2.6v2.6h-2.6zM160.0 84.7h2.6v2.6h-2.6zM156.0 87.0h2.6v2.6h-2.6zM154.5 93.2h2.6v2.6h-2.6zM154.5 94.6h2.6v2.6h-2.6zM156.9 101.9h2.6v2.6h-2.6zM163.5 103.3h2.6v2.6h-2.6zM147.3 108.7h2.6v2.6h-2.6zM146.0 116.0h2.6v2.6h-2.6zM150.2 122.6h2.6v2.6h-2.6zM147.3 125.8h2.6v2.6h-2.6zM150.2 128.7h2.6v2.6h-2.6zM149.3 134.1h2.6v2.6h-2.6zM137.2 96.1h2.6v2.6h-2.6zM114.3 83.2h2.6v2.6h-2.6zM65.2 69.1h2.6v2.6h-2.6zM48.0 77.3h2.6v2.6h-2.6zM54.8 90.5h2.6v2.6h-2.6zM24.3 65.2h2.6v2.6h-2.6zM21.3 67.8h2.6v2.6h-2.6zM26.7 68.3h2.6v2.6h-2.6zM28.2 79.4h2.6v2.6h-2.6zM4.1 81.5h2.6v2.6h-2.6zM26.6 93.0h2.6v2.6h-2.6zM16.1 97.3h2.6v2.6h-2.6zM25.9 118.9h2.6v2.6h-2.6zM74.2 115.1h2.6v2.6h-2.6zM78.2 116.2h2.6v2.6h-2.6zM81.4 116.0h2.6v2.6h-2.6zM65.9 118.2h2.6v2.6h-2.6zM68.2 119.1h2.6v2.6h-2.6zM66.9 123.4h2.6v2.6h-2.6zM122.6 126.4h2.6v2.6h-2.6zM118.1 140.7h2.6v2.6h-2.6zM52.5 162.1h2.6v2.6h-2.6z" fill="#2d2ea3"/></g><text x="413.5" y="1025.7" font-size="19.9" text-anchor="middle">Omicron BTI, Spike<tspan dy="-7" font-size="14">+</tspan></text><g transform="translate(328.4 1032.5)"><use href="#k35" fill="#e9e9e9" stroke="#fff" stroke-width="0.9"/><use href="#k23" fill="#e9e9e9" stroke="#fff" stroke-width="0.9"/><use href="#k10b" fill="#e9e9e9" stroke="#fff" stroke-width="0.9"/><use href="#k10a" fill="#e9e9e9" stroke="#fff" stroke-width="0.9"/><use href="#k16" fill="#e9e9e9" stroke="#fff" stroke-width="0.9"/><use href="#k22" fill="#e9e9e9" stroke="#fff" stroke-width="0.9"/><use href="#k24" fill="#e9e9e9" stroke="#fff" stroke-width="0.9"/><use href="#k25" fill="#e9e9e9" stroke="#fff" stroke-width="0.9"/><use href="#k21" fill="#e9e9e9" stroke="#fff" stroke-width="0.9"/><use href="#k19" fill="#e9e9e9" stroke="#fff" stroke-width="0.9"/><use href="#k18" fill="#e9e9e9" stroke="#fff" stroke-width="0.9"/><use href="#k17" fill="#e9e9e9" stroke="#fff" stroke-width="0.9"/><use href="#k12" fill="#e9e9e9" stroke="#fff" stroke-width="0.9"/><use href="#k26" fill="#e9e9e9" stroke="#fff" stroke-width="0.9"/><use href="#k5" fill="#e9e9e9" stroke="#fff" stroke-width="0.9"/><use href="#k3" fill="#e9e9e9" stroke="#fff" stroke-width="0.9"/><use href="#k2" fill="#e9e9e9" stroke="#fff" stroke-width="0.9"/><use href="#k15" fill="#e9e9e9" stroke="#fff" stroke-width="0.9"/><use href="#k29" fill="#e9e9e9" stroke="#fff" stroke-width="0.9"/><use href="#k30" fill="#e9e9e9" stroke="#fff" stroke-width="0.9"/><use href="#k6" fill="#e9e9e9" stroke="#fff" stroke-width="0.9"/><use href="#k7" fill="#e9e9e9" stroke="#fff" stroke-width="0.9"/><use href="#k14" fill="#e9e9e9" stroke="#fff" stroke-width="0.9"/><use href="#k11" fill="#e9e9e9" stroke="#fff" stroke-width="0.9"/><use href="#k13" fill="#e9e9e9" stroke="#fff" stroke-width="0.9"/><use href="#k1" fill="#e9e9e9" stroke="#fff" stroke-width="0.9"/><use href="#k4" fill="#e9e9e9" stroke="#fff" stroke-width="0.9"/><use href="#k8" fill="#e9e9e9" stroke="#fff" stroke-width="0.9"/><use href="#k0" fill="#e9e9e9" stroke="#fff" stroke-width="0.9"/><use href="#k32" fill="#e9e9e9" stroke="#fff" stroke-width="0.9"/><use href="#k33" fill="#e9e9e9" stroke="#fff" stroke-width="0.9"/><use href="#k34" fill="#e9e9e9" stroke="#fff" stroke-width="0.9"/><path d="M104.1 21.2h2.6v2.6h-2.6zM101.0 31.9h2.6v2.6h-2.6zM98.9 42.8h2.6v2.6h-2.6zM75.9 50.3h2.6v2.6h-2.6zM94.1 50.3h2.6v2.6h-2.6zM132.9 48.0h2.6v2.6h-2.6zM138.1 47.3h2.6v2.6h-2.6zM131.5 52.5h2.6v2.6h-2.6zM138.1 55.5h2.6v2.6h-2.6zM134.7 62.1h2.6v2.6h-2.6zM164.0 64.4h2.6v2.6h-2.6zM79.4 67.6h2.6v2.6h-2.6zM63.0 69.0h2.6v2.6h-2.6zM69.9 72.8h2.6v2.6h-2.6zM112.2 65.9h2.6v2.6h-2.6zM116.0 68.2h2.6v2.6h-2.6zM104.7 70.7h2.6v2.6h-2.6zM152.5 75.7h2.6v2.6h-2.6zM54.0 80.0h2.6v2.6h-2.6zM73.6 80.0h2.6v2.6h-2.6zM79.1 80.5h2.6v2.6h-2.6zM69.0 84.0h2.6v2.6h-2.6zM43.1 85.3h2.6v2.6h-2.6zM35.6 88.2h2.6v2.6h-2.6zM88.3 97.2h2.6v2.6h-2.6zM116.0 97.2h2.6v2.6h-2.6zM122.6 102.7h2.6v2.6h-2.6zM157.7 101.8h2.6v2.6h-2.6zM130.1 111.4h2.6v2.6h-2.6zM125.4 115.1h2.6v2.6h-2.6zM139.8 116.0h2.6v2.6h-2.6zM70.4 114.3h2.6v2.6h-2.6zM86.8 117.1h2.6v2.6h-2.6zM104.1 120.3h2.6v2.6h-2.6zM67.0 122.8h2.6v2.6h-2.6zM132.4 134.7h2.6v2.6h-2.6zM159.8 137.0h2.6v2.6h-2.6zM159.8 138.7h2.6v2.6h-2.6zM125.1 146.5h2.6v2.6h-2.6zM25.7 74.0h2.6v2.6h-2.6zM23.1 73.0h2.6v2.6h-2.6zM24.8 67.9h2.6v2.6h-2.6zM30.2 69.6h2.6v2.6h-2.6zM25.3 71.9h2.6v2.6h-2.6zM28.3 68.9h2.6v2.6h-2.6zM26.9 65.1h2.6v2.6h-2.6zM24.5 67.2h2.6v2.6h-2.6zM22.1 62.9h2.6v2.6h-2.6zM21.3 68.0h2.6v2.6h-2.6zM25.0 67.7h2.6v2.6h-2.6zM25.6 63.6h2.6v2.6h-2.6zM168.5 71.6h2.6v2.6h-2.6zM169.9 70.1h2.6v2.6h-2.6zM168.0 68.5h2.6v2.6h-2.6zM167.8 68.3h2.6v2.6h-2.6zM166.2 72.8h2.6v2.6h-2.6zM110.7 89.8h2.6v2.6h-2.6zM115.1 88.6h2.6v2.6h-2.6zM115.3 89.5h2.6v2.6h-2.6zM116.3 88.7h2.6v2.6h-2.6zM123.8 88.5h2.6v2.6h-2.6zM123.2 89.1h2.6v2.6h-2.6zM123.5 90.4h2.6v2.6h-2.6zM121.6 87.9h2.6v2.6h-2.6zM145.8 83.0h2.6v2.6h-2.6zM160.7 81.5h2.6v2.6h-2.6zM149.3 90.2h2.6v2.6h-2.6zM159.4 83.5h2.6v2.6h-2.6zM156.3 89.2h2.6v2.6h-2.6zM150.0 89.5h2.6v2.6h-2.6zM154.1 87.4h2.6v2.6h-2.6zM150.4 94.2h2.6v2.6h-2.6zM160.3 81.5h2.6v2.6h-2.6zM158.7 97.0h2.6v2.6h-2.6zM148.3 94.0h2.6v2.6h-2.6zM148.4 100.2h2.6v2.6h-2.6zM151.9 91.6h2.6v2.6h-2.6zM149.6 91.7h2.6v2.6h-2.6zM149.9 88.6h2.6v2.6h-2.6zM161.5 83.8h2.6v2.6h-2.6zM132.1 92.0h2.6v2.6h-2.6zM150.0 94.3h2.6v2.6h-2.6zM149.7 91.9h2.6v2.6h-2.6zM152.5 97.1h2.6v2.6h-2.6zM148.5 90.9h2.6v2.6h-2.6zM160.9 95.0h2.6v2.6h-2.6zM137.6 106.2h2.6v2.6h-2.6zM141.6 97.8h2.6v2.6h-2.6zM137.1 100.4h2.6v2.6h-2.6zM137.9 96.5h2.6v2.6h-2.6zM136.9 98.1h2.6v2.6h-2.6zM142.4 98.3h2.6v2.6h-2.6zM136.5 101.4h2.6v2.6h-2.6zM140.0 101.9h2.6v2.6h-2.6zM142.6 99.0h2.6v2.6h-2.6zM146.1 113.1h2.6v2.6h-2.6zM145.3 116.4h2.6v2.6h-2.6zM147.3 114.1h2.6v2.6h-2.6zM146.0 112.1h2.6v2.6h-2.6zM145.6 109.6h2.6v2.6h-2.6zM145.9 109.5h2.6v2.6h-2.6zM145.8 106.1h2.6v2.6h-2.6zM149.1 130.3h2.6v2.6h-2.6zM145.3 118.1h2.6v2.6h-2.6zM148.2 135.8h2.6v2.6h-2.6zM146.4 127.5h2.6v2.6h-2.6zM146.8 133.4h2.6v2.6h-2.6zM145.9 135.2h2.6v2.6h-2.6zM147.5 134.8h2.6v2.6h-2.6zM148.3 128.9h2.6v2.6h-2.6zM144.5 126.5h2.6v2.6h-2.6zM147.6 133.5h2.6v2.6h-2.6zM148.9 126.4h2.6v2.6h-2.6zM149.3 135.2h2.6v2.6h-2.6zM147.9 127.8h2.6v2.6h-2.6zM147.3 134.3h2.6v2.6h-2.6zM149.6 125.2h2.6v2.6h-2.6zM149.2 127.6h2.6v2.6h-2.6zM146.4 136.5h2.6v2.6h-2.6zM150.3 126.3h2.6v2.6h-2.6zM78.4 115.9h2.6v2.6h-2.6zM76.6 115.2h2.6v2.6h-2.6zM79.9 113.2h2.6v2.6h-2.6zM79.0 116.2h2.6v2.6h-2.6zM95.4 123.9h2.6v2.6h-2.6zM95.2 124.4h2.6v2.6h-2.6zM95.4 126.1h2.6v2.6h-2.6zM68.5 149.0h2.6v2.6h-2.6zM63.9 156.5h2.6v2.6h-2.6zM62.1 154.8h2.6v2.6h-2.6zM70.2 151.2h2.6v2.6h-2.6zM81.1 152.8h2.6v2.6h-2.6zM79.6 143.2h2.6v2.6h-2.6zM54.3 157.0h2.6v2.6h-2.6zM70.9 151.1h2.6v2.6h-2.6zM66.9 143.7h2.6v2.6h-2.6zM63.6 147.8h2.6v2.6h-2.6zM66.0 156.6h2.6v2.6h-2.6zM67.6 154.2h2.6v2.6h-2.6zM63.2 150.5h2.6v2.6h-2.6zM67.9 151.2h2.6v2.6h-2.6zM74.5 148.5h2.6v2.6h-2.6zM78.2 148.0h2.6v2.6h-2.6zM73.4 149.0h2.6v2.6h-2.6zM76.8 153.1h2.6v2.6h-2.6zM69.6 156.0h2.6v2.6h-2.6zM63.6 147.7h2.6v2.6h-2.6zM55.6 158.1h2.6v2.6h-2.6zM63.2 149.8h2.6v2.6h-2.6zM67.1 161.7h2.6v2.6h-2.6zM57.3 153.7h2.6v2.6h-2.6zM65.0 155.0h2.6v2.6h-2.6zM56.9 150.7h2.6v2.6h-2.6zM72.1 159.7h2.6v2.6h-2.6zM76.5 148.6h2.6v2.6h-2.6zM90.0 161.3h2.6v2.6h-2.6zM83.4 155.9h2.6v2.6h-2.6zM93.2 162.7h2.6v2.6h-2.6zM89.1 166.6h2.6v2.6h-2.6zM85.1 163.9h2.6v2.6h-2.6zM89.8 161.5h2.6v2.6h-2.6zM92.0 162.4h2.6v2.6h-2.6zM91.0 162.8h2.6v2.6h-2.6zM98.7 160.5h2.6v2.6h-2.6zM94.4 164.2h2.6v2.6h-2.6zM88.1 164.9h2.6v2.6h-2.6zM85.8 166.4h2.6v2.6h-2.6zM86.0 159.8h2.6v2.6h-2.6zM91.2 165.1h2.6v2.6h-2.6zM93.9 165.3h2.6v2.6h-2.6zM88.8 157.9h2.6v2.6h-2.6zM92.3 163.0h2.6v2.6h-2.6zM85.3 165.7h2.6v2.6h-2.6zM90.6 157.9h2.6v2.6h-2.6zM91.8 156.4h2.6v2.6h-2.6zM85.7 163.4h2.6v2.6h-2.6zM82.5 161.9h2.6v2.6h-2.6zM83.5 164.7h2.6v2.6h-2.6zM86.4 162.5h2.6v2.6h-2.6zM82.8 160.3h2.6v2.6h-2.6zM94.1 163.6h2.6v2.6h-2.6zM81.3 165.5h2.6v2.6h-2.6zM93.8 160.2h2.6v2.6h-2.6z" fill="#6fc31c"/></g><text x="701" y="1025.7" font-size="19.9" text-anchor="middle">Delta BTI, Spike<tspan dy="-7" font-size="14">+</tspan></text><g transform="translate(596.4 1032.5)"><ellipse cx="49.5" cy="53.0" rx="20.2" ry="17.3" fill="#e9e9e9"/><ellipse cx="95.6" cy="29.4" rx="13.8" ry="9.2" fill="#e9e9e9"/><ellipse cx="80.7" cy="38.6" rx="6.9" ry="3.5" fill="#e9e9e9"/><ellipse cx="46.1" cy="101.4" rx="13.8" ry="20.7" fill="#e9e9e9"/><ellipse cx="73.7" cy="92.2" rx="16.1" ry="9.2" fill="#e9e9e9"/><ellipse cx="97.9" cy="87.6" rx="15.0" ry="5.8" fill="#e9e9e9"/><ellipse cx="49.5" cy="136.0" rx="18.4" ry="13.8" fill="#e9e9e9"/><ellipse cx="89.9" cy="141.7" rx="23.0" ry="19.6" fill="#e9e9e9"/><ellipse cx="53.0" cy="157.9" rx="11.5" ry="6.9" fill="#e9e9e9"/><ellipse cx="88.7" cy="161.3" rx="9.2" ry="6.9" fill="#e9e9e9"/><ellipse cx="141.7" cy="80.7" rx="6.9" ry="9.2" fill="#e9e9e9"/><ellipse cx="133.7" cy="93.9" rx="8.1" ry="2.9" fill="#e9e9e9"/><ellipse cx="161.3" cy="50.7" rx="4.6" ry="8.6" fill="#e9e9e9"/><ellipse cx="161.3" cy="119.8" rx="10.4" ry="9.2" fill="#e9e9e9"/><ellipse cx="109.5" cy="148.6" rx="4.6" ry="4.6" fill="#e9e9e9"/><ellipse cx="30.0" cy="71.4" rx="5.2" ry="3.5" fill="#e9e9e9"/><path d="M105.6 21.2h2.6v2.6h-2.6zM89.1 28.1h2.6v2.6h-2.6zM86.8 32.7h2.6v2.6h-2.6zM91.2 38.5h2.6v2.6h-2.6zM116.6 39.0h2.6v2.6h-2.6zM40.8 38.5h2.6v2.6h-2.6zM54.8 38.5h2.6v2.6h-2.6zM58.6 40.8h2.6v2.6h-2.6zM36.3 48.0h2.6v2.6h-2.6zM49.4 47.1h2.6v2.6h-2.6zM53.7 49.4h2.6v2.6h-2.6zM52.3 50.2h2.6v2.6h-2.6zM44.4 51.1h2.6v2.6h-2.6zM42.1 54.9h2.6v2.6h-2.6zM30.2 63.0h2.6v2.6h-2.6zM32.7 65.9h2.6v2.6h-2.6zM45.0 70.7h2.6v2.6h-2.6zM21.2 71.9h2.6v2.6h-2.6zM24.0 71.3h2.6v2.6h-2.6zM23.5 73.0h2.6v2.6h-2.6zM162.9 56.3h2.6v2.6h-2.6zM104.7 78.2h2.6v2.6h-2.6zM103.0 84.0h2.6v2.6h-2.6zM105.3 82.2h2.6v2.6h-2.6zM95.3 86.0h2.6v2.6h-2.6zM98.9 87.7h2.6v2.6h-2.6zM86.8 91.1h2.6v2.6h-2.6zM90.9 92.0h2.6v2.6h-2.6zM72.1 93.0h2.6v2.6h-2.6zM88.0 97.2h2.6v2.6h-2.6zM86.5 100.1h2.6v2.6h-2.6zM65.0 99.2h2.6v2.6h-2.6zM67.3 98.9h2.6v2.6h-2.6zM63.8 100.3h2.6v2.6h-2.6zM47.3 94.9h2.6v2.6h-2.6zM37.1 99.5h2.6v2.6h-2.6zM37.1 101.2h2.6v2.6h-2.6zM31.0 105.9h2.6v2.6h-2.6zM33.3 104.7h2.6v2.6h-2.6zM39.0 104.7h2.6v2.6h-2.6zM44.2 107.0h2.6v2.6h-2.6zM49.1 105.9h2.6v2.6h-2.6zM35.6 111.0h2.6v2.6h-2.6zM37.1 113.3h2.6v2.6h-2.6zM56.3 113.7h2.6v2.6h-2.6zM47.1 122.6h2.6v2.6h-2.6zM50.0 122.6h2.6v2.6h-2.6zM66.9 123.1h2.6v2.6h-2.6zM135.8 90.5h2.6v2.6h-2.6zM134.1 90.5h2.6v2.6h-2.6zM168.1 109.3h2.6v2.6h-2.6zM161.2 130.9h2.6v2.6h-2.6zM150.2 134.9h2.6v2.6h-2.6zM158.3 134.1h2.6v2.6h-2.6zM155.2 137.8h2.6v2.6h-2.6zM160.0 136.4h2.6v2.6h-2.6zM87.7 130.6h2.6v2.6h-2.6zM86.8 134.7h2.6v2.6h-2.6zM85.1 138.1h2.6v2.6h-2.6zM86.3 139.3h2.6v2.6h-2.6zM84.5 140.4h2.6v2.6h-2.6zM39.9 134.7h2.6v2.6h-2.6zM52.6 134.7h2.6v2.6h-2.6zM56.3 138.3h2.6v2.6h-2.6zM66.1 136.0h2.6v2.6h-2.6zM42.1 142.1h2.6v2.6h-2.6zM47.1 141.2h2.6v2.6h-2.6zM51.1 140.4h2.6v2.6h-2.6zM87.4 147.3h2.6v2.6h-2.6zM93.5 148.1h2.6v2.6h-2.6zM99.9 148.5h2.6v2.6h-2.6zM102.4 151.4h2.6v2.6h-2.6zM104.1 153.1h2.6v2.6h-2.6zM42.1 151.0h2.6v2.6h-2.6zM57.2 151.6h2.6v2.6h-2.6zM60.1 156.2h2.6v2.6h-2.6zM76.5 157.7h2.6v2.6h-2.6zM86.5 158.9h2.6v2.6h-2.6zM85.9 160.6h2.6v2.6h-2.6zM94.1 157.1h2.6v2.6h-2.6zM161.4 119.3h2.6v2.6h-2.6zM158.8 118.8h2.6v2.6h-2.6zM166.0 119.0h2.6v2.6h-2.6zM169.3 113.8h2.6v2.6h-2.6zM161.5 114.5h2.6v2.6h-2.6zM157.1 116.6h2.6v2.6h-2.6zM162.3 119.1h2.6v2.6h-2.6zM163.8 126.4h2.6v2.6h-2.6zM165.6 110.9h2.6v2.6h-2.6zM162.2 114.9h2.6v2.6h-2.6zM158.5 122.6h2.6v2.6h-2.6zM160.0 109.5h2.6v2.6h-2.6zM162.8 116.2h2.6v2.6h-2.6zM155.1 113.7h2.6v2.6h-2.6zM157.9 117.3h2.6v2.6h-2.6zM158.9 117.7h2.6v2.6h-2.6zM170.7 114.2h2.6v2.6h-2.6zM157.0 116.4h2.6v2.6h-2.6zM166.8 114.5h2.6v2.6h-2.6zM168.6 112.1h2.6v2.6h-2.6zM155.8 117.2h2.6v2.6h-2.6zM156.7 114.9h2.6v2.6h-2.6zM163.5 120.3h2.6v2.6h-2.6zM161.8 116.3h2.6v2.6h-2.6zM168.1 119.0h2.6v2.6h-2.6zM159.9 122.3h2.6v2.6h-2.6zM156.5 118.0h2.6v2.6h-2.6zM164.6 117.3h2.6v2.6h-2.6zM158.2 118.8h2.6v2.6h-2.6zM158.4 115.0h2.6v2.6h-2.6zM155.9 122.6h2.6v2.6h-2.6zM158.3 122.0h2.6v2.6h-2.6zM152.0 111.8h2.6v2.6h-2.6zM152.5 112.6h2.6v2.6h-2.6zM151.6 110.3h2.6v2.6h-2.6zM151.5 113.4h2.6v2.6h-2.6zM152.2 113.6h2.6v2.6h-2.6z" fill="#dc2b1c"/></g><text x="952.6" y="1025.7" font-size="19.9" text-anchor="middle">All, Spike<tspan dy="-7" font-size="14">+</tspan></text><g transform="translate(862 1032.5)"><use href="#k35" fill="#e9e9e9" stroke="#fff" stroke-width="0.9"/><use href="#k23" fill="#e9e9e9" stroke="#fff" stroke-width="0.9"/><use href="#k10b" fill="#e9e9e9" stroke="#fff" stroke-width="0.9"/><use href="#k9" fill="#e9e9e9" stroke="#fff" stroke-width="0.9"/><use href="#k10a" fill="#e9e9e9" stroke="#fff" stroke-width="0.9"/><use href="#k20" fill="#e9e9e9" stroke="#fff" stroke-width="0.9"/><use href="#k16" fill="#e9e9e9" stroke="#fff" stroke-width="0.9"/><use href="#k22" fill="#e9e9e9" stroke="#fff" stroke-width="0.9"/><use href="#k28" fill="#e9e9e9" stroke="#fff" stroke-width="0.9"/><use href="#k27" fill="#e9e9e9" stroke="#fff" stroke-width="0.9"/><use href="#k24" fill="#e9e9e9" stroke="#fff" stroke-width="0.9"/><use href="#k25" fill="#e9e9e9" stroke="#fff" stroke-width="0.9"/><use href="#k21" fill="#e9e9e9" stroke="#fff" stroke-width="0.9"/><use href="#k19" fill="#e9e9e9" stroke="#fff" stroke-width="0.9"/><use href="#k18" fill="#e9e9e9" stroke="#fff" stroke-width="0.9"/><use href="#k17" fill="#e9e9e9" stroke="#fff" stroke-width="0.9"/><use href="#k12" fill="#e9e9e9" stroke="#fff" stroke-width="0.9"/><use href="#k26" fill="#e9e9e9" stroke="#fff" stroke-width="0.9"/><use href="#k5" fill="#e9e9e9" stroke="#fff" stroke-width="0.9"/><use href="#k3" fill="#e9e9e9" stroke="#fff" stroke-width="0.9"/><use href="#k2" fill="#e9e9e9" stroke="#fff" stroke-width="0.9"/><use href="#k15" fill="#e9e9e9" stroke="#fff" stroke-width="0.9"/><use href="#k29" fill="#e9e9e9" stroke="#fff" stroke-width="0.9"/><use href="#k30" fill="#e9e9e9" stroke="#fff" stroke-width="0.9"/><use href="#k31" fill="#e9e9e9" stroke="#fff" stroke-width="0.9"/><use href="#k6" fill="#e9e9e9" stroke="#fff" stroke-width="0.9"/><use href="#k7" fill="#e9e9e9" stroke="#fff" stroke-width="0.9"/><use href="#k14" fill="#e9e9e9" stroke="#fff" stroke-width="0.9"/><use href="#k11" fill="#e9e9e9" stroke="#fff" stroke-width="0.9"/><use href="#k13" fill="#e9e9e9" stroke="#fff" stroke-width="0.9"/><use href="#k1" fill="#e9e9e9" stroke="#fff" stroke-width="0.9"/><use href="#k4" fill="#e9e9e9" stroke="#fff" stroke-width="0.9"/><use href="#k8" fill="#e9e9e9" stroke="#fff" stroke-width="0.9"/><use href="#k0" fill="#e9e9e9" stroke="#fff" stroke-width="0.9"/><use href="#k32" fill="#e9e9e9" stroke="#fff" stroke-width="0.9"/><use href="#k33" fill="#e9e9e9" stroke="#fff" stroke-width="0.9"/><use href="#k34" fill="#e9e9e9" stroke="#fff" stroke-width="0.9"/><path d="M71.5 37.9h2.6v2.6h-2.6zM109.9 51.1h2.6v2.6h-2.6zM143.6 49.1h2.6v2.6h-2.6zM91.2 61.6h2.6v2.6h-2.6zM101.0 62.2h2.6v2.6h-2.6zM118.2 60.9h2.6v2.6h-2.6zM96.6 72.1h2.6v2.6h-2.6zM128.3 71.3h2.6v2.6h-2.6zM130.1 71.3h2.6v2.6h-2.6zM166.6 64.6h2.6v2.6h-2.6zM166.6 70.1h2.6v2.6h-2.6zM160.6 72.1h2.6v2.6h-2.6zM166.0 81.7h2.6v2.6h-2.6zM160.0 84.7h2.6v2.6h-2.6zM156.0 87.0h2.6v2.6h-2.6zM154.5 93.2h2.6v2.6h-2.6zM154.5 94.6h2.6v2.6h-2.6zM156.9 101.9h2.6v2.6h-2.6zM163.5 103.3h2.6v2.6h-2.6zM147.3 108.7h2.6v2.6h-2.6zM146.0 116.0h2.6v2.6h-2.6zM150.2 122.6h2.6v2.6h-2.6zM147.3 125.8h2.6v2.6h-2.6zM150.2 128.7h2.6v2.6h-2.6zM149.3 134.1h2.6v2.6h-2.6zM137.2 96.1h2.6v2.6h-2.6zM114.3 83.2h2.6v2.6h-2.6zM65.2 69.1h2.6v2.6h-2.6zM48.0 77.3h2.6v2.6h-2.6zM54.8 90.5h2.6v2.6h-2.6zM24.3 65.2h2.6v2.6h-2.6zM21.3 67.8h2.6v2.6h-2.6zM26.7 68.3h2.6v2.6h-2.6zM28.2 79.4h2.6v2.6h-2.6zM4.1 81.5h2.6v2.6h-2.6zM26.6 93.0h2.6v2.6h-2.6zM16.1 97.3h2.6v2.6h-2.6zM25.9 118.9h2.6v2.6h-2.6zM74.2 115.1h2.6v2.6h-2.6zM78.2 116.2h2.6v2.6h-2.6zM81.4 116.0h2.6v2.6h-2.6zM65.9 118.2h2.6v2.6h-2.6zM68.2 119.1h2.6v2.6h-2.6zM66.9 123.4h2.6v2.6h-2.6zM122.6 126.4h2.6v2.6h-2.6zM118.1 140.7h2.6v2.6h-2.6zM52.5 162.1h2.6v2.6h-2.6zM104.1 21.2h2.6v2.6h-2.6zM101.0 31.9h2.6v2.6h-2.6zM98.9 42.8h2.6v2.6h-2.6zM75.9 50.3h2.6v2.6h-2.6zM94.1 50.3h2.6v2.6h-2.6zM132.9 48.0h2.6v2.6h-2.6zM138.1 47.3h2.6v2.6h-2.6zM131.5 52.5h2.6v2.6h-2.6zM138.1 55.5h2.6v2.6h-2.6zM134.7 62.1h2.6v2.6h-2.6zM164.0 64.4h2.6v2.6h-2.6zM79.4 67.6h2.6v2.6h-2.6zM63.0 69.0h2.6v2.6h-2.6zM69.9 72.8h2.6v2.6h-2.6zM112.2 65.9h2.6v2.6h-2.6zM116.0 68.2h2.6v2.6h-2.6zM104.7 70.7h2.6v2.6h-2.6zM152.5 75.7h2.6v2.6h-2.6zM54.0 80.0h2.6v2.6h-2.6zM73.6 80.0h2.6v2.6h-2.6zM79.1 80.5h2.6v2.6h-2.6zM69.0 84.0h2.6v2.6h-2.6zM43.1 85.3h2.6v2.6h-2.6zM35.6 88.2h2.6v2.6h-2.6zM88.3 97.2h2.6v2.6h-2.6zM116.0 97.2h2.6v2.6h-2.6zM122.6 102.7h2.6v2.6h-2.6zM157.7 101.8h2.6v2.6h-2.6zM130.1 111.4h2.6v2.6h-2.6zM125.4 115.1h2.6v2.6h-2.6zM139.8 116.0h2.6v2.6h-2.6zM70.4 114.3h2.6v2.6h-2.6zM86.8 117.1h2.6v2.6h-2.6zM104.1 120.3h2.6v2.6h-2.6zM67.0 122.8h2.6v2.6h-2.6zM132.4 134.7h2.6v2.6h-2.6zM159.8 137.0h2.6v2.6h-2.6zM159.8 138.7h2.6v2.6h-2.6zM125.1 146.5h2.6v2.6h-2.6zM25.7 74.0h2.6v2.6h-2.6zM23.1 73.0h2.6v2.6h-2.6zM24.8 67.9h2.6v2.6h-2.6zM30.2 69.6h2.6v2.6h-2.6zM25.3 71.9h2.6v2.6h-2.6zM28.3 68.9h2.6v2.6h-2.6zM26.9 65.1h2.6v2.6h-2.6zM24.5 67.2h2.6v2.6h-2.6zM22.1 62.9h2.6v2.6h-2.6zM21.3 68.0h2.6v2.6h-2.6zM25.0 67.7h2.6v2.6h-2.6zM25.6 63.6h2.6v2.6h-2.6zM168.5 71.6h2.6v2.6h-2.6zM169.9 70.1h2.6v2.6h-2.6zM168.0 68.5h2.6v2.6h-2.6zM167.8 68.3h2.6v2.6h-2.6zM166.2 72.8h2.6v2.6h-2.6zM110.7 89.8h2.6v2.6h-2.6zM115.1 88.6h2.6v2.6h-2.6zM115.3 89.5h2.6v2.6h-2.6zM116.3 88.7h2.6v2.6h-2.6zM123.8 88.5h2.6v2.6h-2.6zM123.2 89.1h2.6v2.6h-2.6zM123.5 90.4h2.6v2.6h-2.6zM121.6 87.9h2.6v2.6h-2.6zM145.8 83.0h2.6v2.6h-2.6zM160.7 81.5h2.6v2.6h-2.6zM149.3 90.2h2.6v2.6h-2.6zM159.4 83.5h2.6v2.6h-2.6zM156.3 89.2h2.6v2.6h-2.6zM150.0 89.5h2.6v2.6h-2.6zM154.1 87.4h2.6v2.6h-2.6zM150.4 94.2h2.6v2.6h-2.6zM160.3 81.5h2.6v2.6h-2.6zM158.7 97.0h2.6v2.6h-2.6zM148.3 94.0h2.6v2.6h-2.6zM148.4 100.2h2.6v2.6h-2.6zM151.9 91.6h2.6v2.6h-2.6zM149.6 91.7h2.6v2.6h-2.6zM149.9 88.6h2.6v2.6h-2.6zM161.5 83.8h2.6v2.6h-2.6zM132.1 92.0h2.6v2.6h-2.6zM150.0 94.3h2.6v2.6h-2.6zM149.7 91.9h2.6v2.6h-2.6zM152.5 97.1h2.6v2.6h-2.6zM148.5 90.9h2.6v2.6h-2.6zM160.9 95.0h2.6v2.6h-2.6zM137.6 106.2h2.6v2.6h-2.6zM141.6 97.8h2.6v2.6h-2.6zM137.1 100.4h2.6v2.6h-2.6zM137.9 96.5h2.6v2.6h-2.6zM136.9 98.1h2.6v2.6h-2.6zM142.4 98.3h2.6v2.6h-2.6zM136.5 101.4h2.6v2.6h-2.6zM140.0 101.9h2.6v2.6h-2.6zM142.6 99.0h2.6v2.6h-2.6zM146.1 113.1h2.6v2.6h-2.6zM145.3 116.4h2.6v2.6h-2.6zM147.3 114.1h2.6v2.6h-2.6zM146.0 112.1h2.6v2.6h-2.6zM145.6 109.6h2.6v2.6h-2.6zM145.9 109.5h2.6v2.6h-2.6zM145.8 106.1h2.6v2.6h-2.6zM149.1 130.3h2.6v2.6h-2.6zM145.3 118.1h2.6v2.6h-2.6zM148.2 135.8h2.6v2.6h-2.6zM146.4 127.5h2.6v2.6h-2.6zM146.8 133.4h2.6v2.6h-2.6zM145.9 135.2h2.6v2.6h-2.6zM147.5 134.8h2.6v2.6h-2.6zM148.3 128.9h2.6v2.6h-2.6zM144.5 126.5h2.6v2.6h-2.6zM147.6 133.5h2.6v2.6h-2.6zM148.9 126.4h2.6v2.6h-2.6zM149.3 135.2h2.6v2.6h-2.6zM147.9 127.8h2.6v2.6h-2.6zM147.3 134.3h2.6v2.6h-2.6zM149.6 125.2h2.6v2.6h-2.6zM149.2 127.6h2.6v2.6h-2.6zM146.4 136.5h2.6v2.6h-2.6zM150.3 126.3h2.6v2.6h-2.6zM78.4 115.9h2.6v2.6h-2.6zM76.6 115.2h2.6v2.6h-2.6zM79.9 113.2h2.6v2.6h-2.6zM79.0 116.2h2.6v2.6h-2.6zM95.4 123.9h2.6v2.6h-2.6zM95.2 124.4h2.6v2.6h-2.6zM95.4 126.1h2.6v2.6h-2.6zM68.5 149.0h2.6v2.6h-2.6zM63.9 156.5h2.6v2.6h-2.6zM62.1 154.8h2.6v2.6h-2.6zM70.2 151.2h2.6v2.6h-2.6zM81.1 152.8h2.6v2.6h-2.6zM79.6 143.2h2.6v2.6h-2.6zM54.3 157.0h2.6v2.6h-2.6zM70.9 151.1h2.6v2.6h-2.6zM66.9 143.7h2.6v2.6h-2.6zM63.6 147.8h2.6v2.6h-2.6zM66.0 156.6h2.6v2.6h-2.6zM67.6 154.2h2.6v2.6h-2.6zM63.2 150.5h2.6v2.6h-2.6zM67.9 151.2h2.6v2.6h-2.6zM74.5 148.5h2.6v2.6h-2.6zM78.2 148.0h2.6v2.6h-2.6zM73.4 149.0h2.6v2.6h-2.6zM76.8 153.1h2.6v2.6h-2.6zM69.6 156.0h2.6v2.6h-2.6zM63.6 147.7h2.6v2.6h-2.6zM55.6 158.1h2.6v2.6h-2.6zM63.2 149.8h2.6v2.6h-2.6zM67.1 161.7h2.6v2.6h-2.6zM57.3 153.7h2.6v2.6h-2.6zM65.0 155.0h2.6v2.6h-2.6zM56.9 150.7h2.6v2.6h-2.6zM72.1 159.7h2.6v2.6h-2.6zM76.5 148.6h2.6v2.6h-2.6zM90.0 161.3h2.6v2.6h-2.6zM83.4 155.9h2.6v2.6h-2.6zM93.2 162.7h2.6v2.6h-2.6zM89.1 166.6h2.6v2.6h-2.6zM85.1 163.9h2.6v2.6h-2.6zM89.8 161.5h2.6v2.6h-2.6zM92.0 162.4h2.6v2.6h-2.6zM91.0 162.8h2.6v2.6h-2.6zM98.7 160.5h2.6v2.6h-2.6zM94.4 164.2h2.6v2.6h-2.6zM88.1 164.9h2.6v2.6h-2.6zM85.8 166.4h2.6v2.6h-2.6zM86.0 159.8h2.6v2.6h-2.6zM91.2 165.1h2.6v2.6h-2.6zM93.9 165.3h2.6v2.6h-2.6zM88.8 157.9h2.6v2.6h-2.6zM92.3 163.0h2.6v2.6h-2.6zM85.3 165.7h2.6v2.6h-2.6zM90.6 157.9h2.6v2.6h-2.6zM91.8 156.4h2.6v2.6h-2.6zM85.7 163.4h2.6v2.6h-2.6zM82.5 161.9h2.6v2.6h-2.6zM83.5 164.7h2.6v2.6h-2.6zM86.4 162.5h2.6v2.6h-2.6zM82.8 160.3h2.6v2.6h-2.6zM94.1 163.6h2.6v2.6h-2.6zM81.3 165.5h2.6v2.6h-2.6zM93.8 160.2h2.6v2.6h-2.6zM105.6 21.2h2.6v2.6h-2.6zM89.1 28.1h2.6v2.6h-2.6zM86.8 32.7h2.6v2.6h-2.6zM91.2 38.5h2.6v2.6h-2.6zM116.6 39.0h2.6v2.6h-2.6zM40.8 38.5h2.6v2.6h-2.6zM54.8 38.5h2.6v2.6h-2.6zM58.6 40.8h2.6v2.6h-2.6zM36.3 48.0h2.6v2.6h-2.6zM49.4 47.1h2.6v2.6h-2.6zM53.7 49.4h2.6v2.6h-2.6zM52.3 50.2h2.6v2.6h-2.6zM44.4 51.1h2.6v2.6h-2.6zM42.1 54.9h2.6v2.6h-2.6zM30.2 63.0h2.6v2.6h-2.6zM32.7 65.9h2.6v2.6h-2.6zM45.0 70.7h2.6v2.6h-2.6zM21.2 71.9h2.6v2.6h-2.6zM24.0 71.3h2.6v2.6h-2.6zM23.5 73.0h2.6v2.6h-2.6zM162.9 56.3h2.6v2.6h-2.6zM104.7 78.2h2.6v2.6h-2.6zM103.0 84.0h2.6v2.6h-2.6zM105.3 82.2h2.6v2.6h-2.6zM95.3 86.0h2.6v2.6h-2.6zM98.9 87.7h2.6v2.6h-2.6zM86.8 91.1h2.6v2.6h-2.6zM90.9 92.0h2.6v2.6h-2.6zM72.1 93.0h2.6v2.6h-2.6zM88.0 97.2h2.6v2.6h-2.6zM86.5 100.1h2.6v2.6h-2.6zM65.0 99.2h2.6v2.6h-2.6zM67.3 98.9h2.6v2.6h-2.6zM63.8 100.3h2.6v2.6h-2.6zM47.3 94.9h2.6v2.6h-2.6zM37.1 99.5h2.6v2.6h-2.6zM37.1 101.2h2.6v2.6h-2.6zM31.0 105.9h2.6v2.6h-2.6zM33.3 104.7h2.6v2.6h-2.6zM39.0 104.7h2.6v2.6h-2.6zM44.2 107.0h2.6v2.6h-2.6zM49.1 105.9h2.6v2.6h-2.6zM35.6 111.0h2.6v2.6h-2.6zM37.1 113.3h2.6v2.6h-2.6zM56.3 113.7h2.6v2.6h-2.6zM47.1 122.6h2.6v2.6h-2.6zM50.0 122.6h2.6v2.6h-2.6zM66.9 123.1h2.6v2.6h-2.6zM135.8 90.5h2.6v2.6h-2.6zM134.1 90.5h2.6v2.6h-2.6zM168.1 109.3h2.6v2.6h-2.6zM161.2 130.9h2.6v2.6h-2.6zM150.2 134.9h2.6v2.6h-2.6zM158.3 134.1h2.6v2.6h-2.6zM155.2 137.8h2.6v2.6h-2.6zM160.0 136.4h2.6v2.6h-2.6zM87.7 130.6h2.6v2.6h-2.6zM86.8 134.7h2.6v2.6h-2.6zM85.1 138.1h2.6v2.6h-2.6zM86.3 139.3h2.6v2.6h-2.6zM84.5 140.4h2.6v2.6h-2.6zM39.9 134.7h2.6v2.6h-2.6zM52.6 134.7h2.6v2.6h-2.6zM56.3 138.3h2.6v2.6h-2.6zM66.1 136.0h2.6v2.6h-2.6zM42.1 142.1h2.6v2.6h-2.6zM47.1 141.2h2.6v2.6h-2.6zM51.1 140.4h2.6v2.6h-2.6zM87.4 147.3h2.6v2.6h-2.6zM93.5 148.1h2.6v2.6h-2.6zM99.9 148.5h2.6v2.6h-2.6zM102.4 151.4h2.6v2.6h-2.6zM104.1 153.1h2.6v2.6h-2.6zM42.1 151.0h2.6v2.6h-2.6zM57.2 151.6h2.6v2.6h-2.6zM60.1 156.2h2.6v2.6h-2.6zM76.5 157.7h2.6v2.6h-2.6zM86.5 158.9h2.6v2.6h-2.6zM85.9 160.6h2.6v2.6h-2.6zM94.1 157.1h2.6v2.6h-2.6zM161.4 119.3h2.6v2.6h-2.6zM158.8 118.8h2.6v2.6h-2.6zM166.0 119.0h2.6v2.6h-2.6zM169.3 113.8h2.6v2.6h-2.6zM161.5 114.5h2.6v2.6h-2.6zM157.1 116.6h2.6v2.6h-2.6zM162.3 119.1h2.6v2.6h-2.6zM163.8 126.4h2.6v2.6h-2.6zM165.6 110.9h2.6v2.6h-2.6zM162.2 114.9h2.6v2.6h-2.6zM158.5 122.6h2.6v2.6h-2.6zM160.0 109.5h2.6v2.6h-2.6zM162.8 116.2h2.6v2.6h-2.6zM155.1 113.7h2.6v2.6h-2.6zM157.9 117.3h2.6v2.6h-2.6zM158.9 117.7h2.6v2.6h-2.6zM170.7 114.2h2.6v2.6h-2.6zM157.0 116.4h2.6v2.6h-2.6zM166.8 114.5h2.6v2.6h-2.6zM168.6 112.1h2.6v2.6h-2.6zM155.8 117.2h2.6v2.6h-2.6zM156.7 114.9h2.6v2.6h-2.6zM163.5 120.3h2.6v2.6h-2.6zM161.8 116.3h2.6v2.6h-2.6zM168.1 119.0h2.6v2.6h-2.6zM159.9 122.3h2.6v2.6h-2.6zM156.5 118.0h2.6v2.6h-2.6zM164.6 117.3h2.6v2.6h-2.6zM158.2 118.8h2.6v2.6h-2.6zM158.4 115.0h2.6v2.6h-2.6zM155.9 122.6h2.6v2.6h-2.6zM158.3 122.0h2.6v2.6h-2.6zM152.0 111.8h2.6v2.6h-2.6zM152.5 112.6h2.6v2.6h-2.6zM151.6 110.3h2.6v2.6h-2.6zM151.5 113.4h2.6v2.6h-2.6zM152.2 113.6h2.6v2.6h-2.6z" fill="#000"/></g><g transform="translate(62.1 1308.5)"><g filter="url(#rough2)"><use href="#k35" fill="#f4d81c" stroke="#fff" stroke-width="0.9"/><use href="#k23" fill="#f3c81f" stroke="#fff" stroke-width="0.9"/><use href="#k10b" fill="#f4d81c" stroke="#fff" stroke-width="0.9"/><use href="#k9" fill="#f4d81c" stroke="#fff" stroke-width="0.9"/><use href="#k10a" fill="#f4d81c" stroke="#fff" stroke-width="0.9"/><use href="#k20" fill="#f4d81c" stroke="#fff" stroke-width="0.9"/><use href="#k16" fill="#f4d81c" stroke="#fff" stroke-width="0.9"/><use href="#k22" fill="#f3c81f" stroke="#fff" stroke-width="0.9"/><use href="#k28" fill="#f4d81c" stroke="#fff" stroke-width="0.9"/><use href="#k27" fill="#f4d81c" stroke="#fff" stroke-width="0.9"/><use href="#k24" fill="#f4d81c" stroke="#fff" stroke-width="0.9"/><use href="#k25" fill="#f3c81f" stroke="#fff" stroke-width="0.9"/><use href="#k21" fill="#f4d81c" stroke="#fff" stroke-width="0.9"/><use href="#k19" fill="#f4d81c" stroke="#fff" stroke-width="0.9"/><use href="#k18" fill="#f4d81c" stroke="#fff" stroke-width="0.9"/><use href="#k17" fill="#f4d81c" stroke="#fff" stroke-width="0.9"/><use href="#k12" fill="#bdd719" stroke="#fff" stroke-width="0.9"/><use href="#k26" fill="#f4d81c" stroke="#fff" stroke-width="0.9"/><use href="#k5" fill="#f4d81c" stroke="#fff" stroke-width="0.9"/><use href="#k3" fill="#f4d81c" stroke="#fff" stroke-width="0.9"/><use href="#k2" fill="#f4d81c" stroke="#fff" stroke-width="0.9"/><use href="#k15" fill="#f4d81c" stroke="#fff" stroke-width="0.9"/><use href="#k29" fill="#e3481a" stroke="#fff" stroke-width="0.9"/><use href="#k30" fill="#e3481a" stroke="#fff" stroke-width="0.9"/><use href="#k31" fill="#f4d81c" stroke="#fff" stroke-width="0.9"/><use href="#k6" fill="#f4d81c" stroke="#fff" stroke-width="0.9"/><use href="#k7" fill="#f4d81c" stroke="#fff" stroke-width="0.9"/><use href="#k14" fill="#f4d81c" stroke="#fff" stroke-width="0.9"/><use href="#k11" fill="#f4d81c" stroke="#fff" stroke-width="0.9"/><use href="#k13" fill="#f4d81c" stroke="#fff" stroke-width="0.9"/><use href="#k1" fill="#bdd719" stroke="#fff" stroke-width="0.9"/><use href="#k4" fill="#f4d81c" stroke="#fff" stroke-width="0.9"/><use href="#k8" fill="#444eaa" stroke="#fff" stroke-width="0.9"/><use href="#k0" fill="#f4d81c" stroke="#fff" stroke-width="0.9"/><use href="#k32" fill="#444eaa" stroke="#fff" stroke-width="0.9"/><use href="#k33" fill="#f4d81c" stroke="#fff" stroke-width="0.9"/><use href="#k34" fill="#f4d81c" stroke="#fff" stroke-width="0.9"/></g></g><text x="243.8" y="1334" font-size="20" text-anchor="end">IRF4</text><g transform="translate(328.4 1308.5)"><g filter="url(#rough2)"><use href="#k35" fill="#bdd719" stroke="#fff" stroke-width="0.9"/><use href="#k23" fill="url(#gBG)" stroke="#fff" stroke-width="0.9"/><use href="#k10b" fill="url(#gGY)" stroke="#fff" stroke-width="0.9"/><use href="#k9" fill="url(#gBGv)" stroke="#fff" stroke-width="0.9"/><use href="#k10a" fill="#444eaa" stroke="#fff" stroke-width="0.9"/><use href="#k20" fill="url(#gGY)" stroke="#fff" stroke-width="0.9"/><use href="#k16" fill="url(#gGY)" stroke="#fff" stroke-width="0.9"/><use href="#k22" fill="#f3c81f" stroke="#fff" stroke-width="0.9"/><use href="#k28" fill="url(#gGY)" stroke="#fff" stroke-width="0.9"/><use href="#k27" fill="#444eaa" stroke="#fff" stroke-width="0.9"/><use href="#k24" fill="#f3c81f" stroke="#fff" stroke-width="0.9"/><use href="#k25" fill="#f29a1f" stroke="#fff" stroke-width="0.9"/><use href="#k21" fill="#bdd719" stroke="#fff" stroke-width="0.9"/><use href="#k19" fill="#bdd719" stroke="#fff" stroke-width="0.9"/><use href="#k18" fill="#444eaa" stroke="#fff" stroke-width="0.9"/><use href="#k17" fill="#444eaa" stroke="#fff" stroke-width="0.9"/><use href="#k12" fill="url(#gBGv)" stroke="#fff" stroke-width="0.9"/><use href="#k26" fill="#bdd719" stroke="#fff" stroke-width="0.9"/><use href="#k5" fill="#f3de1a" stroke="#fff" stroke-width="0.9"/><use href="#k3" fill="#444eaa" stroke="#fff" stroke-width="0.9"/><use href="#k2" fill="#444eaa" stroke="#fff" stroke-width="0.9"/><use href="#k15" fill="#f3de1a" stroke="#fff" stroke-width="0.9"/><use href="#k29" fill="#e3481a" stroke="#fff" stroke-width="0.9"/><use href="#k30" fill="#e3481a" stroke="#fff" stroke-width="0.9"/><use href="#k31" fill="#bdd719" stroke="#fff" stroke-width="0.9"/><use href="#k6" fill="#444eaa" stroke="#fff" stroke-width="0.9"/><use href="#k7" fill="#f3c81f" stroke="#fff" stroke-width="0.9"/><use href="#k14" fill="#f29a1f" stroke="#fff" stroke-width="0.9"/><use href="#k11" fill="#6cc12a" stroke="#fff" stroke-width="0.9"/><use href="#k13" fill="#bdd719" stroke="#fff" stroke-width="0.9"/><use href="#k1" fill="#bdd719" stroke="#fff" stroke-width="0.9"/><use href="#k4" fill="#444eaa" stroke="#fff" stroke-width="0.9"/><use href="#k8" fill="#bdd719" stroke="#fff" stroke-width="0.9"/><use href="#k0" fill="#444eaa" stroke="#fff" stroke-width="0.9"/><use href="#k32" fill="#f29a1f" stroke="#fff" stroke-width="0.9"/><use href="#k33" fill="#444eaa" stroke="#fff" stroke-width="0.9"/><use href="#k34" fill="#444eaa" stroke="#fff" stroke-width="0.9"/></g></g><text x="510.1" y="1334" font-size="20" text-anchor="end">Blimp-1</text><g transform="translate(596.4 1308.5)"><g filter="url(#rough2)"><use href="#k35" fill="#bdd719" stroke="#fff" stroke-width="0.9"/><use href="#k23" fill="#444eaa" stroke="#fff" stroke-width="0.9"/><use href="#k10b" fill="#444eaa" stroke="#fff" stroke-width="0.9"/><use href="#k9" fill="#bdd719" stroke="#fff" stroke-width="0.9"/><use href="#k10a" fill="#444eaa" stroke="#fff" stroke-width="0.9"/><use href="#k20" fill="#bdd719" stroke="#fff" stroke-width="0.9"/><use href="#k16" fill="#444eaa" stroke="#fff" stroke-width="0.9"/><use href="#k22" fill="#f3c81f" stroke="#fff" stroke-width="0.9"/><use href="#k28" fill="#bdd719" stroke="#fff" stroke-width="0.9"/><use href="#k27" fill="#bdd719" stroke="#fff" stroke-width="0.9"/><use href="#k24" fill="#bdd719" stroke="#fff" stroke-width="0.9"/><use href="#k25" fill="#f29a1f" stroke="#fff" stroke-width="0.9"/><use href="#k21" fill="#6cc12a" stroke="#fff" stroke-width="0.9"/><use href="#k19" fill="#bdd719" stroke="#fff" stroke-width="0.9"/><use href="#k18" fill="#bdd719" stroke="#fff" stroke-width="0.9"/><use href="#k17" fill="#444eaa" stroke="#fff" stroke-width="0.9"/><use href="#k12" fill="#444eaa" stroke="#fff" stroke-width="0.9"/><use href="#k26" fill="#444eaa" stroke="#fff" stroke-width="0.9"/><use href="#k5" fill="#444eaa" stroke="#fff" stroke-width="0.9"/><use href="#k3" fill="#bdd719" stroke="#fff" stroke-width="0.9"/><use href="#k2" fill="#bdd719" stroke="#fff" stroke-width="0.9"/><use href="#k15" fill="#444eaa" stroke="#fff" stroke-width="0.9"/><use href="#k29" fill="#f29a1f" stroke="#fff" stroke-width="0.9"/><use href="#k30" fill="#f29a1f" stroke="#fff" stroke-width="0.9"/><use href="#k31" fill="#bdd719" stroke="#fff" stroke-width="0.9"/><use href="#k6" fill="#6cc12a" stroke="#fff" stroke-width="0.9"/><use href="#k7" fill="#444eaa" stroke="#fff" stroke-width="0.9"/><use href="#k14" fill="#f3c81f" stroke="#fff" stroke-width="0.9"/><use href="#k11" fill="#f3c81f" stroke="#fff" stroke-width="0.9"/><use href="#k13" fill="#444eaa" stroke="#fff" stroke-width="0.9"/><use href="#k1" fill="#444eaa" stroke="#fff" stroke-width="0.9"/><use href="#k4" fill="#bdd719" stroke="#fff" stroke-width="0.9"/><use href="#k8" fill="#444eaa" stroke="#fff" stroke-width="0.9"/><use href="#k0" fill="#444eaa" stroke="#fff" stroke-width="0.9"/><use href="#k32" fill="#444eaa" stroke="#fff" stroke-width="0.9"/><use href="#k33" fill="#bdd719" stroke="#fff" stroke-width="0.9"/><use href="#k34" fill="#bdd719" stroke="#fff" stroke-width="0.9"/></g></g><text x="778.1" y="1334" font-size="20" text-anchor="end">CD71</text><g transform="translate(862 1308.5)"><g filter="url(#rough2)"><use href="#k35" fill="#444eaa" stroke="#fff" stroke-width="0.9"/><use href="#k23" fill="#444eaa" stroke="#fff" stroke-width="0.9"/><use href="#k10b" fill="#444eaa" stroke="#fff" stroke-width="0.9"/><use href="#k9" fill="#444eaa" stroke="#fff" stroke-width="0.9"/><use href="#k10a" fill="#444eaa" stroke="#fff" stroke-width="0.9"/><use href="#k20" fill="#444eaa" stroke="#fff" stroke-width="0.9"/><use href="#k16" fill="#444eaa" stroke="#fff" stroke-width="0.9"/><use href="#k22" fill="#444eaa" stroke="#fff" stroke-width="0.9"/><use href="#k28" fill="#444eaa" stroke="#fff" stroke-width="0.9"/><use href="#k27" fill="#444eaa" stroke="#fff" stroke-width="0.9"/><use href="#k24" fill="#f29a1f" stroke="#fff" stroke-width="0.9"/><use href="#k25" fill="#f29a1f" stroke="#fff" stroke-width="0.9"/><use href="#k21" fill="#444eaa" stroke="#fff" stroke-width="0.9"/><use href="#k19" fill="#444eaa" stroke="#fff" stroke-width="0.9"/><use href="#k18" fill="#444eaa" stroke="#fff" stroke-width="0.9"/><use href="#k17" fill="#444eaa" stroke="#fff" stroke-width="0.9"/><use href="#k12" fill="#444eaa" stroke="#fff" stroke-width="0.9"/><use href="#k26" fill="#444eaa" stroke="#fff" stroke-width="0.9"/><use href="#k5" fill="#444eaa" stroke="#fff" stroke-width="0.9"/><use href="#k3" fill="#bdd719" stroke="#fff" stroke-width="0.9"/><use href="#k2" fill="#444eaa" stroke="#fff" stroke-width="0.9"/><use href="#k15" fill="#f29a1f" stroke="#fff" stroke-width="0.9"/><use href="#k29" fill="#444eaa" stroke="#fff" stroke-width="0.9"/><use href="#k30" fill="#bdd719" stroke="#fff" stroke-width="0.9"/><use href="#k31" fill="#444eaa" stroke="#fff" stroke-width="0.9"/><use href="#k6" fill="#444eaa" stroke="#fff" stroke-width="0.9"/><use href="#k7" fill="#444eaa" stroke="#fff" stroke-width="0.9"/><use href="#k14" fill="#f29a1f" stroke="#fff" stroke-width="0.9"/><use href="#k11" fill="#444eaa" stroke="#fff" stroke-width="0.9"/><use href="#k13" fill="#444eaa" stroke="#fff" stroke-width="0.9"/><use href="#k1" fill="#444eaa" stroke="#fff" stroke-width="0.9"/><use href="#k4" fill="#444eaa" stroke="#fff" stroke-width="0.9"/><use href="#k8" fill="#444eaa" stroke="#fff" stroke-width="0.9"/><use href="#k0" fill="#444eaa" stroke="#fff" stroke-width="0.9"/><use href="#k32" fill="#f3de1a" stroke="#fff" stroke-width="0.9"/><use href="#k33" fill="#f29a1f" stroke="#fff" stroke-width="0.9"/><use href="#k34" fill="#444eaa" stroke="#fff" stroke-width="0.9"/></g></g><text x="1043.7" y="1334" font-size="20" text-anchor="end">IgG</text><g transform="translate(62.1 1585.8)"><g filter="url(#rough2)"><use href="#k35" fill="#bdd719" stroke="#fff" stroke-width="0.9"/><use href="#k23" fill="#bdd719" stroke="#fff" stroke-width="0.9"/><use href="#k10b" fill="#bdd719" stroke="#fff" stroke-width="0.9"/><use href="#k9" fill="#bdd719" stroke="#fff" stroke-width="0.9"/><use href="#k10a" fill="#bdd719" stroke="#fff" stroke-width="0.9"/><use href="#k20" fill="#bdd719" stroke="#fff" stroke-width="0.9"/><use href="#k16" fill="#bdd719" stroke="#fff" stroke-width="0.9"/><use href="#k22" fill="#f3de1a" stroke="#fff" stroke-width="0.9"/><use href="#k28" fill="#bdd719" stroke="#fff" stroke-width="0.9"/><use href="#k27" fill="#bdd719" stroke="#fff" stroke-width="0.9"/><use href="#k24" fill="#bdd719" stroke="#fff" stroke-width="0.9"/><use href="#k25" fill="#f3de1a" stroke="#fff" stroke-width="0.9"/><use href="#k21" fill="#bdd719" stroke="#fff" stroke-width="0.9"/><use href="#k19" fill="#bdd719" stroke="#fff" stroke-width="0.9"/><use href="#k18" fill="#bdd719" stroke="#fff" stroke-width="0.9"/><use href="#k17" fill="#bdd719" stroke="#fff" stroke-width="0.9"/><use href="#k12" fill="#bdd719" stroke="#fff" stroke-width="0.9"/><use href="#k26" fill="#bdd719" stroke="#fff" stroke-width="0.9"/><use href="#k5" fill="#bdd719" stroke="#fff" stroke-width="0.9"/><use href="#k3" fill="#bdd719" stroke="#fff" stroke-width="0.9"/><use href="#k2" fill="#bdd719" stroke="#fff" stroke-width="0.9"/><use href="#k15" fill="#bdd719" stroke="#fff" stroke-width="0.9"/><use href="#k29" fill="#e3481a" stroke="#fff" stroke-width="0.9"/><use href="#k30" fill="#f29a1f" stroke="#fff" stroke-width="0.9"/><use href="#k31" fill="#bdd719" stroke="#fff" stroke-width="0.9"/><use href="#k6" fill="#bdd719" stroke="#fff" stroke-width="0.9"/><use href="#k7" fill="#bdd719" stroke="#fff" stroke-width="0.9"/><use href="#k14" fill="#bdd719" stroke="#fff" stroke-width="0.9"/><use href="#k11" fill="#bdd719" stroke="#fff" stroke-width="0.9"/><use href="#k13" fill="#bdd719" stroke="#fff" stroke-width="0.9"/><use href="#k1" fill="#bdd719" stroke="#fff" stroke-width="0.9"/><use href="#k4" fill="#bdd719" stroke="#fff" stroke-width="0.9"/><use href="#k8" fill="#bdd719" stroke="#fff" stroke-width="0.9"/><use href="#k0" fill="#bdd719" stroke="#fff" stroke-width="0.9"/><use href="#k32" fill="#bdd719" stroke="#fff" stroke-width="0.9"/><use href="#k33" fill="#bdd719" stroke="#fff" stroke-width="0.9"/><use href="#k34" fill="#bdd719" stroke="#fff" stroke-width="0.9"/></g></g><text x="243.8" y="1611.3" font-size="20" text-anchor="end">CD38</text><g transform="translate(328.4 1585.8)"><g filter="url(#rough2)"><use href="#k35" fill="#f3c81f" stroke="#fff" stroke-width="0.9"/><use href="#k23" fill="url(#gYGY)" stroke="#fff" stroke-width="0.9"/><use href="#k10b" fill="url(#gYGYO)" stroke="#fff" stroke-width="0.9"/><use href="#k9" fill="url(#gYOO)" stroke="#fff" stroke-width="0.9"/><use href="#k10a" fill="#bdd719" stroke="#fff" stroke-width="0.9"/><use href="#k20" fill="#bdd719" stroke="#fff" stroke-width="0.9"/><use href="#k16" fill="#444eaa" stroke="#fff" stroke-width="0.9"/><use href="#k22" fill="#f3c81f" stroke="#fff" stroke-width="0.9"/><use href="#k28" fill="#f29a1f" stroke="#fff" stroke-width="0.9"/><use href="#k27" fill="#f3c81f" stroke="#fff" stroke-width="0.9"/><use href="#k24" fill="#f3c81f" stroke="#fff" stroke-width="0.9"/><use href="#k25" fill="#f29a1f" stroke="#fff" stroke-width="0.9"/><use href="#k21" fill="#f3c81f" stroke="#fff" stroke-width="0.9"/><use href="#k19" fill="#f3c81f" stroke="#fff" stroke-width="0.9"/><use href="#k18" fill="#bdd719" stroke="#fff" stroke-width="0.9"/><use href="#k17" fill="#444eaa" stroke="#fff" stroke-width="0.9"/><use href="#k12" fill="#444eaa" stroke="#fff" stroke-width="0.9"/><use href="#k26" fill="#444eaa" stroke="#fff" stroke-width="0.9"/><use href="#k5" fill="#f29a1f" stroke="#fff" stroke-width="0.9"/><use href="#k3" fill="#bdd719" stroke="#fff" stroke-width="0.9"/><use href="#k2" fill="#f3c81f" stroke="#fff" stroke-width="0.9"/><use href="#k15" fill="#f3c81f" stroke="#fff" stroke-width="0.9"/><use href="#k29" fill="#6cc12a" stroke="#fff" stroke-width="0.9"/><use href="#k30" fill="url(#gBG)" stroke="#fff" stroke-width="0.9"/><use href="#k31" fill="#bdd719" stroke="#fff" stroke-width="0.9"/><use href="#k6" fill="#444eaa" stroke="#fff" stroke-width="0.9"/><use href="#k7" fill="#f3c81f" stroke="#fff" stroke-width="0.9"/><use href="#k14" fill="#f3c81f" stroke="#fff" stroke-width="0.9"/><use href="#k11" fill="#f3c81f" stroke="#fff" stroke-width="0.9"/><use href="#k13" fill="#f3c81f" stroke="#fff" stroke-width="0.9"/><use href="#k1" fill="#bdd719" stroke="#fff" stroke-width="0.9"/><use href="#k4" fill="#f3c81f" stroke="#fff" stroke-width="0.9"/><use href="#k8" fill="#444eaa" stroke="#fff" stroke-width="0.9"/><use href="#k0" fill="#bdd719" stroke="#fff" stroke-width="0.9"/><use href="#k32" fill="#444eaa" stroke="#fff" stroke-width="0.9"/><use href="#k33" fill="#f29a1f" stroke="#fff" stroke-width="0.9"/><use href="#k34" fill="#f3c81f" stroke="#fff" stroke-width="0.9"/></g></g><text x="510.1" y="1611.3" font-size="20" text-anchor="end">CD24</text><g transform="translate(596.4 1585.8)"><g filter="url(#rough2)"><use href="#k35" fill="#bdd719" stroke="#fff" stroke-width="0.9"/><use href="#k23" fill="#444eaa" stroke="#fff" stroke-width="0.9"/><use href="#k10b" fill="url(#gYGY)" stroke="#fff" stroke-width="0.9"/><use href="#k9" fill="#444eaa" stroke="#fff" stroke-width="0.9"/><use href="#k10a" fill="#bdd719" stroke="#fff" stroke-width="0.9"/><use href="#k20" fill="#444eaa" stroke="#fff" stroke-width="0.9"/><use href="#k16" fill="#bdd719" stroke="#fff" stroke-width="0.9"/><use href="#k22" fill="#f3c81f" stroke="#fff" stroke-width="0.9"/><use href="#k28" fill="#bdd719" stroke="#fff" stroke-width="0.9"/><use href="#k27" fill="#bdd719" stroke="#fff" stroke-width="0.9"/><use href="#k24" fill="#f29a1f" stroke="#fff" stroke-width="0.9"/><use href="#k25" fill="#f29a1f" stroke="#fff" stroke-width="0.9"/><use href="#k21" fill="#bdd719" stroke="#fff" stroke-width="0.9"/><use href="#k19" fill="#444eaa" stroke="#fff" stroke-width="0.9"/><use href="#k18" fill="#444eaa" stroke="#fff" stroke-width="0.9"/><use href="#k17" fill="#444eaa" stroke="#fff" stroke-width="0.9"/><use href="#k12" fill="#bdd719" stroke="#fff" stroke-width="0.9"/><use href="#k26" fill="#444eaa" stroke="#fff" stroke-width="0.9"/><use href="#k5" fill="#f3c81f" stroke="#fff" stroke-width="0.9"/><use href="#k3" fill="#444eaa" stroke="#fff" stroke-width="0.9"/><use href="#k2" fill="#444eaa" stroke="#fff" stroke-width="0.9"/><use href="#k15" fill="#f3c81f" stroke="#fff" stroke-width="0.9"/><use href="#k29" fill="#e3481a" stroke="#fff" stroke-width="0.9"/><use href="#k30" fill="#e3481a" stroke="#fff" stroke-width="0.9"/><use href="#k31" fill="#444eaa" stroke="#fff" stroke-width="0.9"/><use href="#k6" fill="#444eaa" stroke="#fff" stroke-width="0.9"/><use href="#k7" fill="#444eaa" stroke="#fff" stroke-width="0.9"/><use href="#k14" fill="#444eaa" stroke="#fff" stroke-width="0.9"/><use href="#k11" fill="#f3c81f" stroke="#fff" stroke-width="0.9"/><use href="#k13" fill="#444eaa" stroke="#fff" stroke-width="0.9"/><use href="#k1" fill="#f3de1a" stroke="#fff" stroke-width="0.9"/><use href="#k4" fill="#444eaa" stroke="#fff" stroke-width="0.9"/><use href="#k8" fill="#bdd719" stroke="#fff" stroke-width="0.9"/><use href="#k0" fill="#f3de1a" stroke="#fff" stroke-width="0.9"/><use href="#k32" fill="#444eaa" stroke="#fff" stroke-width="0.9"/><use href="#k33" fill="#f29a1f" stroke="#fff" stroke-width="0.9"/><use href="#k34" fill="#f3de1a" stroke="#fff" stroke-width="0.9"/></g></g><text x="778.1" y="1611.3" font-size="20" text-anchor="end">CD27</text><g transform="translate(862 1585.8)"><g filter="url(#rough2)"><use href="#k35" fill="#f3c81f" stroke="#fff" stroke-width="0.9"/><use href="#k23" fill="#f29a1f" stroke="#fff" stroke-width="0.9"/><use href="#k10b" fill="url(#gYGO)" stroke="#fff" stroke-width="0.9"/><use href="#k9" fill="url(#gOYG)" stroke="#fff" stroke-width="0.9"/><use href="#k10a" fill="#f3c81f" stroke="#fff" stroke-width="0.9"/><use href="#k20" fill="#f3de1a" stroke="#fff" stroke-width="0.9"/><use href="#k16" fill="#f3c81f" stroke="#fff" stroke-width="0.9"/><use href="#k22" fill="#bdd719" stroke="#fff" stroke-width="0.9"/><use href="#k28" fill="#f3c81f" stroke="#fff" stroke-width="0.9"/><use href="#k27" fill="#f29a1f" stroke="#fff" stroke-width="0.9"/><use href="#k24" fill="#bdd719" stroke="#fff" stroke-width="0.9"/><use href="#k25" fill="#bdd719" stroke="#fff" stroke-width="0.9"/><use href="#k21" fill="#f3c81f" stroke="#fff" stroke-width="0.9"/><use href="#k19" fill="#f3c81f" stroke="#fff" stroke-width="0.9"/><use href="#k18" fill="#bdd719" stroke="#fff" stroke-width="0.9"/><use href="#k17" fill="#f29a1f" stroke="#fff" stroke-width="0.9"/><use href="#k12" fill="#444eaa" stroke="#fff" stroke-width="0.9"/><use href="#k26" fill="#f29a1f" stroke="#fff" stroke-width="0.9"/><use href="#k5" fill="#bdd719" stroke="#fff" stroke-width="0.9"/><use href="#k3" fill="#f3de1a" stroke="#fff" stroke-width="0.9"/><use href="#k2" fill="#f29a1f" stroke="#fff" stroke-width="0.9"/><use href="#k15" fill="#bdd719" stroke="#fff" stroke-width="0.9"/><use href="#k29" fill="#bdd719" stroke="#fff" stroke-width="0.9"/><use href="#k30" fill="#bdd719" stroke="#fff" stroke-width="0.9"/><use href="#k31" fill="#444eaa" stroke="#fff" stroke-width="0.9"/><use href="#k6" fill="#f3c81f" stroke="#fff" stroke-width="0.9"/><use href="#k7" fill="#f29a1f" stroke="#fff" stroke-width="0.9"/><use href="#k14" fill="#bdd719" stroke="#fff" stroke-width="0.9"/><use href="#k11" fill="#f29a1f" stroke="#fff" stroke-width="0.9"/><use href="#k13" fill="#f29a1f" stroke="#fff" stroke-width="0.9"/><use href="#k1" fill="#444eaa" stroke="#fff" stroke-width="0.9"/><use href="#k4" fill="#e3481a" stroke="#fff" stroke-width="0.9"/><use href="#k8" fill="#bdd719" stroke="#fff" stroke-width="0.9"/><use href="#k0" fill="#444eaa" stroke="#fff" stroke-width="0.9"/><use href="#k32" fill="#bdd719" stroke="#fff" stroke-width="0.9"/><use href="#k33" fill="#bdd719" stroke="#fff" stroke-width="0.9"/><use href="#k34" fill="#444eaa" stroke="#fff" stroke-width="0.9"/></g></g><text x="1043.7" y="1611.3" font-size="20" text-anchor="end">IgM</text><rect x="62.1" y="1032.5" width="190.2" height="189.3" fill="none" stroke="#8c8c8c" stroke-width="1.2"/><path d="M63.51 1221.8v4.5M72.09 1221.8v2.5M80.66 1221.8v2.5M89.24 1221.8v2.5M97.82 1221.8v4.5M106.4 1221.8v2.5M114.98 1221.8v2.5M123.55 1221.8v2.5M132.13 1221.8v4.5M140.71 1221.8v2.5M149.29 1221.8v2.5M157.87 1221.8v2.5M166.44 1221.8v4.5M175.02 1221.8v2.5M183.6 1221.8v2.5M192.18 1221.8v2.5M200.76 1221.8v4.5M209.33 1221.8v2.5M217.91 1221.8v2.5M226.49 1221.8v2.5M235.07 1221.8v4.5M243.65 1221.8v2.5M62.1 1218.03h-2.5M62.1 1202.49h-4.5M62.1 1186.95h-2.5M62.1 1171.41h-2.5M62.1 1155.87h-4.5M62.1 1140.33h-2.5M62.1 1124.78h-2.5M62.1 1109.24h-4.5M62.1 1093.7h-2.5M62.1 1078.16h-2.5M62.1 1062.62h-4.5M62.1 1047.08h-2.5" fill="none" stroke="#000" stroke-width="1"/><text x="63.51" y="1234.8" font-size="7" text-anchor="middle">0</text><text x="97.82" y="1234.8" font-size="7" text-anchor="middle">2.0K</text><text x="132.13" y="1234.8" font-size="7" text-anchor="middle">4.0K</text><text x="166.44" y="1234.8" font-size="7" text-anchor="middle">6.0K</text><text x="200.76" y="1234.8" font-size="7" text-anchor="middle">8.0K</text><text x="235.07" y="1234.8" font-size="7" text-anchor="middle">10K</text><text x="55.1" y="1204.99" font-size="7" text-anchor="end">0</text><text x="55.1" y="1158.37" font-size="7" text-anchor="end">3.0K</text><text x="55.1" y="1111.74" font-size="7" text-anchor="end">6.0K</text><text x="55.1" y="1065.12" font-size="7" text-anchor="end">9.0K</text><text transform="translate(15.6 1117.15) rotate(-90)" font-size="20" text-anchor="middle">tSNE 2</text><text x="165.2" y="1266.3" font-size="20" text-anchor="middle">tSNE 1</text><rect x="328.4" y="1032.5" width="190.2" height="189.3" fill="none" stroke="#8c8c8c" stroke-width="1.2"/><path d="M329.81 1221.8v4.5M338.39 1221.8v2.5M346.96 1221.8v2.5M355.54 1221.8v2.5M364.12 1221.8v4.5M372.7 1221.8v2.5M381.28 1221.8v2.5M389.85 1221.8v2.5M398.43 1221.8v4.5M407.01 1221.8v2.5M415.59 1221.8v2.5M424.17 1221.8v2.5M432.74 1221.8v4.5M441.32 1221.8v2.5M449.9 1221.8v2.5M458.48 1221.8v2.5M467.06 1221.8v4.5M475.63 1221.8v2.5M484.21 1221.8v2.5M492.79 1221.8v2.5M501.37 1221.8v4.5M509.95 1221.8v2.5M328.4 1218.03h-2.5M328.4 1202.49h-4.5M328.4 1186.95h-2.5M328.4 1171.41h-2.5M328.4 1155.87h-4.5M328.4 1140.33h-2.5M328.4 1124.78h-2.5M328.4 1109.24h-4.5M328.4 1093.7h-2.5M328.4 1078.16h-2.5M328.4 1062.62h-4.5M328.4 1047.08h-2.5" fill="none" stroke="#000" stroke-width="1"/><text x="329.81" y="1234.8" font-size="7" text-anchor="middle">0</text><text x="364.12" y="1234.8" font-size="7" text-anchor="middle">2.0K</text><text x="398.43" y="1234.8" font-size="7" text-anchor="middle">4.0K</text><text x="432.74" y="1234.8" font-size="7" text-anchor="middle">6.0K</text><text x="467.06" y="1234.8" font-size="7" text-anchor="middle">8.0K</text><text x="501.37" y="1234.8" font-size="7" text-anchor="middle">10K</text><text x="321.4" y="1204.99" font-size="7" text-anchor="end">0</text><text x="321.4" y="1158.37" font-size="7" text-anchor="end">3.0K</text><text x="321.4" y="1111.74" font-size="7" text-anchor="end">6.0K</text><text x="321.4" y="1065.12" font-size="7" text-anchor="end">9.0K</text><text transform="translate(281.9 1117.15) rotate(-90)" font-size="20" text-anchor="middle">tSNE 2</text><text x="431.5" y="1266.3" font-size="20" text-anchor="middle">tSNE 1</text><rect x="596.4" y="1032.5" width="190.2" height="189.3" fill="none" stroke="#8c8c8c" stroke-width="1.2"/><path d="M597.81 1221.8v4.5M606.39 1221.8v2.5M614.96 1221.8v2.5M623.54 1221.8v2.5M632.12 1221.8v4.5M640.7 1221.8v2.5M649.28 1221.8v2.5M657.85 1221.8v2.5M666.43 1221.8v4.5M675.01 1221.8v2.5M683.59 1221.8v2.5M692.17 1221.8v2.5M700.74 1221.8v4.5M709.32 1221.8v2.5M717.9 1221.8v2.5M726.48 1221.8v2.5M735.06 1221.8v4.5M743.63 1221.8v2.5M752.21 1221.8v2.5M760.79 1221.8v2.5M769.37 1221.8v4.5M777.95 1221.8v2.5M596.4 1218.03h-2.5M596.4 1202.49h-4.5M596.4 1186.95h-2.5M596.4 1171.41h-2.5M596.4 1155.87h-4.5M596.4 1140.33h-2.5M596.4 1124.78h-2.5M596.4 1109.24h-4.5M596.4 1093.7h-2.5M596.4 1078.16h-2.5M596.4 1062.62h-4.5M596.4 1047.08h-2.5" fill="none" stroke="#000" stroke-width="1"/><text x="597.81" y="1234.8" font-size="7" text-anchor="middle">0</text><text x="632.12" y="1234.8" font-size="7" text-anchor="middle">2.0K</text><text x="666.43" y="1234.8" font-size="7" text-anchor="middle">4.0K</text><text x="700.74" y="1234.8" font-size="7" text-anchor="middle">6.0K</text><text x="735.06" y="1234.8" font-size="7" text-anchor="middle">8.0K</text><text x="769.37" y="1234.8" font-size="7" text-anchor="middle">10K</text><text x="589.4" y="1204.99" font-size="7" text-anchor="end">0</text><text x="589.4" y="1158.37" font-size="7" text-anchor="end">3.0K</text><text x="589.4" y="1111.74" font-size="7" text-anchor="end">6.0K</text><text x="589.4" y="1065.12" font-size="7" text-anchor="end">9.0K</text><text transform="translate(549.9 1117.15) rotate(-90)" font-size="20" text-anchor="middle">tSNE 2</text><text x="699.5" y="1266.3" font-size="20" text-anchor="middle">tSNE 1</text><rect x="862" y="1032.5" width="190.2" height="189.3" fill="none" stroke="#8c8c8c" stroke-width="1.2"/><path d="M863.41 1221.8v4.5M871.99 1221.8v2.5M880.56 1221.8v2.5M889.14 1221.8v2.5M897.72 1221.8v4.5M906.3 1221.8v2.5M914.88 1221.8v2.5M923.45 1221.8v2.5M932.03 1221.8v4.5M940.61 1221.8v2.5M949.19 1221.8v2.5M957.77 1221.8v2.5M966.34 1221.8v4.5M974.92 1221.8v2.5M983.5 1221.8v2.5M992.08 1221.8v2.5M1000.66 1221.8v4.5M1009.23 1221.8v2.5M1017.81 1221.8v2.5M1026.39 1221.8v2.5M1034.97 1221.8v4.5M1043.55 1221.8v2.5M862 1218.03h-2.5M862 1202.49h-4.5M862 1186.95h-2.5M862 1171.41h-2.5M862 1155.87h-4.5M862 1140.33h-2.5M862 1124.78h-2.5M862 1109.24h-4.5M862 1093.7h-2.5M862 1078.16h-2.5M862 1062.62h-4.5M862 1047.08h-2.5" fill="none" stroke="#000" stroke-width="1"/><text x="863.41" y="1234.8" font-size="7" text-anchor="middle">0</text><text x="897.72" y="1234.8" font-size="7" text-anchor="middle">2.0K</text><text x="932.03" y="1234.8" font-size="7" text-anchor="middle">4.0K</text><text x="966.34" y="1234.8" font-size="7" text-anchor="middle">6.0K</text><text x="1000.66" y="1234.8" font-size="7" text-anchor="middle">8.0K</text><text x="1034.97" y="1234.8" font-size="7" text-anchor="middle">10K</text><text x="855" y="1204.99" font-size="7" text-anchor="end">0</text><text x="855" y="1158.37" font-size="7" text-anchor="end">3.0K</text><text x="855" y="1111.74" font-size="7" text-anchor="end">6.0K</text><text x="855" y="1065.12" font-size="7" text-anchor="end">9.0K</text><text transform="translate(815.5 1117.15) rotate(-90)" font-size="20" text-anchor="middle">tSNE 2</text><text x="965.1" y="1266.3" font-size="20" text-anchor="middle">tSNE 1</text><rect x="62.1" y="1308.5" width="190.2" height="189.3" fill="none" stroke="#8c8c8c" stroke-width="1.2"/><path d="M63.51 1497.8v4.5M72.09 1497.8v2.5M80.66 1497.8v2.5M89.24 1497.8v2.5M97.82 1497.8v4.5M106.4 1497.8v2.5M114.98 1497.8v2.5M123.55 1497.8v2.5M132.13 1497.8v4.5M140.71 1497.8v2.5M149.29 1497.8v2.5M157.87 1497.8v2.5M166.44 1497.8v4.5M175.02 1497.8v2.5M183.6 1497.8v2.5M192.18 1497.8v2.5M200.76 1497.8v4.5M209.33 1497.8v2.5M217.91 1497.8v2.5M226.49 1497.8v2.5M235.07 1497.8v4.5M243.65 1497.8v2.5M62.1 1494.03h-2.5M62.1 1478.49h-4.5M62.1 1462.95h-2.5M62.1 1447.41h-2.5M62.1 1431.87h-4.5M62.1 1416.33h-2.5M62.1 1400.78h-2.5M62.1 1385.24h-4.5M62.1 1369.7h-2.5M62.1 1354.16h-2.5M62.1 1338.62h-4.5M62.1 1323.08h-2.5" fill="none" stroke="#000" stroke-width="1"/><text x="63.51" y="1510.8" font-size="7" text-anchor="middle">0</text><text x="97.82" y="1510.8" font-size="7" text-anchor="middle">2.0K</text><text x="132.13" y="1510.8" font-size="7" text-anchor="middle">4.0K</text><text x="166.44" y="1510.8" font-size="7" text-anchor="middle">6.0K</text><text x="200.76" y="1510.8" font-size="7" text-anchor="middle">8.0K</text><text x="235.07" y="1510.8" font-size="7" text-anchor="middle">10K</text><text x="55.1" y="1480.99" font-size="7" text-anchor="end">0</text><text x="55.1" y="1434.37" font-size="7" text-anchor="end">3.0K</text><text x="55.1" y="1387.74" font-size="7" text-anchor="end">6.0K</text><text x="55.1" y="1341.12" font-size="7" text-anchor="end">9.0K</text><text transform="translate(15.6 1393.15) rotate(-90)" font-size="20" text-anchor="middle">tSNE 2</text><text x="165.2" y="1542.3" font-size="20" text-anchor="middle">tSNE 1</text><rect x="328.4" y="1308.5" width="190.2" height="189.3" fill="none" stroke="#8c8c8c" stroke-width="1.2"/><path d="M329.81 1497.8v4.5M338.39 1497.8v2.5M346.96 1497.8v2.5M355.54 1497.8v2.5M364.12 1497.8v4.5M372.7 1497.8v2.5M381.28 1497.8v2.5M389.85 1497.8v2.5M398.43 1497.8v4.5M407.01 1497.8v2.5M415.59 1497.8v2.5M424.17 1497.8v2.5M432.74 1497.8v4.5M441.32 1497.8v2.5M449.9 1497.8v2.5M458.48 1497.8v2.5M467.06 1497.8v4.5M475.63 1497.8v2.5M484.21 1497.8v2.5M492.79 1497.8v2.5M501.37 1497.8v4.5M509.95 1497.8v2.5M328.4 1494.03h-2.5M328.4 1478.49h-4.5M328.4 1462.95h-2.5M328.4 1447.41h-2.5M328.4 1431.87h-4.5M328.4 1416.33h-2.5M328.4 1400.78h-2.5M328.4 1385.24h-4.5M328.4 1369.7h-2.5M328.4 1354.16h-2.5M328.4 1338.62h-4.5M328.4 1323.08h-2.5" fill="none" stroke="#000" stroke-width="1"/><text x="329.81" y="1510.8" font-size="7" text-anchor="middle">0</text><text x="364.12" y="1510.8" font-size="7" text-anchor="middle">2.0K</text><text x="398.43" y="1510.8" font-size="7" text-anchor="middle">4.0K</text><text x="432.74" y="1510.8" font-size="7" text-anchor="middle">6.0K</text><text x="467.06" y="1510.8" font-size="7" text-anchor="middle">8.0K</text><text x="501.37" y="1510.8" font-size="7" text-anchor="middle">10K</text><text x="321.4" y="1480.99" font-size="7" text-anchor="end">0</text><text x="321.4" y="1434.37" font-size="7" text-anchor="end">3.0K</text><text x="321.4" y="1387.74" font-size="7" text-anchor="end">6.0K</text><text x="321.4" y="1341.12" font-size="7" text-anchor="end">9.0K</text><text transform="translate(281.9 1393.15) rotate(-90)" font-size="20" text-anchor="middle">tSNE 2</text><text x="431.5" y="1542.3" font-size="20" text-anchor="middle">tSNE 1</text><rect x="596.4" y="1308.5" width="190.2" height="189.3" fill="none" stroke="#8c8c8c" stroke-width="1.2"/><path d="M597.81 1497.8v4.5M606.39 1497.8v2.5M614.96 1497.8v2.5M623.54 1497.8v2.5M632.12 1497.8v4.5M640.7 1497.8v2.5M649.28 1497.8v2.5M657.85 1497.8v2.5M666.43 1497.8v4.5M675.01 1497.8v2.5M683.59 1497.8v2.5M692.17 1497.8v2.5M700.74 1497.8v4.5M709.32 1497.8v2.5M717.9 1497.8v2.5M726.48 1497.8v2.5M735.06 1497.8v4.5M743.63 1497.8v2.5M752.21 1497.8v2.5M760.79 1497.8v2.5M769.37 1497.8v4.5M777.95 1497.8v2.5M596.4 1494.03h-2.5M596.4 1478.49h-4.5M596.4 1462.95h-2.5M596.4 1447.41h-2.5M596.4 1431.87h-4.5M596.4 1416.33h-2.5M596.4 1400.78h-2.5M596.4 1385.24h-4.5M596.4 1369.7h-2.5M596.4 1354.16h-2.5M596.4 1338.62h-4.5M596.4 1323.08h-2.5" fill="none" stroke="#000" stroke-width="1"/><text x="597.81" y="1510.8" font-size="7" text-anchor="middle">0</text><text x="632.12" y="1510.8" font-size="7" text-anchor="middle">2.0K</text><text x="666.43" y="1510.8" font-size="7" text-anchor="middle">4.0K</text><text x="700.74" y="1510.8" font-size="7" text-anchor="middle">6.0K</text><text x="735.06" y="1510.8" font-size="7" text-anchor="middle">8.0K</text><text x="769.37" y="1510.8" font-size="7" text-anchor="middle">10K</text><text x="589.4" y="1480.99" font-size="7" text-anchor="end">0</text><text x="589.4" y="1434.37" font-size="7" text-anchor="end">3.0K</text><text x="589.4" y="1387.74" font-size="7" text-anchor="end">6.0K</text><text x="589.4" y="1341.12" font-size="7" text-anchor="end">9.0K</text><text transform="translate(549.9 1393.15) rotate(-90)" font-size="20" text-anchor="middle">tSNE 2</text><text x="699.5" y="1542.3" font-size="20" text-anchor="middle">tSNE 1</text><rect x="862" y="1308.5" width="190.2" height="189.3" fill="none" stroke="#8c8c8c" stroke-width="1.2"/><path d="M863.41 1497.8v4.5M871.99 1497.8v2.5M880.56 1497.8v2.5M889.14 1497.8v2.5M897.72 1497.8v4.5M906.3 1497.8v2.5M914.88 1497.8v2.5M923.45 1497.8v2.5M932.03 1497.8v4.5M940.61 1497.8v2.5M949.19 1497.8v2.5M957.77 1497.8v2.5M966.34 1497.8v4.5M974.92 1497.8v2.5M983.5 1497.8v2.5M992.08 1497.8v2.5M1000.66 1497.8v4.5M1009.23 1497.8v2.5M1017.81 1497.8v2.5M1026.39 1497.8v2.5M1034.97 1497.8v4.5M1043.55 1497.8v2.5M862 1494.03h-2.5M862 1478.49h-4.5M862 1462.95h-2.5M862 1447.41h-2.5M862 1431.87h-4.5M862 1416.33h-2.5M862 1400.78h-2.5M862 1385.24h-4.5M862 1369.7h-2.5M862 1354.16h-2.5M862 1338.62h-4.5M862 1323.08h-2.5" fill="none" stroke="#000" stroke-width="1"/><text x="863.41" y="1510.8" font-size="7" text-anchor="middle">0</text><text x="897.72" y="1510.8" font-size="7" text-anchor="middle">2.0K</text><text x="932.03" y="1510.8" font-size="7" text-anchor="middle">4.0K</text><text x="966.34" y="1510.8" font-size="7" text-anchor="middle">6.0K</text><text x="1000.66" y="1510.8" font-size="7" text-anchor="middle">8.0K</text><text x="1034.97" y="1510.8" font-size="7" text-anchor="middle">10K</text><text x="855" y="1480.99" font-size="7" text-anchor="end">0</text><text x="855" y="1434.37" font-size="7" text-anchor="end">3.0K</text><text x="855" y="1387.74" font-size="7" text-anchor="end">6.0K</text><text x="855" y="1341.12" font-size="7" text-anchor="end">9.0K</text><text transform="translate(815.5 1393.15) rotate(-90)" font-size="20" text-anchor="middle">tSNE 2</text><text x="965.1" y="1542.3" font-size="20" text-anchor="middle">tSNE 1</text><rect x="62.1" y="1585.8" width="190.2" height="189.3" fill="none" stroke="#8c8c8c" stroke-width="1.2"/><path d="M63.51 1775.1v4.5M72.09 1775.1v2.5M80.66 1775.1v2.5M89.24 1775.1v2.5M97.82 1775.1v4.5M106.4 1775.1v2.5M114.98 1775.1v2.5M123.55 1775.1v2.5M132.13 1775.1v4.5M140.71 1775.1v2.5M149.29 1775.1v2.5M157.87 1775.1v2.5M166.44 1775.1v4.5M175.02 1775.1v2.5M183.6 1775.1v2.5M192.18 1775.1v2.5M200.76 1775.1v4.5M209.33 1775.1v2.5M217.91 1775.1v2.5M226.49 1775.1v2.5M235.07 1775.1v4.5M243.65 1775.1v2.5M62.1 1771.33h-2.5M62.1 1755.79h-4.5M62.1 1740.25h-2.5M62.1 1724.71h-2.5M62.1 1709.17h-4.5M62.1 1693.63h-2.5M62.1 1678.08h-2.5M62.1 1662.54h-4.5M62.1 1647h-2.5M62.1 1631.46h-2.5M62.1 1615.92h-4.5M62.1 1600.38h-2.5" fill="none" stroke="#000" stroke-width="1"/><text x="63.51" y="1788.1" font-size="7" text-anchor="middle">0</text><text x="97.82" y="1788.1" font-size="7" text-anchor="middle">2.0K</text><text x="132.13" y="1788.1" font-size="7" text-anchor="middle">4.0K</text><text x="166.44" y="1788.1" font-size="7" text-anchor="middle">6.0K</text><text x="200.76" y="1788.1" font-size="7" text-anchor="middle">8.0K</text><text x="235.07" y="1788.1" font-size="7" text-anchor="middle">10K</text><text x="55.1" y="1758.29" font-size="7" text-anchor="end">0</text><text x="55.1" y="1711.67" font-size="7" text-anchor="end">3.0K</text><text x="55.1" y="1665.04" font-size="7" text-anchor="end">6.0K</text><text x="55.1" y="1618.42" font-size="7" text-anchor="end">9.0K</text><text transform="translate(15.6 1670.45) rotate(-90)" font-size="20" text-anchor="middle">tSNE 2</text><text x="165.2" y="1819.6" font-size="20" text-anchor="middle">tSNE 1</text><rect x="328.4" y="1585.8" width="190.2" height="189.3" fill="none" stroke="#8c8c8c" stroke-width="1.2"/><path d="M329.81 1775.1v4.5M338.39 1775.1v2.5M346.96 1775.1v2.5M355.54 1775.1v2.5M364.12 1775.1v4.5M372.7 1775.1v2.5M381.28 1775.1v2.5M389.85 1775.1v2.5M398.43 1775.1v4.5M407.01 1775.1v2.5M415.59 1775.1v2.5M424.17 1775.1v2.5M432.74 1775.1v4.5M441.32 1775.1v2.5M449.9 1775.1v2.5M458.48 1775.1v2.5M467.06 1775.1v4.5M475.63 1775.1v2.5M484.21 1775.1v2.5M492.79 1775.1v2.5M501.37 1775.1v4.5M509.95 1775.1v2.5M328.4 1771.33h-2.5M328.4 1755.79h-4.5M328.4 1740.25h-2.5M328.4 1724.71h-2.5M328.4 1709.17h-4.5M328.4 1693.63h-2.5M328.4 1678.08h-2.5M328.4 1662.54h-4.5M328.4 1647h-2.5M328.4 1631.46h-2.5M328.4 1615.92h-4.5M328.4 1600.38h-2.5" fill="none" stroke="#000" stroke-width="1"/><text x="329.81" y="1788.1" font-size="7" text-anchor="middle">0</text><text x="364.12" y="1788.1" font-size="7" text-anchor="middle">2.0K</text><text x="398.43" y="1788.1" font-size="7" text-anchor="middle">4.0K</text><text x="432.74" y="1788.1" font-size="7" text-anchor="middle">6.0K</text><text x="467.06" y="1788.1" font-size="7" text-anchor="middle">8.0K</text><text x="501.37" y="1788.1" font-size="7" text-anchor="middle">10K</text><text x="321.4" y="1758.29" font-size="7" text-anchor="end">0</text><text x="321.4" y="1711.67" font-size="7" text-anchor="end">3.0K</text><text x="321.4" y="1665.04" font-size="7" text-anchor="end">6.0K</text><text x="321.4" y="1618.42" font-size="7" text-anchor="end">9.0K</text><text transform="translate(281.9 1670.45) rotate(-90)" font-size="20" text-anchor="middle">tSNE 2</text><text x="431.5" y="1819.6" font-size="20" text-anchor="middle">tSNE 1</text><rect x="596.4" y="1585.8" width="190.2" height="189.3" fill="none" stroke="#8c8c8c" stroke-width="1.2"/><path d="M597.81 1775.1v4.5M606.39 1775.1v2.5M614.96 1775.1v2.5M623.54 1775.1v2.5M632.12 1775.1v4.5M640.7 1775.1v2.5M649.28 1775.1v2.5M657.85 1775.1v2.5M666.43 1775.1v4.5M675.01 1775.1v2.5M683.59 1775.1v2.5M692.17 1775.1v2.5M700.74 1775.1v4.5M709.32 1775.1v2.5M717.9 1775.1v2.5M726.48 1775.1v2.5M735.06 1775.1v4.5M743.63 1775.1v2.5M752.21 1775.1v2.5M760.79 1775.1v2.5M769.37 1775.1v4.5M777.95 1775.1v2.5M596.4 1771.33h-2.5M596.4 1755.79h-4.5M596.4 1740.25h-2.5M596.4 1724.71h-2.5M596.4 1709.17h-4.5M596.4 1693.63h-2.5M596.4 1678.08h-2.5M596.4 1662.54h-4.5M596.4 1647h-2.5M596.4 1631.46h-2.5M596.4 1615.92h-4.5M596.4 1600.38h-2.5" fill="none" stroke="#000" stroke-width="1"/><text x="597.81" y="1788.1" font-size="7" text-anchor="middle">0</text><text x="632.12" y="1788.1" font-size="7" text-anchor="middle">2.0K</text><text x="666.43" y="1788.1" font-size="7" text-anchor="middle">4.0K</text><text x="700.74" y="1788.1" font-size="7" text-anchor="middle">6.0K</text><text x="735.06" y="1788.1" font-size="7" text-anchor="middle">8.0K</text><text x="769.37" y="1788.1" font-size="7" text-anchor="middle">10K</text><text x="589.4" y="1758.29" font-size="7" text-anchor="end">0</text><text x="589.4" y="1711.67" font-size="7" text-anchor="end">3.0K</text><text x="589.4" y="1665.04" font-size="7" text-anchor="end">6.0K</text><text x="589.4" y="1618.42" font-size="7" text-anchor="end">9.0K</text><text transform="translate(549.9 1670.45) rotate(-90)" font-size="20" text-anchor="middle">tSNE 2</text><text x="699.5" y="1819.6" font-size="20" text-anchor="middle">tSNE 1</text><rect x="862" y="1585.8" width="190.2" height="189.3" fill="none" stroke="#8c8c8c" stroke-width="1.2"/><path d="M863.41 1775.1v4.5M871.99 1775.1v2.5M880.56 1775.1v2.5M889.14 1775.1v2.5M897.72 1775.1v4.5M906.3 1775.1v2.5M914.88 1775.1v2.5M923.45 1775.1v2.5M932.03 1775.1v4.5M940.61 1775.1v2.5M949.19 1775.1v2.5M957.77 1775.1v2.5M966.34 1775.1v4.5M974.92 1775.1v2.5M983.5 1775.1v2.5M992.08 1775.1v2.5M1000.66 1775.1v4.5M1009.23 1775.1v2.5M1017.81 1775.1v2.5M1026.39 1775.1v2.5M1034.97 1775.1v4.5M1043.55 1775.1v2.5M862 1771.33h-2.5M862 1755.79h-4.5M862 1740.25h-2.5M862 1724.71h-2.5M862 1709.17h-4.5M862 1693.63h-2.5M862 1678.08h-2.5M862 1662.54h-4.5M862 1647h-2.5M862 1631.46h-2.5M862 1615.92h-4.5M862 1600.38h-2.5" fill="none" stroke="#000" stroke-width="1"/><text x="863.41" y="1788.1" font-size="7" text-anchor="middle">0</text><text x="897.72" y="1788.1" font-size="7" text-anchor="middle">2.0K</text><text x="932.03" y="1788.1" font-size="7" text-anchor="middle">4.0K</text><text x="966.34" y="1788.1" font-size="7" text-anchor="middle">6.0K</text><text x="1000.66" y="1788.1" font-size="7" text-anchor="middle">8.0K</text><text x="1034.97" y="1788.1" font-size="7" text-anchor="middle">10K</text><text x="855" y="1758.29" font-size="7" text-anchor="end">0</text><text x="855" y="1711.67" font-size="7" text-anchor="end">3.0K</text><text x="855" y="1665.04" font-size="7" text-anchor="end">6.0K</text><text x="855" y="1618.42" font-size="7" text-anchor="end">9.0K</text><text transform="translate(815.5 1670.45) rotate(-90)" font-size="20" text-anchor="middle">tSNE 2</text><text x="965.1" y="1819.6" font-size="20" text-anchor="middle">tSNE 1</text><text x="34" y="1563.8" font-size="16.3">1</text><rect x="46.9" y="1553.6" width="44.8" height="9.6" fill="url(#cbar)"/><text x="99.2" y="1563.8" font-size="16.3">119477</text><text x="332" y="1563.8" font-size="16.3">-714</text><rect x="377.6" y="1553.6" width="45.2" height="9.6" fill="url(#cbar)"/><text x="430.6" y="1563.8" font-size="16.3">16259</text><text x="570.6" y="1563.8" font-size="16.3">1</text><rect x="580" y="1553.6" width="44.9" height="9.6" fill="url(#cbar)"/><text x="631.7" y="1563.8" font-size="16.3">422763</text><text x="837" y="1563.8" font-size="16.3">1</text><rect x="846.7" y="1553.6" width="44.8" height="9.6" fill="url(#cbar)"/><text x="898.3" y="1563.8" font-size="16.3">345130</text><text x="40.5" y="1841.8" font-size="16.3">1</text><rect x="60" y="1838" width="44.7" height="8.7" fill="url(#cbar)"/><text x="112" y="1846" font-size="16.3">2744733</text><text x="316" y="1846" font-size="16.3">1</text><rect x="327" y="1838" width="44.6" height="8.7" fill="url(#cbar)"/><text x="378" y="1846" font-size="16.3">122225</text><text x="582" y="1846" font-size="16.3">1</text><rect x="593" y="1838" width="45" height="8.7" fill="url(#cbar)"/><text x="645.7" y="1846" font-size="16.3">125685</text><text x="849.5" y="1846" font-size="16.3">1</text><rect x="860" y="1838" width="44.6" height="8.7" fill="url(#cbar)"/><text x="905" y="1846" font-size="16.3">438675</text><text x="1107" y="1027" font-size="30" font-weight="bold">e.</text><line x1="1282.1" y1="1127" x2="1282.1" y2="1348.6" stroke="#000" stroke-width="1.4" stroke-dasharray="1.8 2.4"/><line x1="1359" y1="1127" x2="1359" y2="1348.6" stroke="#000" stroke-width="1.4" stroke-dasharray="1.8 2.4"/><path d="M1225.2 1317.52C1225.7 1318.52 1227.78 1321.53 1228.2 1323.53C1228.62 1325.54 1226.95 1327.55 1227.7 1329.55C1228.45 1331.55 1231.2 1333.89 1232.7 1335.56C1234.2 1337.24 1235.7 1338.24 1236.7 1339.57C1237.7 1340.91 1238.53 1342.25 1238.7 1343.58C1238.87 1344.92 1237.87 1346.93 1237.7 1347.59L1211.7 1347.59C1211.53 1346.93 1210.53 1344.92 1210.7 1343.58C1210.87 1342.25 1211.7 1340.91 1212.7 1339.57C1213.7 1338.24 1215.2 1337.24 1216.7 1335.56C1218.2 1333.89 1220.95 1331.55 1221.7 1329.55C1222.45 1327.55 1220.78 1325.54 1221.2 1323.53C1221.62 1321.53 1223.7 1318.52 1224.2 1317.52Z" fill="#bcbcbc" stroke="#000" stroke-width="1.3" stroke-linejoin="round"/><line x1="1211.7" y1="1341.58" x2="1237.7" y2="1341.58" stroke="#000" stroke-width="1.5" stroke-dasharray="7 3.5"/><circle cx="1222.93" cy="1325.54" r="2.6" fill="#000"/><circle cx="1226.47" cy="1325.54" r="2.6" fill="#000"/><circle cx="1216.32" cy="1337.57" r="2.6" fill="#000"/><circle cx="1221.9" cy="1337.57" r="2.6" fill="#000"/><circle cx="1227.5" cy="1341.58" r="2.6" fill="#000"/><circle cx="1233.09" cy="1341.58" r="2.6" fill="#000"/><circle cx="1216.32" cy="1343.58" r="2.6" fill="#000"/><circle cx="1221.9" cy="1345.59" r="2.6" fill="#000"/><circle cx="1227.5" cy="1347.59" r="2.6" fill="#000"/><circle cx="1233.09" cy="1347.59" r="2.6" fill="#000"/><path d="M1269.1 1346.39C1270.1 1346.59 1273.77 1347.13 1275.1 1347.59C1276.43 1348.06 1276.93 1348.73 1277.1 1349.2C1277.27 1349.67 1276.27 1350.2 1276.1 1350.4L1250.1 1350.4C1249.93 1350.2 1248.93 1349.67 1249.1 1349.2C1249.27 1348.73 1249.77 1348.06 1251.1 1347.59C1252.43 1347.13 1256.1 1346.59 1257.1 1346.39Z" fill="#fff" stroke="#000" stroke-width="1.3" stroke-linejoin="round"/><line x1="1249.43" y1="1349.6" x2="1276.77" y2="1349.6" stroke="#000" stroke-width="1.5"/><circle cx="1250.99" cy="1349.6" r="2.6" fill="#000"/><circle cx="1255.84" cy="1349.6" r="2.6" fill="#000"/><circle cx="1260.68" cy="1349.6" r="2.6" fill="#000"/><circle cx="1265.52" cy="1349.6" r="2.6" fill="#000"/><circle cx="1270.36" cy="1349.6" r="2.6" fill="#000"/><circle cx="1275.21" cy="1349.6" r="2.6" fill="#000"/><path d="M1301.6 1315.51C1301.93 1317.19 1303.18 1322.53 1303.6 1325.54C1304.02 1328.55 1302.85 1331.42 1304.1 1333.56C1305.35 1335.7 1309.1 1336.9 1311.1 1338.37C1313.1 1339.84 1315.43 1341.18 1316.1 1342.38C1316.77 1343.58 1315.93 1344.79 1315.1 1345.59C1314.27 1346.39 1311.77 1346.93 1311.1 1347.19L1291.1 1347.19C1290.43 1346.93 1287.93 1346.39 1287.1 1345.59C1286.27 1344.79 1285.43 1343.58 1286.1 1342.38C1286.77 1341.18 1289.1 1339.84 1291.1 1338.37C1293.1 1336.9 1296.85 1335.7 1298.1 1333.56C1299.35 1331.42 1298.18 1328.55 1298.6 1325.54C1299.02 1322.53 1300.27 1317.19 1300.6 1315.51Z" fill="#bcbcbc" stroke="#000" stroke-width="1.3" stroke-linejoin="round"/><line x1="1286.35" y1="1343.18" x2="1315.85" y2="1343.18" stroke="#000" stroke-width="1.5" stroke-dasharray="7 3.5"/><circle cx="1301.1" cy="1319.52" r="2.6" fill="#000"/><circle cx="1301.1" cy="1325.54" r="2.6" fill="#000"/><circle cx="1287.96" cy="1341.58" r="2.6" fill="#000"/><circle cx="1291.71" cy="1341.58" r="2.6" fill="#000"/><circle cx="1295.47" cy="1341.58" r="2.6" fill="#000"/><circle cx="1299.22" cy="1343.58" r="2.6" fill="#000"/><circle cx="1302.98" cy="1343.58" r="2.6" fill="#000"/><circle cx="1306.73" cy="1343.58" r="2.6" fill="#000"/><circle cx="1310.49" cy="1345.59" r="2.6" fill="#000"/><circle cx="1314.24" cy="1345.59" r="2.6" fill="#000"/><path d="M1339.9 1201.23C1340.17 1203.9 1340.73 1211.92 1341.5 1217.27C1342.27 1222.62 1343.5 1227.96 1344.5 1233.31C1345.5 1238.66 1347.17 1244.67 1347.5 1249.35C1347.83 1254.03 1346.75 1256.7 1346.5 1261.38C1346.25 1266.06 1345.5 1272.07 1346 1277.42C1346.5 1282.77 1348.42 1288.78 1349.5 1293.46C1350.58 1298.14 1352.17 1301.48 1352.5 1305.49C1352.83 1309.5 1352.5 1313.51 1351.5 1317.52C1350.5 1321.53 1348 1325.54 1346.5 1329.55C1345 1333.56 1343.6 1338.24 1342.5 1341.58C1341.4 1344.92 1340.33 1348.26 1339.9 1349.6L1339.1 1349.6C1338.67 1348.26 1337.6 1344.92 1336.5 1341.58C1335.4 1338.24 1334 1333.56 1332.5 1329.55C1331 1325.54 1328.5 1321.53 1327.5 1317.52C1326.5 1313.51 1326.17 1309.5 1326.5 1305.49C1326.83 1301.48 1328.42 1298.14 1329.5 1293.46C1330.58 1288.78 1332.5 1282.77 1333 1277.42C1333.5 1272.07 1332.75 1266.06 1332.5 1261.38C1332.25 1256.7 1331.17 1254.03 1331.5 1249.35C1331.83 1244.67 1333.5 1238.66 1334.5 1233.31C1335.5 1227.96 1336.73 1222.62 1337.5 1217.27C1338.27 1211.92 1338.83 1203.9 1339.1 1201.23Z" fill="#fff" stroke="#000" stroke-width="1.3" stroke-linejoin="round"/><line x1="1328" y1="1299.47" x2="1351" y2="1299.47" stroke="#000" stroke-width="1.5"/><line x1="1327.33" y1="1315.51" x2="1351.67" y2="1315.51" stroke="#000" stroke-width="1.5"/><line x1="1332.33" y1="1259.38" x2="1346.67" y2="1259.38" stroke="#000" stroke-width="1.5"/><circle cx="1339.5" cy="1233.31" r="2.6" fill="#000"/><circle cx="1336.7" cy="1249.35" r="2.6" fill="#000"/><circle cx="1342.3" cy="1249.35" r="2.6" fill="#000"/><circle cx="1339.5" cy="1281.43" r="2.6" fill="#000"/><circle cx="1336.7" cy="1297.47" r="2.6" fill="#000"/><circle cx="1342.3" cy="1297.47" r="2.6" fill="#000"/><circle cx="1333.91" cy="1305.49" r="2.6" fill="#000"/><circle cx="1339.5" cy="1305.49" r="2.6" fill="#000"/><circle cx="1345.09" cy="1309.5" r="2.6" fill="#000"/><circle cx="1333.91" cy="1317.52" r="2.6" fill="#000"/><circle cx="1339.5" cy="1317.52" r="2.6" fill="#000"/><circle cx="1345.09" cy="1317.52" r="2.6" fill="#000"/><path d="M1378.2 1301.48C1378.7 1303.49 1380.28 1309.5 1381.2 1313.51C1382.12 1317.52 1382.78 1322.2 1383.7 1325.54C1384.62 1328.88 1385.53 1331.22 1386.7 1333.56C1387.87 1335.9 1389.87 1337.7 1390.7 1339.57C1391.53 1341.45 1391.87 1343.32 1391.7 1344.79C1391.53 1346.26 1390.03 1347.8 1389.7 1348.4L1365.7 1348.4C1365.37 1347.8 1363.87 1346.26 1363.7 1344.79C1363.53 1343.32 1363.87 1341.45 1364.7 1339.57C1365.53 1337.7 1367.53 1335.9 1368.7 1333.56C1369.87 1331.22 1370.78 1328.88 1371.7 1325.54C1372.62 1322.2 1373.28 1317.52 1374.2 1313.51C1375.12 1309.5 1376.7 1303.49 1377.2 1301.48Z" fill="#bcbcbc" stroke="#000" stroke-width="1.3" stroke-linejoin="round"/><line x1="1364.32" y1="1341.58" x2="1391.08" y2="1341.58" stroke="#000" stroke-width="1.5" stroke-dasharray="7 3.5"/><circle cx="1377.7" cy="1313.51" r="2.6" fill="#000"/><circle cx="1374.9" cy="1321.53" r="2.6" fill="#000"/><circle cx="1380.5" cy="1325.54" r="2.6" fill="#000"/><circle cx="1374.9" cy="1337.57" r="2.6" fill="#000"/><circle cx="1380.5" cy="1341.58" r="2.6" fill="#000"/><circle cx="1369.32" cy="1343.58" r="2.6" fill="#000"/><circle cx="1374.9" cy="1345.59" r="2.6" fill="#000"/><circle cx="1380.5" cy="1345.59" r="2.6" fill="#000"/><circle cx="1386.09" cy="1347.59" r="2.6" fill="#000"/><path d="M1416.3 1100.98C1416.73 1105.66 1418.22 1121.03 1418.9 1129.05C1419.58 1137.07 1419.57 1139.07 1420.4 1149.1C1421.23 1159.12 1422.9 1175.83 1423.9 1189.2C1424.9 1202.57 1425.65 1217.27 1426.4 1229.3C1427.15 1241.33 1428.15 1251.36 1428.4 1261.38C1428.65 1271.4 1427.98 1280.09 1427.9 1289.45C1427.82 1298.81 1427.73 1309.5 1427.9 1317.52C1428.07 1325.54 1428.73 1332.22 1428.9 1337.57C1429.07 1342.92 1428.9 1347.59 1428.9 1349.6L1402.9 1349.6C1402.9 1347.59 1402.73 1342.92 1402.9 1337.57C1403.07 1332.22 1403.73 1325.54 1403.9 1317.52C1404.07 1309.5 1403.98 1298.81 1403.9 1289.45C1403.82 1280.09 1403.15 1271.4 1403.4 1261.38C1403.65 1251.36 1404.65 1241.33 1405.4 1229.3C1406.15 1217.27 1406.9 1202.57 1407.9 1189.2C1408.9 1175.83 1410.57 1159.12 1411.4 1149.1C1412.23 1139.07 1412.22 1137.07 1412.9 1129.05C1413.58 1121.03 1415.07 1105.66 1415.5 1100.98Z" fill="#fff" stroke="#000" stroke-width="1.3" stroke-linejoin="round"/><line x1="1403.9" y1="1291.45" x2="1427.9" y2="1291.45" stroke="#000" stroke-width="1.5" stroke-dasharray="7 3.5"/><line x1="1402.9" y1="1345.59" x2="1428.9" y2="1345.59" stroke="#000" stroke-width="1.5" stroke-dasharray="2 2.2"/><line x1="1403.9" y1="1253.36" x2="1427.9" y2="1253.36" stroke="#000" stroke-width="1.5" stroke-dasharray="2 2.2"/><circle cx="1415.9" cy="1145.09" r="2.6" fill="#000"/><circle cx="1415.9" cy="1205.24" r="2.6" fill="#000"/><circle cx="1413.11" cy="1253.36" r="2.6" fill="#000"/><circle cx="1418.7" cy="1253.36" r="2.6" fill="#000"/><circle cx="1413.11" cy="1281.43" r="2.6" fill="#000"/><circle cx="1418.7" cy="1281.43" r="2.6" fill="#000"/><circle cx="1415.9" cy="1301.48" r="2.6" fill="#000"/><circle cx="1413.11" cy="1333.56" r="2.6" fill="#000"/><circle cx="1418.7" cy="1337.57" r="2.6" fill="#000"/><circle cx="1410.31" cy="1345.59" r="2.6" fill="#000"/><circle cx="1415.9" cy="1347.59" r="2.6" fill="#000"/><circle cx="1421.49" cy="1347.59" r="2.6" fill="#000"/><line x1="1200.2" y1="1351.1" x2="1200.2" y2="1068.9" stroke="#000" stroke-width="3"/><line x1="1190.8" y1="1349.6" x2="1201.7" y2="1349.6" stroke="#000" stroke-width="3"/><text x="1189.3" y="1356.8" font-size="20" font-weight="bold" text-anchor="end">0</text><line x1="1190.8" y1="1269.4" x2="1201.7" y2="1269.4" stroke="#000" stroke-width="3"/><text x="1189.3" y="1276.6" font-size="20" font-weight="bold" text-anchor="end">20</text><line x1="1190.8" y1="1189.2" x2="1201.7" y2="1189.2" stroke="#000" stroke-width="3"/><text x="1189.3" y="1196.4" font-size="20" font-weight="bold" text-anchor="end">40</text><line x1="1190.8" y1="1109" x2="1201.7" y2="1109" stroke="#000" stroke-width="3"/><text x="1189.3" y="1116.2" font-size="20" font-weight="bold" text-anchor="end">60</text><line x1="1194.7" y1="1309.5" x2="1200.2" y2="1309.5" stroke="#000" stroke-width="3"/><line x1="1194.7" y1="1229.3" x2="1200.2" y2="1229.3" stroke="#000" stroke-width="3"/><line x1="1194.7" y1="1149.1" x2="1200.2" y2="1149.1" stroke="#000" stroke-width="3"/><line x1="1194.7" y1="1068.9" x2="1200.2" y2="1068.9" stroke="#000" stroke-width="3"/><line x1="1198.7" y1="1349.6" x2="1441.5" y2="1349.6" stroke="#000" stroke-width="3"/><line x1="1224.7" y1="1349.6" x2="1224.7" y2="1357.6" stroke="#000" stroke-width="3"/><line x1="1263.1" y1="1349.6" x2="1263.1" y2="1357.6" stroke="#000" stroke-width="3"/><line x1="1301.1" y1="1349.6" x2="1301.1" y2="1357.6" stroke="#000" stroke-width="3"/><line x1="1339.5" y1="1349.6" x2="1339.5" y2="1357.6" stroke="#000" stroke-width="3"/><line x1="1377.7" y1="1349.6" x2="1377.7" y2="1357.6" stroke="#000" stroke-width="3"/><line x1="1415.9" y1="1349.6" x2="1415.9" y2="1357.6" stroke="#000" stroke-width="3"/><text x="1335" y="1026" font-size="19.4" text-anchor="middle">p&lt;0.0001</text><polyline points="1257.7,1085.6 1257.7,1036.3 1415.7,1036.3 1415.7,1047.2" fill="none" stroke="#000" stroke-width="1.8"/><text x="1370.5" y="1060.3" font-size="19.4" text-anchor="middle">p=0.0068</text><polyline points="1377.3,1274.9 1377.3,1068.6 1416.4,1068.6 1416.4,1097" fill="none" stroke="#000" stroke-width="1.8"/><text x="1302.8" y="1086" font-size="19.4" text-anchor="middle">p=0.0005</text><polyline points="1262.5,1336.4 1262.5,1096.3 1338.2,1096.3 1338.2,1154.2" fill="none" stroke="#000" stroke-width="1.8"/><text x="1321" y="1193.7" font-size="19.4" text-anchor="middle">p=0.005</text><polyline points="1300,1198 1300,1198 1339.5,1198 1339.5,1203" fill="none" stroke="#000" stroke-width="1.8"/><text x="1243.4" y="1375.7" font-size="20" font-weight="bold" text-anchor="middle">HD</text><text x="1320.9" y="1375.7" font-size="20" font-weight="bold" text-anchor="middle">Omicron</text><text x="1324" y="1395.4" font-size="20" font-weight="bold" text-anchor="middle">BTI</text><text x="1398.7" y="1375.7" font-size="20" font-weight="bold" text-anchor="middle">Delta</text><text x="1397.2" y="1395.4" font-size="20" font-weight="bold" text-anchor="middle">BTI</text><text transform="translate(1155 1193.5) rotate(-90)" font-size="20.5" font-weight="bold" text-anchor="middle">% CD38<tspan dy="-9" font-size="16">high</tspan><tspan dy="9"> B cells</tspan></text><line x1="1640.2" y1="1104.3" x2="1640.2" y2="1349.3" stroke="#000" stroke-width="1.4" stroke-dasharray="1.8 2.4"/><line x1="1717.3" y1="1104.3" x2="1717.3" y2="1349.3" stroke="#000" stroke-width="1.4" stroke-dasharray="1.8 2.4"/><path d="M1583.5 1324.23C1583.92 1324.9 1585.42 1326.57 1586 1328.24C1586.58 1329.92 1585.5 1332.59 1587 1334.26C1588.5 1335.93 1593.33 1336.93 1595 1338.27C1596.67 1339.61 1596.83 1340.94 1597 1342.28C1597.17 1343.62 1596.67 1345.15 1596 1346.29C1595.33 1347.43 1593.5 1348.63 1593 1349.1L1573 1349.1C1572.5 1348.63 1570.67 1347.43 1570 1346.29C1569.33 1345.15 1568.83 1343.62 1569 1342.28C1569.17 1340.94 1569.33 1339.61 1571 1338.27C1572.67 1336.93 1577.5 1335.93 1579 1334.26C1580.5 1332.59 1579.42 1329.92 1580 1328.24C1580.58 1326.57 1582.08 1324.9 1582.5 1324.23Z" fill="#bcbcbc" stroke="#000" stroke-width="1.3" stroke-linejoin="round"/><line x1="1569" y1="1342.28" x2="1597" y2="1342.28" stroke="#000" stroke-width="1.5" stroke-dasharray="7 3.5"/><circle cx="1583" cy="1326.24" r="2.6" fill="#000"/><circle cx="1571.82" cy="1338.27" r="2.6" fill="#000"/><circle cx="1577.41" cy="1338.27" r="2.6" fill="#000"/><circle cx="1583" cy="1342.28" r="2.6" fill="#000"/><circle cx="1588.59" cy="1342.28" r="2.6" fill="#000"/><circle cx="1594.18" cy="1342.28" r="2.6" fill="#000"/><circle cx="1577.41" cy="1346.29" r="2.6" fill="#000"/><circle cx="1583" cy="1346.29" r="2.6" fill="#000"/><circle cx="1588.59" cy="1348.29" r="2.6" fill="#000"/><path d="M1621.2 1302.18C1621.55 1303.52 1623.03 1306.86 1623.3 1310.2C1623.57 1313.54 1622.8 1318.22 1622.8 1322.23C1622.8 1326.24 1622.63 1330.92 1623.3 1334.26C1623.97 1337.6 1625.38 1340.28 1626.8 1342.28C1628.22 1344.28 1630.63 1345.09 1631.8 1346.29C1632.97 1347.49 1633.47 1348.96 1633.8 1349.5L1607.8 1349.5C1608.13 1348.96 1608.63 1347.49 1609.8 1346.29C1610.97 1345.09 1613.38 1344.28 1614.8 1342.28C1616.22 1340.28 1617.63 1337.6 1618.3 1334.26C1618.97 1330.92 1618.8 1326.24 1618.8 1322.23C1618.8 1318.22 1618.03 1313.54 1618.3 1310.2C1618.57 1306.86 1620.05 1303.52 1620.4 1302.18Z" fill="#fff" stroke="#000" stroke-width="1.3" stroke-linejoin="round"/><line x1="1608.55" y1="1348.29" x2="1633.05" y2="1348.29" stroke="#000" stroke-width="1.5"/><circle cx="1620.8" cy="1310.2" r="2.6" fill="#000"/><circle cx="1620.8" cy="1336.26" r="2.6" fill="#000"/><circle cx="1610.22" cy="1346.29" r="2.6" fill="#000"/><circle cx="1613.74" cy="1346.29" r="2.6" fill="#000"/><circle cx="1617.27" cy="1348.29" r="2.6" fill="#000"/><circle cx="1620.8" cy="1348.29" r="2.6" fill="#000"/><circle cx="1624.33" cy="1349.1" r="2.6" fill="#000"/><circle cx="1627.86" cy="1349.1" r="2.6" fill="#000"/><circle cx="1631.38" cy="1349.5" r="2.6" fill="#000"/><path d="M1659.9 1318.22C1660.32 1318.89 1661.98 1319.56 1662.4 1322.23C1662.82 1324.9 1660.9 1331.25 1662.4 1334.26C1663.9 1337.27 1669.57 1338.6 1671.4 1340.27C1673.23 1341.95 1673.4 1343.15 1673.4 1344.28C1673.4 1345.42 1671.73 1346.62 1671.4 1347.09L1647.4 1347.09C1647.07 1346.62 1645.4 1345.42 1645.4 1344.28C1645.4 1343.15 1645.57 1341.95 1647.4 1340.27C1649.23 1338.6 1654.9 1337.27 1656.4 1334.26C1657.9 1331.25 1655.98 1324.9 1656.4 1322.23C1656.82 1319.56 1658.48 1318.89 1658.9 1318.22Z" fill="#bcbcbc" stroke="#000" stroke-width="1.3" stroke-linejoin="round"/><line x1="1646" y1="1343.08" x2="1672.8" y2="1343.08" stroke="#000" stroke-width="1.5" stroke-dasharray="7 3.5"/><circle cx="1657.96" cy="1320.22" r="2.6" fill="#000"/><circle cx="1660.84" cy="1324.23" r="2.6" fill="#000"/><circle cx="1647.25" cy="1342.28" r="2.6" fill="#000"/><circle cx="1651.3" cy="1342.28" r="2.6" fill="#000"/><circle cx="1655.35" cy="1342.28" r="2.6" fill="#000"/><circle cx="1659.4" cy="1344.28" r="2.6" fill="#000"/><circle cx="1663.45" cy="1344.28" r="2.6" fill="#000"/><circle cx="1667.5" cy="1344.28" r="2.6" fill="#000"/><circle cx="1671.55" cy="1346.29" r="2.6" fill="#000"/><path d="M1698 1217.97C1698.6 1219.97 1699.83 1225.99 1701.6 1230C1703.37 1234.01 1707.77 1238.02 1708.6 1242.03C1709.43 1246.04 1707.27 1249.38 1706.6 1254.06C1705.93 1258.74 1704.27 1265.42 1704.6 1270.1C1704.93 1274.78 1707.6 1278.12 1708.6 1282.13C1709.6 1286.14 1710.27 1290.15 1710.6 1294.16C1710.93 1298.17 1711.27 1302.18 1710.6 1306.19C1709.93 1310.2 1708.1 1314.21 1706.6 1318.22C1705.1 1322.23 1702.93 1326.24 1701.6 1330.25C1700.27 1334.26 1699.1 1340.28 1698.6 1342.28L1696.6 1342.28C1696.1 1340.28 1694.93 1334.26 1693.6 1330.25C1692.27 1326.24 1690.1 1322.23 1688.6 1318.22C1687.1 1314.21 1685.27 1310.2 1684.6 1306.19C1683.93 1302.18 1684.27 1298.17 1684.6 1294.16C1684.93 1290.15 1685.6 1286.14 1686.6 1282.13C1687.6 1278.12 1690.27 1274.78 1690.6 1270.1C1690.93 1265.42 1689.27 1258.74 1688.6 1254.06C1687.93 1249.38 1685.77 1246.04 1686.6 1242.03C1687.43 1238.02 1691.83 1234.01 1693.6 1230C1695.37 1225.99 1696.6 1219.97 1697.2 1217.97Z" fill="#fff" stroke="#000" stroke-width="1.3" stroke-linejoin="round"/><line x1="1685.93" y1="1286.14" x2="1709.27" y2="1286.14" stroke="#000" stroke-width="1.5"/><line x1="1685.27" y1="1308.19" x2="1709.93" y2="1308.19" stroke="#000" stroke-width="1.5"/><line x1="1688.6" y1="1254.06" x2="1706.6" y2="1254.06" stroke="#000" stroke-width="1.5"/><circle cx="1697.6" cy="1236.01" r="2.6" fill="#000"/><circle cx="1694.8" cy="1242.03" r="2.6" fill="#000"/><circle cx="1700.39" cy="1246.04" r="2.6" fill="#000"/><circle cx="1692.01" cy="1278.12" r="2.6" fill="#000"/><circle cx="1697.6" cy="1278.12" r="2.6" fill="#000"/><circle cx="1703.19" cy="1280.12" r="2.6" fill="#000"/><circle cx="1697.6" cy="1294.16" r="2.6" fill="#000"/><circle cx="1697.6" cy="1300.17" r="2.6" fill="#000"/><circle cx="1694.8" cy="1306.19" r="2.6" fill="#000"/><circle cx="1700.39" cy="1306.19" r="2.6" fill="#000"/><circle cx="1694.8" cy="1312.2" r="2.6" fill="#000"/><circle cx="1700.39" cy="1312.2" r="2.6" fill="#000"/><path d="M1736.2 1294.16C1736.8 1296.16 1738.53 1302.18 1739.8 1306.19C1741.07 1310.2 1743.63 1314.88 1743.8 1318.22C1743.97 1321.56 1740.63 1323.57 1740.8 1326.24C1740.97 1328.91 1743.3 1331.59 1744.8 1334.26C1746.3 1336.93 1749.3 1339.94 1749.8 1342.28C1750.3 1344.62 1748.13 1347.29 1747.8 1348.29L1723.8 1348.29C1723.47 1347.29 1721.3 1344.62 1721.8 1342.28C1722.3 1339.94 1725.3 1336.93 1726.8 1334.26C1728.3 1331.59 1730.63 1328.91 1730.8 1326.24C1730.97 1323.57 1727.63 1321.56 1727.8 1318.22C1727.97 1314.88 1730.53 1310.2 1731.8 1306.19C1733.07 1302.18 1734.8 1296.16 1735.4 1294.16Z" fill="#bcbcbc" stroke="#000" stroke-width="1.3" stroke-linejoin="round"/><line x1="1721.8" y1="1342.28" x2="1749.8" y2="1342.28" stroke="#000" stroke-width="1.5" stroke-dasharray="7 3.5"/><circle cx="1733" cy="1312.2" r="2.6" fill="#000"/><circle cx="1738.6" cy="1316.21" r="2.6" fill="#000"/><circle cx="1735.8" cy="1330.25" r="2.6" fill="#000"/><circle cx="1730.21" cy="1338.27" r="2.6" fill="#000"/><circle cx="1735.8" cy="1342.28" r="2.6" fill="#000"/><circle cx="1741.39" cy="1342.28" r="2.6" fill="#000"/><circle cx="1730.21" cy="1344.28" r="2.6" fill="#000"/><circle cx="1735.8" cy="1346.29" r="2.6" fill="#000"/><circle cx="1741.39" cy="1348.29" r="2.6" fill="#000"/><path d="M1774.4 1077.62C1774.83 1082.97 1776.07 1099.01 1777 1109.7C1777.93 1120.39 1779 1131.76 1780 1141.78C1781 1151.8 1782.08 1160.49 1783 1169.85C1783.92 1179.21 1785.17 1187.89 1785.5 1197.92C1785.83 1207.95 1785.58 1219.31 1785 1230C1784.42 1240.69 1782.5 1252.05 1782 1262.08C1781.5 1272.11 1781.5 1280.79 1782 1290.15C1782.5 1299.51 1784.17 1310.2 1785 1318.22C1785.83 1326.24 1786.67 1332.92 1787 1338.27C1787.33 1343.62 1787 1348.3 1787 1350.3L1761 1350.3C1761 1348.3 1760.67 1343.62 1761 1338.27C1761.33 1332.92 1762.17 1326.24 1763 1318.22C1763.83 1310.2 1765.5 1299.51 1766 1290.15C1766.5 1280.79 1766.5 1272.11 1766 1262.08C1765.5 1252.05 1763.58 1240.69 1763 1230C1762.42 1219.31 1762.17 1207.95 1762.5 1197.92C1762.83 1187.89 1764.08 1179.21 1765 1169.85C1765.92 1160.49 1767 1151.8 1768 1141.78C1769 1131.76 1770.07 1120.39 1771 1109.7C1771.93 1099.01 1773.17 1082.97 1773.6 1077.62Z" fill="#fff" stroke="#000" stroke-width="1.3" stroke-linejoin="round"/><line x1="1766" y1="1284.13" x2="1782" y2="1284.13" stroke="#000" stroke-width="1.5"/><line x1="1761" y1="1340.27" x2="1787" y2="1340.27" stroke="#000" stroke-width="1.5" stroke-dasharray="2 2.2"/><line x1="1762.69" y1="1209.95" x2="1785.31" y2="1209.95" stroke="#000" stroke-width="1.5" stroke-dasharray="2 2.2"/><circle cx="1774" cy="1137.77" r="2.6" fill="#000"/><circle cx="1774" cy="1185.89" r="2.6" fill="#000"/><circle cx="1774" cy="1205.94" r="2.6" fill="#000"/><circle cx="1771.2" cy="1225.99" r="2.6" fill="#000"/><circle cx="1776.8" cy="1225.99" r="2.6" fill="#000"/><circle cx="1774" cy="1268.1" r="2.6" fill="#000"/><circle cx="1774" cy="1302.18" r="2.6" fill="#000"/><circle cx="1771.2" cy="1334.26" r="2.6" fill="#000"/><circle cx="1776.8" cy="1338.27" r="2.6" fill="#000"/><circle cx="1774" cy="1342.28" r="2.6" fill="#000"/><circle cx="1771.2" cy="1348.29" r="2.6" fill="#000"/><circle cx="1776.8" cy="1348.29" r="2.6" fill="#000"/><line x1="1557.9" y1="1351.8" x2="1557.9" y2="1069.6" stroke="#000" stroke-width="3"/><line x1="1548.5" y1="1350.3" x2="1559.4" y2="1350.3" stroke="#000" stroke-width="3"/><text x="1549" y="1357.5" font-size="20" font-weight="bold" text-anchor="end">0</text><line x1="1548.5" y1="1270.1" x2="1559.4" y2="1270.1" stroke="#000" stroke-width="3"/><text x="1549" y="1277.3" font-size="20" font-weight="bold" text-anchor="end">20</text><line x1="1548.5" y1="1189.9" x2="1559.4" y2="1189.9" stroke="#000" stroke-width="3"/><text x="1549" y="1197.1" font-size="20" font-weight="bold" text-anchor="end">40</text><line x1="1548.5" y1="1109.7" x2="1559.4" y2="1109.7" stroke="#000" stroke-width="3"/><text x="1549" y="1116.9" font-size="20" font-weight="bold" text-anchor="end">60</text><line x1="1552.4" y1="1310.2" x2="1557.9" y2="1310.2" stroke="#000" stroke-width="3"/><line x1="1552.4" y1="1230" x2="1557.9" y2="1230" stroke="#000" stroke-width="3"/><line x1="1552.4" y1="1149.8" x2="1557.9" y2="1149.8" stroke="#000" stroke-width="3"/><line x1="1552.4" y1="1069.6" x2="1557.9" y2="1069.6" stroke="#000" stroke-width="3"/><line x1="1556.4" y1="1350.3" x2="1800" y2="1350.3" stroke="#000" stroke-width="3"/><line x1="1583" y1="1350.3" x2="1583" y2="1358.3" stroke="#000" stroke-width="3"/><line x1="1620.8" y1="1350.3" x2="1620.8" y2="1358.3" stroke="#000" stroke-width="3"/><line x1="1659.4" y1="1350.3" x2="1659.4" y2="1358.3" stroke="#000" stroke-width="3"/><line x1="1697.6" y1="1350.3" x2="1697.6" y2="1358.3" stroke="#000" stroke-width="3"/><line x1="1735.8" y1="1350.3" x2="1735.8" y2="1358.3" stroke="#000" stroke-width="3"/><line x1="1774" y1="1350.3" x2="1774" y2="1358.3" stroke="#000" stroke-width="3"/><text x="1682.3" y="997.3" font-size="19.4" text-anchor="middle">p=0.0023</text><polyline points="1610.5,1193.8 1610.5,1008.2 1775.1,1008.2 1775.1,1049.7" fill="none" stroke="#000" stroke-width="1.8"/><text x="1658.3" y="1032.2" font-size="19.4" text-anchor="middle">p&lt;0.0001</text><polyline points="1616.4,1193.8 1616.4,1041 1698.3,1041 1698.3,1048.6" fill="none" stroke="#000" stroke-width="1.8"/><text x="1734.7" y="1057.3" font-size="19.4" text-anchor="middle">p=0.012</text><polyline points="1746.7,1153.4 1746.7,1064.5 1775.1,1064.5 1775.1,1077" fill="none" stroke="#000" stroke-width="1.8"/><text x="1680.1" y="1090" font-size="19.4" text-anchor="middle">p=0.0005</text><polyline points="1660,1307.7 1660,1094.9 1698.3,1094.9 1698.3,1219" fill="none" stroke="#000" stroke-width="1.8"/><text x="1601.6" y="1375.4" font-size="20" font-weight="bold" text-anchor="middle">HD</text><text x="1679.7" y="1375.4" font-size="20" font-weight="bold" text-anchor="middle">Omicron</text><text x="1672.6" y="1392.2" font-size="20" font-weight="bold" text-anchor="middle">BTI</text><text x="1757" y="1375.4" font-size="20" font-weight="bold" text-anchor="middle">Delta</text><text x="1755.4" y="1392.2" font-size="20" font-weight="bold" text-anchor="middle">BTI</text><text transform="translate(1510 1201) rotate(-90)" font-size="20.5" font-weight="bold" text-anchor="middle">% IRF4<tspan dy="-9" font-size="16">+</tspan><tspan dy="9"> B cells</tspan></text><line x1="1282.1" y1="1527.9" x2="1282.1" y2="1777.9" stroke="#000" stroke-width="1.4" stroke-dasharray="1.8 2.4"/><line x1="1359" y1="1527.9" x2="1359" y2="1777.9" stroke="#000" stroke-width="1.4" stroke-dasharray="1.8 2.4"/><path d="M1225.2 1749.29C1225.78 1750 1227.12 1751.88 1228.7 1753.52C1230.28 1755.16 1233.03 1757.28 1234.7 1759.16C1236.37 1761.04 1238.53 1762.92 1238.7 1764.8C1238.87 1766.68 1237.53 1768.8 1235.7 1770.44C1233.87 1772.09 1229.03 1773.97 1227.7 1774.67L1221.7 1774.67C1220.37 1773.97 1215.53 1772.09 1213.7 1770.44C1211.87 1768.8 1210.53 1766.68 1210.7 1764.8C1210.87 1762.92 1213.03 1761.04 1214.7 1759.16C1216.37 1757.28 1219.12 1755.16 1220.7 1753.52C1222.28 1751.88 1223.62 1750 1224.2 1749.29Z" fill="#bcbcbc" stroke="#000" stroke-width="1.3" stroke-linejoin="round"/><line x1="1211.7" y1="1763.39" x2="1237.7" y2="1763.39" stroke="#000" stroke-width="1.5" stroke-dasharray="7 3.5"/><circle cx="1224.7" cy="1756.34" r="2.6" fill="#000"/><circle cx="1212.59" cy="1761.98" r="2.6" fill="#000"/><circle cx="1217.44" cy="1761.98" r="2.6" fill="#000"/><circle cx="1222.28" cy="1761.98" r="2.6" fill="#000"/><circle cx="1227.12" cy="1764.8" r="2.6" fill="#000"/><circle cx="1231.96" cy="1767.62" r="2.6" fill="#000"/><circle cx="1236.81" cy="1767.62" r="2.6" fill="#000"/><circle cx="1224.7" cy="1769.03" r="2.6" fill="#000"/><path d="M1263.5 1640.72C1264.1 1642.6 1265.5 1647.77 1267.1 1652C1268.7 1656.23 1271.43 1661.4 1273.1 1666.1C1274.77 1670.8 1276.43 1675.5 1277.1 1680.2C1277.77 1684.9 1277.27 1689.6 1277.1 1694.3C1276.93 1699 1276.1 1703.7 1276.1 1708.4C1276.1 1713.1 1277.27 1717.8 1277.1 1722.5C1276.93 1727.2 1276.43 1731.9 1275.1 1736.6C1273.77 1741.3 1271.02 1745.53 1269.1 1750.7C1267.18 1755.87 1264.52 1764.8 1263.6 1767.62L1262.6 1767.62C1261.68 1764.8 1259.02 1755.87 1257.1 1750.7C1255.18 1745.53 1252.43 1741.3 1251.1 1736.6C1249.77 1731.9 1249.27 1727.2 1249.1 1722.5C1248.93 1717.8 1250.1 1713.1 1250.1 1708.4C1250.1 1703.7 1249.27 1699 1249.1 1694.3C1248.93 1689.6 1248.43 1684.9 1249.1 1680.2C1249.77 1675.5 1251.43 1670.8 1253.1 1666.1C1254.77 1661.4 1257.5 1656.23 1259.1 1652C1260.7 1647.77 1262.1 1642.6 1262.7 1640.72Z" fill="#fff" stroke="#000" stroke-width="1.3" stroke-linejoin="round"/><line x1="1249.8" y1="1704.17" x2="1276.4" y2="1704.17" stroke="#000" stroke-width="1.5"/><line x1="1249.7" y1="1726.73" x2="1276.5" y2="1726.73" stroke="#000" stroke-width="1.5"/><line x1="1249.1" y1="1681.61" x2="1277.1" y2="1681.61" stroke="#000" stroke-width="1.5"/><circle cx="1263.1" cy="1668.92" r="2.6" fill="#000"/><circle cx="1263.1" cy="1678.79" r="2.6" fill="#000"/><circle cx="1263.1" cy="1685.84" r="2.6" fill="#000"/><circle cx="1263.1" cy="1694.3" r="2.6" fill="#000"/><circle cx="1263.1" cy="1705.58" r="2.6" fill="#000"/><circle cx="1263.1" cy="1711.22" r="2.6" fill="#000"/><circle cx="1263.1" cy="1725.32" r="2.6" fill="#000"/><circle cx="1263.1" cy="1729.55" r="2.6" fill="#000"/><circle cx="1263.1" cy="1738.01" r="2.6" fill="#000"/><path d="M1301.6 1745.06C1302.27 1746 1305.02 1748.12 1305.6 1750.7C1306.18 1753.29 1304.18 1757.99 1305.1 1760.57C1306.02 1763.16 1309.43 1764.57 1311.1 1766.21C1312.77 1767.86 1315.1 1769.27 1315.1 1770.44C1315.1 1771.62 1313.1 1772.18 1311.1 1773.26C1309.1 1774.34 1304.43 1776.32 1303.1 1776.93L1299.1 1776.93C1297.77 1776.32 1293.1 1774.34 1291.1 1773.26C1289.1 1772.18 1287.1 1771.62 1287.1 1770.44C1287.1 1769.27 1289.43 1767.86 1291.1 1766.21C1292.77 1764.57 1296.18 1763.16 1297.1 1760.57C1298.02 1757.99 1296.02 1753.29 1296.6 1750.7C1297.18 1748.12 1299.93 1746 1300.6 1745.06Z" fill="#bcbcbc" stroke="#000" stroke-width="1.3" stroke-linejoin="round"/><line x1="1288.43" y1="1769.03" x2="1313.77" y2="1769.03" stroke="#000" stroke-width="1.5" stroke-dasharray="7 3.5"/><circle cx="1298.3" cy="1750.7" r="2.6" fill="#000"/><circle cx="1303.89" cy="1753.52" r="2.6" fill="#000"/><circle cx="1295.51" cy="1761.98" r="2.6" fill="#000"/><circle cx="1301.1" cy="1764.8" r="2.6" fill="#000"/><circle cx="1306.69" cy="1767.62" r="2.6" fill="#000"/><circle cx="1289.92" cy="1769.03" r="2.6" fill="#000"/><circle cx="1295.51" cy="1770.44" r="2.6" fill="#000"/><circle cx="1301.1" cy="1770.44" r="2.6" fill="#000"/><circle cx="1306.69" cy="1770.44" r="2.6" fill="#000"/><circle cx="1312.28" cy="1770.44" r="2.6" fill="#000"/><path d="M1339.9 1553.3C1340.33 1555.65 1341.4 1562.7 1342.5 1567.4C1343.6 1572.1 1345.67 1576.8 1346.5 1581.5C1347.33 1586.2 1347.08 1590.9 1347.5 1595.6C1347.92 1600.3 1348.33 1605 1349 1609.7C1349.67 1614.4 1350.92 1619.1 1351.5 1623.8C1352.08 1628.5 1352.5 1633.2 1352.5 1637.9C1352.5 1642.6 1352.33 1647.3 1351.5 1652C1350.67 1656.7 1348.67 1661.4 1347.5 1666.1C1346.33 1670.8 1345.33 1675.5 1344.5 1680.2C1343.67 1684.9 1343.17 1687.25 1342.5 1694.3C1341.83 1701.35 1340.93 1716.39 1340.5 1722.5C1340.07 1728.61 1340 1729.55 1339.9 1730.96L1339.1 1730.96C1339 1729.55 1338.93 1728.61 1338.5 1722.5C1338.07 1716.39 1337.17 1701.35 1336.5 1694.3C1335.83 1687.25 1335.33 1684.9 1334.5 1680.2C1333.67 1675.5 1332.67 1670.8 1331.5 1666.1C1330.33 1661.4 1328.33 1656.7 1327.5 1652C1326.67 1647.3 1326.5 1642.6 1326.5 1637.9C1326.5 1633.2 1326.92 1628.5 1327.5 1623.8C1328.08 1619.1 1329.33 1614.4 1330 1609.7C1330.67 1605 1331.08 1600.3 1331.5 1595.6C1331.92 1590.9 1331.67 1586.2 1332.5 1581.5C1333.33 1576.8 1335.4 1572.1 1336.5 1567.4C1337.6 1562.7 1338.67 1555.65 1339.1 1553.3Z" fill="#fff" stroke="#000" stroke-width="1.3" stroke-linejoin="round"/><line x1="1326.7" y1="1635.08" x2="1352.3" y2="1635.08" stroke="#000" stroke-width="1.5"/><line x1="1327.3" y1="1649.18" x2="1351.7" y2="1649.18" stroke="#000" stroke-width="1.5"/><line x1="1331.2" y1="1598.42" x2="1347.8" y2="1598.42" stroke="#000" stroke-width="1.5"/><circle cx="1336.7" cy="1575.86" r="2.6" fill="#000"/><circle cx="1342.3" cy="1575.86" r="2.6" fill="#000"/><circle cx="1339.5" cy="1592.78" r="2.6" fill="#000"/><circle cx="1339.5" cy="1609.7" r="2.6" fill="#000"/><circle cx="1336.7" cy="1626.62" r="2.6" fill="#000"/><circle cx="1342.3" cy="1626.62" r="2.6" fill="#000"/><circle cx="1333.91" cy="1646.36" r="2.6" fill="#000"/><circle cx="1339.5" cy="1646.36" r="2.6" fill="#000"/><circle cx="1345.09" cy="1649.18" r="2.6" fill="#000"/><circle cx="1339.5" cy="1666.1" r="2.6" fill="#000"/><circle cx="1339.5" cy="1690.07" r="2.6" fill="#000"/><path d="M1378.2 1728.14C1378.95 1729.55 1381.28 1733.78 1382.7 1736.6C1384.12 1739.42 1385.87 1742.24 1386.7 1745.06C1387.53 1747.88 1387.03 1750.7 1387.7 1753.52C1388.37 1756.34 1390.37 1759.63 1390.7 1761.98C1391.03 1764.33 1391.53 1765.74 1389.7 1767.62C1387.87 1769.5 1381.37 1772.32 1379.7 1773.26L1375.7 1773.26C1374.03 1772.32 1367.53 1769.5 1365.7 1767.62C1363.87 1765.74 1364.37 1764.33 1364.7 1761.98C1365.03 1759.63 1367.03 1756.34 1367.7 1753.52C1368.37 1750.7 1367.87 1747.88 1368.7 1745.06C1369.53 1742.24 1371.28 1739.42 1372.7 1736.6C1374.12 1733.78 1376.45 1729.55 1377.2 1728.14Z" fill="#bcbcbc" stroke="#000" stroke-width="1.3" stroke-linejoin="round"/><line x1="1366.7" y1="1756.34" x2="1388.7" y2="1756.34" stroke="#000" stroke-width="1.5" stroke-dasharray="7 3.5"/><circle cx="1374.9" cy="1739.42" r="2.6" fill="#000"/><circle cx="1380.5" cy="1739.42" r="2.6" fill="#000"/><circle cx="1369.32" cy="1750.7" r="2.6" fill="#000"/><circle cx="1374.9" cy="1753.52" r="2.6" fill="#000"/><circle cx="1380.5" cy="1756.34" r="2.6" fill="#000"/><circle cx="1386.09" cy="1756.34" r="2.6" fill="#000"/><circle cx="1366.52" cy="1759.16" r="2.6" fill="#000"/><circle cx="1372.11" cy="1761.98" r="2.6" fill="#000"/><circle cx="1377.7" cy="1761.98" r="2.6" fill="#000"/><circle cx="1383.29" cy="1764.8" r="2.6" fill="#000"/><circle cx="1388.88" cy="1764.8" r="2.6" fill="#000"/><path d="M1416.3 1525.1C1417.07 1529.8 1419.3 1543.9 1420.9 1553.3C1422.5 1562.7 1424.57 1573.04 1425.9 1581.5C1427.23 1589.96 1428.57 1597.01 1428.9 1604.06C1429.23 1611.11 1428.73 1617.22 1427.9 1623.8C1427.07 1630.38 1425.57 1636.49 1423.9 1643.54C1422.23 1650.59 1419.07 1657.64 1417.9 1666.1C1416.73 1674.56 1416.82 1685.84 1416.9 1694.3C1416.98 1702.76 1418.07 1712.16 1418.4 1716.86C1418.73 1721.56 1419.15 1719.21 1418.9 1722.5C1418.65 1725.79 1417.33 1729.55 1416.9 1736.6C1416.47 1743.65 1416.4 1760.1 1416.3 1764.8L1415.5 1764.8C1415.4 1760.1 1415.33 1743.65 1414.9 1736.6C1414.47 1729.55 1413.15 1725.79 1412.9 1722.5C1412.65 1719.21 1413.07 1721.56 1413.4 1716.86C1413.73 1712.16 1414.82 1702.76 1414.9 1694.3C1414.98 1685.84 1415.07 1674.56 1413.9 1666.1C1412.73 1657.64 1409.57 1650.59 1407.9 1643.54C1406.23 1636.49 1404.73 1630.38 1403.9 1623.8C1403.07 1617.22 1402.57 1611.11 1402.9 1604.06C1403.23 1597.01 1404.57 1589.96 1405.9 1581.5C1407.23 1573.04 1409.3 1562.7 1410.9 1553.3C1412.5 1543.9 1414.73 1529.8 1415.5 1525.1Z" fill="#fff" stroke="#000" stroke-width="1.3" stroke-linejoin="round"/><line x1="1402.97" y1="1605.47" x2="1428.83" y2="1605.47" stroke="#000" stroke-width="1.5"/><line x1="1404.76" y1="1628.03" x2="1427.04" y2="1628.03" stroke="#000" stroke-width="1.5" stroke-dasharray="2 2.2"/><line x1="1406.4" y1="1578.68" x2="1425.4" y2="1578.68" stroke="#000" stroke-width="1.5" stroke-dasharray="2 2.2"/><circle cx="1415.9" cy="1550.48" r="2.6" fill="#000"/><circle cx="1415.9" cy="1570.22" r="2.6" fill="#000"/><circle cx="1415.9" cy="1575.86" r="2.6" fill="#000"/><circle cx="1415.9" cy="1584.32" r="2.6" fill="#000"/><circle cx="1413.11" cy="1589.96" r="2.6" fill="#000"/><circle cx="1418.7" cy="1592.78" r="2.6" fill="#000"/><circle cx="1413.11" cy="1601.24" r="2.6" fill="#000"/><circle cx="1418.7" cy="1604.06" r="2.6" fill="#000"/><circle cx="1415.9" cy="1615.34" r="2.6" fill="#000"/><circle cx="1413.11" cy="1623.8" r="2.6" fill="#000"/><circle cx="1418.7" cy="1626.62" r="2.6" fill="#000"/><circle cx="1415.9" cy="1643.54" r="2.6" fill="#000"/><circle cx="1415.9" cy="1721.09" r="2.6" fill="#000"/><line x1="1200.2" y1="1780.4" x2="1200.2" y2="1496.9" stroke="#000" stroke-width="3"/><line x1="1190.8" y1="1778.9" x2="1201.7" y2="1778.9" stroke="#000" stroke-width="3"/><text x="1187" y="1786.1" font-size="20" font-weight="bold" text-anchor="end">0</text><line x1="1190.8" y1="1722.5" x2="1201.7" y2="1722.5" stroke="#000" stroke-width="3"/><text x="1187" y="1729.7" font-size="20" font-weight="bold" text-anchor="end">20</text><line x1="1190.8" y1="1666.1" x2="1201.7" y2="1666.1" stroke="#000" stroke-width="3"/><text x="1187" y="1673.3" font-size="20" font-weight="bold" text-anchor="end">40</text><line x1="1190.8" y1="1609.7" x2="1201.7" y2="1609.7" stroke="#000" stroke-width="3"/><text x="1187" y="1616.9" font-size="20" font-weight="bold" text-anchor="end">60</text><line x1="1190.8" y1="1553.3" x2="1201.7" y2="1553.3" stroke="#000" stroke-width="3"/><text x="1187" y="1560.5" font-size="20" font-weight="bold" text-anchor="end">80</text><line x1="1190.8" y1="1496.9" x2="1201.7" y2="1496.9" stroke="#000" stroke-width="3"/><text x="1187" y="1504.1" font-size="20" font-weight="bold" text-anchor="end">100</text><line x1="1194.7" y1="1750.7" x2="1200.2" y2="1750.7" stroke="#000" stroke-width="3"/><line x1="1194.7" y1="1694.3" x2="1200.2" y2="1694.3" stroke="#000" stroke-width="3"/><line x1="1194.7" y1="1637.9" x2="1200.2" y2="1637.9" stroke="#000" stroke-width="3"/><line x1="1194.7" y1="1581.5" x2="1200.2" y2="1581.5" stroke="#000" stroke-width="3"/><line x1="1194.7" y1="1525.1" x2="1200.2" y2="1525.1" stroke="#000" stroke-width="3"/><line x1="1198.7" y1="1778.9" x2="1441.5" y2="1778.9" stroke="#000" stroke-width="3"/><line x1="1224.7" y1="1778.9" x2="1224.7" y2="1786.9" stroke="#000" stroke-width="3"/><line x1="1263.1" y1="1778.9" x2="1263.1" y2="1786.9" stroke="#000" stroke-width="3"/><line x1="1301.1" y1="1778.9" x2="1301.1" y2="1786.9" stroke="#000" stroke-width="3"/><line x1="1339.5" y1="1778.9" x2="1339.5" y2="1786.9" stroke="#000" stroke-width="3"/><line x1="1377.7" y1="1778.9" x2="1377.7" y2="1786.9" stroke="#000" stroke-width="3"/><line x1="1415.9" y1="1778.9" x2="1415.9" y2="1786.9" stroke="#000" stroke-width="3"/><text x="1333.4" y="1436.6" font-size="19.4" text-anchor="middle">p=0.0005</text><polyline points="1254.2,1605.8 1254.2,1444.3 1416.8,1444.3 1416.8,1459.1" fill="none" stroke="#000" stroke-width="1.8"/><text x="1372.7" y="1463.5" font-size="19.4" text-anchor="middle">p=0.0002</text><polyline points="1380.4,1721 1380.4,1473.3 1416.8,1473.3 1416.8,1502.8" fill="none" stroke="#000" stroke-width="1.8"/><text x="1298.5" y="1484.2" font-size="19.4" text-anchor="middle">p&lt;0.0001</text><polyline points="1261.8,1605 1261.8,1489.7 1339.5,1489.7 1339.5,1499.5" fill="none" stroke="#000" stroke-width="1.8"/><text x="1318.8" y="1517" font-size="19.4" text-anchor="middle">p=0.0005</text><polyline points="1301.3,1734 1301.3,1523.5 1339.5,1523.5 1339.5,1554" fill="none" stroke="#000" stroke-width="1.8"/><text x="1244.8" y="1802.6" font-size="20" font-weight="bold" text-anchor="middle">HD</text><text x="1317" y="1802.6" font-size="20" font-weight="bold" text-anchor="middle">Omicron</text><text x="1324.2" y="1820" font-size="20" font-weight="bold" text-anchor="middle">BTI</text><text x="1398.7" y="1802.6" font-size="20" font-weight="bold" text-anchor="middle">Delta</text><text x="1396.9" y="1820" font-size="20" font-weight="bold" text-anchor="middle">BTI</text><text transform="translate(1155.5 1628) rotate(-90)" font-size="20.5" font-weight="bold" text-anchor="middle">% CD71<tspan dy="-9" font-size="16">+</tspan><tspan dy="9"> B cells</tspan></text><line x1="1640.2" y1="1545.2" x2="1640.2" y2="1777.6" stroke="#000" stroke-width="1.4" stroke-dasharray="1.8 2.4"/><line x1="1717.3" y1="1545.2" x2="1717.3" y2="1777.6" stroke="#000" stroke-width="1.4" stroke-dasharray="1.8 2.4"/><path d="M1583.5 1757.46C1583.92 1758.16 1585.25 1760.04 1586 1761.69C1586.75 1763.33 1586.5 1765.91 1588 1767.32C1589.5 1768.73 1593.67 1769.2 1595 1770.14C1596.33 1771.08 1596.33 1772.02 1596 1772.96C1595.67 1773.9 1594.33 1774.98 1593 1775.78C1591.67 1776.58 1588.83 1777.43 1588 1777.75L1578 1777.75C1577.17 1777.43 1574.33 1776.58 1573 1775.78C1571.67 1774.98 1570.33 1773.9 1570 1772.96C1569.67 1772.02 1569.67 1771.08 1571 1770.14C1572.33 1769.2 1576.5 1768.73 1578 1767.32C1579.5 1765.91 1579.25 1763.33 1580 1761.69C1580.75 1760.04 1582.08 1758.16 1582.5 1757.46Z" fill="#bcbcbc" stroke="#000" stroke-width="1.3" stroke-linejoin="round"/><line x1="1570.5" y1="1771.55" x2="1595.5" y2="1771.55" stroke="#000" stroke-width="1.5" stroke-dasharray="7 3.5"/><circle cx="1583" cy="1760.28" r="2.6" fill="#000"/><circle cx="1572.06" cy="1768.73" r="2.6" fill="#000"/><circle cx="1576.44" cy="1768.73" r="2.6" fill="#000"/><circle cx="1580.81" cy="1770.14" r="2.6" fill="#000"/><circle cx="1585.19" cy="1772.96" r="2.6" fill="#000"/><circle cx="1589.56" cy="1774.37" r="2.6" fill="#000"/><circle cx="1593.94" cy="1774.37" r="2.6" fill="#000"/><circle cx="1580.2" cy="1775.78" r="2.6" fill="#000"/><circle cx="1585.8" cy="1777.19" r="2.6" fill="#000"/><path d="M1621.2 1694.03C1621.97 1696.38 1624.53 1704.37 1625.8 1708.12C1627.07 1711.88 1627.63 1713.29 1628.8 1716.58C1629.97 1719.87 1631.97 1724.1 1632.8 1727.86C1633.63 1731.62 1634.13 1735.38 1633.8 1739.13C1633.47 1742.89 1631.3 1747.12 1630.8 1750.41C1630.3 1753.7 1631.3 1756.05 1630.8 1758.87C1630.3 1761.69 1629.3 1764.5 1627.8 1767.32C1626.3 1770.14 1622.8 1774.37 1621.8 1775.78L1619.8 1775.78C1618.8 1774.37 1615.3 1770.14 1613.8 1767.32C1612.3 1764.5 1611.3 1761.69 1610.8 1758.87C1610.3 1756.05 1611.3 1753.7 1610.8 1750.41C1610.3 1747.12 1608.13 1742.89 1607.8 1739.13C1607.47 1735.38 1607.97 1731.62 1608.8 1727.86C1609.63 1724.1 1611.63 1719.87 1612.8 1716.58C1613.97 1713.29 1614.53 1711.88 1615.8 1708.12C1617.07 1704.37 1619.63 1696.38 1620.4 1694.03Z" fill="#fff" stroke="#000" stroke-width="1.3" stroke-linejoin="round"/><line x1="1608.17" y1="1740.54" x2="1633.42" y2="1740.54" stroke="#000" stroke-width="1.5"/><line x1="1610.8" y1="1757.46" x2="1630.8" y2="1757.46" stroke="#000" stroke-width="1.5"/><line x1="1608.67" y1="1729.27" x2="1632.92" y2="1729.27" stroke="#000" stroke-width="1.5"/><circle cx="1620.8" cy="1715.17" r="2.6" fill="#000"/><circle cx="1620.8" cy="1722.22" r="2.6" fill="#000"/><circle cx="1615.21" cy="1739.13" r="2.6" fill="#000"/><circle cx="1620.8" cy="1739.13" r="2.6" fill="#000"/><circle cx="1626.39" cy="1740.54" r="2.6" fill="#000"/><circle cx="1620.8" cy="1744.77" r="2.6" fill="#000"/><circle cx="1618" cy="1756.05" r="2.6" fill="#000"/><circle cx="1623.6" cy="1756.05" r="2.6" fill="#000"/><circle cx="1620.8" cy="1763.1" r="2.6" fill="#000"/><path d="M1659.8 1747.59C1660.07 1749 1660.97 1753.23 1661.4 1756.05C1661.83 1758.87 1661.73 1762.16 1662.4 1764.5C1663.07 1766.85 1663.73 1768.73 1665.4 1770.14C1667.07 1771.55 1671.57 1772.02 1672.4 1772.96C1673.23 1773.9 1670.73 1775.31 1670.4 1775.78L1648.4 1775.78C1648.07 1775.31 1645.57 1773.9 1646.4 1772.96C1647.23 1772.02 1651.73 1771.55 1653.4 1770.14C1655.07 1768.73 1655.73 1766.85 1656.4 1764.5C1657.07 1762.16 1656.97 1758.87 1657.4 1756.05C1657.83 1753.23 1658.73 1749 1659 1747.59Z" fill="#bcbcbc" stroke="#000" stroke-width="1.3" stroke-linejoin="round"/><line x1="1646.8" y1="1773.53" x2="1672" y2="1773.53" stroke="#000" stroke-width="1.5" stroke-dasharray="7 3.5"/><circle cx="1659.4" cy="1753.23" r="2.6" fill="#000"/><circle cx="1659.4" cy="1758.87" r="2.6" fill="#000"/><circle cx="1659.4" cy="1765.91" r="2.6" fill="#000"/><circle cx="1648.82" cy="1772.96" r="2.6" fill="#000"/><circle cx="1652.34" cy="1772.96" r="2.6" fill="#000"/><circle cx="1655.87" cy="1772.96" r="2.6" fill="#000"/><circle cx="1659.4" cy="1774.37" r="2.6" fill="#000"/><circle cx="1662.93" cy="1774.37" r="2.6" fill="#000"/><circle cx="1666.46" cy="1775.78" r="2.6" fill="#000"/><circle cx="1669.98" cy="1775.78" r="2.6" fill="#000"/><path d="M1698 1629.19C1698.6 1631.54 1700 1638.12 1701.6 1643.29C1703.2 1648.46 1706.93 1654.56 1707.6 1660.2C1708.27 1665.84 1705.77 1671.48 1705.6 1677.12C1705.43 1682.75 1705.77 1688.86 1706.6 1694.03C1707.43 1699.2 1710.27 1703.43 1710.6 1708.12C1710.93 1712.82 1709.6 1717.52 1708.6 1722.22C1707.6 1726.92 1705.6 1731.62 1704.6 1736.31C1703.6 1741.01 1703.43 1745.71 1702.6 1750.41C1701.77 1755.11 1700.37 1759.81 1699.6 1764.5C1698.83 1769.2 1698.27 1776.25 1698 1778.6L1697.2 1778.6C1696.93 1776.25 1696.37 1769.2 1695.6 1764.5C1694.83 1759.81 1693.43 1755.11 1692.6 1750.41C1691.77 1745.71 1691.6 1741.01 1690.6 1736.31C1689.6 1731.62 1687.6 1726.92 1686.6 1722.22C1685.6 1717.52 1684.27 1712.82 1684.6 1708.12C1684.93 1703.43 1687.77 1699.2 1688.6 1694.03C1689.43 1688.86 1689.77 1682.75 1689.6 1677.12C1689.43 1671.48 1686.93 1665.84 1687.6 1660.2C1688.27 1654.56 1692 1648.46 1693.6 1643.29C1695.2 1638.12 1696.6 1631.54 1697.2 1629.19Z" fill="#fff" stroke="#000" stroke-width="1.3" stroke-linejoin="round"/><line x1="1684.8" y1="1709.53" x2="1710.4" y2="1709.53" stroke="#000" stroke-width="1.5"/><line x1="1687" y1="1723.63" x2="1708.2" y2="1723.63" stroke="#000" stroke-width="1.5"/><line x1="1689.52" y1="1678.53" x2="1705.68" y2="1678.53" stroke="#000" stroke-width="1.5"/><circle cx="1694.8" cy="1663.02" r="2.6" fill="#000"/><circle cx="1700.39" cy="1663.02" r="2.6" fill="#000"/><circle cx="1697.6" cy="1674.3" r="2.6" fill="#000"/><circle cx="1697.6" cy="1691.21" r="2.6" fill="#000"/><circle cx="1697.6" cy="1699.67" r="2.6" fill="#000"/><circle cx="1697.6" cy="1706.72" r="2.6" fill="#000"/><circle cx="1694.8" cy="1710.94" r="2.6" fill="#000"/><circle cx="1700.39" cy="1710.94" r="2.6" fill="#000"/><circle cx="1697.6" cy="1716.58" r="2.6" fill="#000"/><circle cx="1697.6" cy="1725.04" r="2.6" fill="#000"/><circle cx="1697.6" cy="1743.36" r="2.6" fill="#000"/><circle cx="1697.6" cy="1750.41" r="2.6" fill="#000"/><path d="M1736.2 1739.13C1736.97 1741.01 1740.2 1747.12 1740.8 1750.41C1741.4 1753.7 1739.47 1756.52 1739.8 1758.87C1740.13 1761.22 1741.8 1762.63 1742.8 1764.5C1743.8 1766.38 1744.8 1768.5 1745.8 1770.14C1746.8 1771.79 1748.8 1773.2 1748.8 1774.37C1748.8 1775.55 1746.3 1776.72 1745.8 1777.19L1725.8 1777.19C1725.3 1776.72 1722.8 1775.55 1722.8 1774.37C1722.8 1773.2 1724.8 1771.79 1725.8 1770.14C1726.8 1768.5 1727.8 1766.38 1728.8 1764.5C1729.8 1762.63 1731.47 1761.22 1731.8 1758.87C1732.13 1756.52 1730.2 1753.7 1730.8 1750.41C1731.4 1747.12 1734.63 1741.01 1735.4 1739.13Z" fill="#bcbcbc" stroke="#000" stroke-width="1.3" stroke-linejoin="round"/><line x1="1723.8" y1="1772.96" x2="1747.8" y2="1772.96" stroke="#000" stroke-width="1.5" stroke-dasharray="7 3.5"/><circle cx="1733" cy="1750.41" r="2.6" fill="#000"/><circle cx="1738.6" cy="1753.23" r="2.6" fill="#000"/><circle cx="1735.8" cy="1761.69" r="2.6" fill="#000"/><circle cx="1730.21" cy="1767.32" r="2.6" fill="#000"/><circle cx="1735.8" cy="1770.14" r="2.6" fill="#000"/><circle cx="1741.39" cy="1772.96" r="2.6" fill="#000"/><circle cx="1730.21" cy="1774.37" r="2.6" fill="#000"/><circle cx="1735.8" cy="1774.37" r="2.6" fill="#000"/><circle cx="1741.39" cy="1775.78" r="2.6" fill="#000"/><path d="M1774.4 1553.08C1774.67 1560.13 1775.57 1583.62 1776 1595.37C1776.43 1607.11 1776.17 1614.16 1777 1623.55C1777.83 1632.95 1780 1642.35 1781 1651.74C1782 1661.14 1783 1670.54 1783 1679.93C1783 1689.33 1781.33 1701.08 1781 1708.12C1780.67 1715.17 1780.67 1717.52 1781 1722.22C1781.33 1726.92 1782 1730.68 1783 1736.31C1784 1741.95 1786.5 1750.88 1787 1756.05C1787.5 1761.22 1786.83 1764.04 1786 1767.32C1785.17 1770.61 1783 1773.9 1782 1775.78C1781 1777.66 1780.33 1778.13 1780 1778.6L1768 1778.6C1767.67 1778.13 1767 1777.66 1766 1775.78C1765 1773.9 1762.83 1770.61 1762 1767.32C1761.17 1764.04 1760.5 1761.22 1761 1756.05C1761.5 1750.88 1764 1741.95 1765 1736.31C1766 1730.68 1766.67 1726.92 1767 1722.22C1767.33 1717.52 1767.33 1715.17 1767 1708.12C1766.67 1701.08 1765 1689.33 1765 1679.93C1765 1670.54 1766 1661.14 1767 1651.74C1768 1642.35 1770.17 1632.95 1771 1623.55C1771.83 1614.16 1771.57 1607.11 1772 1595.37C1772.43 1583.62 1773.33 1560.13 1773.6 1553.08Z" fill="#fff" stroke="#000" stroke-width="1.3" stroke-linejoin="round"/><line x1="1766.8" y1="1723.63" x2="1781.2" y2="1723.63" stroke="#000" stroke-width="1.5"/><line x1="1761.5" y1="1761.69" x2="1786.5" y2="1761.69" stroke="#000" stroke-width="1.5" stroke-dasharray="2 2.2"/><line x1="1765.4" y1="1674.3" x2="1782.6" y2="1674.3" stroke="#000" stroke-width="1.5" stroke-dasharray="2 2.2"/><circle cx="1774" cy="1613.69" r="2.6" fill="#000"/><circle cx="1774" cy="1653.15" r="2.6" fill="#000"/><circle cx="1771.2" cy="1674.3" r="2.6" fill="#000"/><circle cx="1776.8" cy="1674.3" r="2.6" fill="#000"/><circle cx="1774" cy="1696.85" r="2.6" fill="#000"/><circle cx="1774" cy="1702.49" r="2.6" fill="#000"/><circle cx="1774" cy="1743.36" r="2.6" fill="#000"/><circle cx="1768.41" cy="1760.28" r="2.6" fill="#000"/><circle cx="1774" cy="1761.69" r="2.6" fill="#000"/><circle cx="1779.59" cy="1761.69" r="2.6" fill="#000"/><circle cx="1774" cy="1767.32" r="2.6" fill="#000"/><line x1="1557.9" y1="1780.1" x2="1557.9" y2="1496.7" stroke="#000" stroke-width="3"/><line x1="1548.5" y1="1778.6" x2="1559.4" y2="1778.6" stroke="#000" stroke-width="3"/><text x="1549" y="1785.8" font-size="20" font-weight="bold" text-anchor="end">0</text><line x1="1548.5" y1="1722.22" x2="1559.4" y2="1722.22" stroke="#000" stroke-width="3"/><text x="1549" y="1729.42" font-size="20" font-weight="bold" text-anchor="end">20</text><line x1="1548.5" y1="1665.84" x2="1559.4" y2="1665.84" stroke="#000" stroke-width="3"/><text x="1549" y="1673.04" font-size="20" font-weight="bold" text-anchor="end">40</text><line x1="1548.5" y1="1609.46" x2="1559.4" y2="1609.46" stroke="#000" stroke-width="3"/><text x="1549" y="1616.66" font-size="20" font-weight="bold" text-anchor="end">60</text><line x1="1548.5" y1="1553.08" x2="1559.4" y2="1553.08" stroke="#000" stroke-width="3"/><text x="1549" y="1560.28" font-size="20" font-weight="bold" text-anchor="end">80</text><line x1="1548.5" y1="1496.7" x2="1559.4" y2="1496.7" stroke="#000" stroke-width="3"/><text x="1549" y="1503.9" font-size="20" font-weight="bold" text-anchor="end">100</text><line x1="1552.4" y1="1750.41" x2="1557.9" y2="1750.41" stroke="#000" stroke-width="3"/><line x1="1552.4" y1="1694.03" x2="1557.9" y2="1694.03" stroke="#000" stroke-width="3"/><line x1="1552.4" y1="1637.65" x2="1557.9" y2="1637.65" stroke="#000" stroke-width="3"/><line x1="1552.4" y1="1581.27" x2="1557.9" y2="1581.27" stroke="#000" stroke-width="3"/><line x1="1552.4" y1="1524.89" x2="1557.9" y2="1524.89" stroke="#000" stroke-width="3"/><line x1="1556.4" y1="1778.6" x2="1800" y2="1778.6" stroke="#000" stroke-width="3"/><line x1="1583" y1="1778.6" x2="1583" y2="1786.6" stroke="#000" stroke-width="3"/><line x1="1620.8" y1="1778.6" x2="1620.8" y2="1786.6" stroke="#000" stroke-width="3"/><line x1="1659.4" y1="1778.6" x2="1659.4" y2="1786.6" stroke="#000" stroke-width="3"/><line x1="1697.6" y1="1778.6" x2="1697.6" y2="1786.6" stroke="#000" stroke-width="3"/><line x1="1735.8" y1="1778.6" x2="1735.8" y2="1786.6" stroke="#000" stroke-width="3"/><line x1="1774" y1="1778.6" x2="1774" y2="1786.6" stroke="#000" stroke-width="3"/><text x="1658.3" y="1495.4" font-size="19.4" text-anchor="middle">p=0.003</text><polyline points="1623,1615 1623,1504.1 1696.5,1504.1 1696.5,1513.5" fill="none" stroke="#000" stroke-width="1.8"/><text x="1678" y="1531" font-size="19.4" text-anchor="middle">p=0.003</text><polyline points="1659.4,1737.5 1659.4,1536.4 1698.3,1536.4 1698.3,1620.5" fill="none" stroke="#000" stroke-width="1.8"/><text x="1752.6" y="1493.9" font-size="19.4" text-anchor="middle">p=0.001</text><polyline points="1737.6,1606.3 1737.6,1504.8 1774.4,1504.8 1774.4,1541.9" fill="none" stroke="#000" stroke-width="1.8"/><text x="1603.3" y="1802.6" font-size="20" font-weight="bold" text-anchor="middle">HD</text><text x="1682.3" y="1802.6" font-size="20" font-weight="bold" text-anchor="middle">Omicron</text><text x="1682.4" y="1820" font-size="20" font-weight="bold" text-anchor="middle">BTI</text><text x="1757" y="1802.6" font-size="20" font-weight="bold" text-anchor="middle">Delta</text><text x="1755.4" y="1820" font-size="20" font-weight="bold" text-anchor="middle">BTI</text><text transform="translate(1510 1625.5) rotate(-90)" font-size="20.5" font-weight="bold" text-anchor="middle">% Blimp-1<tspan dy="-9" font-size="16">+</tspan><tspan dy="9"> B cells</tspan></text><rect x="1254" y="1844" width="23.6" height="23.4" fill="#b3b3b3"/><text x="1284" y="1861.8" font-size="22.9">Total B cells</text><rect x="1468" y="1844.7" width="22.4" height="22.2" fill="none" stroke="#000" stroke-width="2"/><text x="1497" y="1861.8" font-size="23.3">Spike binding-B cells</text><text x="11" y="1925" font-size="30">f.</text><rect x="178.4" y="2005.2" width="38.1" height="47.45" fill="#f98444"/><rect x="216" y="2005.2" width="38.1" height="47.45" fill="#fd9e52"/><rect x="253.6" y="2005.2" width="38.1" height="47.45" fill="#fef0b6"/><rect x="291.2" y="2005.2" width="38.1" height="47.45" fill="#eaf6f8"/><rect x="328.8" y="2005.2" width="38.1" height="47.45" fill="#e24d2e"/><rect x="366.4" y="2005.2" width="38.1" height="47.45" fill="#a31f24"/><rect x="404" y="2005.2" width="38.1" height="47.45" fill="#b5241f"/><rect x="441.6" y="2005.2" width="38.1" height="47.45" fill="#b0d3e4"/><rect x="479.2" y="2005.2" width="38.1" height="47.45" fill="#a31f24"/><rect x="178.4" y="2052.15" width="38.1" height="47.45" fill="#fdd892"/><rect x="216" y="2052.15" width="38.1" height="47.45" fill="#d4341a"/><rect x="253.6" y="2052.15" width="38.1" height="47.45" fill="#d4341a"/><rect x="291.2" y="2052.15" width="38.1" height="47.45" fill="#80aad2"/><rect x="328.8" y="2052.15" width="38.1" height="47.45" fill="#a31f24"/><rect x="366.4" y="2052.15" width="38.1" height="47.45" fill="#a31f24"/><rect x="404" y="2052.15" width="38.1" height="47.45" fill="#e24d2e"/><rect x="441.6" y="2052.15" width="38.1" height="47.45" fill="#98c1da"/><rect x="479.2" y="2052.15" width="38.1" height="47.45" fill="#e5522e"/><rect x="178.4" y="2099.1" width="38.1" height="47.45" fill="#f26d3b"/><rect x="216" y="2099.1" width="38.1" height="47.45" fill="#d4341a"/><rect x="253.6" y="2099.1" width="38.1" height="47.45" fill="#f98444"/><rect x="291.2" y="2099.1" width="38.1" height="47.45" fill="#fdc476"/><rect x="328.8" y="2099.1" width="38.1" height="47.45" fill="#a31f24"/><rect x="366.4" y="2099.1" width="38.1" height="47.45" fill="#a31f24"/><rect x="404" y="2099.1" width="38.1" height="47.45" fill="#bc2620"/><rect x="441.6" y="2099.1" width="38.1" height="47.45" fill="#fd9e52"/><rect x="479.2" y="2099.1" width="38.1" height="47.45" fill="#bc2620"/><rect x="178.4" y="2146.05" width="38.1" height="47.45" fill="#40339a"/><rect x="216" y="2146.05" width="38.1" height="47.45" fill="#a31f24"/><rect x="253.6" y="2146.05" width="38.1" height="47.45" fill="#fdd48a"/><rect x="291.2" y="2146.05" width="38.1" height="47.45" fill="#42399c"/><rect x="328.8" y="2146.05" width="38.1" height="47.45" fill="#ce2e1a"/><rect x="366.4" y="2146.05" width="38.1" height="47.45" fill="#a31f24"/><rect x="404" y="2146.05" width="38.1" height="47.45" fill="#b5241f"/><rect x="441.6" y="2146.05" width="38.1" height="47.45" fill="#f0f9f3"/><rect x="479.2" y="2146.05" width="38.1" height="47.45" fill="#fef4c0"/><rect x="178.4" y="2193" width="38.1" height="47.45" fill="#40339a"/><rect x="216" y="2193" width="38.1" height="47.45" fill="#40339a"/><rect x="253.6" y="2193" width="38.1" height="47.45" fill="#aed1e5"/><rect x="291.2" y="2193" width="38.1" height="47.45" fill="#4a61ad"/><rect x="328.8" y="2193" width="38.1" height="47.45" fill="#40339a"/><rect x="366.4" y="2193" width="38.1" height="47.45" fill="#40339a"/><rect x="404" y="2193" width="38.1" height="47.45" fill="#6895c6"/><rect x="441.6" y="2193" width="38.1" height="47.45" fill="#40339a"/><rect x="479.2" y="2193" width="38.1" height="47.45" fill="#80aed2"/><rect x="178.4" y="2239.95" width="38.1" height="47.45" fill="#4a58ac"/><rect x="216" y="2239.95" width="38.1" height="47.45" fill="#88b4d4"/><rect x="253.6" y="2239.95" width="38.1" height="47.45" fill="#fef7cb"/><rect x="291.2" y="2239.95" width="38.1" height="47.45" fill="#f0faf2"/><rect x="328.8" y="2239.95" width="38.1" height="47.45" fill="#aacfe3"/><rect x="366.4" y="2239.95" width="38.1" height="47.45" fill="#b2d4e6"/><rect x="404" y="2239.95" width="38.1" height="47.45" fill="#4a58ac"/><rect x="441.6" y="2239.95" width="38.1" height="47.45" fill="#40339a"/><rect x="479.2" y="2239.95" width="38.1" height="47.45" fill="#a0c6df"/><rect x="178.4" y="2286.9" width="38.1" height="47.45" fill="#5077b9"/><rect x="216" y="2286.9" width="38.1" height="47.45" fill="#5077b9"/><rect x="253.6" y="2286.9" width="38.1" height="47.45" fill="#5077b9"/><rect x="291.2" y="2286.9" width="38.1" height="47.45" fill="#5077b9"/><rect x="328.8" y="2286.9" width="38.1" height="47.45" fill="#5077b9"/><rect x="366.4" y="2286.9" width="38.1" height="47.45" fill="#5077b9"/><rect x="404" y="2286.9" width="38.1" height="47.45" fill="#5077b9"/><rect x="441.6" y="2286.9" width="38.1" height="47.45" fill="#5787bf"/><rect x="479.2" y="2286.9" width="38.1" height="47.45" fill="#5077b9"/><rect x="178.4" y="2333.85" width="38.1" height="47.45" fill="#4a60ad"/><rect x="216" y="2333.85" width="38.1" height="47.45" fill="#4a60ad"/><rect x="253.6" y="2333.85" width="38.1" height="47.45" fill="#4a60ad"/><rect x="291.2" y="2333.85" width="38.1" height="47.45" fill="#dceef6"/><rect x="328.8" y="2333.85" width="38.1" height="47.45" fill="#78a8cf"/><rect x="366.4" y="2333.85" width="38.1" height="47.45" fill="#4f70b5"/><rect x="404" y="2333.85" width="38.1" height="47.45" fill="#4a60ad"/><rect x="441.6" y="2333.85" width="38.1" height="47.45" fill="#4f70b5"/><rect x="479.2" y="2333.85" width="38.1" height="47.45" fill="#4f70b5"/><rect x="178.4" y="2380.8" width="38.1" height="47.45" fill="#fdce80"/><rect x="216" y="2380.8" width="38.1" height="47.45" fill="#fef7d3"/><rect x="253.6" y="2380.8" width="38.1" height="47.45" fill="#d73a20"/><rect x="291.2" y="2380.8" width="38.1" height="47.45" fill="#7aa8cf"/><rect x="328.8" y="2380.8" width="38.1" height="47.45" fill="#c8291a"/><rect x="366.4" y="2380.8" width="38.1" height="47.45" fill="#40339a"/><rect x="404" y="2380.8" width="38.1" height="47.45" fill="#40339a"/><rect x="441.6" y="2380.8" width="38.1" height="47.45" fill="#b0d3e6"/><rect x="479.2" y="2380.8" width="38.1" height="47.45" fill="#40339a"/><rect x="178.4" y="2427.75" width="38.1" height="47.45" fill="#98c0da"/><rect x="216" y="2427.75" width="38.1" height="47.45" fill="#badcec"/><rect x="253.6" y="2427.75" width="38.1" height="47.45" fill="#a31f24"/><rect x="291.2" y="2427.75" width="38.1" height="47.45" fill="#8ab5d5"/><rect x="328.8" y="2427.75" width="38.1" height="47.45" fill="#d6ebf6"/><rect x="366.4" y="2427.75" width="38.1" height="47.45" fill="#40339a"/><rect x="404" y="2427.75" width="38.1" height="47.45" fill="#90bad8"/><rect x="441.6" y="2427.75" width="38.1" height="47.45" fill="#b5241f"/><rect x="479.2" y="2427.75" width="38.1" height="47.45" fill="#e6f3f9"/><rect x="524.2" y="2005.2" width="38.04" height="47.45" fill="#b5241f"/><rect x="561.74" y="2005.2" width="38.04" height="47.45" fill="#3f329a"/><rect x="599.28" y="2005.2" width="38.04" height="47.45" fill="#fef7cc"/><rect x="636.83" y="2005.2" width="38.04" height="47.45" fill="#5782be"/><rect x="674.37" y="2005.2" width="38.04" height="47.45" fill="#3f329a"/><rect x="711.91" y="2005.2" width="38.04" height="47.45" fill="#3f329a"/><rect x="749.45" y="2005.2" width="38.04" height="47.45" fill="#f4fbea"/><rect x="786.99" y="2005.2" width="38.04" height="47.45" fill="#a31f24"/><rect x="824.53" y="2005.2" width="38.04" height="47.45" fill="#d0eaf4"/><rect x="862.08" y="2005.2" width="38.04" height="47.45" fill="#f8fadf"/><rect x="899.62" y="2005.2" width="38.04" height="47.45" fill="#5e8cc2"/><rect x="937.16" y="2005.2" width="38.04" height="47.45" fill="#d6ebf5"/><rect x="524.2" y="2052.15" width="38.04" height="47.45" fill="#a31f24"/><rect x="561.74" y="2052.15" width="38.04" height="47.45" fill="#6792c5"/><rect x="599.28" y="2052.15" width="38.04" height="47.45" fill="#fdd48a"/><rect x="636.83" y="2052.15" width="38.04" height="47.45" fill="#6e9fca"/><rect x="674.37" y="2052.15" width="38.04" height="47.45" fill="#4348a0"/><rect x="711.91" y="2052.15" width="38.04" height="47.45" fill="#5780bd"/><rect x="749.45" y="2052.15" width="38.04" height="47.45" fill="#a31f24"/><rect x="786.99" y="2052.15" width="38.04" height="47.45" fill="#a31f24"/><rect x="824.53" y="2052.15" width="38.04" height="47.45" fill="#e4f3fa"/><rect x="862.08" y="2052.15" width="38.04" height="47.45" fill="#f8fadf"/><rect x="899.62" y="2052.15" width="38.04" height="47.45" fill="#4f74b6"/><rect x="937.16" y="2052.15" width="38.04" height="47.45" fill="#4a5dad"/><rect x="524.2" y="2099.1" width="38.04" height="47.45" fill="#fef3c4"/><rect x="561.74" y="2099.1" width="38.04" height="47.45" fill="#e4f3fa"/><rect x="599.28" y="2099.1" width="38.04" height="47.45" fill="#4a58ac"/><rect x="636.83" y="2099.1" width="38.04" height="47.45" fill="#6792c5"/><rect x="674.37" y="2099.1" width="38.04" height="47.45" fill="#3f329a"/><rect x="711.91" y="2099.1" width="38.04" height="47.45" fill="#3f329a"/><rect x="749.45" y="2099.1" width="38.04" height="47.45" fill="#d6ebf5"/><rect x="786.99" y="2099.1" width="38.04" height="47.45" fill="#feeeae"/><rect x="824.53" y="2099.1" width="38.04" height="47.45" fill="#5780bd"/><rect x="862.08" y="2099.1" width="38.04" height="47.45" fill="#4a58ac"/><rect x="899.62" y="2099.1" width="38.04" height="47.45" fill="#e4f3fa"/><rect x="937.16" y="2099.1" width="38.04" height="47.45" fill="#fdd88e"/><rect x="524.2" y="2146.05" width="38.04" height="47.45" fill="#feeeb0"/><rect x="561.74" y="2146.05" width="38.04" height="47.45" fill="#e4f3fa"/><rect x="599.28" y="2146.05" width="38.04" height="47.45" fill="#80add2"/><rect x="636.83" y="2146.05" width="38.04" height="47.45" fill="#fdc97c"/><rect x="674.37" y="2146.05" width="38.04" height="47.45" fill="#3f329a"/><rect x="711.91" y="2146.05" width="38.04" height="47.45" fill="#3f329a"/><rect x="749.45" y="2146.05" width="38.04" height="47.45" fill="#98c0db"/><rect x="786.99" y="2146.05" width="38.04" height="47.45" fill="#edf8f8"/><rect x="824.53" y="2146.05" width="38.04" height="47.45" fill="#c6e4f1"/><rect x="862.08" y="2146.05" width="38.04" height="47.45" fill="#d6ecf6"/><rect x="899.62" y="2146.05" width="38.04" height="47.45" fill="#a2c8e0"/><rect x="937.16" y="2146.05" width="38.04" height="47.45" fill="#e24d2e"/><rect x="524.2" y="2193" width="38.04" height="47.45" fill="#b8daeb"/><rect x="561.74" y="2193" width="38.04" height="47.45" fill="#fde5a0"/><rect x="599.28" y="2193" width="38.04" height="47.45" fill="#f8fbe2"/><rect x="636.83" y="2193" width="38.04" height="47.45" fill="#fde4a0"/><rect x="674.37" y="2193" width="38.04" height="47.45" fill="#b5241f"/><rect x="711.91" y="2193" width="38.04" height="47.45" fill="#b5241f"/><rect x="749.45" y="2193" width="38.04" height="47.45" fill="#edf8f9"/><rect x="786.99" y="2193" width="38.04" height="47.45" fill="#5077b8"/><rect x="824.53" y="2193" width="38.04" height="47.45" fill="#e5522d"/><rect x="862.08" y="2193" width="38.04" height="47.45" fill="#f8fbe2"/><rect x="899.62" y="2193" width="38.04" height="47.45" fill="#fdb566"/><rect x="937.16" y="2193" width="38.04" height="47.45" fill="#f2faef"/><rect x="524.2" y="2239.95" width="38.04" height="47.45" fill="#fef8d4"/><rect x="561.74" y="2239.95" width="38.04" height="47.45" fill="#fde6a2"/><rect x="599.28" y="2239.95" width="38.04" height="47.45" fill="#a31f24"/><rect x="636.83" y="2239.95" width="38.04" height="47.45" fill="#5e8cc2"/><rect x="674.37" y="2239.95" width="38.04" height="47.45" fill="#a31f24"/><rect x="711.91" y="2239.95" width="38.04" height="47.45" fill="#cd2e1a"/><rect x="749.45" y="2239.95" width="38.04" height="47.45" fill="#fdc77a"/><rect x="786.99" y="2239.95" width="38.04" height="47.45" fill="#fef3b8"/><rect x="824.53" y="2239.95" width="38.04" height="47.45" fill="#fef3b8"/><rect x="862.08" y="2239.95" width="38.04" height="47.45" fill="#e8f5fa"/><rect x="899.62" y="2239.95" width="38.04" height="47.45" fill="#fd9c50"/><rect x="937.16" y="2239.95" width="38.04" height="47.45" fill="#88b4d4"/><rect x="524.2" y="2286.9" width="38.04" height="47.45" fill="#e4f3fa"/><rect x="561.74" y="2286.9" width="38.04" height="47.45" fill="#feefb2"/><rect x="599.28" y="2286.9" width="38.04" height="47.45" fill="#a31f24"/><rect x="636.83" y="2286.9" width="38.04" height="47.45" fill="#f2faf5"/><rect x="674.37" y="2286.9" width="38.04" height="47.45" fill="#c92c1a"/><rect x="711.91" y="2286.9" width="38.04" height="47.45" fill="#d4341a"/><rect x="749.45" y="2286.9" width="38.04" height="47.45" fill="#fdc77a"/><rect x="786.99" y="2286.9" width="38.04" height="47.45" fill="#e4f3fa"/><rect x="824.53" y="2286.9" width="38.04" height="47.45" fill="#fbf9d6"/><rect x="862.08" y="2286.9" width="38.04" height="47.45" fill="#f8fadf"/><rect x="899.62" y="2286.9" width="38.04" height="47.45" fill="#feeeb0"/><rect x="937.16" y="2286.9" width="38.04" height="47.45" fill="#dceef6"/><rect x="524.2" y="2333.85" width="38.04" height="47.45" fill="#dceef6"/><rect x="561.74" y="2333.85" width="38.04" height="47.45" fill="#fde6a2"/><rect x="599.28" y="2333.85" width="38.04" height="47.45" fill="#ef5b30"/><rect x="636.83" y="2333.85" width="38.04" height="47.45" fill="#d8ecf6"/><rect x="674.37" y="2333.85" width="38.04" height="47.45" fill="#d4381d"/><rect x="711.91" y="2333.85" width="38.04" height="47.45" fill="#e24d2e"/><rect x="749.45" y="2333.85" width="38.04" height="47.45" fill="#fde6a2"/><rect x="786.99" y="2333.85" width="38.04" height="47.45" fill="#f2faef"/><rect x="824.53" y="2333.85" width="38.04" height="47.45" fill="#fef9d6"/><rect x="862.08" y="2333.85" width="38.04" height="47.45" fill="#e8f5fa"/><rect x="899.62" y="2333.85" width="38.04" height="47.45" fill="#fde6a2"/><rect x="937.16" y="2333.85" width="38.04" height="47.45" fill="#e4f3fa"/><rect x="524.2" y="2380.8" width="38.04" height="47.45" fill="#e8f5fa"/><rect x="561.74" y="2380.8" width="38.04" height="47.45" fill="#feebaa"/><rect x="599.28" y="2380.8" width="38.04" height="47.45" fill="#fef7cc"/><rect x="636.83" y="2380.8" width="38.04" height="47.45" fill="#3f329a"/><rect x="674.37" y="2380.8" width="38.04" height="47.45" fill="#a31f24"/><rect x="711.91" y="2380.8" width="38.04" height="47.45" fill="#bc2620"/><rect x="749.45" y="2380.8" width="38.04" height="47.45" fill="#fdc77a"/><rect x="786.99" y="2380.8" width="38.04" height="47.45" fill="#3f329a"/><rect x="824.53" y="2380.8" width="38.04" height="47.45" fill="#fdd88e"/><rect x="862.08" y="2380.8" width="38.04" height="47.45" fill="#f26d3b"/><rect x="899.62" y="2380.8" width="38.04" height="47.45" fill="#feebaa"/><rect x="937.16" y="2380.8" width="38.04" height="47.45" fill="#3f329a"/><rect x="524.2" y="2427.75" width="38.04" height="47.45" fill="#4a58ac"/><rect x="561.74" y="2427.75" width="38.04" height="47.45" fill="#fda55a"/><rect x="599.28" y="2427.75" width="38.04" height="47.45" fill="#6b97c7"/><rect x="636.83" y="2427.75" width="38.04" height="47.45" fill="#a31f24"/><rect x="674.37" y="2427.75" width="38.04" height="47.45" fill="#fdbf6f"/><rect x="711.91" y="2427.75" width="38.04" height="47.45" fill="#a31f24"/><rect x="749.45" y="2427.75" width="38.04" height="47.45" fill="#78a8cf"/><rect x="786.99" y="2427.75" width="38.04" height="47.45" fill="#3f329a"/><rect x="824.53" y="2427.75" width="38.04" height="47.45" fill="#f26936"/><rect x="862.08" y="2427.75" width="38.04" height="47.45" fill="#fdd88e"/><rect x="899.62" y="2427.75" width="38.04" height="47.45" fill="#fee7a6"/><rect x="937.16" y="2427.75" width="38.04" height="47.45" fill="#fdd486"/><rect x="982.2" y="2005.2" width="38.02" height="47.45" fill="#4549a2"/><rect x="1019.72" y="2005.2" width="38.02" height="47.45" fill="#3f329a"/><rect x="1057.23" y="2005.2" width="38.02" height="47.45" fill="#a31f24"/><rect x="1094.75" y="2005.2" width="38.02" height="47.45" fill="#5a85bf"/><rect x="1132.27" y="2005.2" width="38.02" height="47.45" fill="#fef7d3"/><rect x="1169.78" y="2005.2" width="38.02" height="47.45" fill="#d6ebf6"/><rect x="1207.3" y="2005.2" width="38.02" height="47.45" fill="#fdd48a"/><rect x="1244.82" y="2005.2" width="38.02" height="47.45" fill="#fdb466"/><rect x="1282.33" y="2005.2" width="38.02" height="47.45" fill="#fdd086"/><rect x="1319.85" y="2005.2" width="38.02" height="47.45" fill="#5a85bf"/><rect x="1357.37" y="2005.2" width="38.02" height="47.45" fill="#6692c5"/><rect x="1394.88" y="2005.2" width="38.02" height="47.45" fill="#9cc0db"/><rect x="982.2" y="2052.15" width="38.02" height="47.45" fill="#3f329a"/><rect x="1019.72" y="2052.15" width="38.02" height="47.45" fill="#3f329a"/><rect x="1057.23" y="2052.15" width="38.02" height="47.45" fill="#a31f24"/><rect x="1094.75" y="2052.15" width="38.02" height="47.45" fill="#3f329a"/><rect x="1132.27" y="2052.15" width="38.02" height="47.45" fill="#e4f3fa"/><rect x="1169.78" y="2052.15" width="38.02" height="47.45" fill="#80abd2"/><rect x="1207.3" y="2052.15" width="38.02" height="47.45" fill="#fdb466"/><rect x="1244.82" y="2052.15" width="38.02" height="47.45" fill="#f8fbe2"/><rect x="1282.33" y="2052.15" width="38.02" height="47.45" fill="#f2faf0"/><rect x="1319.85" y="2052.15" width="38.02" height="47.45" fill="#5e8cc2"/><rect x="1357.37" y="2052.15" width="38.02" height="47.45" fill="#3f329a"/><rect x="1394.88" y="2052.15" width="38.02" height="47.45" fill="#dceef6"/><rect x="982.2" y="2099.1" width="38.02" height="47.45" fill="#3f329a"/><rect x="1019.72" y="2099.1" width="38.02" height="47.45" fill="#3f329a"/><rect x="1057.23" y="2099.1" width="38.02" height="47.45" fill="#d7361a"/><rect x="1094.75" y="2099.1" width="38.02" height="47.45" fill="#3f329a"/><rect x="1132.27" y="2099.1" width="38.02" height="47.45" fill="#e8f5fb"/><rect x="1169.78" y="2099.1" width="38.02" height="47.45" fill="#4a4fa6"/><rect x="1207.3" y="2099.1" width="38.02" height="47.45" fill="#f26d3b"/><rect x="1244.82" y="2099.1" width="38.02" height="47.45" fill="#f4763e"/><rect x="1282.33" y="2099.1" width="38.02" height="47.45" fill="#a31f24"/><rect x="1319.85" y="2099.1" width="38.02" height="47.45" fill="#70a2cb"/><rect x="1357.37" y="2099.1" width="38.02" height="47.45" fill="#b3d4e6"/><rect x="1394.88" y="2099.1" width="38.02" height="47.45" fill="#fdd88e"/><rect x="982.2" y="2146.05" width="38.02" height="47.45" fill="#6e9aca"/><rect x="1019.72" y="2146.05" width="38.02" height="47.45" fill="#3f329a"/><rect x="1057.23" y="2146.05" width="38.02" height="47.45" fill="#a31f24"/><rect x="1094.75" y="2146.05" width="38.02" height="47.45" fill="#4a58ac"/><rect x="1132.27" y="2146.05" width="38.02" height="47.45" fill="#fcf9de"/><rect x="1169.78" y="2146.05" width="38.02" height="47.45" fill="#3f329a"/><rect x="1207.3" y="2146.05" width="38.02" height="47.45" fill="#fdd486"/><rect x="1244.82" y="2146.05" width="38.02" height="47.45" fill="#f26836"/><rect x="1282.33" y="2146.05" width="38.02" height="47.45" fill="#a31f24"/><rect x="1319.85" y="2146.05" width="38.02" height="47.45" fill="#90bad8"/><rect x="1357.37" y="2146.05" width="38.02" height="47.45" fill="#b3d4e6"/><rect x="1394.88" y="2146.05" width="38.02" height="47.45" fill="#a31f24"/><rect x="982.2" y="2193" width="38.02" height="47.45" fill="#d6361a"/><rect x="1019.72" y="2193" width="38.02" height="47.45" fill="#eb5832"/><rect x="1057.23" y="2193" width="38.02" height="47.45" fill="#3f329a"/><rect x="1094.75" y="2193" width="38.02" height="47.45" fill="#ac2220"/><rect x="1132.27" y="2193" width="38.02" height="47.45" fill="#f98444"/><rect x="1169.78" y="2193" width="38.02" height="47.45" fill="#fb9a4e"/><rect x="1207.3" y="2193" width="38.02" height="47.45" fill="#fde6a2"/><rect x="1244.82" y="2193" width="38.02" height="47.45" fill="#fdbf6f"/><rect x="1282.33" y="2193" width="38.02" height="47.45" fill="#fef9dc"/><rect x="1319.85" y="2193" width="38.02" height="47.45" fill="#a31f24"/><rect x="1357.37" y="2193" width="38.02" height="47.45" fill="#a31f24"/><rect x="1394.88" y="2193" width="38.02" height="47.45" fill="#fdd88e"/><rect x="982.2" y="2239.95" width="38.02" height="47.45" fill="#fdd486"/><rect x="1019.72" y="2239.95" width="38.02" height="47.45" fill="#a31f24"/><rect x="1057.23" y="2239.95" width="38.02" height="47.45" fill="#4648a1"/><rect x="1094.75" y="2239.95" width="38.02" height="47.45" fill="#bf261e"/><rect x="1132.27" y="2239.95" width="38.02" height="47.45" fill="#fdbf6f"/><rect x="1169.78" y="2239.95" width="38.02" height="47.45" fill="#cd2e18"/><rect x="1207.3" y="2239.95" width="38.02" height="47.45" fill="#4a52a8"/><rect x="1244.82" y="2239.95" width="38.02" height="47.45" fill="#4648a1"/><rect x="1282.33" y="2239.95" width="38.02" height="47.45" fill="#3f329a"/><rect x="1319.85" y="2239.95" width="38.02" height="47.45" fill="#a31f24"/><rect x="1357.37" y="2239.95" width="38.02" height="47.45" fill="#82aed2"/><rect x="1394.88" y="2239.95" width="38.02" height="47.45" fill="#3f329a"/><rect x="982.2" y="2286.9" width="38.02" height="47.45" fill="#d6361a"/><rect x="1019.72" y="2286.9" width="38.02" height="47.45" fill="#a31f24"/><rect x="1057.23" y="2286.9" width="38.02" height="47.45" fill="#88b4d4"/><rect x="1094.75" y="2286.9" width="38.02" height="47.45" fill="#fdca7e"/><rect x="1132.27" y="2286.9" width="38.02" height="47.45" fill="#fdca7e"/><rect x="1169.78" y="2286.9" width="38.02" height="47.45" fill="#dc4024"/><rect x="1207.3" y="2286.9" width="38.02" height="47.45" fill="#5a85bf"/><rect x="1244.82" y="2286.9" width="38.02" height="47.45" fill="#9cc0db"/><rect x="1282.33" y="2286.9" width="38.02" height="47.45" fill="#5a85bf"/><rect x="1319.85" y="2286.9" width="38.02" height="47.45" fill="#a31f24"/><rect x="1357.37" y="2286.9" width="38.02" height="47.45" fill="#fef7cc"/><rect x="1394.88" y="2286.9" width="38.02" height="47.45" fill="#5a85bf"/><rect x="982.2" y="2333.85" width="38.02" height="47.45" fill="#b5241f"/><rect x="1019.72" y="2333.85" width="38.02" height="47.45" fill="#a31f24"/><rect x="1057.23" y="2333.85" width="38.02" height="47.45" fill="#6b97c7"/><rect x="1094.75" y="2333.85" width="38.02" height="47.45" fill="#ac2220"/><rect x="1132.27" y="2333.85" width="38.02" height="47.45" fill="#fdc777"/><rect x="1169.78" y="2333.85" width="38.02" height="47.45" fill="#a31f24"/><rect x="1207.3" y="2333.85" width="38.02" height="47.45" fill="#4a68b0"/><rect x="1244.82" y="2333.85" width="38.02" height="47.45" fill="#8ab5d5"/><rect x="1282.33" y="2333.85" width="38.02" height="47.45" fill="#4f6eb5"/><rect x="1319.85" y="2333.85" width="38.02" height="47.45" fill="#a31f24"/><rect x="1357.37" y="2333.85" width="38.02" height="47.45" fill="#f4fbf0"/><rect x="1394.88" y="2333.85" width="38.02" height="47.45" fill="#6692c5"/><rect x="982.2" y="2380.8" width="38.02" height="47.45" fill="#c8291a"/><rect x="1019.72" y="2380.8" width="38.02" height="47.45" fill="#fdd086"/><rect x="1057.23" y="2380.8" width="38.02" height="47.45" fill="#d6ebf6"/><rect x="1094.75" y="2380.8" width="38.02" height="47.45" fill="#fdaa5c"/><rect x="1132.27" y="2380.8" width="38.02" height="47.45" fill="#3f329a"/><rect x="1169.78" y="2380.8" width="38.02" height="47.45" fill="#eb5832"/><rect x="1207.3" y="2380.8" width="38.02" height="47.45" fill="#c2e0f0"/><rect x="1244.82" y="2380.8" width="38.02" height="47.45" fill="#f2faef"/><rect x="1282.33" y="2380.8" width="38.02" height="47.45" fill="#f8fbe6"/><rect x="1319.85" y="2380.8" width="38.02" height="47.45" fill="#fdb466"/><rect x="1357.37" y="2380.8" width="38.02" height="47.45" fill="#e24d2e"/><rect x="1394.88" y="2380.8" width="38.02" height="47.45" fill="#b5241f"/><rect x="982.2" y="2427.75" width="38.02" height="47.45" fill="#fef7cc"/><rect x="1019.72" y="2427.75" width="38.02" height="47.45" fill="#3f329a"/><rect x="1057.23" y="2427.75" width="38.02" height="47.45" fill="#3f329a"/><rect x="1094.75" y="2427.75" width="38.02" height="47.45" fill="#fdbf6f"/><rect x="1132.27" y="2427.75" width="38.02" height="47.45" fill="#98c0db"/><rect x="1169.78" y="2427.75" width="38.02" height="47.45" fill="#fef7d6"/><rect x="1207.3" y="2427.75" width="38.02" height="47.45" fill="#fda85a"/><rect x="1244.82" y="2427.75" width="38.02" height="47.45" fill="#f2faef"/><rect x="1282.33" y="2427.75" width="38.02" height="47.45" fill="#fdca7e"/><rect x="1319.85" y="2427.75" width="38.02" height="47.45" fill="#e4f3fa"/><rect x="1357.37" y="2427.75" width="38.02" height="47.45" fill="#e0432a"/><rect x="1394.88" y="2427.75" width="38.02" height="47.45" fill="#a31f24"/><rect x="178.4" y="1944.4" width="338.4" height="25.8" fill="#3779bc"/><rect x="524.2" y="1944.4" width="450.5" height="25.8" fill="#00a537"/><rect x="982.2" y="1944.4" width="450.2" height="25.8" fill="#db2a1c"/><rect x="524.2" y="1974.2" width="75.08" height="25.8" fill="#d8291c"/><rect x="599.28" y="1974.2" width="337.88" height="25.8" fill="#4582bc"/><rect x="937.16" y="1974.2" width="37.54" height="25.8" fill="#52b61a"/><rect x="982.2" y="1974.2" width="150.07" height="25.8" fill="#d8291c"/><rect x="1132.27" y="1974.2" width="112.55" height="25.8" fill="#4582bc"/><rect x="1244.82" y="1974.2" width="187.58" height="25.8" fill="#52b61a"/><text x="1439.3" y="1960.8" font-size="19.5" font-weight="bold">Patient</text><text x="1439.3" y="1990.2" font-size="19.5" font-weight="bold">Time</text><text x="1439.3" y="2032.3" font-size="19.5">IgD</text><text x="1439.3" y="2079.25" font-size="19.5">IgM</text><text x="1439.3" y="2126.2" font-size="19.5">CD21</text><text x="1439.3" y="2173.15" font-size="19.5">CD24</text><text x="1439.3" y="2220.1" font-size="19.5">CD71</text><text x="1439.3" y="2267.05" font-size="19.5">BLIMP1</text><text x="1439.3" y="2314" font-size="19.5">CD38</text><text x="1439.3" y="2360.95" font-size="19.5">IRF4</text><text x="1439.3" y="2407.9" font-size="19.5">CD27</text><text x="1439.3" y="2454.85" font-size="19.5">IgG</text><path d="M178.4 2028.67H171V2075.62H178.4M178.4 2122.57H165.2V2169.53H178.4M171 2052.15H152.5V2146.05H165.2M178.4 2310.38H176.7V2357.32H178.4M178.4 2263.43H172.6V2333.85H176.7M178.4 2216.47H152V2298.64H172.6M178.4 2404.28H145.9V2451.22H178.4M152 2257.56H111.7V2427.75H145.9M152.5 2099.1H71.2V2342.65H111.7" fill="none" stroke="#000" stroke-width="1.9"/><text x="1511.5" y="2035.2" font-size="19.5" font-weight="bold">Frequency</text><text x="1511.5" y="2055.2" font-size="19.5" font-weight="bold">(Scaled %)</text><defs><linearGradient id="hbar" x1="0" y1="0" x2="0" y2="1"><stop offset="0" stop-color="#a31f24"/><stop offset="0.12" stop-color="#d4341a"/><stop offset="0.25" stop-color="#f88d4a"/><stop offset="0.37" stop-color="#fdc272"/><stop offset="0.45" stop-color="#fef0b0"/><stop offset="0.52" stop-color="#f7fbf0"/><stop offset="0.6" stop-color="#d9edf6"/><stop offset="0.72" stop-color="#94bedb"/><stop offset="0.86" stop-color="#5a80bf"/><stop offset="1" stop-color="#3f329a"/></linearGradient></defs><rect x="1545.2" y="2061.2" width="18.8" height="281.8" fill="url(#hbar)"/><text x="1571.2" y="2103.4" font-size="19.5">1</text><text x="1571.2" y="2158.8" font-size="19.5">0.5</text><text x="1571.2" y="2215.4" font-size="19.5">0</text><text x="1571.2" y="2270.7" font-size="19.5">0.5</text><text x="1571.2" y="2326.1" font-size="19.5">1</text><text x="1636.7" y="2074.5" font-size="19.5" font-weight="bold">Patient</text><rect x="1636.3" y="2090.1" width="37.8" height="38.1" fill="#3779bc"/><rect x="1636.3" y="2127.9" width="37.8" height="37.9" fill="#00a537"/><rect x="1636.3" y="2165.5" width="37.8" height="38.1" fill="#db2a1c"/><text x="1678.9" y="2111.8" font-size="19.5">HD</text><text x="1675.3" y="2149.6" font-size="19.5">Omicron BTI</text><text x="1678.9" y="2187.2" font-size="19.5">Delta BTI</text><text x="1636.7" y="2244.3" font-size="19.5" font-weight="bold">Time</text><rect x="1636.3" y="2259.9" width="37.8" height="38.1" fill="#d8291c"/><rect x="1636.3" y="2297.7" width="37.8" height="37.9" fill="#4582bc"/><rect x="1636.3" y="2335.3" width="37.8" height="38.1" fill="#52b61a"/><rect x="1636.8" y="2373.6" width="36.8" height="33.4" fill="#fff" stroke="#777" stroke-width="1"/><text x="1682" y="2281.6" font-size="19.5">Early</text><text x="1682" y="2318.9" font-size="19.5">Acute</text><text x="1682" y="2357.4" font-size="19.5">Late</text><text x="1682" y="2394.8" font-size="19.5">NA</text></svg></body></html>
